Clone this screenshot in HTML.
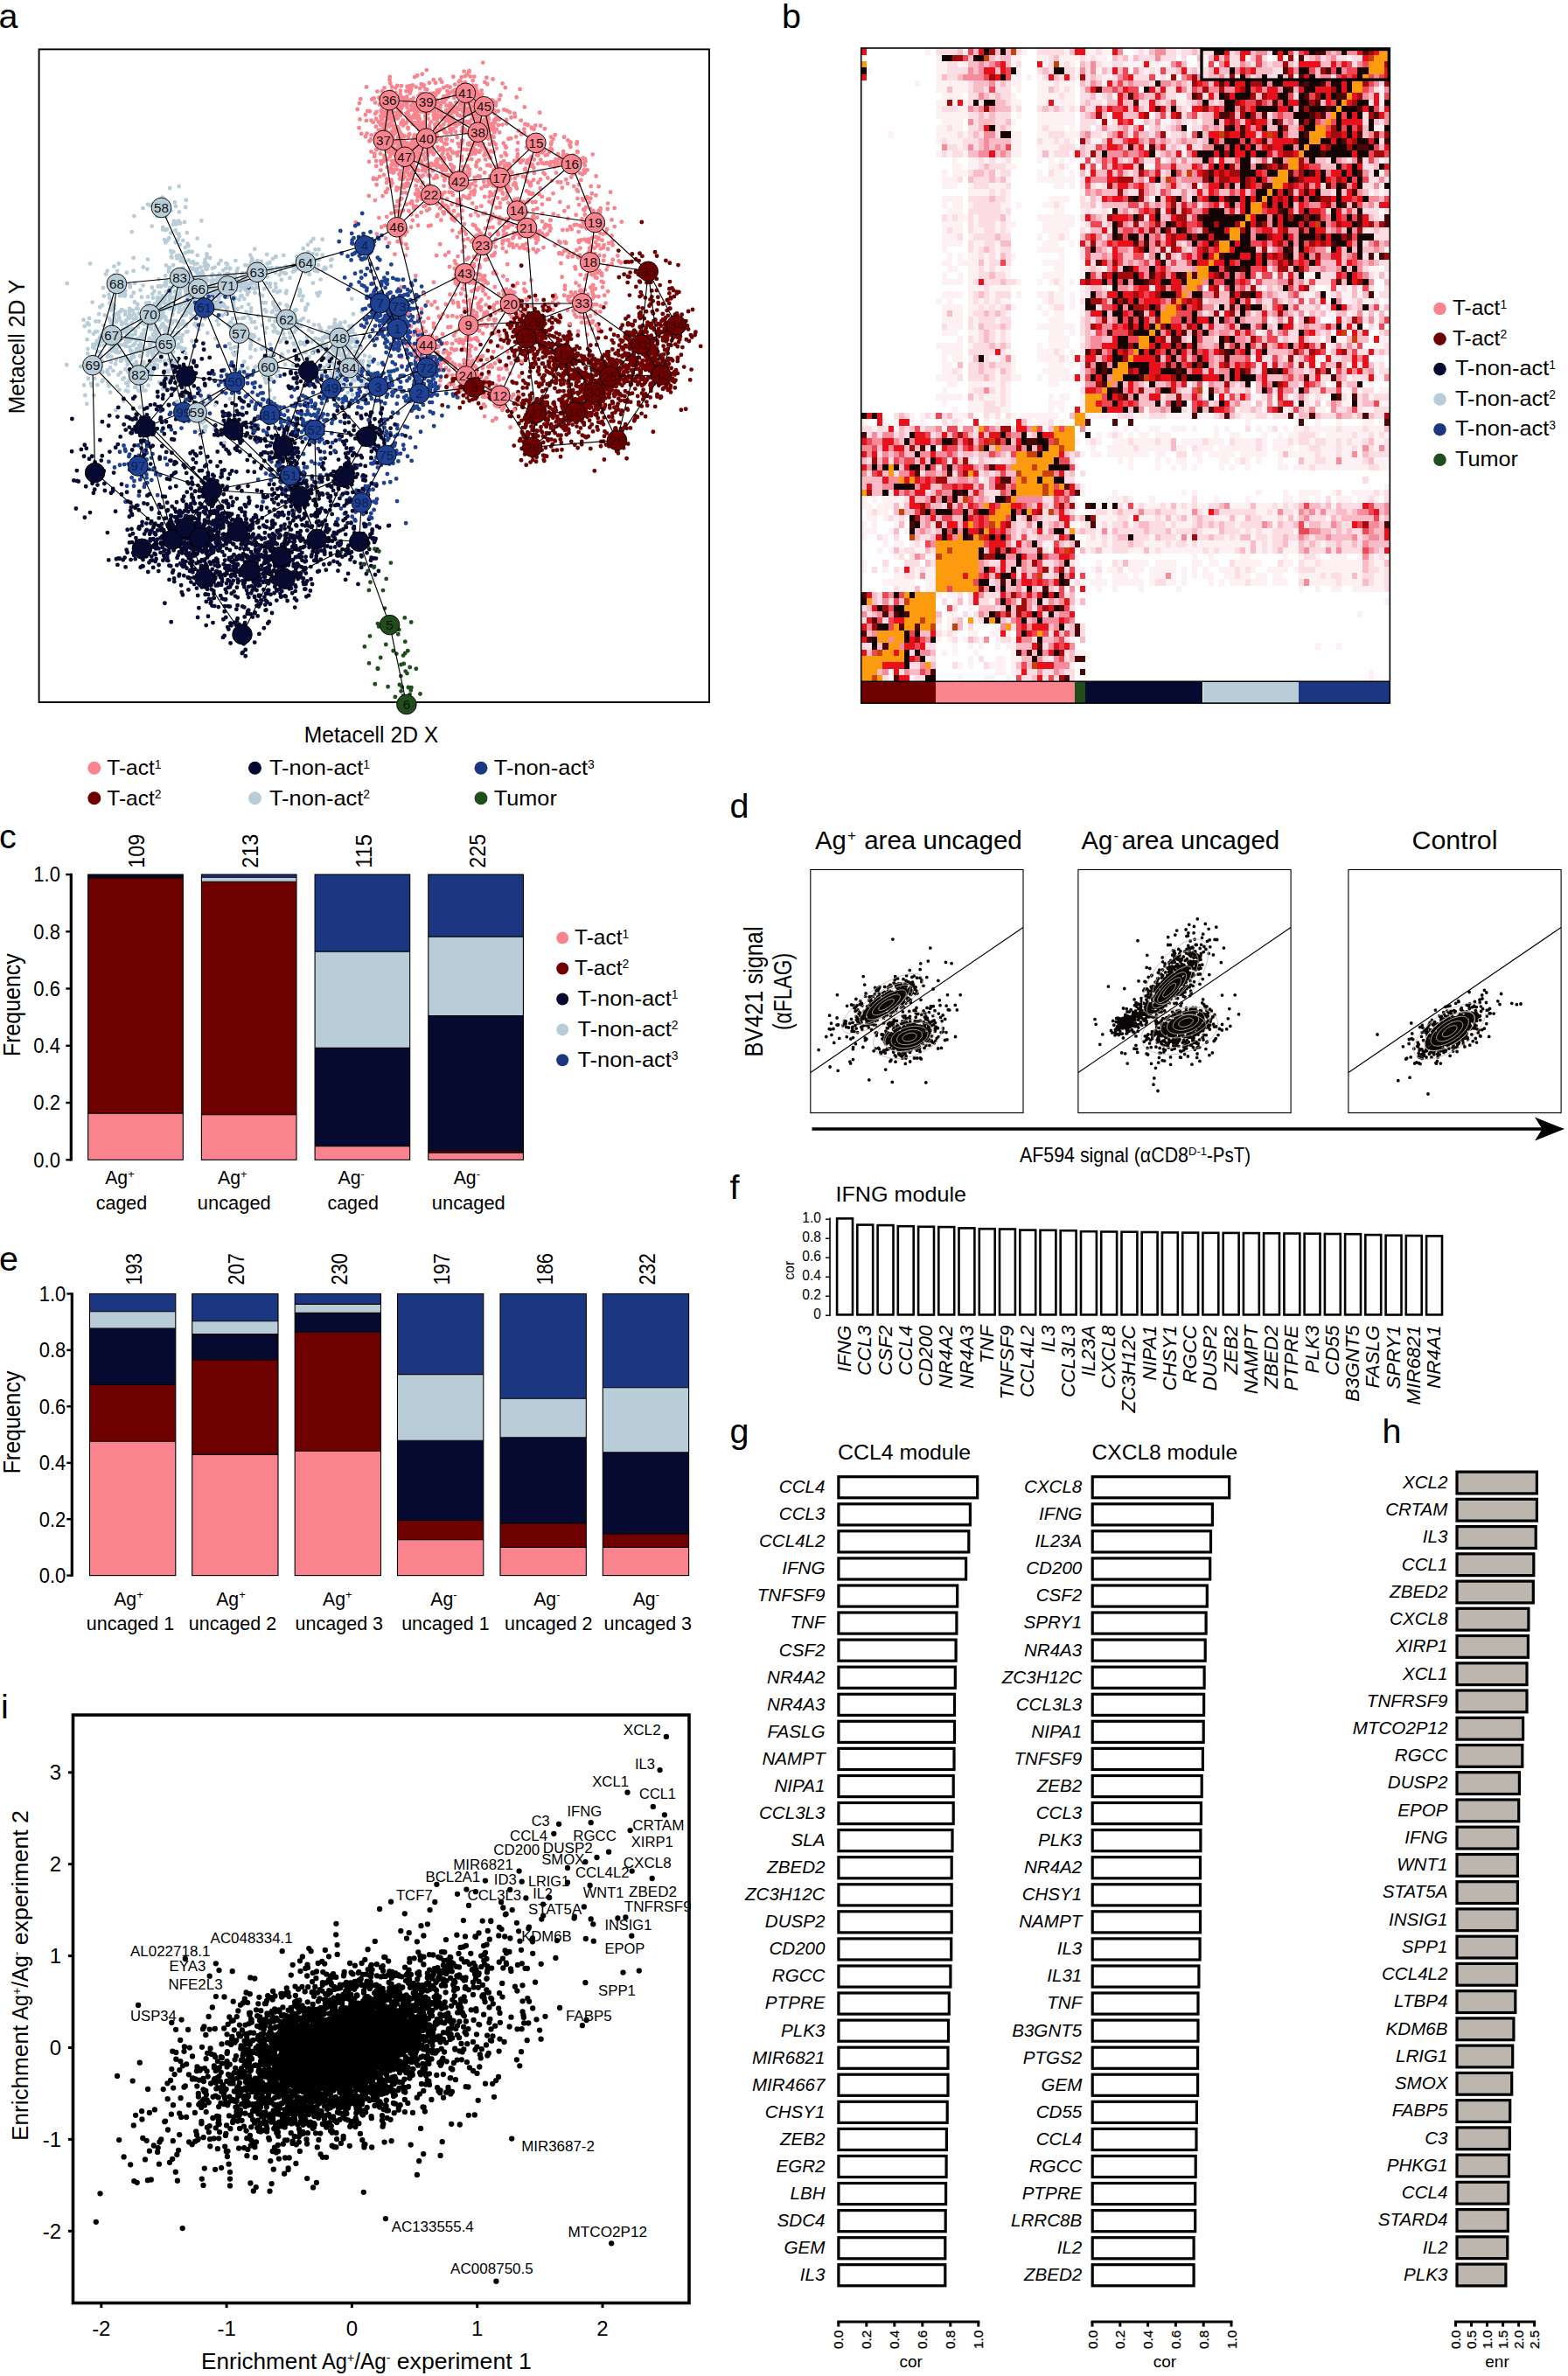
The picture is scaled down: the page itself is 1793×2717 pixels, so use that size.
<!DOCTYPE html>
<html><head><meta charset="utf-8"><title>Figure</title>
<style>html,body{margin:0;padding:0;background:#fff}svg{display:block}text{font-family:"Liberation Sans",sans-serif}</style>
</head><body>
<svg width="1793" height="2717" viewBox="0 0 1793 2717">
<rect width="1793" height="2717" fill="#fff"/>
<rect x="100.7" y="1273.1" width="108.6" height="53.2" fill="#f9848e"/>
<rect x="100.7" y="1003.9" width="108.6" height="269.2" fill="#6f0000"/>
<rect x="100.7" y="1001" width="108.6" height="2.9" fill="#070a30"/>
<rect x="100.7" y="1000" width="108.6" height="1" fill="#1b3781"/>
<g stroke="#000" stroke-width="1.1" fill="none">
<path d="M100.7 1273.1h108.6"/>
<path d="M100.7 1003.9h108.6"/>
<path d="M100.7 1001h108.6"/>
<rect x="100.7" y="1000" width="108.6" height="326.3"/></g>
<text transform="translate(165.4 992.8) rotate(-90)" font-size="26.5" textLength="38.9" lengthAdjust="spacingAndGlyphs">109</text>
<text x="137" y="1354.3" font-size="22" text-anchor="middle"><tspan textLength="26" lengthAdjust="spacingAndGlyphs">Ag</tspan><tspan font-size="13" dy="-7.5">+</tspan></text>
<text x="139" y="1382.8" font-size="22" text-anchor="middle" textLength="58.5" lengthAdjust="spacingAndGlyphs">caged</text>
<rect x="230.4" y="1274.7" width="108.6" height="51.6" fill="#f9848e"/>
<rect x="230.4" y="1008.2" width="108.6" height="266.6" fill="#6f0000"/>
<rect x="230.4" y="1003.3" width="108.6" height="4.9" fill="#b9cdd9"/>
<rect x="230.4" y="1000" width="108.6" height="3.3" fill="#1b3781"/>
<g stroke="#000" stroke-width="1.1" fill="none">
<path d="M230.4 1274.7h108.6"/>
<path d="M230.4 1008.2h108.6"/>
<path d="M230.4 1003.3h108.6"/>
<rect x="230.4" y="1000" width="108.6" height="326.3"/></g>
<text transform="translate(295.1 992.8) rotate(-90)" font-size="26.5" textLength="38.9" lengthAdjust="spacingAndGlyphs">213</text>
<text x="265.8" y="1354.3" font-size="22" text-anchor="middle"><tspan textLength="26" lengthAdjust="spacingAndGlyphs">Ag</tspan><tspan font-size="13" dy="-7.5">+</tspan></text>
<text x="267.8" y="1382.8" font-size="22" text-anchor="middle" textLength="84" lengthAdjust="spacingAndGlyphs">uncaged</text>
<rect x="360.1" y="1310.6" width="108.6" height="15.7" fill="#f9848e"/>
<rect x="360.1" y="1198.4" width="108.6" height="112.2" fill="#070a30"/>
<rect x="360.1" y="1088.1" width="108.6" height="110.3" fill="#b9cdd9"/>
<rect x="360.1" y="1000" width="108.6" height="88.1" fill="#1b3781"/>
<g stroke="#000" stroke-width="1.1" fill="none">
<path d="M360.1 1310.6h108.6"/>
<path d="M360.1 1198.4h108.6"/>
<path d="M360.1 1088.1h108.6"/>
<rect x="360.1" y="1000" width="108.6" height="326.3"/></g>
<text transform="translate(424.8 992.8) rotate(-90)" font-size="26.5" textLength="38.9" lengthAdjust="spacingAndGlyphs">115</text>
<text x="401.7" y="1354.3" font-size="22" text-anchor="middle"><tspan textLength="26" lengthAdjust="spacingAndGlyphs">Ag</tspan><tspan font-size="13" dy="-7.5">-</tspan></text>
<text x="403.7" y="1382.8" font-size="22" text-anchor="middle" textLength="58.5" lengthAdjust="spacingAndGlyphs">caged</text>
<rect x="489.8" y="1318.1" width="108.6" height="8.2" fill="#f9848e"/>
<rect x="489.8" y="1315.9" width="108.6" height="2.3" fill="#6f0000"/>
<rect x="489.8" y="1161.5" width="108.6" height="154.3" fill="#070a30"/>
<rect x="489.8" y="1071.1" width="108.6" height="90.4" fill="#b9cdd9"/>
<rect x="489.8" y="1000" width="108.6" height="71.1" fill="#1b3781"/>
<g stroke="#000" stroke-width="1.1" fill="none">
<path d="M489.8 1318.1h108.6"/>
<path d="M489.8 1315.9h108.6"/>
<path d="M489.8 1161.5h108.6"/>
<path d="M489.8 1071.1h108.6"/>
<rect x="489.8" y="1000" width="108.6" height="326.3"/></g>
<text transform="translate(554.5 992.8) rotate(-90)" font-size="26.5" textLength="38.9" lengthAdjust="spacingAndGlyphs">225</text>
<text x="533.8" y="1354.3" font-size="22" text-anchor="middle"><tspan textLength="26" lengthAdjust="spacingAndGlyphs">Ag</tspan><tspan font-size="13" dy="-7.5">-</tspan></text>
<text x="535.8" y="1382.8" font-size="22" text-anchor="middle" textLength="84" lengthAdjust="spacingAndGlyphs">uncaged</text>
<path d="M81.3 998.8V1327.5" stroke="#000" stroke-width="3.2" fill="none"/>
<path d="M75.3 1326.3h6" stroke="#000" stroke-width="2.4"/>
<text x="68.9" y="1334.6" font-size="23.4" text-anchor="end" textLength="30.6" lengthAdjust="spacingAndGlyphs">0.0</text>
<path d="M75.3 1261h6" stroke="#000" stroke-width="2.4"/>
<text x="68.9" y="1269.3" font-size="23.4" text-anchor="end" textLength="30.6" lengthAdjust="spacingAndGlyphs">0.2</text>
<path d="M75.3 1195.8h6" stroke="#000" stroke-width="2.4"/>
<text x="68.9" y="1204.1" font-size="23.4" text-anchor="end" textLength="30.6" lengthAdjust="spacingAndGlyphs">0.4</text>
<path d="M75.3 1130.5h6" stroke="#000" stroke-width="2.4"/>
<text x="68.9" y="1138.8" font-size="23.4" text-anchor="end" textLength="30.6" lengthAdjust="spacingAndGlyphs">0.6</text>
<path d="M75.3 1065.3h6" stroke="#000" stroke-width="2.4"/>
<text x="68.9" y="1073.6" font-size="23.4" text-anchor="end" textLength="30.6" lengthAdjust="spacingAndGlyphs">0.8</text>
<path d="M75.3 1000h6" stroke="#000" stroke-width="2.4"/>
<text x="68.9" y="1008.3" font-size="23.4" text-anchor="end" textLength="30.6" lengthAdjust="spacingAndGlyphs">1.0</text>
<text transform="translate(22.5 1149.2) rotate(-90)" font-size="28" text-anchor="middle" textLength="117.7" lengthAdjust="spacingAndGlyphs">Frequency</text>
<circle cx="643.2" cy="1072.6" r="7.0" fill="#f9848e"/>
<text x="657" y="1080" font-size="24"><tspan textLength="54.5" lengthAdjust="spacingAndGlyphs">T-act</tspan><tspan font-size="13.9" dy="-7.5">1</tspan></text>
<circle cx="643.2" cy="1107.5" r="7.0" fill="#6f0000"/>
<text x="657" y="1114.9" font-size="24"><tspan textLength="54.5" lengthAdjust="spacingAndGlyphs">T-act</tspan><tspan font-size="13.9" dy="-7.5">2</tspan></text>
<circle cx="643.2" cy="1142.5" r="7.0" fill="#070a30"/>
<text x="660.5" y="1149.9" font-size="24"><tspan textLength="107.3" lengthAdjust="spacingAndGlyphs">T-non-act</tspan><tspan font-size="13.9" dy="-7.5">1</tspan></text>
<circle cx="643.2" cy="1177.4" r="7.0" fill="#b9cdd9"/>
<text x="660.5" y="1184.8" font-size="24"><tspan textLength="107.3" lengthAdjust="spacingAndGlyphs">T-non-act</tspan><tspan font-size="13.9" dy="-7.5">2</tspan></text>
<circle cx="643.2" cy="1212.3" r="7.0" fill="#1b3781"/>
<text x="660.5" y="1219.7" font-size="24"><tspan textLength="107.3" lengthAdjust="spacingAndGlyphs">T-non-act</tspan><tspan font-size="13.9" dy="-7.5">3</tspan></text>
<rect x="102.5" y="1648.3" width="98.3" height="153.3" fill="#f9848e"/>
<rect x="102.5" y="1583.5" width="98.3" height="64.7" fill="#6f0000"/>
<rect x="102.5" y="1519.1" width="98.3" height="64.4" fill="#070a30"/>
<rect x="102.5" y="1499.8" width="98.3" height="19.3" fill="#b9cdd9"/>
<rect x="102.5" y="1479.5" width="98.3" height="20.3" fill="#1b3781"/>
<g stroke="#000" stroke-width="1.1" fill="none">
<path d="M102.5 1648.3h98.3"/>
<path d="M102.5 1583.5h98.3"/>
<path d="M102.5 1519.1h98.3"/>
<path d="M102.5 1499.8h98.3"/>
<rect x="102.5" y="1479.5" width="98.3" height="322.1"/></g>
<text transform="translate(162.1 1469.5) rotate(-90)" font-size="25" textLength="36.4" lengthAdjust="spacingAndGlyphs">193</text>
<text x="147" y="1835.6" font-size="22" text-anchor="middle"><tspan textLength="26" lengthAdjust="spacingAndGlyphs">Ag</tspan><tspan font-size="13" dy="-7.5">+</tspan></text>
<text x="149" y="1864.4" font-size="22" text-anchor="middle" textLength="100.5" lengthAdjust="spacingAndGlyphs">uncaged 1</text>
<rect x="219.7" y="1663.4" width="98.3" height="138.2" fill="#f9848e"/>
<rect x="219.7" y="1554.9" width="98.3" height="108.5" fill="#6f0000"/>
<rect x="219.7" y="1525.6" width="98.3" height="29.3" fill="#070a30"/>
<rect x="219.7" y="1510.7" width="98.3" height="14.8" fill="#b9cdd9"/>
<rect x="219.7" y="1479.5" width="98.3" height="31.2" fill="#1b3781"/>
<g stroke="#000" stroke-width="1.1" fill="none">
<path d="M219.7 1663.4h98.3"/>
<path d="M219.7 1554.9h98.3"/>
<path d="M219.7 1525.6h98.3"/>
<path d="M219.7 1510.7h98.3"/>
<rect x="219.7" y="1479.5" width="98.3" height="322.1"/></g>
<text transform="translate(279.2 1469.5) rotate(-90)" font-size="25" textLength="36.4" lengthAdjust="spacingAndGlyphs">207</text>
<text x="264" y="1835.6" font-size="22" text-anchor="middle"><tspan textLength="26" lengthAdjust="spacingAndGlyphs">Ag</tspan><tspan font-size="13" dy="-7.5">+</tspan></text>
<text x="266" y="1864.4" font-size="22" text-anchor="middle" textLength="100.5" lengthAdjust="spacingAndGlyphs">uncaged 2</text>
<rect x="337.2" y="1659.2" width="98.3" height="142.4" fill="#f9848e"/>
<rect x="337.2" y="1523.3" width="98.3" height="135.9" fill="#6f0000"/>
<rect x="337.2" y="1501.4" width="98.3" height="21.9" fill="#070a30"/>
<rect x="337.2" y="1491.4" width="98.3" height="10" fill="#b9cdd9"/>
<rect x="337.2" y="1479.5" width="98.3" height="11.9" fill="#1b3781"/>
<g stroke="#000" stroke-width="1.1" fill="none">
<path d="M337.2 1659.2h98.3"/>
<path d="M337.2 1523.3h98.3"/>
<path d="M337.2 1501.4h98.3"/>
<path d="M337.2 1491.4h98.3"/>
<rect x="337.2" y="1479.5" width="98.3" height="322.1"/></g>
<text transform="translate(396.7 1469.5) rotate(-90)" font-size="25" textLength="36.4" lengthAdjust="spacingAndGlyphs">230</text>
<text x="385.8" y="1835.6" font-size="22" text-anchor="middle"><tspan textLength="26" lengthAdjust="spacingAndGlyphs">Ag</tspan><tspan font-size="13" dy="-7.5">+</tspan></text>
<text x="387.8" y="1864.4" font-size="22" text-anchor="middle" textLength="100.5" lengthAdjust="spacingAndGlyphs">uncaged 3</text>
<rect x="454.5" y="1760.7" width="98.3" height="40.9" fill="#f9848e"/>
<rect x="454.5" y="1738.5" width="98.3" height="22.2" fill="#6f0000"/>
<rect x="454.5" y="1647.3" width="98.3" height="91.2" fill="#070a30"/>
<rect x="454.5" y="1571.6" width="98.3" height="75.7" fill="#b9cdd9"/>
<rect x="454.5" y="1479.5" width="98.3" height="92.1" fill="#1b3781"/>
<g stroke="#000" stroke-width="1.1" fill="none">
<path d="M454.5 1760.7h98.3"/>
<path d="M454.5 1738.5h98.3"/>
<path d="M454.5 1647.3h98.3"/>
<path d="M454.5 1571.6h98.3"/>
<rect x="454.5" y="1479.5" width="98.3" height="322.1"/></g>
<text transform="translate(514 1469.5) rotate(-90)" font-size="25" textLength="36.4" lengthAdjust="spacingAndGlyphs">197</text>
<text x="507.4" y="1835.6" font-size="22" text-anchor="middle"><tspan textLength="26" lengthAdjust="spacingAndGlyphs">Ag</tspan><tspan font-size="13" dy="-7.5">-</tspan></text>
<text x="509.4" y="1864.4" font-size="22" text-anchor="middle" textLength="100.5" lengthAdjust="spacingAndGlyphs">uncaged 1</text>
<rect x="572" y="1769.4" width="98.3" height="32.2" fill="#f9848e"/>
<rect x="572" y="1742" width="98.3" height="27.4" fill="#6f0000"/>
<rect x="572" y="1643.8" width="98.3" height="98.2" fill="#070a30"/>
<rect x="572" y="1599.3" width="98.3" height="44.4" fill="#b9cdd9"/>
<rect x="572" y="1479.5" width="98.3" height="119.8" fill="#1b3781"/>
<g stroke="#000" stroke-width="1.1" fill="none">
<path d="M572 1769.4h98.3"/>
<path d="M572 1742h98.3"/>
<path d="M572 1643.8h98.3"/>
<path d="M572 1599.3h98.3"/>
<rect x="572" y="1479.5" width="98.3" height="322.1"/></g>
<text transform="translate(631.5 1469.5) rotate(-90)" font-size="25" textLength="36.4" lengthAdjust="spacingAndGlyphs">186</text>
<text x="625.3" y="1835.6" font-size="22" text-anchor="middle"><tspan textLength="26" lengthAdjust="spacingAndGlyphs">Ag</tspan><tspan font-size="13" dy="-7.5">-</tspan></text>
<text x="627.3" y="1864.4" font-size="22" text-anchor="middle" textLength="100.5" lengthAdjust="spacingAndGlyphs">uncaged 2</text>
<rect x="689.3" y="1769.4" width="98.3" height="32.2" fill="#f9848e"/>
<rect x="689.3" y="1753.9" width="98.3" height="15.5" fill="#6f0000"/>
<rect x="689.3" y="1660.8" width="98.3" height="93.1" fill="#070a30"/>
<rect x="689.3" y="1586.8" width="98.3" height="74.1" fill="#b9cdd9"/>
<rect x="689.3" y="1479.5" width="98.3" height="107.3" fill="#1b3781"/>
<g stroke="#000" stroke-width="1.1" fill="none">
<path d="M689.3 1769.4h98.3"/>
<path d="M689.3 1753.9h98.3"/>
<path d="M689.3 1660.8h98.3"/>
<path d="M689.3 1586.8h98.3"/>
<rect x="689.3" y="1479.5" width="98.3" height="322.1"/></g>
<text transform="translate(748.8 1469.5) rotate(-90)" font-size="25" textLength="36.4" lengthAdjust="spacingAndGlyphs">232</text>
<text x="738.8" y="1835.6" font-size="22" text-anchor="middle"><tspan textLength="26" lengthAdjust="spacingAndGlyphs">Ag</tspan><tspan font-size="13" dy="-7.5">-</tspan></text>
<text x="740.8" y="1864.4" font-size="22" text-anchor="middle" textLength="100.5" lengthAdjust="spacingAndGlyphs">uncaged 3</text>
<path d="M82.3 1478.3V1802.8" stroke="#000" stroke-width="3.2" fill="none"/>
<path d="M76.3 1801.6h6" stroke="#000" stroke-width="2.4"/>
<text x="75.3" y="1809.9" font-size="23.4" text-anchor="end" textLength="30.6" lengthAdjust="spacingAndGlyphs">0.0</text>
<path d="M76.3 1737.2h6" stroke="#000" stroke-width="2.4"/>
<text x="75.3" y="1745.5" font-size="23.4" text-anchor="end" textLength="30.6" lengthAdjust="spacingAndGlyphs">0.2</text>
<path d="M76.3 1672.8h6" stroke="#000" stroke-width="2.4"/>
<text x="75.3" y="1681.1" font-size="23.4" text-anchor="end" textLength="30.6" lengthAdjust="spacingAndGlyphs">0.4</text>
<path d="M76.3 1608.3h6" stroke="#000" stroke-width="2.4"/>
<text x="75.3" y="1616.6" font-size="23.4" text-anchor="end" textLength="30.6" lengthAdjust="spacingAndGlyphs">0.6</text>
<path d="M76.3 1543.9h6" stroke="#000" stroke-width="2.4"/>
<text x="75.3" y="1552.2" font-size="23.4" text-anchor="end" textLength="30.6" lengthAdjust="spacingAndGlyphs">0.8</text>
<path d="M76.3 1479.5h6" stroke="#000" stroke-width="2.4"/>
<text x="75.3" y="1487.8" font-size="23.4" text-anchor="end" textLength="30.6" lengthAdjust="spacingAndGlyphs">1.0</text>
<text transform="translate(22.5 1626.5) rotate(-90)" font-size="28" text-anchor="middle" textLength="117.7" lengthAdjust="spacingAndGlyphs">Frequency</text>
<g fill="#fff" stroke="#000" stroke-width="2.6">
<rect x="957.1" y="1393.4" width="17.9" height="110"/>
<rect x="980.3" y="1400.6" width="17.9" height="102.8"/>
<rect x="1003.6" y="1401.1" width="17.9" height="102.3"/>
<rect x="1026.8" y="1402.2" width="17.9" height="101.2"/>
<rect x="1050.1" y="1402.8" width="17.9" height="100.7"/>
<rect x="1073.3" y="1403.1" width="17.9" height="100.3"/>
<rect x="1096.5" y="1404.4" width="17.9" height="99"/>
<rect x="1119.8" y="1405.2" width="17.9" height="98.2"/>
<rect x="1143" y="1405.5" width="17.9" height="97.9"/>
<rect x="1166.3" y="1406.6" width="17.9" height="96.8"/>
<rect x="1189.5" y="1406.8" width="17.9" height="96.6"/>
<rect x="1212.7" y="1407.2" width="17.9" height="96.2"/>
<rect x="1236" y="1408.2" width="17.9" height="95.2"/>
<rect x="1259.2" y="1408.5" width="17.9" height="94.9"/>
<rect x="1282.5" y="1408.7" width="17.9" height="94.7"/>
<rect x="1305.7" y="1409" width="17.9" height="94.4"/>
<rect x="1328.9" y="1409.4" width="17.9" height="94"/>
<rect x="1352.2" y="1409.6" width="17.9" height="93.8"/>
<rect x="1375.4" y="1409.8" width="17.9" height="93.6"/>
<rect x="1398.7" y="1409.9" width="17.9" height="93.5"/>
<rect x="1421.9" y="1410.1" width="17.9" height="93.3"/>
<rect x="1445.1" y="1410.3" width="17.9" height="93.1"/>
<rect x="1468.4" y="1410.5" width="17.9" height="93"/>
<rect x="1491.6" y="1410.7" width="17.9" height="92.7"/>
<rect x="1514.9" y="1411" width="17.9" height="92.4"/>
<rect x="1538.1" y="1411.2" width="17.9" height="92.2"/>
<rect x="1561.3" y="1412.1" width="17.9" height="91.3"/>
<rect x="1584.6" y="1412.7" width="17.9" height="90.8"/>
<rect x="1607.8" y="1413" width="17.9" height="90.4"/>
<rect x="1631.1" y="1413.4" width="17.9" height="90"/>
</g>
<text transform="translate(973.1 1515.5) rotate(-90)" font-size="22.5" text-anchor="end" font-style="italic">IFNG</text>
<text transform="translate(996.3 1515.5) rotate(-90)" font-size="22.5" text-anchor="end" font-style="italic">CCL3</text>
<text transform="translate(1019.5 1515.5) rotate(-90)" font-size="22.5" text-anchor="end" font-style="italic">CSF2</text>
<text transform="translate(1042.8 1515.5) rotate(-90)" font-size="22.5" text-anchor="end" font-style="italic">CCL4</text>
<text transform="translate(1066 1515.5) rotate(-90)" font-size="22.5" text-anchor="end" font-style="italic">CD200</text>
<text transform="translate(1089.2 1515.5) rotate(-90)" font-size="22.5" text-anchor="end" font-style="italic">NR4A2</text>
<text transform="translate(1112.5 1515.5) rotate(-90)" font-size="22.5" text-anchor="end" font-style="italic">NR4A3</text>
<text transform="translate(1135.7 1515.5) rotate(-90)" font-size="22.5" text-anchor="end" font-style="italic">TNF</text>
<text transform="translate(1159 1515.5) rotate(-90)" font-size="22.5" text-anchor="end" font-style="italic">TNFSF9</text>
<text transform="translate(1182.2 1515.5) rotate(-90)" font-size="22.5" text-anchor="end" font-style="italic">CCL4L2</text>
<text transform="translate(1205.5 1515.5) rotate(-90)" font-size="22.5" text-anchor="end" font-style="italic">IL3</text>
<text transform="translate(1228.7 1515.5) rotate(-90)" font-size="22.5" text-anchor="end" font-style="italic">CCL3L3</text>
<text transform="translate(1251.9 1515.5) rotate(-90)" font-size="22.5" text-anchor="end" font-style="italic">IL23A</text>
<text transform="translate(1275.2 1515.5) rotate(-90)" font-size="22.5" text-anchor="end" font-style="italic">CXCL8</text>
<text transform="translate(1298.4 1515.5) rotate(-90)" font-size="22.5" text-anchor="end" font-style="italic">ZC3H12C</text>
<text transform="translate(1321.7 1515.5) rotate(-90)" font-size="22.5" text-anchor="end" font-style="italic">NIPA1</text>
<text transform="translate(1344.9 1515.5) rotate(-90)" font-size="22.5" text-anchor="end" font-style="italic">CHSY1</text>
<text transform="translate(1368.1 1515.5) rotate(-90)" font-size="22.5" text-anchor="end" font-style="italic">RGCC</text>
<text transform="translate(1391.4 1515.5) rotate(-90)" font-size="22.5" text-anchor="end" font-style="italic">DUSP2</text>
<text transform="translate(1414.6 1515.5) rotate(-90)" font-size="22.5" text-anchor="end" font-style="italic">ZEB2</text>
<text transform="translate(1437.9 1515.5) rotate(-90)" font-size="22.5" text-anchor="end" font-style="italic">NAMPT</text>
<text transform="translate(1461.1 1515.5) rotate(-90)" font-size="22.5" text-anchor="end" font-style="italic">ZBED2</text>
<text transform="translate(1484.3 1515.5) rotate(-90)" font-size="22.5" text-anchor="end" font-style="italic">PTPRE</text>
<text transform="translate(1507.6 1515.5) rotate(-90)" font-size="22.5" text-anchor="end" font-style="italic">PLK3</text>
<text transform="translate(1530.8 1515.5) rotate(-90)" font-size="22.5" text-anchor="end" font-style="italic">CD55</text>
<text transform="translate(1554 1515.5) rotate(-90)" font-size="22.5" text-anchor="end" font-style="italic">B3GNT5</text>
<text transform="translate(1577.3 1515.5) rotate(-90)" font-size="22.5" text-anchor="end" font-style="italic">FASLG</text>
<text transform="translate(1600.5 1515.5) rotate(-90)" font-size="22.5" text-anchor="end" font-style="italic">SPRY1</text>
<text transform="translate(1623.8 1515.5) rotate(-90)" font-size="22.5" text-anchor="end" font-style="italic">MIR6821</text>
<text transform="translate(1647 1515.5) rotate(-90)" font-size="22.5" text-anchor="end" font-style="italic">NR4A1</text>
<path d="M949 1392.4V1504.9" stroke="#000" stroke-width="1.6" fill="none"/>
<path d="M944 1504.2h5" stroke="#000" stroke-width="1.4"/>
<text x="939" y="1507.6" font-size="15.6" text-anchor="end">0</text>
<path d="M944 1482.2h5" stroke="#000" stroke-width="1.4"/>
<text x="939" y="1485.6" font-size="15.6" text-anchor="end">0.2</text>
<path d="M944 1460.2h5" stroke="#000" stroke-width="1.4"/>
<text x="939" y="1463.6" font-size="15.6" text-anchor="end">0.4</text>
<path d="M944 1438.2h5" stroke="#000" stroke-width="1.4"/>
<text x="939" y="1441.6" font-size="15.6" text-anchor="end">0.6</text>
<path d="M944 1416.2h5" stroke="#000" stroke-width="1.4"/>
<text x="939" y="1419.6" font-size="15.6" text-anchor="end">0.8</text>
<path d="M944 1394.2h5" stroke="#000" stroke-width="1.4"/>
<text x="939" y="1397.6" font-size="15.6" text-anchor="end">1.0</text>
<text transform="translate(907.5 1452.6) rotate(-90)" font-size="15.6" text-anchor="middle">cor</text>
<text x="955.5" y="1374.3" font-size="24.5" textLength="149.5" lengthAdjust="spacingAndGlyphs">IFNG module</text>
<g fill="#fff" stroke="#000" stroke-width="3.2">
<rect x="958.9" y="1688.7" width="158.8" height="24.1"/>
<rect x="958.9" y="1719.8" width="150.5" height="24.1"/>
<rect x="958.9" y="1750.8" width="148.9" height="24.1"/>
<rect x="958.9" y="1781.9" width="145.7" height="24.1"/>
<rect x="958.9" y="1813" width="135.8" height="24.1"/>
<rect x="958.9" y="1844" width="135" height="24.1"/>
<rect x="958.9" y="1875.1" width="134.2" height="24.1"/>
<rect x="958.9" y="1906.2" width="133.4" height="24.1"/>
<rect x="958.9" y="1937.3" width="132.6" height="24.1"/>
<rect x="958.9" y="1968.3" width="132.6" height="24.1"/>
<rect x="958.9" y="1999.4" width="132.1" height="24.1"/>
<rect x="958.9" y="2030.5" width="131.3" height="24.1"/>
<rect x="958.9" y="2061.5" width="131.3" height="24.1"/>
<rect x="958.9" y="2092.6" width="130.1" height="24.1"/>
<rect x="958.9" y="2123.7" width="129.3" height="24.1"/>
<rect x="958.9" y="2154.8" width="129.3" height="24.1"/>
<rect x="958.9" y="2185.8" width="129.3" height="24.1"/>
<rect x="958.9" y="2216.9" width="128.8" height="24.1"/>
<rect x="958.9" y="2248" width="128" height="24.1"/>
<rect x="958.9" y="2279" width="126.4" height="24.1"/>
<rect x="958.9" y="2310.1" width="125.6" height="24.1"/>
<rect x="958.9" y="2341.2" width="125.1" height="24.1"/>
<rect x="958.9" y="2372.2" width="125.1" height="24.1"/>
<rect x="958.9" y="2403.3" width="124.3" height="24.1"/>
<rect x="958.9" y="2434.4" width="123.5" height="24.1"/>
<rect x="958.9" y="2465.4" width="123.2" height="24.1"/>
<rect x="958.9" y="2496.5" width="122.7" height="24.1"/>
<rect x="958.9" y="2527.6" width="122.3" height="24.1"/>
<rect x="958.9" y="2558.7" width="121.9" height="24.1"/>
<rect x="958.9" y="2589.7" width="121.9" height="24.1"/>
</g>
<text x="943.5" y="1707" font-size="20.6" text-anchor="end" font-style="italic">CCL4</text>
<text x="943.5" y="1738.1" font-size="20.6" text-anchor="end" font-style="italic">CCL3</text>
<text x="943.5" y="1769.2" font-size="20.6" text-anchor="end" font-style="italic">CCL4L2</text>
<text x="943.5" y="1800.3" font-size="20.6" text-anchor="end" font-style="italic">IFNG</text>
<text x="943.5" y="1831.3" font-size="20.6" text-anchor="end" font-style="italic">TNFSF9</text>
<text x="943.5" y="1862.4" font-size="20.6" text-anchor="end" font-style="italic">TNF</text>
<text x="943.5" y="1893.5" font-size="20.6" text-anchor="end" font-style="italic">CSF2</text>
<text x="943.5" y="1924.5" font-size="20.6" text-anchor="end" font-style="italic">NR4A2</text>
<text x="943.5" y="1955.6" font-size="20.6" text-anchor="end" font-style="italic">NR4A3</text>
<text x="943.5" y="1986.7" font-size="20.6" text-anchor="end" font-style="italic">FASLG</text>
<text x="943.5" y="2017.8" font-size="20.6" text-anchor="end" font-style="italic">NAMPT</text>
<text x="943.5" y="2048.8" font-size="20.6" text-anchor="end" font-style="italic">NIPA1</text>
<text x="943.5" y="2079.9" font-size="20.6" text-anchor="end" font-style="italic">CCL3L3</text>
<text x="943.5" y="2111" font-size="20.6" text-anchor="end" font-style="italic">SLA</text>
<text x="943.5" y="2142" font-size="20.6" text-anchor="end" font-style="italic">ZBED2</text>
<text x="943.5" y="2173.1" font-size="20.6" text-anchor="end" font-style="italic">ZC3H12C</text>
<text x="943.5" y="2204.2" font-size="20.6" text-anchor="end" font-style="italic">DUSP2</text>
<text x="943.5" y="2235.2" font-size="20.6" text-anchor="end" font-style="italic">CD200</text>
<text x="943.5" y="2266.3" font-size="20.6" text-anchor="end" font-style="italic">RGCC</text>
<text x="943.5" y="2297.4" font-size="20.6" text-anchor="end" font-style="italic">PTPRE</text>
<text x="943.5" y="2328.5" font-size="20.6" text-anchor="end" font-style="italic">PLK3</text>
<text x="943.5" y="2359.5" font-size="20.6" text-anchor="end" font-style="italic">MIR6821</text>
<text x="943.5" y="2390.6" font-size="20.6" text-anchor="end" font-style="italic">MIR4667</text>
<text x="943.5" y="2421.7" font-size="20.6" text-anchor="end" font-style="italic">CHSY1</text>
<text x="943.5" y="2452.7" font-size="20.6" text-anchor="end" font-style="italic">ZEB2</text>
<text x="943.5" y="2483.8" font-size="20.6" text-anchor="end" font-style="italic">EGR2</text>
<text x="943.5" y="2514.9" font-size="20.6" text-anchor="end" font-style="italic">LBH</text>
<text x="943.5" y="2545.9" font-size="20.6" text-anchor="end" font-style="italic">SDC4</text>
<text x="943.5" y="2577" font-size="20.6" text-anchor="end" font-style="italic">GEM</text>
<text x="943.5" y="2608.1" font-size="20.6" text-anchor="end" font-style="italic">IL3</text>
<g fill="#fff" stroke="#000" stroke-width="3.2">
<rect x="1249.2" y="1688.7" width="156.5" height="24.1"/>
<rect x="1249.2" y="1719.8" width="137.2" height="24.1"/>
<rect x="1249.2" y="1750.8" width="135.3" height="24.1"/>
<rect x="1249.2" y="1781.9" width="134.5" height="24.1"/>
<rect x="1249.2" y="1813" width="131.1" height="24.1"/>
<rect x="1249.2" y="1844" width="129.9" height="24.1"/>
<rect x="1249.2" y="1875.1" width="129" height="24.1"/>
<rect x="1249.2" y="1906.2" width="127.9" height="24.1"/>
<rect x="1249.2" y="1937.3" width="127.4" height="24.1"/>
<rect x="1249.2" y="1968.3" width="127" height="24.1"/>
<rect x="1249.2" y="1999.4" width="126.2" height="24.1"/>
<rect x="1249.2" y="2030.5" width="125" height="24.1"/>
<rect x="1249.2" y="2061.5" width="124.2" height="24.1"/>
<rect x="1249.2" y="2092.6" width="123.7" height="24.1"/>
<rect x="1249.2" y="2123.7" width="123.3" height="24.1"/>
<rect x="1249.2" y="2154.8" width="123.3" height="24.1"/>
<rect x="1249.2" y="2185.8" width="123.3" height="24.1"/>
<rect x="1249.2" y="2216.9" width="122.9" height="24.1"/>
<rect x="1249.2" y="2248" width="121.7" height="24.1"/>
<rect x="1249.2" y="2279" width="120.8" height="24.1"/>
<rect x="1249.2" y="2310.1" width="120.8" height="24.1"/>
<rect x="1249.2" y="2341.2" width="120.4" height="24.1"/>
<rect x="1249.2" y="2372.2" width="120.4" height="24.1"/>
<rect x="1249.2" y="2403.3" width="119.2" height="24.1"/>
<rect x="1249.2" y="2434.4" width="118.8" height="24.1"/>
<rect x="1249.2" y="2465.4" width="118" height="24.1"/>
<rect x="1249.2" y="2496.5" width="117.5" height="24.1"/>
<rect x="1249.2" y="2527.6" width="117.5" height="24.1"/>
<rect x="1249.2" y="2558.7" width="115.9" height="24.1"/>
<rect x="1249.2" y="2589.7" width="115.9" height="24.1"/>
</g>
<text x="1237.3" y="1707" font-size="20.6" text-anchor="end" font-style="italic">CXCL8</text>
<text x="1237.3" y="1738.1" font-size="20.6" text-anchor="end" font-style="italic">IFNG</text>
<text x="1237.3" y="1769.2" font-size="20.6" text-anchor="end" font-style="italic">IL23A</text>
<text x="1237.3" y="1800.3" font-size="20.6" text-anchor="end" font-style="italic">CD200</text>
<text x="1237.3" y="1831.3" font-size="20.6" text-anchor="end" font-style="italic">CSF2</text>
<text x="1237.3" y="1862.4" font-size="20.6" text-anchor="end" font-style="italic">SPRY1</text>
<text x="1237.3" y="1893.5" font-size="20.6" text-anchor="end" font-style="italic">NR4A3</text>
<text x="1237.3" y="1924.5" font-size="20.6" text-anchor="end" font-style="italic">ZC3H12C</text>
<text x="1237.3" y="1955.6" font-size="20.6" text-anchor="end" font-style="italic">CCL3L3</text>
<text x="1237.3" y="1986.7" font-size="20.6" text-anchor="end" font-style="italic">NIPA1</text>
<text x="1237.3" y="2017.8" font-size="20.6" text-anchor="end" font-style="italic">TNFSF9</text>
<text x="1237.3" y="2048.8" font-size="20.6" text-anchor="end" font-style="italic">ZEB2</text>
<text x="1237.3" y="2079.9" font-size="20.6" text-anchor="end" font-style="italic">CCL3</text>
<text x="1237.3" y="2111" font-size="20.6" text-anchor="end" font-style="italic">PLK3</text>
<text x="1237.3" y="2142" font-size="20.6" text-anchor="end" font-style="italic">NR4A2</text>
<text x="1237.3" y="2173.1" font-size="20.6" text-anchor="end" font-style="italic">CHSY1</text>
<text x="1237.3" y="2204.2" font-size="20.6" text-anchor="end" font-style="italic">NAMPT</text>
<text x="1237.3" y="2235.2" font-size="20.6" text-anchor="end" font-style="italic">IL3</text>
<text x="1237.3" y="2266.3" font-size="20.6" text-anchor="end" font-style="italic">IL31</text>
<text x="1237.3" y="2297.4" font-size="20.6" text-anchor="end" font-style="italic">TNF</text>
<text x="1237.3" y="2328.5" font-size="20.6" text-anchor="end" font-style="italic">B3GNT5</text>
<text x="1237.3" y="2359.5" font-size="20.6" text-anchor="end" font-style="italic">PTGS2</text>
<text x="1237.3" y="2390.6" font-size="20.6" text-anchor="end" font-style="italic">GEM</text>
<text x="1237.3" y="2421.7" font-size="20.6" text-anchor="end" font-style="italic">CD55</text>
<text x="1237.3" y="2452.7" font-size="20.6" text-anchor="end" font-style="italic">CCL4</text>
<text x="1237.3" y="2483.8" font-size="20.6" text-anchor="end" font-style="italic">RGCC</text>
<text x="1237.3" y="2514.9" font-size="20.6" text-anchor="end" font-style="italic">PTPRE</text>
<text x="1237.3" y="2545.9" font-size="20.6" text-anchor="end" font-style="italic">LRRC8B</text>
<text x="1237.3" y="2577" font-size="20.6" text-anchor="end" font-style="italic">IL2</text>
<text x="1237.3" y="2608.1" font-size="20.6" text-anchor="end" font-style="italic">ZBED2</text>
<g fill="#bdb6af" stroke="#000" stroke-width="3.2">
<rect x="1666" y="1683.1" width="91.4" height="24.8"/>
<rect x="1666" y="1714.3" width="91.4" height="24.8"/>
<rect x="1666" y="1745.6" width="90.2" height="24.8"/>
<rect x="1666" y="1776.8" width="87.8" height="24.8"/>
<rect x="1666" y="1808.1" width="87.3" height="24.8"/>
<rect x="1666" y="1839.3" width="81.9" height="24.8"/>
<rect x="1666" y="1870.5" width="81.4" height="24.8"/>
<rect x="1666" y="1901.8" width="80" height="24.8"/>
<rect x="1666" y="1933" width="80" height="24.8"/>
<rect x="1666" y="1964.3" width="75.6" height="24.8"/>
<rect x="1666" y="1995.5" width="74.8" height="24.8"/>
<rect x="1666" y="2026.7" width="71.4" height="24.8"/>
<rect x="1666" y="2058" width="70.7" height="24.8"/>
<rect x="1666" y="2089.2" width="69.7" height="24.8"/>
<rect x="1666" y="2120.5" width="69.4" height="24.8"/>
<rect x="1666" y="2151.7" width="69.4" height="24.8"/>
<rect x="1666" y="2182.9" width="69.2" height="24.8"/>
<rect x="1666" y="2214.2" width="68.5" height="24.8"/>
<rect x="1666" y="2245.4" width="68.5" height="24.8"/>
<rect x="1666" y="2276.7" width="66.8" height="24.8"/>
<rect x="1666" y="2307.9" width="64.9" height="24.8"/>
<rect x="1666" y="2339.1" width="63.7" height="24.8"/>
<rect x="1666" y="2370.4" width="62.7" height="24.8"/>
<rect x="1666" y="2401.6" width="60.7" height="24.8"/>
<rect x="1666" y="2432.9" width="60.3" height="24.8"/>
<rect x="1666" y="2464.1" width="59.5" height="24.8"/>
<rect x="1666" y="2495.3" width="58.8" height="24.8"/>
<rect x="1666" y="2526.6" width="58.3" height="24.8"/>
<rect x="1666" y="2557.8" width="57.8" height="24.8"/>
<rect x="1666" y="2589.1" width="55.9" height="24.8"/>
</g>
<text x="1655.5" y="1701.8" font-size="20.6" text-anchor="end" font-style="italic">XCL2</text>
<text x="1655.5" y="1733" font-size="20.6" text-anchor="end" font-style="italic">CRTAM</text>
<text x="1655.5" y="1764.3" font-size="20.6" text-anchor="end" font-style="italic">IL3</text>
<text x="1655.5" y="1795.5" font-size="20.6" text-anchor="end" font-style="italic">CCL1</text>
<text x="1655.5" y="1826.8" font-size="20.6" text-anchor="end" font-style="italic">ZBED2</text>
<text x="1655.5" y="1858" font-size="20.6" text-anchor="end" font-style="italic">CXCL8</text>
<text x="1655.5" y="1889.2" font-size="20.6" text-anchor="end" font-style="italic">XIRP1</text>
<text x="1655.5" y="1920.5" font-size="20.6" text-anchor="end" font-style="italic">XCL1</text>
<text x="1655.5" y="1951.7" font-size="20.6" text-anchor="end" font-style="italic">TNFRSF9</text>
<text x="1655.5" y="1983" font-size="20.6" text-anchor="end" font-style="italic">MTCO2P12</text>
<text x="1655.5" y="2014.2" font-size="20.6" text-anchor="end" font-style="italic">RGCC</text>
<text x="1655.5" y="2045.4" font-size="20.6" text-anchor="end" font-style="italic">DUSP2</text>
<text x="1655.5" y="2076.7" font-size="20.6" text-anchor="end" font-style="italic">EPOP</text>
<text x="1655.5" y="2107.9" font-size="20.6" text-anchor="end" font-style="italic">IFNG</text>
<text x="1655.5" y="2139.2" font-size="20.6" text-anchor="end" font-style="italic">WNT1</text>
<text x="1655.5" y="2170.4" font-size="20.6" text-anchor="end" font-style="italic">STAT5A</text>
<text x="1655.5" y="2201.6" font-size="20.6" text-anchor="end" font-style="italic">INSIG1</text>
<text x="1655.5" y="2232.9" font-size="20.6" text-anchor="end" font-style="italic">SPP1</text>
<text x="1655.5" y="2264.1" font-size="20.6" text-anchor="end" font-style="italic">CCL4L2</text>
<text x="1655.5" y="2295.4" font-size="20.6" text-anchor="end" font-style="italic">LTBP4</text>
<text x="1655.5" y="2326.6" font-size="20.6" text-anchor="end" font-style="italic">KDM6B</text>
<text x="1655.5" y="2357.8" font-size="20.6" text-anchor="end" font-style="italic">LRIG1</text>
<text x="1655.5" y="2389.1" font-size="20.6" text-anchor="end" font-style="italic">SMOX</text>
<text x="1655.5" y="2420.3" font-size="20.6" text-anchor="end" font-style="italic">FABP5</text>
<text x="1655.5" y="2451.6" font-size="20.6" text-anchor="end" font-style="italic">C3</text>
<text x="1655.5" y="2482.8" font-size="20.6" text-anchor="end" font-style="italic">PHKG1</text>
<text x="1655.5" y="2514" font-size="20.6" text-anchor="end" font-style="italic">CCL4</text>
<text x="1655.5" y="2545.3" font-size="20.6" text-anchor="end" font-style="italic">STARD4</text>
<text x="1655.5" y="2576.5" font-size="20.6" text-anchor="end" font-style="italic">IL2</text>
<text x="1655.5" y="2607.8" font-size="20.6" text-anchor="end" font-style="italic">PLK3</text>
<path d="M957.3 2655H1120.3" stroke="#000" stroke-width="3" fill="none"/>
<path d="M958.8 2655v5.6" stroke="#000" stroke-width="3"/>
<text transform="translate(964.3 2664.8) rotate(-90)" font-size="15.3" text-anchor="end" stroke="#000" stroke-width="0.3">0.0</text>
<path d="M990.8 2655v5.6" stroke="#000" stroke-width="3"/>
<text transform="translate(996.3 2664.8) rotate(-90)" font-size="15.3" text-anchor="end" stroke="#000" stroke-width="0.3">0.2</text>
<path d="M1022.8 2655v5.6" stroke="#000" stroke-width="3"/>
<text transform="translate(1028.3 2664.8) rotate(-90)" font-size="15.3" text-anchor="end" stroke="#000" stroke-width="0.3">0.4</text>
<path d="M1054.8 2655v5.6" stroke="#000" stroke-width="3"/>
<text transform="translate(1060.3 2664.8) rotate(-90)" font-size="15.3" text-anchor="end" stroke="#000" stroke-width="0.3">0.6</text>
<path d="M1086.8 2655v5.6" stroke="#000" stroke-width="3"/>
<text transform="translate(1092.3 2664.8) rotate(-90)" font-size="15.3" text-anchor="end" stroke="#000" stroke-width="0.3">0.8</text>
<path d="M1118.8 2655v5.6" stroke="#000" stroke-width="3"/>
<text transform="translate(1124.3 2664.8) rotate(-90)" font-size="15.3" text-anchor="end" stroke="#000" stroke-width="0.3">1.0</text>
<text x="1041.6" y="2707" font-size="19" text-anchor="middle">cor</text>
<path d="M1247.5 2655H1409.5" stroke="#000" stroke-width="3" fill="none"/>
<path d="M1249 2655v5.6" stroke="#000" stroke-width="3"/>
<text transform="translate(1254.5 2664.8) rotate(-90)" font-size="15.3" text-anchor="end" stroke="#000" stroke-width="0.3">0.0</text>
<path d="M1280.8 2655v5.6" stroke="#000" stroke-width="3"/>
<text transform="translate(1286.3 2664.8) rotate(-90)" font-size="15.3" text-anchor="end" stroke="#000" stroke-width="0.3">0.2</text>
<path d="M1312.6 2655v5.6" stroke="#000" stroke-width="3"/>
<text transform="translate(1318.1 2664.8) rotate(-90)" font-size="15.3" text-anchor="end" stroke="#000" stroke-width="0.3">0.4</text>
<path d="M1344.4 2655v5.6" stroke="#000" stroke-width="3"/>
<text transform="translate(1349.9 2664.8) rotate(-90)" font-size="15.3" text-anchor="end" stroke="#000" stroke-width="0.3">0.6</text>
<path d="M1376.2 2655v5.6" stroke="#000" stroke-width="3"/>
<text transform="translate(1381.7 2664.8) rotate(-90)" font-size="15.3" text-anchor="end" stroke="#000" stroke-width="0.3">0.8</text>
<path d="M1408 2655v5.6" stroke="#000" stroke-width="3"/>
<text transform="translate(1413.5 2664.8) rotate(-90)" font-size="15.3" text-anchor="end" stroke="#000" stroke-width="0.3">1.0</text>
<text x="1332" y="2707" font-size="19" text-anchor="middle">cor</text>
<path d="M1663 2655H1756.1" stroke="#000" stroke-width="3" fill="none"/>
<path d="M1664.5 2655v5.6" stroke="#000" stroke-width="3"/>
<text transform="translate(1670 2664.8) rotate(-90)" font-size="15.3" text-anchor="end" stroke="#000" stroke-width="0.3">0.0</text>
<path d="M1682.5 2655v5.6" stroke="#000" stroke-width="3"/>
<text transform="translate(1688 2664.8) rotate(-90)" font-size="15.3" text-anchor="end" stroke="#000" stroke-width="0.3">0.5</text>
<path d="M1700.5 2655v5.6" stroke="#000" stroke-width="3"/>
<text transform="translate(1706 2664.8) rotate(-90)" font-size="15.3" text-anchor="end" stroke="#000" stroke-width="0.3">1.0</text>
<path d="M1718.6 2655v5.6" stroke="#000" stroke-width="3"/>
<text transform="translate(1724.1 2664.8) rotate(-90)" font-size="15.3" text-anchor="end" stroke="#000" stroke-width="0.3">1.5</text>
<path d="M1736.6 2655v5.6" stroke="#000" stroke-width="3"/>
<text transform="translate(1742.1 2664.8) rotate(-90)" font-size="15.3" text-anchor="end" stroke="#000" stroke-width="0.3">2.0</text>
<path d="M1754.6 2655v5.6" stroke="#000" stroke-width="3"/>
<text transform="translate(1760.1 2664.8) rotate(-90)" font-size="15.3" text-anchor="end" stroke="#000" stroke-width="0.3">2.5</text>
<text x="1712" y="2707" font-size="19" text-anchor="middle">enr</text>
<text x="958" y="1668.5" font-size="24.5" textLength="152" lengthAdjust="spacingAndGlyphs">CCL4 module</text>
<text x="1248.6" y="1668.5" font-size="24.5" textLength="166.5" lengthAdjust="spacingAndGlyphs">CXCL8 module</text>
<g stroke-width="4.9" stroke-linecap="round" fill="none">
<path stroke="#b9cdd9" d="M194.2 215.2h0M187.4 240.5h0M203.4 275h0M203.5 273.7h0M188.1 274.1h0M225.6 272.6h0M213.8 266.3h0M197.9 256.8h0M214.5 278.6h0M216.5 287.6h0M200.9 235.9h0M181.5 244.5h0M209.2 274.9h0M190.8 262.2h0M171.3 234.7h0M212.2 237h0M205.8 254.9h0M230.4 252.5h0M173.7 258.6h0M186.2 262.6h0M189.4 277.4h0M204.9 242.4h0M130.3 314.7h0M130.3 323.1h0M137.7 319.1h0M160.5 331.8h0M136.1 327.6h0M117 349.1h0M127.5 349.5h0M182.2 334.8h0M168.5 307.8h0M134.1 309.9h0M153.9 345.5h0M130.5 304.6h0M118 329.2h0M143.1 336.7h0M125.4 340.8h0M157.6 353h0M127.4 354.9h0M129.5 332.3h0M121.1 313.5h0M129.1 330.5h0M129.2 328.6h0M125.9 366.7h0M200.1 333.3h0M193.7 306h0M201.4 340.5h0M193.8 340.5h0M189.4 326.7h0M232.3 313.5h0M183.4 362h0M224.4 323.3h0M209.4 306.7h0M208.6 319.3h0M214.7 322h0M194.9 335.2h0M220.5 307.7h0M180.6 327.5h0M233.6 301h0M227.1 315.2h0M236.7 294h0M259.8 312.9h0M235.8 301.5h0M189.1 315.3h0M188.5 341.6h0M217 327.2h0M189.2 322.7h0M173.9 328.8h0M207.3 310.4h0M185.4 340.2h0M193.4 338.2h0M206 330.6h0M236.5 321.7h0M214.8 330.8h0M213.6 331.9h0M195.4 287h0M234.4 304.6h0M210.8 316h0M240.1 295h0M211.3 345h0M217.2 316.7h0M228.8 346h0M232.3 316.7h0M228.2 332.5h0M234.5 297.3h0M228.8 319.9h0M233.3 318.7h0M219.8 354.6h0M233.8 344.7h0M253.6 319.9h0M222.1 338.9h0M238.2 341.4h0M221.4 334.4h0M242.6 330.7h0M245.6 305.6h0M242.2 324.7h0M225.8 307.1h0M230.1 317.2h0M219.8 336.3h0M245.2 334.7h0M233.5 324h0M228.3 359.5h0M212.2 332.3h0M230.7 316.7h0M216.2 352.7h0M242.8 306.9h0M227 336.9h0M206.9 294.9h0M225.9 313h0M231.4 335.3h0M245.9 349h0M207.3 348h0M232.9 330.4h0M242.4 315.5h0M222.1 317.8h0M196.1 340.7h0M227.3 327.7h0M220 324.3h0M195.6 352.9h0M263.2 330.4h0M225.3 310.9h0M234.6 364.3h0M217.3 339.7h0M258.6 320h0M234.1 326.4h0M246.8 336.2h0M253.6 335.2h0M201.5 341.1h0M281.6 356.9h0M288.9 329.4h0M259.2 334.8h0M251.7 330h0M261.2 312.8h0M280.9 332.1h0M254.5 333.6h0M248.5 332.2h0M230.1 342.9h0M277.7 317.8h0M257.2 334.2h0M255.1 336.6h0M218.9 323h0M293.5 308h0M252.5 318.2h0M283.6 325.6h0M264 317.5h0M276.7 364.1h0M268.8 317.1h0M244 330h0M274.1 322.8h0M252.5 297.9h0M264.1 337.9h0M234.5 342.8h0M280 328.7h0M248.7 345.1h0M242.3 326.1h0M220.3 328.3h0M267 349.5h0M240.1 341h0M228.5 343.9h0M279.3 327.9h0M258.3 323.8h0M213.3 347h0M215.1 341.1h0M256.4 337.6h0M274.8 332.4h0M249.3 352.6h0M265.3 326.1h0M258.3 306.9h0M266.1 364.1h0M263.8 326.3h0M262.5 325.4h0M276.4 323.4h0M308.8 328.1h0M250.9 313.4h0M310.7 306.5h0M302.2 330.2h0M304.4 356.4h0M297.1 320.4h0M294.6 298.4h0M296.6 306.3h0M289 298.3h0M284.4 348.1h0M302.7 354.3h0M281.1 323.6h0M294.1 298.2h0M297.3 309.9h0M295.4 308.3h0M293.9 328.2h0M267.9 321.3h0M255.2 309.3h0M270.6 320h0M308.2 300.8h0M277.4 319.3h0M315.6 329h0M259.2 317.7h0M271.4 320.4h0M308.4 300h0M283.6 303.7h0M288 295.4h0M294.3 328.9h0M284.6 333.6h0M337 309.5h0M309 324.1h0M277.4 317.4h0M262.8 325.1h0M360.3 297h0M351.4 304.4h0M368.8 291.7h0M339.4 293.5h0M342.7 331.4h0M350 300.2h0M317.3 334h0M368.7 273.7h0M315 311.9h0M320.6 306.7h0M354 302.3h0M324.4 291.9h0M358.4 273h0M343.6 305.1h0M349.4 311.6h0M353.8 313.7h0M360 309.5h0M302.5 306.5h0M363.8 338.2h0M316.5 306.1h0M312 295.9h0M355.6 276.2h0M159.4 388.6h0M191.4 375.6h0M154.8 378.3h0M214.8 342.3h0M150.7 375.6h0M135 396.6h0M182.5 354.5h0M168.6 358.7h0M143.8 391.4h0M182.1 327.3h0M157.7 387.3h0M172.2 356.8h0M180.1 361.8h0M166.2 363.3h0M180.2 351.3h0M180.5 362.7h0M185.3 371.4h0M148 358.2h0M168.9 360.4h0M206.7 354.6h0M143.2 387.1h0M188.7 342.4h0M177.1 378.8h0M205.3 350.5h0M183.3 351.6h0M161.4 364.4h0M177.7 372.8h0M178.1 358.5h0M181.4 379.7h0M175.7 358.3h0M163.9 358.1h0M183.3 341.4h0M179.8 345.9h0M175.1 363.1h0M189.6 381.2h0M185.5 338.4h0M176.3 347.8h0M178.8 389.8h0M131.5 399.1h0M176 355.6h0M169.1 339.4h0M184.6 363.7h0M139.4 380.8h0M182.3 365.8h0M197.3 312.4h0M185.9 360.4h0M178.5 375.1h0M173 388.2h0M186.4 342.9h0M170.4 346.4h0M171.7 357.6h0M327.8 332.8h0M310.8 357.1h0M331.1 380.6h0M321.2 389.8h0M332.4 366.1h0M340.1 397.8h0M327.7 367.3h0M320.1 366.1h0M337 355.5h0M325.2 375.2h0M318.1 380.7h0M349.6 351.9h0M308.1 366.2h0M328.1 369.8h0M330.9 364.6h0M338.3 377.3h0M344.3 372.7h0M312.8 379h0M327 335.3h0M315.7 379.3h0M323.4 377.2h0M324 368.4h0M129.1 387.6h0M107.8 396.4h0M144.2 366.5h0M151.3 383.1h0M132.8 387.9h0M114.8 389.6h0M109.5 367.5h0M131.7 384.3h0M96.8 373h0M133.6 401h0M140.4 379.3h0M132.9 358.8h0M155.6 388.2h0M138 386.4h0M182.6 393.2h0M128.1 382h0M136.5 364h0M130.6 363.3h0M126.2 384.3h0M143.2 378.1h0M132.9 368.1h0M100.2 369.4h0M122.5 384.5h0M127.8 396.6h0M137.1 389h0M110.9 389.9h0M134.3 386h0M163.9 383h0M112.6 390h0M130.5 380.4h0M138.1 356.2h0M164.2 414h0M130.5 349.4h0M138.7 379.4h0M148.4 397.2h0M126.2 399.9h0M127.3 369.4h0M160.1 368.9h0M115.9 383.1h0M124.7 363.9h0M141.4 378.7h0M279.2 363.3h0M263.2 374h0M287.3 394.5h0M267.4 351.6h0M270.9 386.4h0M271.8 396.5h0M268.3 387.4h0M273.1 379.5h0M286.6 364.4h0M275 382.2h0M268.7 355h0M286.9 382.4h0M275.3 371.6h0M266.1 379.9h0M284.6 382.8h0M262.1 393h0M263.7 368.3h0M272.8 372.5h0M270.4 380.2h0M211.7 356.4h0M206 371.6h0M194.1 375.4h0M219.6 390.1h0M169.2 373.5h0M183.4 385.3h0M171.5 392.4h0M193.7 383.7h0M229.6 354.2h0M193.4 411.8h0M198.2 402.4h0M196.2 396h0M162.2 365.3h0M193.3 376.9h0M204.1 394h0M187.2 372.4h0M171 386.7h0M198.1 394.6h0M202.6 386.6h0M236.3 354.3h0M192.8 403.4h0M204.2 380.7h0M191.5 378.9h0M164 400.4h0M195.5 390.8h0M172.2 401.1h0M179.8 411.7h0M171.3 370h0M228.8 361.7h0M202.8 380.4h0M201 384.5h0M160 386.7h0M184.9 389.1h0M212.7 360.1h0M164.1 383.3h0M178 401h0M169.2 402.3h0M181.3 390.9h0M181.3 390.6h0M174.3 401.7h0M188.6 392.4h0M186.1 444.6h0M176.6 415.7h0M172.6 394.7h0M182.4 404h0M197.4 359.5h0M177.4 386.4h0M164 385.8h0M195.3 392h0M190.9 404.1h0M184.3 373.8h0M398.2 381.3h0M384.3 390.5h0M363.9 402.4h0M356.5 391h0M384.4 375.8h0M405.7 410.4h0M389.8 376.5h0M387.3 371.6h0M382.5 381.8h0M384.5 372.9h0M382.7 369.7h0M383.1 386.9h0M403.5 389.8h0M391.7 375.6h0M399.9 403.7h0M380.7 396.6h0M370.5 398.6h0M399.8 396.4h0M373.9 397.7h0M370.8 420.1h0M369.2 386.1h0M389.6 388.9h0M397.8 394.8h0M336.6 379.7h0M403.3 377.2h0M392.8 378h0M375.7 409.9h0M387.3 377.2h0M392.7 380.1h0M356.2 414.3h0M379.6 398.6h0M397.4 383.6h0M399.8 386.5h0M391.2 382.3h0M393.6 408.1h0M373.1 394.5h0M395 380.7h0M401.6 391.4h0M375.2 402.9h0M400 398.4h0M382.1 399.9h0M114.1 395h0M140.3 433.6h0M106.4 419.6h0M99.3 461.7h0M123.3 437.5h0M127.5 401.3h0M126.1 448.7h0M104 438.7h0M124.5 428.3h0M111.1 393.8h0M108.1 432.7h0M117.6 434.5h0M110.2 417.8h0M124.5 441.4h0M129.4 423.9h0M115.4 412.4h0M97.3 452h0M146.5 425.4h0M107.4 452.1h0M179.1 411.3h0M168.2 433.1h0M146.3 447.5h0M171.9 426h0M208.7 423.4h0M152.2 394.8h0M160.1 437.3h0M149.8 430.7h0M127 414h0M134 441.6h0M148.8 435h0M173.4 429.3h0M163.3 415.2h0M164.2 431h0M132.3 469h0M145.5 409.8h0M189.2 443.5h0M155.6 442.9h0M143.2 422.2h0M158.4 435.3h0M127.2 399.1h0M170.9 424.9h0M168.7 406.3h0M155.9 438.7h0M166.6 446.6h0M179.8 417.8h0M197.8 448.9h0M141.8 432.2h0M156.6 435.4h0M174.8 419.3h0M144.2 438.1h0M132.9 411.7h0M192.1 433.7h0M164.4 435.6h0M132.1 416.2h0M148.8 430.5h0M160 431.9h0M164.1 446.4h0M293 418.9h0M313.8 455.1h0M302.4 408.4h0M283.2 421h0M319.9 390.9h0M332.4 385.9h0M288.3 387.5h0M291.5 420h0M342.2 404.3h0M295.1 361.1h0M310.9 414.7h0M300.8 396.8h0M303.1 433.5h0M302 413.3h0M300.7 416h0M286.2 398.6h0M279.1 424.8h0M322.5 405h0M301.9 411.8h0M287 356.3h0M335.1 417.5h0M316.7 419.3h0M393.8 430.8h0M414.8 436.8h0M402.9 431.3h0M414.3 420h0M360.8 387h0M385.7 428.9h0M401.8 410.6h0M400.6 418.9h0M412 442.6h0M417 406.6h0M388.2 423.6h0M336.8 368.9h0M401.4 424.6h0M399.5 417.9h0M399.6 403.1h0M404.6 421.4h0M373.7 409.8h0M414.4 440.2h0M393.3 431.4h0M360.3 401.4h0M403.8 429.5h0M380.7 430.6h0M397.7 449.1h0M410.1 413.4h0M443.5 435h0M392.5 429.1h0M411.1 423.1h0M403.4 410.8h0M391.2 431.8h0M414.1 416.6h0M408.3 416.6h0M407.6 402.1h0M396.6 408.7h0M401.8 438.2h0M390.2 439.7h0M400.3 417.7h0M394.8 421.7h0M379.8 427.6h0M383.2 421h0M401.8 398.1h0M379.2 414.8h0M245.1 490.5h0M231.4 457h0M262.9 456.3h0M233.7 481.3h0M249.3 494.3h0M233.6 477h0M230.3 492.8h0M235.7 487.6h0M201.6 464.3h0"/>
<path stroke="#f9848e" d="M451 120.8h0M478.5 122.6h0M465.5 118h0M447.8 134.6h0M437.5 120.9h0M452.7 118.8h0M430 135.8h0M433.5 139.6h0M444.3 119.8h0M464.1 141h0M461.8 115.3h0M468.5 98.3h0M449.4 123h0M467.1 164.8h0M474.1 88.1h0M453.9 128.9h0M435.9 127.2h0M441.5 118.2h0M429.2 117.4h0M478.3 132.3h0M465.3 110.5h0M417.9 131.2h0M442.9 133.5h0M450.7 118.6h0M459.9 139.8h0M460.3 120.9h0M445.8 87.9h0M455.6 123.2h0M437.6 129.4h0M474.1 154.7h0M482.8 84.7h0M449.9 128.2h0M466.4 127.9h0M458.9 98.3h0M442.8 114.9h0M444.1 133.8h0M465.3 132.4h0M420.3 126.9h0M438.5 116.2h0M450.2 110.6h0M452.4 106h0M449.4 122.7h0M447.2 118.1h0M442.9 112.6h0M454.5 122.3h0M435.6 143h0M489.4 129.8h0M451.5 133.3h0M436.7 135.2h0M455.1 116.6h0M463.4 112.3h0M465.5 118.3h0M441.3 115.4h0M457.6 118.7h0M433.4 111.7h0M430.5 127.9h0M473.4 142.2h0M472.7 112.2h0M465.7 134h0M495.8 131.7h0M467 103.4h0M502.8 102.7h0M475.7 99.6h0M499.3 114.3h0M496.7 106.8h0M480.8 119.8h0M465.4 120.4h0M483.4 120.8h0M477 135.1h0M480.8 146.1h0M484.6 124.7h0M496.3 129.9h0M495.2 106.6h0M450 171.1h0M473.3 117.6h0M449.2 109.4h0M482.8 119.1h0M470.9 123.4h0M490.4 111.3h0M485 147.2h0M517.3 126.7h0M480.8 107.2h0M517.2 121.4h0M503.8 116.9h0M457.7 107.9h0M515.5 126.8h0M507.2 100.2h0M495.8 123.3h0M503.5 117.1h0M488.2 130.1h0M503.3 90.7h0M482.5 107.3h0M473.4 131.4h0M475.1 122.6h0M488.7 125.6h0M486.5 133h0M505.7 129.5h0M554.4 93.9h0M512.3 132.2h0M514.1 131.7h0M487.8 123.3h0M501.4 105.6h0M497.2 108.7h0M509.4 111.3h0M464.5 104.2h0M478 118.5h0M459.1 123.3h0M496.4 114.4h0M493 126.2h0M496.6 119.5h0M492.8 139.6h0M477.1 86.5h0M511.2 109.2h0M513.2 134.5h0M504.9 147.6h0M495.9 132.6h0M476.8 127.8h0M474.7 128.2h0M522.5 129.5h0M528.3 103.2h0M542.4 100.4h0M530.6 81.6h0M545 105.8h0M504.6 127.6h0M510.5 120.8h0M545.6 120.5h0M542.8 109.1h0M501.1 104.6h0M525.7 132.1h0M527 132.9h0M511.4 98.4h0M536.8 109.6h0M556.7 135.3h0M563.6 90.5h0M531.6 108.6h0M527.8 88.3h0M547.8 108h0M544.7 109.2h0M535.4 123.8h0M517.9 128.5h0M524.2 109.3h0M519.6 103.1h0M532.3 127.4h0M540.2 100h0M535.4 116.7h0M520.8 104.2h0M510.3 126.1h0M517.8 134.5h0M519.4 111.7h0M506.1 114.2h0M540 111h0M526.7 119.4h0M529.3 113h0M531.8 87.1h0M518.4 104.4h0M527.9 105.4h0M540.7 92.1h0M550.6 114.8h0M550.6 103.4h0M545.9 109.7h0M537 126.3h0M599.7 152.3h0M544.2 156.1h0M522.2 142.8h0M567 120.6h0M551.3 123.7h0M543.6 110.9h0M542.4 126.7h0M524.5 138.8h0M556.9 150h0M544 150.9h0M556.7 142.9h0M550.7 115.9h0M567.2 117h0M582.8 128.2h0M567 135.2h0M574.4 142.6h0M529.8 123.4h0M560.6 124.9h0M550.6 108.8h0M552.4 126.6h0M556.5 150.4h0M572.4 109h0M579 137h0M571 136.5h0M559.9 121.7h0M558.3 126.9h0M565.7 129.8h0M584.5 134.4h0M565.2 137.5h0M549.2 121.5h0M535.2 118.1h0M569.9 143.1h0M562.4 125.5h0M553.5 121.6h0M564.5 156.8h0M539.4 115.9h0M555 141.4h0M594.6 101.9h0M543.1 117.1h0M440.5 132.4h0M442.3 164.4h0M449.2 175.3h0M445.6 141.1h0M440.3 162.8h0M442.1 160.9h0M464.7 210h0M434.9 175.8h0M450 171.7h0M443.5 143.2h0M443.1 157h0M449.9 154.9h0M438.6 146.8h0M443.3 216h0M439.5 178h0M428.3 176h0M442.2 173h0M453 163.4h0M437 155.9h0M443.3 182.4h0M445 174h0M429.8 144.8h0M467.7 153.6h0M448.1 162.4h0M452 151.9h0M463.3 163.7h0M428.3 178.9h0M430.5 170.6h0M456.7 164h0M447.6 188.8h0M439.6 146.7h0M430.6 211.2h0M424.6 137.7h0M434.1 201.9h0M467 168.2h0M457.3 151h0M421.8 224h0M429.7 156.1h0M431.9 160.5h0M473.3 167.1h0M442 209h0M424.4 173.4h0M435.3 184.1h0M449.7 184.1h0M438.6 169.4h0M429.7 162h0M435.6 157h0M419 137.9h0M486.7 196.3h0M473.6 134.6h0M484 157.7h0M480.9 150.8h0M514.9 150.5h0M498.5 186.7h0M486 151.3h0M504.5 158.4h0M512.5 130.8h0M475.1 174.3h0M491.4 146.6h0M529.4 125.2h0M481.5 160h0M495 154.7h0M500.4 168.3h0M508 148.5h0M498.9 161.7h0M492.6 189.2h0M489.2 175.3h0M472.4 162.7h0M499.6 130.8h0M471.6 141.7h0M508.1 164h0M489.7 162.4h0M485.7 180.6h0M476.9 154.7h0M486.8 163.7h0M485.6 151.8h0M500.1 139.7h0M447.4 136.7h0M472.1 171h0M478.4 139.6h0M476.6 158.8h0M507.6 183.3h0M474.2 140.1h0M494.1 168h0M506.4 175.1h0M478.9 148h0M488.6 153.3h0M498.9 200.8h0M479.1 124.4h0M515.9 151.5h0M536.1 150.9h0M454.8 135.4h0M480.4 143.5h0M521.6 144.2h0M514.9 130.1h0M478.7 132.9h0M477.2 144.1h0M446.5 172.7h0M506.9 148.4h0M483.2 153.9h0M476.6 132.9h0M503.5 181.4h0M488.1 152h0M488.6 188.1h0M491.8 116.1h0M483.5 152.9h0M485.3 161.3h0M507.4 171h0M504 191.5h0M485.9 140.1h0M492 152.2h0M482.9 171.1h0M567.8 169.6h0M534 139.2h0M538.7 124.9h0M480.5 156.6h0M536.1 153h0M544.5 156.3h0M542.2 120.4h0M564 143.9h0M510.6 127.9h0M559.9 164.9h0M516.9 173.4h0M506.6 147h0M561.4 145.3h0M541.3 168.6h0M531.4 148.7h0M563.2 162h0M554.4 157.5h0M518.1 174.8h0M553.6 177.5h0M568.7 135.9h0M542.4 142.4h0M558.6 158.5h0M538 171.8h0M532.1 94.3h0M535.4 164.5h0M543.5 175.8h0M542.3 163.4h0M549.4 122.6h0M556.2 171h0M547.9 151.2h0M549.8 140.6h0M558.4 174.2h0M546.7 201.5h0M517.4 120.6h0M529.6 195h0M541 135h0M551.9 165.5h0M539.5 154.3h0M541.9 157.1h0M545.1 152.5h0M561.9 201.6h0M551.1 153.2h0M537.3 149.1h0M557.2 144.4h0M543.1 158.3h0M549.4 171.9h0M563.7 162.9h0M551.2 164.6h0M518.2 147.3h0M552.5 164.7h0M558.6 153.5h0M550.2 147.4h0M540.7 154.5h0M546.6 160.2h0M452 178h0M451.1 193.6h0M472 189.9h0M462.2 188.4h0M487.6 159.1h0M460.6 169.5h0M479.2 174.9h0M441.2 132h0M459.1 177h0M464.3 193.1h0M481.9 184.4h0M471.4 167.6h0M464.4 190.5h0M461 240.6h0M439 200h0M468.9 199.6h0M452 172.5h0M486.5 182.6h0M476.7 174.6h0M460.9 143.6h0M439.5 167.5h0M475.5 179.3h0M464.4 179.1h0M449.2 158.2h0M473.3 190.3h0M466.7 156.3h0M463.6 184.1h0M454.1 177.6h0M445.7 205.8h0M455.3 159h0M464.5 196.8h0M450.2 144h0M460.7 190.3h0M464.6 187.8h0M449.5 158.5h0M450.5 171h0M435.4 194.6h0M470.6 178.7h0M482 187.9h0M441.5 219.9h0M469.8 190.2h0M447.4 205.6h0M488.1 193h0M461.3 181h0M483.2 176.9h0M468.7 180.7h0M467.4 200.5h0M454.4 161.6h0M464.3 166.7h0M465.6 197h0M430.3 190h0M467.2 172.5h0M466.4 172.8h0M593 149.5h0M610.9 198.1h0M620 174.5h0M573.3 185.9h0M588.4 129.6h0M616.2 156.8h0M595 185h0M603.1 161.7h0M644.1 176.8h0M602.1 186.3h0M648.3 177.1h0M610 167.9h0M608.7 188.2h0M638 176.2h0M617.5 156.6h0M603.4 183.3h0M603.3 142.8h0M592.2 163.3h0M629.7 169.6h0M604.8 170.4h0M571.4 200h0M607.8 179.4h0M632.5 158.9h0M615.3 187.1h0M630.1 164.9h0M626 176.9h0M608 157.8h0M627.8 187.5h0M625.1 186h0M650.5 180.4h0M636 197.6h0M644 185.1h0M618.3 182.7h0M665.5 250.5h0M631 206.6h0M636.9 187.1h0M695.1 232.6h0M621.4 197.5h0M616.4 173.8h0M660.5 173.8h0M669 181.9h0M667.7 194.4h0M666.8 180.8h0M632.5 221.2h0M681.6 201.5h0M654.9 184.4h0M653.9 196.4h0M644.4 179.1h0M681.3 223.4h0M654.8 180.3h0M619.9 224.9h0M617.8 215.2h0M629.6 261.3h0M523.7 213.7h0M511.9 176.5h0M543.9 212.6h0M533.9 190.1h0M498.7 160.4h0M496 188.4h0M535.1 200.2h0M540.2 232.4h0M544.4 189h0M508.3 206.4h0M517.9 223.1h0M533.9 210.2h0M534.6 182.2h0M524.2 197.2h0M519.9 252.4h0M516.8 189.7h0M526.8 228.2h0M527.8 197.5h0M525.4 227.7h0M524.2 245.7h0M533 202h0M505.2 179h0M529.7 224.2h0M518.7 203.3h0M505.2 189.9h0M561.4 172.6h0M563.2 209.7h0M505.2 192.7h0M525.5 195.6h0M528.2 160.9h0M554.2 197.4h0M559.6 179.4h0M528.2 262.5h0M510.3 194.7h0M522 206.8h0M530.9 198.6h0M523.7 231.1h0M549.2 193.4h0M527.4 234.6h0M522.9 205.1h0M531.7 209.4h0M536.9 177.4h0M505.3 177.6h0M544.6 190.4h0M577.2 206.6h0M529.9 209.9h0M559.6 188.8h0M532.7 206.9h0M571.3 215.5h0M579.7 202.5h0M591.8 182.5h0M561 204.6h0M601 192.8h0M581.7 193.4h0M553.8 212.6h0M558.6 206.8h0M580.4 207.9h0M591.7 179.2h0M556.8 212.7h0M574 203.2h0M570 208h0M578.7 189h0M559.1 210.1h0M575.2 199.8h0M597.9 201.8h0M571.1 248.8h0M573.6 215.4h0M555.2 182.4h0M563.8 212.2h0M569.8 198.6h0M563.7 223.2h0M590.9 215.5h0M564.6 162.6h0M558.8 211.1h0M602.7 197.3h0M560.8 180.6h0M575.1 193.9h0M581.7 207.6h0M472 198.4h0M494.7 227h0M499.8 203h0M464.8 233.8h0M503.5 220.5h0M487.8 219.3h0M505.9 231.9h0M487.9 213.8h0M499.9 233.6h0M531 256.1h0M471.2 232.5h0M480.4 223.3h0M516.3 245.4h0M507.8 244.4h0M476.6 235.9h0M500.6 245.5h0M499.8 247.3h0M477.2 223.2h0M505.7 235.9h0M490.5 212.5h0M503.1 238.3h0M490.7 220.6h0M473.2 235.9h0M490.7 211.7h0M516.6 233.8h0M487.7 223.8h0M509.8 234.9h0M484.5 235.9h0M516.5 250h0M496.4 203.9h0M520.2 249.5h0M477.6 217.2h0M604.7 228.4h0M577.4 268.6h0M598.4 246.5h0M600.5 250.9h0M578.8 250.6h0M581.2 259.7h0M594.8 248.7h0M629.3 251.9h0M609 231.2h0M609.5 221.3h0M580.3 220.3h0M601.4 241.9h0M591.4 259.6h0M578.7 227h0M571.7 237h0M602.4 242.8h0M579.3 215.6h0M623.8 256.7h0M626.4 227.9h0M606.8 212.3h0M575.7 263.7h0M638.4 246.9h0M605.2 221.4h0M590.3 214h0M602.2 206.9h0M596.3 239.8h0M456.3 242.6h0M436.3 259.8h0M448.5 209.4h0M457.2 259.3h0M455.6 355.3h0M459 241.4h0M470.2 259.7h0M459.4 255.6h0M457.2 215.3h0M473.4 238.6h0M456.9 245.6h0M470.3 245.3h0M451.8 242.8h0M471 230.2h0M406.8 254.2h0M465.7 283.9h0M447.5 243.9h0M428.9 229.1h0M450.1 259.3h0M442.2 247.9h0M458.4 270.6h0M450.1 253.3h0M559.5 230.6h0M594.1 251.8h0M601.7 270h0M592.7 239.8h0M609.1 248.1h0M566.9 273.8h0M594.3 271.8h0M623.6 257.8h0M616.9 264.1h0M574.6 275.4h0M588.5 267.2h0M553 243.9h0M596.6 254.7h0M599.3 284.1h0M619.9 253.3h0M587.2 271.3h0M596.6 244.8h0M555.1 244.2h0M580.9 274.8h0M602.9 284.7h0M597.8 230.7h0M615.6 267.5h0M599.2 283.1h0M592.1 267.3h0M559.6 252.3h0M571.9 232.1h0M664.9 259.1h0M684.6 213.3h0M679.4 264.1h0M640.3 231h0M676.5 281.5h0M649.3 250h0M675.1 238.6h0M686.2 243.1h0M684.7 253.6h0M666.9 254.5h0M670.6 250.5h0M649.8 236.7h0M686.7 238.3h0M667.3 239.5h0M681 277.1h0M672.4 273.6h0M660.9 218.9h0M681 271h0M684.4 243.7h0M656.7 257.5h0M659.7 217h0M678.6 241.2h0M694.1 262.2h0M662 211h0M658.7 245.7h0M686.4 266.7h0M684.1 252.1h0M676.9 250.3h0M702.7 259.1h0M670.8 275.9h0M546.6 268.7h0M545.7 286.6h0M563.9 312.3h0M531.7 324h0M547.6 280.3h0M545.8 284h0M552.1 288.3h0M530.8 264.3h0M568.7 265.1h0M564.3 277.4h0M554.3 315.4h0M552.4 244.4h0M555.6 348.6h0M559.2 260.3h0M555.1 281.1h0M575.4 315.8h0M565.2 290.1h0M572.5 251.7h0M583.3 278.6h0M545.2 297h0M545.2 261.6h0M549.7 266.8h0M555.3 285.1h0M576.4 275h0M673.8 291h0M699.6 301.9h0M674 295.8h0M673.4 305.1h0M682.6 311.5h0M675.1 288.1h0M682.3 306.5h0M684.5 280.2h0M670.6 314.7h0M650.9 289.4h0M660.4 227.1h0M674.1 283.8h0M688.3 315h0M676.4 299.1h0M682.7 281.2h0M696.2 277.9h0M660.7 293.1h0M666 301.8h0M664.5 274.5h0M682.4 317.7h0M639.3 276.3h0M679.4 301.6h0M684.3 272h0M706.3 292.5h0M657.5 305.3h0M663 291.7h0M681.7 271.3h0M647.3 278h0M692.9 266.2h0M674 309.6h0M628.7 264h0M639.4 290h0M547.4 329.3h0M542.7 294.2h0M530.9 325.7h0M524.4 321.5h0M547.7 263.4h0M514 305h0M551.9 325.7h0M538.7 316h0M520.7 323.5h0M509.1 291.8h0M531.6 320.8h0M535.7 294.7h0M520.3 336.8h0M523.5 293.1h0M530.9 331.1h0M497.2 345.3h0M548.1 313.8h0M540.9 323.4h0M530.2 344.5h0M557.7 323.9h0M496 322.7h0M632 345.9h0M601.9 348.4h0M595.7 356.9h0M539.1 396h0M649 354.7h0M576.3 352.6h0M588.2 327.4h0M585.3 346.9h0M554.3 320.3h0M591.6 324h0M564.3 402.2h0M579.7 348.3h0M549.9 351.1h0M594.1 350.7h0M585.3 362.8h0M585.3 373.6h0M599.5 324.1h0M621.8 352.3h0M557.4 295.9h0M582.6 359.1h0M565.2 348.6h0M561.7 382.4h0M607.7 367.4h0M594.9 351.3h0M588.3 334.6h0M565.9 380.5h0M580 337h0M691.2 337.7h0M674.3 370.7h0M661.1 378.8h0M671.4 382.8h0M670.4 342.3h0M685 379.4h0M663.5 357.3h0M675.2 328.8h0M657.1 359.7h0M676.1 351.5h0M660.9 338.2h0M681.2 358.6h0M640 361.4h0M663.1 332.8h0M668.5 342.3h0M645 337.7h0M681.1 317.4h0M649.5 339.2h0M680.9 330.2h0M653 334.3h0M689 328.4h0M678.1 314.4h0M662.3 326.6h0M677.4 333.2h0M658.2 342.1h0M677.8 336.2h0M659.6 342h0M673.2 368.2h0M670.7 345.9h0M550.5 365.7h0M535.3 364.7h0M541.2 365h0M531.3 353.3h0M543.4 362h0M523.2 325.9h0M532.4 400.3h0M545.7 389h0M535.7 354.5h0M527.7 367.1h0M515.3 373.8h0M529.5 375.9h0M544.6 375.6h0M547 351.8h0M545.8 372.9h0M535.9 373.7h0M529.3 391.4h0M539.6 422.4h0M497.3 393.4h0M528 421.2h0M553.1 361.1h0M536.9 394.8h0M522.5 362.6h0M546.7 347.4h0M529.9 398.4h0M540.6 360.9h0M523.9 348.2h0M545.3 388.2h0M546.8 389.9h0M538 347.8h0M527.8 362.1h0M550.4 342.7h0M510.3 392.7h0M480.1 403.5h0M511.2 409.8h0M506.1 381.9h0M496 374h0M482.1 353.5h0M472.3 397h0M498.6 410.4h0M475.1 399.8h0M510.4 412.8h0M504.2 423.3h0M499.2 386h0M478.9 401.3h0M491.1 397.1h0M516.2 398.8h0M483.7 394.4h0M500.9 396.8h0M481.5 389.4h0M506 392.3h0M483.2 394.2h0M470 373.2h0M487.2 385.6h0M478.8 385.5h0M475.3 315.5h0M510 421h0M486.1 413.9h0M491.9 398.4h0M524.4 350.7h0M510.9 410.2h0M489.1 345.1h0M459.2 408.6h0M480.3 389.7h0M533.5 432.2h0M536.5 402.8h0M520.9 420.9h0M539.1 435.6h0M519.9 444.2h0M563 446.7h0M517.3 414.7h0M533.1 439.7h0M533.8 431.9h0M551.9 421h0M558.4 419.5h0M545.4 409.2h0M556.4 372.9h0M535.6 406.9h0M517.3 429.2h0M535.3 437.9h0M537.8 407.3h0M554.6 436.8h0M572.7 421.7h0M548.1 429.6h0M525.2 424.3h0M540.4 426.2h0M526.9 435.5h0M544.6 433.3h0M560.6 391.6h0M508.2 414.4h0M527.5 429.1h0M537.3 438.6h0M566 415.6h0M520.4 421.5h0M537.5 427.2h0M527.5 420.2h0M526.4 432.1h0M544.3 434.4h0M535.1 416.6h0M553.2 448.6h0M553.1 462.4h0M577.7 418.8h0M554.7 454.1h0M580.9 455.7h0M567.2 478.1h0M590.4 456.8h0M560.6 451.9h0M570.6 453.3h0M562.3 451.5h0M567.2 443.7h0M555.8 439.9h0M575.8 432.8h0M576.8 448.5h0M552.2 454.1h0M574.2 457.9h0M566.6 463.5h0M574.7 462.6h0M567.6 440.7h0M572.7 441.8h0M593.7 430.5h0M581.5 452.3h0M567.3 447.5h0M554.4 450.2h0"/>
<path stroke="#1f4193" d="M412.8 296.2h0M410.8 292.6h0M415.6 284.9h0M410.1 270.9h0M415.5 295.8h0M401.6 297.4h0M404.5 272.3h0M389.3 264h0M411.6 291.6h0M402.7 274.7h0M424.5 287.4h0M410.6 322.6h0M428.1 276h0M423.9 302.2h0M428.4 318.1h0M434.3 297.2h0M387.7 276.2h0M424.2 310.1h0M402.4 278.3h0M437.1 352.3h0M457.3 337.9h0M428.7 337.9h0M443.3 344.6h0M419.4 369.4h0M439.6 354.6h0M433.2 335.5h0M430.5 351.6h0M430.6 339.2h0M417.8 314.3h0M476.5 338.5h0M448.9 352.7h0M428.5 331.7h0M448.1 353h0M425.8 343.4h0M452.4 375.1h0M424.7 362.4h0M428.4 349.9h0M442.6 350.4h0M441.5 347.5h0M398.4 330.9h0M440.6 329.1h0M444.7 369.1h0M428.3 336.6h0M440.7 361h0M426.5 354h0M430.6 359.6h0M432 339.4h0M444.2 369.4h0M426.1 354.8h0M419.6 338.9h0M448.6 374.9h0M431.1 344.4h0M448.2 342.1h0M427.9 362.4h0M455.9 330.7h0M445 345.9h0M452 366.3h0M469.2 333.3h0M462.4 365.7h0M444.1 361.1h0M447.8 350.5h0M454.1 376.8h0M448.4 370.3h0M469 352.8h0M465.2 344.5h0M438.7 348.7h0M453.2 344.1h0M476 337.2h0M498.1 397.2h0M446.7 364.2h0M465.7 352.8h0M438.8 348.5h0M482 357.6h0M447.5 356.6h0M436.4 367h0M468.8 379.9h0M465.1 344.5h0M464.9 357.7h0M482.1 327.6h0M442.4 339.8h0M445.1 335.1h0M457.9 350.6h0M452.5 362.5h0M449.3 317.9h0M484.4 334.7h0M438.5 370.3h0M470.4 366.3h0M453.2 319.6h0M460.2 358.5h0M459.1 359.3h0M467.1 348.6h0M478.7 363.6h0M451.5 343.5h0M458.6 362.5h0M453.7 382.4h0M456 386.7h0M467.6 378.4h0M460.2 368.9h0M452.8 371.9h0M445.5 398.4h0M451.1 377.4h0M463.2 365.5h0M464.1 367.2h0M446.6 406.9h0M442.1 362.2h0M446.4 345.3h0M474.9 320.6h0M477.9 382.8h0M443.8 367.9h0M446.3 347.5h0M428.3 433.6h0M466.4 381.5h0M430.9 387.2h0M432 345.5h0M450.2 399.3h0M449.3 375.5h0M438 365.5h0M429 372.6h0M462.5 350.1h0M467.6 388.8h0M422.9 384.8h0M449.5 363.1h0M442.4 364.5h0M456.1 386.5h0M449.1 368.3h0M426.2 413.4h0M450.6 390.7h0M456.3 399.3h0M452.6 370h0M464.6 392.9h0M455.1 396.9h0M426.8 389.2h0M412 396.2h0M454 392.6h0M466.4 368.1h0M492.7 391.8h0M498.1 425.2h0M495.6 416.6h0M461.8 429.7h0M489.7 423.7h0M504.1 430.7h0M482.1 422.9h0M479.2 417.9h0M491.3 418.4h0M481.6 410.2h0M510.5 442.3h0M474.4 403.1h0M452.4 446.2h0M489.2 426.3h0M468.4 392.8h0M473.7 400.8h0M489.4 422.5h0M475.4 412.2h0M497.4 408.4h0M479 433.4h0M477.8 407.9h0M484.7 408.9h0M496.7 420.8h0M508.5 400.7h0M486.5 413h0M481.5 406.8h0M476.3 418.7h0M482.5 409.2h0M483 414.4h0M466.2 409.2h0M496 419.1h0M475.1 413.3h0M474 422.3h0M450.6 424h0M492.4 386.2h0M492.1 417.6h0M499.5 429.6h0M500.5 415.1h0M479.5 423.6h0M429.5 458.3h0M442.2 495.4h0M418.4 461.3h0M416.4 455.1h0M440.1 434.9h0M400.8 460.2h0M446.5 495.3h0M424.9 455.9h0M415.8 457h0M458.1 436.7h0M409.8 433.3h0M416.2 453.5h0M428.3 445.6h0M423.4 445.6h0M445.1 443.2h0M428 440.8h0M443.2 479.6h0M480.7 452.5h0M437.9 439.6h0M424 452.3h0M425.3 471.8h0M425.9 449.3h0M438 448.2h0M440.1 392.5h0M443.1 451h0M436.4 440.9h0M432.2 429.3h0M440.3 461.3h0M413.4 425.2h0M421.5 418.1h0M435.2 472h0M454 422.5h0M445.3 439.7h0M437.2 414.9h0M409.1 452.4h0M435.9 459.2h0M434.3 443.5h0M464.6 452.5h0M493.6 439.7h0M482.8 442.1h0M470.7 469.7h0M478.6 445.7h0M474.1 442.6h0M455.1 472.4h0M485.6 444h0M471.1 457.8h0M484.5 439.8h0M476.7 438.9h0M477.7 438.7h0M496.4 450.3h0M481 493.7h0M485.3 449.4h0M478.8 447.6h0M481.8 454.4h0M483.3 454.8h0M491.1 444.3h0M409.2 430.1h0M493.6 441.5h0M477.3 432.5h0M461.7 389.1h0M494.1 442h0M491.3 460.1h0M477.7 450.8h0M517.9 450.6h0M474.3 425.6h0M485 433.1h0M473 442.7h0M474.2 438.9h0M492.1 452.4h0M483.4 476.6h0M483.9 463.1h0M495.3 472.2h0M483.7 440.1h0M475.9 442.7h0M454.3 486.1h0M434 515.4h0M441.4 498.1h0M461.9 513.8h0M446.8 519.1h0M430.4 523.3h0M445.6 512.6h0M430.3 553.4h0M455.4 527.4h0M429.9 510h0M448.9 509.7h0M461.2 508.8h0M446.9 516h0M430.4 522.8h0M435.8 531.7h0M453.2 547.4h0M475.6 454.3h0M427.6 542.9h0M424.4 530h0M451 509.6h0M426.5 530h0M417.9 556h0M246.1 346.7h0M259.2 358.9h0M214 343.8h0M222.2 395.8h0M215.6 339.7h0M225.2 346.9h0M243 339.1h0M252.9 346.8h0M252.6 436.8h0M256.1 423.3h0M266.9 434.6h0M266.6 440.3h0M253 430.2h0M273.7 442.3h0M258.3 449.6h0M288.6 448.6h0M271.5 436.5h0M290 424.2h0M261.6 431.4h0M288.8 438.5h0M291.6 437.4h0M280.2 378.7h0M232.7 461.3h0M274.5 437.5h0M265.2 449.5h0M257.5 395.9h0M273.4 449h0M268.5 422.6h0M258.9 435.1h0M249.2 395.7h0M264 417.8h0M268.6 403.7h0M383.1 448.9h0M374.7 474.2h0M355.6 457.6h0M370.2 453h0M312.7 405.9h0M362.6 431.4h0M377.3 442.6h0M374.6 454h0M391.4 444.9h0M357.5 439.9h0M380.5 389.7h0M383.1 463.1h0M333.4 453.4h0M408.6 449.9h0M385.7 432.8h0M382.2 456.4h0M381.9 442.8h0M395.9 457.9h0M396.6 435h0M356.3 425.8h0M384.8 449.1h0M341.8 455.6h0M394.6 453.8h0M373.8 458.2h0M371.7 443.3h0M378.6 438.8h0M376.3 451.5h0M353.5 437.5h0M396.1 430.7h0M367.9 461.1h0M392.3 456.1h0M353.8 441.1h0M216.4 469.7h0M222.3 453.9h0M207.5 489.6h0M195.2 471.9h0M216.8 468.2h0M210 475.5h0M227.7 471.1h0M215.7 481.2h0M189.8 482h0M222.7 475.2h0M192.8 463h0M199.9 462h0M214.9 463.7h0M306.5 483.6h0M345.4 473.6h0M291.9 467.7h0M313 462.6h0M324.8 465.6h0M331.6 481.2h0M306.8 457.8h0M292.1 465.1h0M300.7 449.4h0M297.6 442h0M314.9 468h0M316.3 474.6h0M321.3 473.8h0M321.2 479.4h0M300.3 456.6h0M306.8 472.4h0M316.2 478.9h0M312.9 481.3h0M299.1 475.8h0M338.8 480h0M310.3 460h0M304.1 471.4h0M313 475.3h0M299.1 478.8h0M308.7 462.4h0M318.1 476.8h0M293.2 462h0M369.4 495.7h0M351.7 465.2h0M363.4 479.5h0M349.7 488.1h0M335.6 513.9h0M366.9 491.9h0M360.8 475.1h0M395.8 455.6h0M335.6 485.6h0M389.3 482.1h0M356.1 475.1h0M365 502.6h0M355.7 484.2h0M350.2 488.3h0M364.6 468.6h0M325.4 481.9h0M337.9 490.5h0M352.7 483.1h0M360.2 467h0M349.4 501.6h0M373.5 542.9h0M348.2 491.2h0M356.5 487.8h0M346.4 486.2h0M367 524.7h0M337.2 497.8h0M349.8 484h0M359.6 492.6h0M359.3 506h0M329.8 478.4h0M359 496.7h0M340.2 480.4h0M173 523.6h0M160.3 548.4h0M165.6 553.5h0M167.7 518h0M166.7 537.8h0M162.1 545.1h0M155 532.2h0M167.6 525.5h0M131 534.5h0M143 513.7h0M175.6 536.3h0M154.1 533.3h0M178.2 542.4h0M174.5 519.1h0M124.4 528h0M142.2 531.1h0M191.1 531.3h0M164.5 525.1h0M336.1 545.5h0M326.7 515.2h0M309.7 549.3h0M316 532.5h0M295.2 548.5h0M340.2 537.5h0M326.7 548.6h0M334.4 544.6h0M331 560.1h0M327 541h0M336.1 564.6h0M323.1 524.2h0M340.9 572.2h0M315.4 479.8h0M334.1 551h0M337 533.9h0M347.6 544.2h0M333.1 552.5h0M329.7 544.1h0M341.6 538.1h0M328.8 540h0M311.7 543.6h0M330.1 587.7h0M336.6 516.5h0M335.7 551h0M333.4 554.4h0M331.9 529.5h0M425.8 606.8h0M422.5 599.2h0M422.9 573.6h0M427.2 573.6h0M407 563.7h0M419.2 558.9h0M416.3 570.1h0M417.8 575h0M446.3 551.2h0M412.3 576.9h0M418.3 572h0M395.6 551.8h0M431 570.8h0M415 573h0M425.1 592.4h0M418.5 577.3h0M454.1 573.1h0M418.3 602h0M415.6 570.5h0M407.9 565.4h0M406.6 585.5h0"/>
<path stroke="#070a30" d="M234.5 440.7h0M221.8 441.4h0M205.2 420.1h0M187.5 426.3h0M226.5 444.1h0M216.8 424.2h0M209.2 402h0M214.7 433.2h0M210.9 428h0M191.4 446h0M196.4 444.5h0M210 416.9h0M221.6 412.8h0M224 426.8h0M195.9 412.6h0M233.2 399.8h0M204.2 410.1h0M217 458h0M200.1 423.4h0M210.5 419.1h0M266.9 418.5h0M232.4 392.7h0M218.3 420.8h0M188 440.7h0M230.2 465.9h0M224.4 389.8h0M195.4 435.4h0M202.6 412.8h0M200.5 419.1h0M347.8 392.4h0M340.2 471h0M360.3 463.3h0M339.5 437.7h0M349.5 430.5h0M321.9 407.9h0M381.9 456.7h0M347.8 416.3h0M284.6 463.7h0M349.2 424.1h0M344.5 470.2h0M353.7 424.3h0M352 461.6h0M363.9 401.3h0M331.7 444.1h0M325.3 428.2h0M343.9 423.8h0M359.6 418.4h0M376 418.8h0M365.4 453.9h0M346.9 421h0M358.3 439.8h0M368.2 442h0M371.9 425.2h0M369.6 409.7h0M163.4 480.4h0M229.6 497.2h0M177 462.4h0M166.6 514.8h0M125.4 516.6h0M175.3 485.5h0M153.7 509.4h0M171.6 486.1h0M154.8 491.4h0M200.1 495.1h0M166.2 481.6h0M196.4 517.8h0M179 468.1h0M149.6 495.1h0M160.8 494.4h0M164.7 477.1h0M180.8 465.2h0M172 481.4h0M229.5 512h0M157.1 486.9h0M155.7 493.7h0M161.5 478h0M169.9 507.1h0M186.1 567.8h0M193.3 463.3h0M165.6 494.3h0M172.2 530.6h0M193.4 487.9h0M155.6 479.1h0M179.7 490.2h0M198.1 431.4h0M168 474.5h0M141.7 485.4h0M162.9 495.7h0M160.3 498h0M155.3 489.5h0M183.5 479.6h0M199.4 461.8h0M257.7 473.2h0M274.3 492.4h0M246.3 486.4h0M282.8 526.1h0M292.6 500.3h0M258 474.7h0M269.9 498h0M301.3 517.1h0M260.9 481.7h0M252.9 496.1h0M305 510.2h0M262.3 518.8h0M270.3 494.1h0M276.4 474h0M233 493.4h0M306.2 470.5h0M256.9 484.4h0M248.7 516.5h0M258.6 513.9h0M260.9 516.1h0M247.5 460.4h0M270.9 514.8h0M266.4 485.9h0M289.6 495.3h0M328.1 505.3h0M261.8 479.4h0M269 492.3h0M269.1 481.6h0M286.3 500.4h0M264.1 493.2h0M344.5 473.3h0M257.8 474.8h0M276.8 504h0M265.6 461.1h0M274.7 506.5h0M269.7 463.2h0M277.9 484.8h0M338.1 484.9h0M321.8 534.7h0M321.9 544.3h0M327.7 511.7h0M299.1 519.9h0M328.7 500.7h0M328.2 488.2h0M313.6 523.1h0M308.5 522.4h0M310.5 517.4h0M321 518.2h0M324.9 494.7h0M320.6 550.6h0M329.9 544.6h0M345.8 505.4h0M302.8 502h0M315.9 517h0M340.8 522.2h0M344.6 478.6h0M310.7 524.1h0M339.5 494.9h0M305.7 497.4h0M295.4 501.3h0M308.9 509.4h0M295.2 503h0M322.9 526.2h0M317.5 509.6h0M329 525.9h0M315 519.7h0M348.3 541.5h0M344 541.4h0M319.9 529.9h0M314.4 511.1h0M331.2 502.8h0M335.9 494.1h0M298 502.3h0M341.1 517.2h0M324.6 497.5h0M318.5 538.1h0M332.1 511.2h0M334 529h0M340.8 492h0M418.1 457.3h0M434.2 482.5h0M418.3 499.3h0M435.8 473.1h0M412.5 520.9h0M421.4 507.6h0M427.6 513h0M440.1 515.8h0M438.7 502.8h0M392.7 536.3h0M427.8 507.6h0M394.2 477h0M413.4 478.2h0M398.4 524.8h0M391.5 465.4h0M432.7 509.9h0M387.8 498.1h0M418.1 502.9h0M418.1 491.6h0M407.9 520.5h0M393.7 474.6h0M424.5 523.7h0M449 521.4h0M417 494.4h0M413 497.5h0M408.2 472.8h0M393.9 508.3h0M409.8 499.3h0M446.6 497.7h0M401.3 497.4h0M420.1 493.3h0M394.2 483.8h0M422.9 499.4h0M108.6 528.5h0M144.7 628.8h0M139 553.7h0M102 524.7h0M87.9 538.1h0M182 586.7h0M96.9 591.8h0M154.4 580.6h0M100.6 537.6h0M194.5 557.8h0M118.7 538.4h0M137.7 499.4h0M82.4 479h0M127 563.8h0M98.8 512.7h0M115.8 526.6h0M114.8 539.2h0M417.7 532.9h0M399.8 541.8h0M383.3 577.9h0M403.1 550.1h0M378.7 555.7h0M395 555.3h0M404.7 518.2h0M383.9 517h0M426 492.4h0M404 541.3h0M377.8 568.5h0M400.7 540.9h0M399 495h0M401 544h0M379.1 556.9h0M372.9 585.4h0M416.2 502.4h0M399.9 531.1h0M401.2 533.7h0M383.6 544.5h0M415.9 548.7h0M369.5 529.5h0M415.9 544.7h0M378.5 542.3h0M374.8 544h0M398 533.3h0M382.5 553.3h0M415.6 561.5h0M396.7 549.4h0M398.8 528.5h0M377 555.4h0M398.1 518h0M373.7 505.2h0M394.8 543.6h0M402.3 554.1h0M368.3 533.7h0M386.6 541.4h0M228.7 575.7h0M249 563.7h0M235.1 562.2h0M261 576.4h0M238.5 573.5h0M237.8 590.1h0M238.7 563.1h0M244.7 586.7h0M237.8 540.8h0M239.5 569.8h0M223.2 561.9h0M248.3 550.2h0M213.8 562.7h0M236.3 573.5h0M220.7 525.2h0M256.8 586.4h0M245.6 583.9h0M242.9 616.8h0M219.3 565.6h0M248.5 533.1h0M225.2 593.6h0M199.1 541.3h0M213 580.1h0M254.5 596.6h0M227.9 561.2h0M228 538.4h0M260 587.8h0M239.3 550.4h0M242.8 573.4h0M246.6 550.1h0M235.3 546.4h0M233.2 564.6h0M252 528.2h0M204.3 590.3h0M240.1 548.5h0M232.7 551.6h0M258.8 572.6h0M238.8 564h0M217.6 518.3h0M236.4 569.3h0M191.2 574.8h0M262.8 542h0M220.1 553.7h0M223 519.1h0M266.5 574h0M213.2 540.9h0M273.3 556.7h0M246.7 570.3h0M238.5 570.7h0M247.5 594.6h0M349.3 574.6h0M318.7 536.4h0M335.8 556.5h0M339.7 565.8h0M303.4 568.9h0M341.6 567.4h0M321 545.8h0M365.8 585.1h0M335.3 576.4h0M338.4 579.7h0M359.7 588.8h0M374.5 564.6h0M334.6 583.7h0M336.5 571.6h0M340.9 574.8h0M342.4 564.6h0M352.8 563.5h0M323.6 533.9h0M290.8 539.8h0M359.9 571.3h0M355.8 603.1h0M337.3 545.8h0M355.9 559.8h0M365 566.4h0M361.5 586.1h0M377.9 573.3h0M350.4 553.8h0M351.6 567.2h0M326.5 579.6h0M326.8 559.3h0M305.2 580.6h0M397.5 557.4h0M313.4 574.6h0M356.1 564h0M351.4 556.6h0M340.8 565.4h0M343.2 568.8h0M308.3 525.5h0M301 566.6h0M305.2 596.1h0M335 589.5h0M360.7 577.8h0M350.3 549.8h0M317.8 591h0M358.3 572.1h0M339.9 579h0M342 564.4h0M274.1 581.8h0M313.6 582.8h0M352 567.1h0M165 627.4h0M178.6 639.2h0M154.7 639.2h0M153.3 634.9h0M145.7 605.7h0M167.4 636.2h0M167.2 620.6h0M169.3 629.8h0M160.6 622.5h0M160.7 648.8h0M177 622.6h0M177.5 598.8h0M135.5 638.4h0M149.6 640.1h0M184 620.4h0M192.8 629.5h0M140.7 640.3h0M197.4 615.6h0M185.7 625.9h0M159.5 636.6h0M175.2 648.9h0M205.6 598.8h0M203.9 623h0M186.6 606.1h0M246.2 613.8h0M190.8 616.8h0M213.1 611h0M225.8 616.8h0M169.1 629.6h0M177.9 621.2h0M159.3 562h0M220.5 624.3h0M213.2 612.8h0M168.8 593.1h0M198.3 610.6h0M190.7 614.2h0M224.6 644.1h0M194.2 604.7h0M151.1 588.9h0M202.1 622.1h0M188.5 628.6h0M182.1 577.2h0M181.4 601.1h0M218 604.7h0M177.8 611.2h0M173.3 582.2h0M149.9 579.9h0M220 601.2h0M234.5 648.8h0M203 612.5h0M217.2 580.1h0M185.3 580h0M181.6 646h0M193.1 612.5h0M178.6 619.5h0M204.6 599.9h0M196.3 543.9h0M200 602.7h0M189.5 617.7h0M199.8 582h0M180 616.6h0M200 610.7h0M196.1 624.9h0M192.3 615.2h0M192.1 602h0M204.2 622.2h0M202.1 615.2h0M205.1 614.1h0M181.3 653.1h0M208.9 680.2h0M207.6 613.8h0M172.3 607h0M208.1 632.5h0M200.1 591.2h0M188.6 609.8h0M173.5 606.6h0M171.6 609.2h0M217 643.7h0M168.6 576.5h0M217.6 600.9h0M223.2 605.4h0M187.9 610.2h0M201.5 596.5h0M210 628h0M204.2 601.5h0M226.7 603.2h0M214.5 596.1h0M171.7 616.5h0M217.8 597.5h0M210.7 596h0M224.4 585.1h0M188.8 568h0M172 618.4h0M234.6 630.2h0M197.2 605.8h0M219 617.7h0M213.1 627.7h0M215.9 625.2h0M242.4 599.6h0M195.9 589.7h0M205.7 598.1h0M235 631h0M227.9 621.8h0M226.4 555.1h0M223.1 622.9h0M230.3 577.2h0M197.9 617.6h0M218.8 607.6h0M234 604.9h0M196.3 607.7h0M201.3 556h0M226.8 627.7h0M217.5 634.2h0M213.7 598.9h0M224.1 606.3h0M211.2 584.2h0M219.9 614.2h0M194.1 623h0M196 603.8h0M214.4 623.7h0M223.5 598.1h0M220.1 617.4h0M212.8 602.5h0M209 608.7h0M214.1 602.5h0M221.5 607.6h0M211.9 595.5h0M210.3 567.7h0M212.2 609.6h0M215 593.7h0M205.3 617.6h0M220.8 569.4h0M215.9 610.6h0M209.8 610.5h0M229.5 642.1h0M205.4 617.5h0M228.7 603.8h0M227.3 595.2h0M233.1 600.9h0M196.2 611.5h0M237.9 597.5h0M284.2 644h0M280 589.4h0M276.9 619.5h0M325.3 622.1h0M251.9 626.2h0M275.3 608.3h0M265.2 587.8h0M237.8 591.4h0M279.8 628h0M259.9 613.8h0M302.2 643.5h0M281.9 616.4h0M279.4 617.4h0M245.6 573.4h0M284.1 611.3h0M311.2 599.7h0M248.8 611.9h0M272.1 592.5h0M258.3 620.6h0M285.4 604.5h0M258.9 621.9h0M260.9 614.6h0M251.5 625.9h0M224.6 613.9h0M294.8 597h0M276.2 615.7h0M271.1 602.9h0M263.1 602.8h0M279.8 577.1h0M275.4 608.5h0M277.8 608.7h0M281.7 593.4h0M295.8 612.5h0M283.6 613.4h0M251.4 627.4h0M292 588.9h0M271.1 637.1h0M286.7 600.6h0M331.2 629.3h0M243.1 614h0M268.1 609.3h0M275.3 605.8h0M250.9 579.4h0M266.7 648h0M277.8 607.2h0M266.6 600.2h0M277.8 619.5h0M280.2 586h0M245.8 603.3h0M302.8 615.5h0M282.6 606.3h0M263.9 609.4h0M263.4 611.4h0M275.9 597.6h0M284.1 619.5h0M275.7 581.5h0M299 634.7h0M243.8 595.8h0M286.3 613.9h0M266.6 600.7h0M307.7 612.3h0M265 602.3h0M287.4 594.8h0M319.4 610.8h0M283.4 612.2h0M245 606.6h0M253.2 603.1h0M258.9 593.4h0M299.8 592.3h0M293 591.4h0M263.3 615.7h0M378.1 634.5h0M340.2 609.3h0M357 601.8h0M320.8 612.4h0M360.9 615h0M370.3 645.5h0M405 604.5h0M383.4 599.8h0M368.7 612.3h0M377.9 632.6h0M364.4 596h0M374.3 624.5h0M368.7 613.6h0M349 649.3h0M357.9 630.4h0M358.4 627.3h0M356 636.4h0M364.8 600.8h0M386.7 607.9h0M339.6 628.2h0M375.8 605.7h0M363.9 583.4h0M374.8 617.1h0M346 616.8h0M349.3 589.6h0M376.7 618.2h0M343.1 616.5h0M373.4 603.8h0M341.9 590.7h0M376.4 617.1h0M349.9 619.2h0M364.8 611.4h0M364.6 619.1h0M371.3 631h0M366 615.2h0M386.9 621.5h0M362 597.2h0M343.8 607.2h0M379.7 587.9h0M375.9 615.1h0M345.6 600.2h0M367.7 581.4h0M391.4 636.8h0M389.5 606.6h0M409.5 667.9h0M384.5 596.9h0M408.3 625.9h0M418.6 586h0M363.1 613.2h0M389.9 621.6h0M409.8 624.5h0M416.1 626.3h0M430.3 629.7h0M404.9 622.5h0M421.9 593.8h0M385.4 635.3h0M387 635.6h0M389.1 622.9h0M415.6 621.1h0M381.9 609h0M382.1 610.7h0M445 600.9h0M418.9 656.2h0M397.6 598.1h0M419.5 632.2h0M431.3 628.3h0M362.1 632h0M444.2 601.2h0M417.5 625.5h0M407.9 612.3h0M381.5 641.8h0M398.4 628.9h0M424.6 637.8h0M425.7 605.5h0M431 601.7h0M321.2 649.6h0M317.8 645.8h0M318.5 648.6h0M327.6 622.2h0M308.3 652.8h0M301.2 636.4h0M325.3 637.1h0M304.3 625.3h0M306.8 648.7h0M333.3 612.3h0M316.7 622.2h0M314.1 646.5h0M310.7 622.9h0M326.2 619.8h0M337.2 694.6h0M293.5 692.6h0M309.3 639.7h0M334.7 615.1h0M306.3 678.9h0M260.8 619.2h0M327.2 610.1h0M304.7 665.8h0M322.6 622.6h0M315.7 645.7h0M321.7 630.6h0M314.5 612.5h0M339.2 601.4h0M324.4 589.2h0M335.8 645.1h0M331.6 598h0M304.2 641.6h0M309.7 618.2h0M311.9 610.4h0M306.4 620.3h0M298.3 614.9h0M303.4 621.3h0M325.9 631.3h0M321.5 601.7h0M306.2 643.5h0M302.7 630.8h0M325.6 604.4h0M346.4 616.8h0M294 636.4h0M345.4 632.1h0M302.9 650.4h0M322.5 640.2h0M323.3 654.5h0M314.2 645.3h0M342.7 628.6h0M313.5 642.7h0M313.4 633.9h0M313.3 635.2h0M326 612.3h0M338.3 645.5h0M312.8 622h0M326 627.2h0M330.7 619.2h0M303.1 635.4h0M263 629h0M289.9 657.6h0M312.5 611.6h0M285.2 660h0M295.2 623.1h0M259.7 652.4h0M292.4 650.8h0M283.3 660.4h0M276.1 639.2h0M297.2 663.9h0M292.2 624.6h0M292.3 637.3h0M282.4 650.7h0M270.4 640.3h0M272 645.9h0M289.9 665.6h0M313.4 661.3h0M294.6 648.5h0M263.4 651.7h0M270.8 639h0M293.4 631.1h0M283.8 662.4h0M283.7 653.6h0M261.7 639.4h0M307.2 640.3h0M290 651.2h0M264.3 659.3h0M253 668.9h0M269.5 649.7h0M257 693.2h0M287.6 659.2h0M271.7 683.2h0M303.6 697.9h0M276.9 636h0M270.9 671.7h0M269.1 658.6h0M278.2 667.8h0M312.8 652.9h0M297.4 669h0M294.4 614.5h0M280.2 645.9h0M264.7 642.2h0M304 651h0M264.1 668.4h0M277.7 648.2h0M265.3 656.6h0M288.4 635.9h0M302.8 637.4h0M310.4 656.9h0M265.1 667.2h0M277.2 638.3h0M272.1 666.2h0M254 657.6h0M320 651.2h0M274.8 650.9h0M283.5 642.8h0M312.2 665.2h0M286.4 642.9h0M273.7 635.3h0M281.5 626.4h0M288.5 634.1h0M290.5 671.6h0M274.6 627.3h0M286.4 647.6h0M241.9 674.1h0M287.7 670.2h0M311.7 660.7h0M246.9 654h0M231.1 663.3h0M228.9 629.2h0M213.9 635.1h0M225 672.6h0M244.6 683.9h0M207.1 669.3h0M228.9 659.8h0M230 661.8h0M238.6 665.7h0M236.8 668.6h0M217.2 661.1h0M221.8 660.2h0M241 645h0M205.1 656.7h0M235.8 632.8h0M239 654.7h0M241.9 664.7h0M234.3 625.3h0M230.9 661.8h0M230.9 629.7h0M195.7 711.3h0M258.9 677.5h0M213.5 649.8h0M246.3 661h0M224.9 633.3h0M227.4 695.3h0M241.4 687.9h0M230.1 661.4h0M237.5 657.8h0M231.4 657.4h0M236.9 650.4h0M226.2 610.2h0M244.3 675.8h0M240.3 685.1h0M234.7 679.9h0M220.4 654.4h0M241.5 669.1h0M210.7 643.5h0M259.4 653.4h0M241.6 643.7h0M209 644.4h0M251.4 654.5h0M222.5 611.3h0M255.7 645.3h0M199.3 665.1h0M210.3 658.2h0M226.3 658.1h0M262 637.9h0M237.1 673.8h0M230.7 640.2h0M239.5 664.9h0M213.2 623.3h0M240.4 655h0M244.4 629.6h0M206.2 644.3h0M244.6 659.3h0M238 704.8h0M323.3 667.6h0M346.7 665.5h0M339.1 654.7h0M327.7 652.3h0M320.6 654.3h0M308.1 636.6h0M328.6 687h0M313.6 678.3h0M319 652.7h0M301.1 651.6h0M323 664.7h0M338.3 671.1h0M349.3 673.6h0M322.6 656.5h0M329 663.3h0M322.3 663h0M339.1 686.6h0M328.8 629.2h0M300.6 656.2h0M344 655.8h0M325.1 664.3h0M355.4 648.1h0M316.3 686.6h0M363.2 653.7h0M325.8 647.6h0M321.5 660.4h0M328 630.9h0M342.6 634.1h0M315 669h0M305 649.8h0M333 672.8h0M386.5 652.8h0M340.2 659.3h0M328.3 666.6h0M361.5 639h0M313.2 652.2h0M310.3 654.3h0M303.5 653.7h0M253.9 662.1h0M339.7 636.8h0M348.2 666.7h0M303.3 691.6h0M303 659.7h0M337.4 627.9h0M338.2 650.8h0M329.8 646.2h0M264.5 715.3h0M280.9 716.8h0M291.2 683.1h0M260.8 693.2h0M286.1 702.2h0M271 710h0M268.1 711.9h0M260.3 717.1h0M278.7 736.3h0M258.3 706h0M253.9 684.4h0M304.3 697.4h0M271.6 707.2h0M279.3 694.4h0M293.5 675h0M283.3 698.9h0M291.2 734.6h0M269.7 714.5h0M294.7 704.4h0M280.7 743h0M271.6 692.3h0M213.6 605.4h0M226.7 623.2h0M244 631.5h0M241.8 617.5h0M219 597.6h0M240.7 614.3h0M229.7 580.1h0M186.4 640.7h0M208.1 603.2h0M225.4 632.8h0M218.6 616.9h0M270.2 610.2h0M240.5 604.2h0M215.3 611.2h0M232.8 585.3h0M253 599.6h0M216.1 624.5h0M225.3 604.4h0M257.2 613.3h0M191.6 633.8h0M247 620h0M255.6 615.5h0M222.5 615.4h0M217.4 624.4h0M237.4 612.2h0M215.9 638.3h0M243.2 631.7h0M240.5 622.6h0M212 598.9h0M275.7 622.4h0M237.2 630.5h0M236.6 647.6h0M246.9 594.6h0M235.5 627.4h0M222.6 627.6h0M234.1 609.2h0M234.4 626.8h0M248.8 623.6h0M252.2 623.5h0M217.4 613h0M241.5 605.8h0M231.1 648.1h0M221.9 611.6h0M262.4 598.4h0M264.7 678.7h0M221 630.6h0M237.7 612.9h0M207.2 606.7h0M228.3 598.8h0M221.8 624.3h0M248.4 592h0M237.9 610.3h0M213.1 581.8h0M249 584.1h0M207.3 631.8h0M202.1 593.4h0M222 624.7h0M239.2 620.2h0M214.9 607.6h0M250.2 608.4h0M251.3 593.2h0M238.1 624h0"/>
<path stroke="#6f0000" d="M743 316.8h0M747.6 309.6h0M719.1 299.6h0M744.4 322.7h0M722.4 299.3h0M737.9 340.4h0M731.2 321.8h0M733.8 254h0M717.7 323.1h0M745.8 318h0M740.2 306.2h0M742.5 349.7h0M758.2 347.5h0M750.8 318.9h0M767 340.1h0M722.8 290.5h0M776.4 333.9h0M751.3 354.6h0M746.5 310.2h0M720.6 311.6h0M731.6 339.1h0M768.4 329.4h0M734.4 292.9h0M731.5 289.7h0M775.5 303.1h0M790.6 422.6h0M761.2 363.1h0M778 384.6h0M773.9 333.7h0M767.7 376.9h0M788 390h0M724.6 383.4h0M763.1 388.5h0M791.2 385.5h0M772.3 371.9h0M764.4 377.5h0M750.8 380.7h0M707.8 317h0M747.6 366.9h0M765.8 352.8h0M782.6 375.6h0M766.4 352.8h0M762.2 372.9h0M732.6 379.2h0M768.4 376.5h0M746.5 374.7h0M779.7 359.7h0M762.7 355h0M752.2 402.1h0M744.8 383.7h0M770 332h0M782.6 368.9h0M774 358.5h0M769 370.3h0M710.1 375.3h0M627.2 350.8h0M579.3 355.2h0M635.9 380.6h0M576.6 343.7h0M623 348.2h0M606.7 361.5h0M623.4 370.3h0M606.3 367.2h0M622.7 384.1h0M635.1 365.6h0M621.6 354.8h0M597.1 387.9h0M637.6 367h0M604.3 389.2h0M604.4 379h0M618.7 369.2h0M621.4 372.5h0M598.7 388.9h0M618.4 361.5h0M599 353.8h0M620.7 350.6h0M610.1 369.8h0M619.4 365.1h0M611.6 353.3h0M612.4 360.5h0M598.3 373.7h0M604.1 358.3h0M600.6 354.1h0M589 379.5h0M592 361.9h0M639.9 360.7h0M616.3 363.1h0M591.2 350.6h0M607.4 388.3h0M579.7 384.2h0M597.2 368.9h0M607.3 366.7h0M596.4 349.8h0M628.3 377.2h0M612 380.8h0M595.7 376.6h0M612.2 357.3h0M618.1 391.3h0M652.6 382.8h0M597.6 367.5h0M605.8 392.9h0M589 391.1h0M601.4 391.3h0M600.5 400.8h0M586.7 401.3h0M610.2 373.7h0M576.9 377.9h0M599.9 381.9h0M590.6 438.3h0M560.9 360.6h0M572.7 388.4h0M614.8 373.6h0M591.3 382.5h0M603.2 374.6h0M587.1 379.2h0M573.9 354.3h0M619.9 392.7h0M576.2 389.8h0M617.8 390.7h0M594.7 392.3h0M597.3 371.3h0M622.8 392.5h0M609 389h0M607.6 377.8h0M618.4 378.8h0M602.4 388.5h0M582.1 389.8h0M618.1 391.2h0M608.3 380.3h0M623.6 405.1h0M598.3 435.3h0M606.5 370.8h0M602.8 384.7h0M601.7 410h0M623.9 386.6h0M580.6 370.9h0M599.9 386.6h0M586.1 401.3h0M638 368.1h0M581.9 409h0M621.4 396.7h0M619.2 368.5h0M598.4 451.2h0M613.2 368.4h0M606.4 396.2h0M610.4 388h0M627.9 354.4h0M617.2 438.7h0M612.4 381.1h0M615.8 358.5h0M593.9 398.1h0M617.5 394h0M619 397.3h0M610.5 404.9h0M583.5 375.1h0M641.6 439.8h0M664.1 431.5h0M644.9 418.8h0M650.5 406h0M630.2 403.2h0M639.6 397.5h0M635.5 415.5h0M634.4 414.6h0M615 424.8h0M645.1 400.8h0M624.7 402.2h0M657.2 415.8h0M647.8 405.5h0M633.8 385.2h0M626.4 400.4h0M661.7 436.1h0M651 420.6h0M642.1 421h0M651.9 400.8h0M650.5 405.6h0M650.4 427.6h0M650.7 387.4h0M642.9 407.4h0M638.3 402.7h0M639.1 418.5h0M656.1 414.9h0M649 390h0M669.6 420.8h0M623.9 407.3h0M632.9 410.3h0M669.9 420.9h0M653.7 403h0M672 411.7h0M624.6 404.9h0M642 417.4h0M633.9 418.4h0M660.8 404.5h0M650.7 383.8h0M622.6 429h0M641.1 388.9h0M650.5 442.5h0M645.6 397.1h0M673 414.5h0M638.4 394.3h0M654.8 416.2h0M639.2 406.9h0M657.7 425.2h0M637.6 393.6h0M657.5 411.3h0M651.5 371.8h0M644.1 411.1h0M648.7 427.6h0M650.1 403.3h0M641.8 394.7h0M609.8 419.8h0M665.4 412.8h0M626.9 394.4h0M624.2 378.7h0M646.4 402h0M643.4 416.3h0M659.6 396h0M631.7 422.3h0M627.4 416.9h0M653.1 422.9h0M650.6 419.5h0M676 413.5h0M644.4 429.6h0M653.6 432.5h0M672.3 399h0M641 397.7h0M666.1 408.8h0M656 423.3h0M639 427.9h0M653.7 413.4h0M642.7 415.2h0M739.9 388h0M740.5 384.4h0M737.3 385.4h0M734.8 418.7h0M754.9 407.8h0M726.8 411.2h0M738.7 390h0M681.1 415.2h0M706.4 404.2h0M727.4 421.8h0M704.7 418.5h0M731.1 359h0M736.7 364.2h0M732.1 364.1h0M744.1 424.4h0M700.4 399.5h0M735.6 394.2h0M723.3 411.6h0M737.2 405.7h0M735.3 456.8h0M733.9 361.4h0M735.7 395.4h0M727.5 390.9h0M739.9 372.2h0M729.4 414.5h0M724 379.8h0M722.5 411.1h0M738.4 420.1h0M722.3 416h0M690.2 351.4h0M714.9 395h0M718.1 419.5h0M760.8 364.3h0M724.1 414.2h0M721.2 459.7h0M732.6 374.4h0M721 440.3h0M726.9 390.2h0M741.4 407.9h0M754.7 409.2h0M724 381.3h0M744.2 390.6h0M710.9 397.6h0M734.5 440.5h0M727.9 431.4h0M726.3 399.3h0M738.7 401h0M731.1 386.3h0M700 422h0M745.2 396.8h0M743.3 388.7h0M747.3 404h0M728.2 410.2h0M743 405.6h0M722.2 389.8h0M744.1 414h0M729.9 400.2h0M718.3 409.7h0M704.1 414.8h0M714.7 385.2h0M740.5 400.9h0M749 399.4h0M718.1 369.5h0M738.3 385.9h0M715 395.2h0M718.6 420.8h0M753.2 422.2h0M731.1 362.2h0M717.4 457.2h0M716.9 396.4h0M723.4 406.3h0M736.7 404.3h0M727 389.9h0M719.6 380.1h0M726.7 396.5h0M734.3 400.1h0M745.4 370.6h0M726 367h0M731.7 373.7h0M720.5 398.9h0M738.9 418.8h0M720.1 370.8h0M758 389.3h0M751.8 390.5h0M725.8 413.5h0M703.8 420.1h0M667.6 444.4h0M673.5 463h0M708.6 412.8h0M689.5 454.3h0M702.3 428.9h0M683.8 426.8h0M693.1 436.5h0M676.9 444.5h0M697.4 438.5h0M656.4 433.4h0M721.5 431.7h0M670.1 463.5h0M715.5 417.8h0M684.1 442h0M715.5 423.2h0M693.7 427.2h0M722.6 397h0M714.9 435.8h0M688.5 432.5h0M682.9 426.4h0M685 377.8h0M690.6 453.5h0M698.1 446.4h0M681.3 418.8h0M699.8 432.8h0M689.1 420.6h0M690.4 417.7h0M670.6 410.7h0M706.2 422.5h0M672.7 428.4h0M708.2 431.3h0M690.9 425.7h0M688.9 423.9h0M690.2 428.7h0M702.4 436.9h0M697 430.8h0M691.1 413.8h0M670.3 440.6h0M695 426.9h0M670.5 440.2h0M705.6 448.7h0M694.9 409.2h0M695 425.9h0M690.9 418.5h0M662.8 423.8h0M697.4 418.6h0M715 447.2h0M686.4 419.7h0M673.3 449.9h0M692.1 429.6h0M699.9 416.6h0M713.7 437.7h0M677.8 430.7h0M669.9 421.6h0M708.6 438.8h0M656 432h0M687.5 415.6h0M708.9 421.6h0M690 440.8h0M681.8 427.8h0M695.8 432.4h0M685.1 415.3h0M707.7 433.1h0M691.6 443.3h0M708.6 438.7h0M699.8 428.9h0M690.9 425.7h0M680.4 411h0M704.3 434.4h0M741.2 421.8h0M769.6 366.2h0M746 418.3h0M762.1 419.7h0M758.1 412.9h0M756.1 405.9h0M750.5 433.1h0M759.4 430.9h0M729.7 386.4h0M718.1 431.8h0M756.1 409.8h0M739.2 393.3h0M763.5 419.1h0M756.5 367h0M750.3 429.4h0M755.3 379.4h0M760.4 417h0M723 449.7h0M763.8 425.7h0M767.4 383.1h0M753.4 440.7h0M753.7 416.2h0M748.3 409.2h0M718.8 405h0M763.8 398.8h0M738.5 398.5h0M735.4 420.9h0M774.8 413h0M742.9 424h0M761.6 440.2h0M738.1 450.5h0M762.5 383.7h0M735.5 433.9h0M759.7 431.2h0M743.9 438.9h0M739.1 356.3h0M759.9 424.5h0M750.3 426.9h0M751 380.7h0M728.1 417.2h0M774.8 396.2h0M758.9 443.8h0M762.9 436.3h0M766.9 441.3h0M763.7 403.7h0M744 438.9h0M774.9 426.9h0M744.3 444.2h0M762.2 429h0M752.5 431.2h0M717.9 371.3h0M746.7 409.3h0M760.1 400h0M735.6 445.7h0M750.6 388.6h0M743.5 440.4h0M769.1 375.1h0M756.5 419.5h0M760.7 380.6h0M747.4 399.4h0M736.5 439.1h0M729 476.7h0M753.3 429.4h0M738.1 476.2h0M744.2 422.6h0M691.4 465.6h0M703.7 430.1h0M707 468.4h0M703.2 493.2h0M688.5 447.6h0M671.9 451.1h0M665.5 425.6h0M681.8 439.2h0M674.5 436.8h0M645.4 435.5h0M689.6 458.8h0M675.9 465.3h0M682.7 436.5h0M669.6 426h0M689.4 467.3h0M682.7 488.2h0M699 435.4h0M710.4 421.3h0M669.2 464.7h0M680 458.3h0M663.8 448.4h0M664.8 457.4h0M641.8 506.3h0M697.3 463.6h0M657.5 425.5h0M705.4 421.5h0M686.2 448.1h0M680.1 410.5h0M683.3 460.5h0M683.5 458h0M690.5 434h0M702.5 453.1h0M673.4 475.1h0M683.9 468.1h0M690.7 443.3h0M694.3 445.4h0M687.8 447h0M705.3 435.9h0M696.8 443.2h0M696.9 448.5h0M672.9 461h0M659.9 464.8h0M668.8 470h0M682.3 472.8h0M676.5 440.7h0M655.2 445.9h0M666.5 461.8h0M702 450.5h0M682.4 451.3h0M681.9 428.8h0M667.8 444.3h0M675.1 461.8h0M677 430.7h0M688.5 471.4h0M698.5 481.6h0M674.3 472.3h0M690.8 455.4h0M716.2 420.7h0M688.6 442.3h0M672.9 440h0M697.2 423.6h0M677 441.2h0M682.6 439.9h0M660.8 421.6h0M650.4 447.3h0M654 476.3h0M672.7 441.7h0M685.5 465.9h0M683.9 452.7h0M691.3 445.9h0M652.9 439.8h0M692.5 434.3h0M662.4 442.5h0M688.8 452.9h0M685.9 438.1h0M547.9 445.2h0M536.8 458.2h0M550.8 436.9h0M545.2 423.1h0M547.1 461.2h0M545.2 453.9h0M549.5 394.1h0M560.6 446h0M529.5 460h0M570.9 464.6h0M531.5 416.2h0M549.8 430.6h0M514.8 439h0M540.4 456.9h0M534.2 454.5h0M547.2 449.9h0M532.3 431.7h0M544 455.7h0M524 445h0M599 459.6h0M567.4 457.1h0M554 437.8h0M563.1 438.4h0M527.9 400h0M558.9 441.3h0M627.7 471.5h0M620.6 459h0M621.2 461.6h0M633.9 462.5h0M600.7 438.1h0M607.5 479.5h0M601.2 485.3h0M608.3 473.1h0M625.9 453.3h0M609.1 488.8h0M613.6 458.9h0M596.5 480.9h0M625.8 463h0M602.4 480.3h0M642.5 464.5h0M582.8 475.8h0M616.4 480.7h0M592.5 448.2h0M605.8 457.4h0M604 439.4h0M613.9 472.3h0M596.9 493.9h0M602.2 482.8h0M614.5 475.1h0M606.3 473.7h0M589.1 467.8h0M679.4 468.7h0M652.9 447.4h0M620.8 447.3h0M605.3 460.8h0M610.2 502.2h0M623.3 464.4h0M631.2 474.4h0M624.7 487.9h0M609.8 491.8h0M612.5 484.9h0M606.8 456.8h0M619.6 455.9h0M623.5 454.3h0M618 475.8h0M618.5 457h0M629.2 466.5h0M608.9 463.9h0M633.5 473.7h0M584.5 476.1h0M591.7 462.2h0M599.9 497.7h0M618.1 464h0M621 477.6h0M617.5 472.9h0M609.5 478.5h0M614.8 459.9h0M625.3 478.7h0M605.3 431.1h0M585.2 471.2h0M622 474.6h0M644.6 429.1h0M639.7 485.6h0M671.8 474.2h0M665.8 497.8h0M665.2 474.3h0M666.6 482.9h0M644.4 463.2h0M621.1 498.9h0M637.3 476.2h0M622.4 485.1h0M630.8 473.8h0M632.4 436.4h0M655.9 449.3h0M676.7 485.4h0M676.4 451.4h0M674.4 488.7h0M669.2 454.2h0M659.5 487.6h0M663.7 447h0M647.7 459.7h0M658.6 457h0M637.4 478.6h0M657.3 508.8h0M645.4 461.6h0M640 457.4h0M654.6 458h0M674.1 480.8h0M668.8 468.4h0M674.5 466.4h0M664.9 472h0M628.3 465.9h0M627.9 495.5h0M666.7 469.3h0M648.5 458.7h0M666 443.6h0M661.3 433.3h0M678.4 460.9h0M639.4 457h0M651.8 481.3h0M632.4 477.8h0M678 493.4h0M641.2 472.1h0M632.7 461.2h0M672.9 475h0M653.5 454.2h0M670 460.5h0M639.7 484.5h0M634.6 495.2h0M642.4 456.3h0M658.4 456.7h0M657.9 463.5h0M653.4 455.4h0M665.7 478.3h0M652.2 429.9h0M673.5 455.4h0M646.5 488.6h0M653.1 461.4h0M664.7 446.5h0M650.5 494.7h0M662.8 455.4h0M643.7 479.9h0M643.1 456.8h0M676.6 472.2h0M660.1 465.3h0M614.3 492.7h0M603.9 509.5h0M595.2 501.9h0M612.9 496.9h0M621.2 520.8h0M604.4 511h0M601.7 531.7h0M640.8 502.4h0M580.4 470.1h0M613.6 522.8h0M644.1 489.8h0M609.4 526.1h0M615.3 498.6h0M634.4 503.7h0M633.1 469.4h0M670.5 500.2h0M609.2 522h0M619.6 514.6h0M641.5 497.7h0M620.2 494.4h0M613.6 506h0M634.7 504.2h0M612.9 497.7h0M636.5 487.3h0M602 497.5h0M705.2 515.9h0M726.5 475.5h0M679.8 538.4h0M740.1 452.8h0M715.3 485.2h0M699 431.3h0M683.6 491.5h0M740.2 463.7h0M693.9 495.4h0M703.3 490.9h0M665.1 508.3h0M718.2 507.5h0M717.1 467.5h0M733.6 472.9h0M713.1 512.2h0M703.6 489.7h0M700.6 503.6h0M702.4 465.8h0M711.1 493.1h0M696.3 510.3h0M687.4 505h0M711.1 499.3h0M697.4 466.5h0M700.2 472.9h0M716.6 489.8h0"/>
<path stroke="#1f4d1b" d="M441.7 661.9h0M395.3 601.5h0M463.2 747h0M461 795.8h0M423.5 665.8h0M433.2 716.4h0M445.7 720.6h0M440 695.6h0M433.4 630.5h0M427.9 647.9h0M438 675.1h0M422 758.4h0M458.6 760h0M435.2 752h0M470.2 711.5h0M451.9 796.9h0M453.4 747.6h0M475.8 764.8h0M463.3 733.7h0"/>
<path stroke="#b9cdd9" d="M219.7 288h0M150.7 265.2h0M212.8 228.7h0M189.3 263h0M201.9 292.8h0M202.5 295.5h0M211.5 289.4h0M204.7 213.1h0M175 233.1h0M163.5 238.1h0M179.7 247.6h0M169 233.6h0M195.8 293.8h0M201.6 256.5h0M153.4 247.1h0M204.6 267.8h0M195.3 240.7h0M181.1 241.9h0M199.9 231.4h0M215.4 281.2h0M193.3 272.3h0M190.3 247.7h0M135.1 359.3h0M128.8 319.5h0M105.6 345.6h0M76.7 324h0M143.1 332.5h0M144.8 311.7h0M130.5 352.9h0M138.5 329.9h0M103.1 301.4h0M163.6 326.6h0M127.7 351.6h0M140.4 319.7h0M152.6 294.9h0M118.9 338.6h0M169 296.6h0M102 364h0M152.7 309.8h0M126.1 332h0M148.7 326.6h0M139.2 354.2h0M124.5 389.3h0M136.7 328h0M194.6 331.5h0M236.4 290.4h0M225.5 301.6h0M249.9 301.8h0M180 342h0M181.4 319.4h0M217.1 306.2h0M194.7 322.6h0M218.6 349.5h0M235.7 320h0M211.4 330.1h0M220.8 299.2h0M199.9 349.2h0M218.5 318.2h0M205.1 338.7h0M199.1 310.2h0M180.4 340h0M188 326.1h0M207.5 314.2h0M193.1 307.8h0M218.6 331.9h0M243.3 320.6h0M192.9 310.6h0M216.6 311.8h0M221.2 321h0M176.4 333h0M196.5 289.1h0M187.6 361.9h0M212.3 323.2h0M199.1 320.1h0M226.6 330.6h0M197.3 340.1h0M234 325.9h0M237.6 330.5h0M193.5 344.2h0M224.1 308.7h0M233.2 325h0M227.9 320.2h0M232.3 327.5h0M225.7 347.6h0M219.3 317h0M243.6 335.2h0M225.8 291.9h0M242.1 325.3h0M216 335.3h0M226.8 358.8h0M221.3 306.7h0M220.2 319.9h0M243 348.1h0M204.9 292.2h0M210.4 327h0M209.3 325h0M203.5 327.9h0M228.9 333.5h0M221.1 361.4h0M261.8 320.8h0M217.3 311.5h0M229.4 335.5h0M234.8 318.5h0M212.6 336.2h0M245.6 353.2h0M208.5 318.8h0M228.1 332.6h0M200.8 277.3h0M221.5 348h0M206.4 318.1h0M241.7 325.6h0M220 351.4h0M225.2 342.7h0M208.5 298.5h0M231 330h0M228.6 343.5h0M201.8 315.8h0M230 335h0M215.7 297.6h0M199.8 340.9h0M235.4 307.7h0M233.7 325.4h0M227 323.1h0M263 317.7h0M231.4 348.8h0M291 330.1h0M201.8 337.9h0M266.2 338.3h0M288 324h0M253.3 360.6h0M247.9 347h0M236.6 319.5h0M257.2 350.5h0M211.4 346.9h0M268.1 322.1h0M272.1 327.6h0M260.1 351.9h0M255.6 347.9h0M258.5 301.3h0M248.5 316h0M256.7 329.2h0M227.8 330.5h0M254.3 329.4h0M249.4 331.8h0M259.1 353.6h0M279.1 321.3h0M277 316.7h0M274.7 326.6h0M271.9 353.1h0M259.8 328.7h0M231.1 310.3h0M266.4 330.3h0M280.3 303.3h0M280.7 318.2h0M249.9 321h0M244.6 325.6h0M229.8 342.9h0M296.9 319.6h0M268.5 321.7h0M260.7 339.7h0M265 332.7h0M269 341h0M235.9 344.6h0M243.3 342.9h0M277.4 325h0M273.5 342.8h0M236.7 330.8h0M265.2 326.9h0M223.3 317.1h0M253.7 317.7h0M295.5 320.8h0M269.9 324.1h0M282 311.6h0M312.4 345.7h0M284.1 360.7h0M303.9 346.1h0M271.8 306.9h0M263.2 307.3h0M305.6 301.5h0M269.4 298.1h0M268.5 315h0M287.2 301.5h0M270.7 310.2h0M304.2 323.6h0M289.4 301.2h0M274.9 338.9h0M308.5 309.1h0M260.9 319.4h0M316.4 351h0M272.9 323.5h0M306.8 306.7h0M282 319.7h0M254.1 319.2h0M305.2 291h0M326.9 312.7h0M311.3 308.6h0M286.3 291.6h0M297.1 336.4h0M320 347.2h0M238.7 330.5h0M276.4 351.1h0M292.6 325.2h0M298.6 313.2h0M301 346.3h0M312.9 332.7h0M321.6 311.3h0M357.5 290.3h0M349.5 302.9h0M379.5 296.5h0M314.9 324.8h0M363.2 310.2h0M340 298.5h0M345.1 343.4h0M358.7 299.7h0M350 306.5h0M364.5 285.3h0M335.6 305.2h0M364 303.2h0M326.7 304.6h0M378.1 297.4h0M378.6 304.3h0M362.3 290.9h0M331.5 317.8h0M361.4 297.5h0M352.1 279.8h0M315.2 293.6h0M352 348h0M165.3 377.3h0M173.4 365.5h0M165.1 370.2h0M179.7 354.6h0M185.5 344.7h0M153 376.6h0M165.3 358.4h0M190.3 333.8h0M174.2 336.1h0M142.1 333.7h0M175.4 382.1h0M156.1 364h0M168.7 359.5h0M217 353.4h0M163.5 363.1h0M175 390.7h0M165.9 369.5h0M138.2 412.9h0M187.2 361.2h0M150.6 369.3h0M169.9 389.8h0M198.2 354.7h0M170.6 346.3h0M153 365h0M158.8 358.4h0M148.2 355.8h0M148.3 364.1h0M178.5 356.3h0M203.5 374.1h0M171.2 365.2h0M150 360.9h0M164.1 381.2h0M207.8 399.6h0M193.5 353h0M146.7 381.2h0M146.8 362.3h0M175.7 366.5h0M150.6 377.3h0M199.3 353.1h0M164.6 377.8h0M165 382.3h0M197.9 327.7h0M204.8 352.6h0M180.5 356.7h0M205.8 338h0M133.9 378.6h0M151.9 355.3h0M165.5 362.3h0M181.5 376.7h0M181.8 350.9h0M189.4 374.1h0M307.5 411.4h0M318.5 355.1h0M314.3 374.6h0M322.7 368.7h0M334.6 364.4h0M336.4 359.6h0M314.3 352h0M314.6 367.2h0M348.5 394.4h0M306.9 400.5h0M327.3 369.3h0M287.1 390.2h0M357 380.1h0M329.7 401.8h0M343.3 390.9h0M332.4 368h0M338.6 354.3h0M346.8 364.1h0M340.3 372.3h0M335.9 360.1h0M324.4 386.6h0M311.9 371.9h0M138.3 378.8h0M128.7 400.1h0M101.6 371.3h0M145.6 371.1h0M144.5 388.7h0M125.4 389.9h0M131.7 401.1h0M100.3 404.3h0M128.3 383.9h0M149.1 400.1h0M141.3 369.7h0M125.6 346.9h0M139.6 378h0M159.1 400.5h0M135.2 389.6h0M144 379.3h0M144.5 389.8h0M146.7 363.9h0M118.9 386.8h0M111.1 379h0M154.6 382h0M139.2 337.8h0M129.3 393.2h0M99.6 388.3h0M122.3 392.6h0M115 402.1h0M175 404.6h0M150.7 354.6h0M147.2 385.3h0M132 401.9h0M129.3 397.8h0M119 394.9h0M133.3 381.9h0M154.3 392.9h0M129.2 371.9h0M125.4 382.1h0M127.4 388.4h0M137.1 402.6h0M106.2 397.1h0M141.3 458.5h0M135.4 393.9h0M237.3 380.8h0M262.7 393.4h0M249.8 371.3h0M268.2 378.9h0M292.6 374.9h0M291 384.7h0M303.1 380.4h0M271.2 354.1h0M275.7 387.7h0M271.2 402.7h0M288.1 368.2h0M286.6 395.3h0M270.9 376.6h0M285.3 385.2h0M273.5 388.6h0M254 360.7h0M292.1 400.3h0M290.1 383.3h0M257.7 358.9h0M171.3 417.4h0M193 411.8h0M183.2 406.5h0M192.5 425.2h0M182.7 400.8h0M231.4 371.6h0M213 370.8h0M191.8 400.9h0M215.9 347.1h0M193.6 393.7h0M195.9 421.8h0M171.7 389.6h0M188.5 377.3h0M186.2 370.3h0M186.4 358.4h0M199.5 386.5h0M185 389.5h0M184.6 389h0M196 400.5h0M187 391.8h0M159.1 394.9h0M191.2 384.4h0M127.4 407.9h0M190.9 394.2h0M201 384.8h0M224.8 373.2h0M200.4 414.4h0M177.5 397.2h0M201.1 411h0M197.4 408.3h0M196.4 400.9h0M207.6 390.3h0M177 381h0M214.7 379.1h0M178.9 383.6h0M208.7 361h0M197.5 379.6h0M191.2 385.7h0M141.9 378.2h0M184.8 407.8h0M204.1 372.7h0M189.3 389.9h0M179.7 390.2h0M207.3 387.9h0M188.1 383.5h0M203.1 397.3h0M194.9 416.6h0M191.7 367.1h0M194.7 388.5h0M153.2 416.6h0M388.4 403.5h0M375.8 385.4h0M371.8 384.5h0M353.3 377.3h0M367.8 427.8h0M400.6 387.9h0M352.8 367.5h0M359 399.2h0M396.9 385.7h0M383 365.6h0M369.5 393.7h0M402.6 377.3h0M402.3 341.7h0M389.4 369.2h0M402.3 379.5h0M400 379.8h0M348.1 391.9h0M368.7 389.7h0M385.1 379h0M380.5 379.7h0M364.7 371.6h0M381.2 379h0M399.1 373.3h0M384.4 388h0M403.1 372.4h0M370.8 398.3h0M380.9 401.6h0M389.1 397.5h0M383.3 378.4h0M349.3 403.3h0M367.3 399h0M377.5 380.4h0M413.6 356h0M388.2 406.1h0M393.8 395.1h0M370 396.5h0M382 375.1h0M350.4 389.6h0M381.2 383.2h0M399.7 409.4h0M376.3 374.5h0M117.3 413.1h0M105 441.3h0M116.7 436h0M117.4 425.3h0M124.8 380.7h0M107.4 407.7h0M100 423.7h0M122.7 425.7h0M101.4 425.7h0M118.5 372.1h0M112.2 414.9h0M104.7 410.8h0M106 426.4h0M96.1 440.5h0M92.2 419.1h0M115.7 408.3h0M126 420.2h0M111.4 440.3h0M141 376.3h0M138 426h0M163.3 416.8h0M156.2 402h0M170.4 422.5h0M150.3 403.9h0M161.4 402.1h0M197.2 429.9h0M142.5 409h0M160 407.2h0M153.8 428h0M149.9 429.6h0M163.2 442.1h0M171.1 416h0M179.7 420.4h0M150.8 401.8h0M149.8 425.5h0M178.1 390.6h0M160.9 426.6h0M158.4 446.8h0M156 419.8h0M159.4 428.2h0M164 435.9h0M146.5 437.3h0M161.4 429.4h0M146.3 441.6h0M153.5 408.3h0M169.6 440.6h0M172.1 433.5h0M143.9 446.6h0M159.9 465.7h0M182.1 437.2h0M156 389h0M154.9 422.6h0M180.9 447h0M175.8 406.5h0M174.3 425.3h0M164.3 422.1h0M192.3 401.6h0M303 415.5h0M335.5 392.7h0M326 416.7h0M304.2 437.6h0M317.8 424.2h0M314.6 418.9h0M287.1 457.8h0M308.6 446.2h0M333 426.7h0M306.4 424.7h0M322.9 407.8h0M297 417.3h0M304.9 375.1h0M275.1 422.6h0M286.6 408.5h0M339.5 411.7h0M299 421.8h0M303.6 416h0M279.3 413.8h0M267.2 345.8h0M336.5 394.1h0M331.9 385.7h0M381.9 416h0M374.4 417.5h0M402.2 414h0M391.5 406.1h0M396.1 441.2h0M403.1 451.3h0M365 388.3h0M422.6 408h0M366.5 394.5h0M393.1 418.3h0M421.8 413.5h0M411 431h0M408.3 408.8h0M414.5 413.5h0M350.8 391.3h0M422.7 414.7h0M391.7 420.1h0M375.7 431h0M382.2 419.3h0M390.6 420h0M401.6 430.1h0M393 391.1h0M390.3 426.9h0M384.4 406.3h0M383.7 402.8h0M397.8 421h0M372.2 386.2h0M389.6 430.9h0M395.4 466h0M416.6 386.3h0M398.4 411.8h0M386 419.9h0M420.4 421.7h0M399.5 416.3h0M400.6 416.2h0M412.2 398.2h0M415.7 434.6h0M393.6 409.8h0M443.7 404.7h0M393 412.1h0M374.1 431.5h0M235.5 462.6h0M231.8 469.2h0M231.3 483.4h0M235.5 479.1h0M233.9 488.4h0M234.7 492.2h0M238 460.6h0M239 452h0M230.3 498.6h0M245.9 463.2h0"/>
<path stroke="#f9848e" d="M462.9 114.7h0M439 161h0M435.3 132.7h0M466.5 100.1h0M462.9 113.7h0M450.7 111.9h0M466.5 146h0M469.8 138.2h0M454.9 114.8h0M477.2 120.6h0M448.9 122.3h0M445.2 117.5h0M454.1 121.5h0M446.2 112.5h0M450.9 110.4h0M474.8 118.8h0M454.6 145.1h0M445.4 144.8h0M443.5 122.3h0M451.5 121.7h0M453.5 110.8h0M448 99.3h0M451.4 112.5h0M466.6 132.1h0M448.7 117.4h0M449.3 143.1h0M459.8 141.6h0M438.6 105.8h0M438.4 128.4h0M459 112.5h0M436.2 115.1h0M462.2 140.4h0M451.5 121.1h0M447.5 116.7h0M463.1 117.1h0M446.3 116.6h0M456.2 127.2h0M441 156.3h0M408.7 125h0M426.7 139.7h0M445.5 91.4h0M447.5 112.8h0M462.2 155.9h0M448.2 110.9h0M445.1 116.3h0M437.8 120.9h0M422.8 127.2h0M436.4 128.6h0M455.2 125.8h0M439 133.1h0M445.8 116.3h0M466.6 147.3h0M427.7 112.4h0M443.2 134.4h0M436 126.4h0M438.4 133.3h0M446.7 128.4h0M441.6 110.1h0M449.1 119h0M456 112.4h0M506.8 112.4h0M469.5 114.2h0M479.3 126.8h0M499.9 103.4h0M465.6 99h0M484.3 98.7h0M498.4 108.8h0M486.7 102h0M495.3 124.7h0M496.8 112.5h0M498.1 94.8h0M515.5 134.8h0M481.7 96.2h0M493.9 111.9h0M502 126.9h0M469.7 103.5h0M484.6 128.3h0M483.7 114.9h0M505.7 136.6h0M498.1 119.2h0M494.5 112.9h0M495.8 123.1h0M472.8 117.3h0M441.1 145.1h0M491.7 119.6h0M471.7 97.4h0M526.2 125.1h0M470.3 120.6h0M499.9 116.2h0M488.5 121.6h0M490.9 94.8h0M504.2 118.9h0M492.3 113.3h0M491.7 123.4h0M481.2 127.6h0M517.8 125h0M515.6 129.9h0M477.5 120.6h0M504.2 132.1h0M484.3 107.7h0M477.4 125.1h0M488.2 121.7h0M534.4 127.9h0M511.7 127.2h0M495.3 120.4h0M470.1 101.8h0M478.6 109.8h0M513.7 142.9h0M496.4 121h0M481.6 121.5h0M465.5 122.7h0M510.2 127.2h0M483.4 109.8h0M472.5 121.2h0M480.7 110.4h0M482.6 126.7h0M520.4 140h0M541.8 133.4h0M527.5 102.5h0M521.4 116.9h0M510.7 128.2h0M517.8 137.9h0M544.5 101.9h0M526.2 92.1h0M520.1 96.6h0M548.4 110.3h0M528.5 113h0M526 99.9h0M551.1 107.7h0M537.5 109h0M549.6 116.4h0M526.3 120.1h0M522.7 122.8h0M528.7 117h0M534.1 130.4h0M537.8 87.4h0M550 124.9h0M532 99.8h0M514.7 99.8h0M543.5 108h0M514.9 118.5h0M535.3 108.3h0M541.7 129.9h0M545.6 104.5h0M544.5 97.9h0M539.4 123h0M525.3 140h0M536.3 82.4h0M529.1 136.9h0M540.4 131.7h0M525 98.6h0M535.2 97.8h0M521.6 102.6h0M547.6 127.8h0M516.9 105.1h0M520.1 107.9h0M530 105.1h0M497.4 142.2h0M543.3 147.6h0M538.9 112.9h0M539.7 136.8h0M523.5 124.9h0M562.2 155.4h0M549 123.7h0M565.4 151.3h0M522.8 141.1h0M543.7 141.3h0M540.3 97.7h0M533.2 125.5h0M554.1 146.2h0M531 122.9h0M566.5 148.4h0M549.6 109h0M531.5 148.2h0M547.2 142.3h0M530.1 140.1h0M562.7 114.5h0M549 110.9h0M557.7 132.4h0M553.9 137h0M558.2 158.1h0M564 117.4h0M533.6 140.3h0M562.8 141.2h0M548.2 118.2h0M551.4 112.7h0M525.4 141.6h0M531.4 129.5h0M535.1 130.1h0M547 114h0M579.7 126.5h0M531.5 140h0M542.5 117.6h0M553.8 126.3h0M546.5 112.9h0M560.5 128.3h0M567.8 148h0M551.9 114h0M564.4 146.3h0M560.8 127.9h0M436.8 158.4h0M449.5 165.8h0M450.8 170.3h0M442.7 172.5h0M449.4 194.5h0M445.1 195.8h0M446 178.9h0M460.1 167.5h0M455.8 147.4h0M455.2 156.5h0M445.6 133.9h0M457.8 228h0M449.6 135.3h0M445.7 170h0M451.3 150.8h0M437.5 224.3h0M479.7 136.2h0M446.8 174.5h0M432.8 148.6h0M439.1 157h0M442.6 172.2h0M438.5 168.5h0M424.8 154.4h0M436.1 187.6h0M433.4 156.4h0M419.6 152.6h0M458.3 153h0M441.8 157.1h0M410.6 146.3h0M448.3 154.6h0M436.9 133.3h0M424 159.4h0M438.9 184.2h0M458.7 166.2h0M431.9 164.9h0M447 212.6h0M458.8 129.1h0M441.3 155.1h0M433.4 158.3h0M430.1 184.1h0M451.3 188.7h0M447 154.3h0M436.1 135.5h0M480.8 152.7h0M442.8 191.2h0M458.1 200.7h0M434.1 153.6h0M461.9 160.9h0M457 168.2h0M488.5 162.7h0M500 159.6h0M468.4 126.3h0M515.7 150.1h0M499.5 154.4h0M485.1 143.4h0M478.5 169.5h0M486.7 156.8h0M513 136.1h0M496.3 136.2h0M470.3 164.1h0M497.6 145.9h0M488.5 161.4h0M523.5 131.6h0M472.9 172.4h0M533.6 171.3h0M474.3 193.5h0M504.6 160.5h0M487.4 160.9h0M494 188.4h0M510.8 164.7h0M479.3 182.8h0M482.6 152.1h0M492.5 157.4h0M498.5 184.1h0M483.2 159.6h0M512.2 200.4h0M490.3 157.5h0M523.1 177.9h0M514.1 181.7h0M480.9 151h0M498 149.4h0M474.5 169h0M505.2 147.4h0M457.7 198.3h0M499.8 182h0M535.9 164.8h0M529.1 146.2h0M472.1 195.5h0M478.4 170.7h0M510.3 159.4h0M485.9 143.3h0M505 169.5h0M503.4 144.4h0M510.7 152h0M474.3 168.6h0M501.3 122.5h0M490.6 156.2h0M478.9 143.6h0M474.4 140.4h0M475.5 161.2h0M496.4 133.1h0M459 157.4h0M490.6 171.3h0M480.1 166.1h0M496.3 175.1h0M472.3 166h0M496.4 161.3h0M492.4 154.2h0M515.3 214.2h0M471.1 134.2h0M478.4 167.7h0M525.3 167.6h0M528.8 146.1h0M557 133.6h0M544.7 131.1h0M545.7 137.3h0M550.3 143.8h0M528.9 160.6h0M547.9 135.3h0M556.2 152.1h0M559 143.2h0M556.2 125.3h0M547.9 146.9h0M541.5 156.2h0M559.8 142.1h0M566.2 140h0M545.7 145.3h0M544.3 171.7h0M536.2 150.9h0M557.3 145.8h0M557.2 152.9h0M544 164.6h0M559.9 148.9h0M546.5 138.4h0M494.5 171.8h0M545 110.6h0M532 118.3h0M539.3 136.6h0M576.6 192.5h0M543.9 135.8h0M555.7 139.8h0M524.3 140h0M537.5 141.4h0M500.2 158.7h0M536.9 163.5h0M557.4 140.1h0M549.2 144.8h0M539.9 169.7h0M539.7 158.7h0M555.5 145.4h0M528.1 179.2h0M549.5 139.2h0M551 167.5h0M531.2 132.5h0M555.7 140.7h0M564.8 151.1h0M578.8 168.9h0M540.8 169.9h0M523.8 164.1h0M558.4 134.4h0M557.2 134.8h0M547.4 164.5h0M588 183.9h0M534.3 190h0M536.9 164.1h0M446.9 193h0M496.4 188.4h0M471.5 199h0M464.6 175.9h0M454.2 186.6h0M458.8 169.2h0M452.6 148.7h0M457.9 195.1h0M506.1 191.9h0M474.3 195.7h0M475.7 212.5h0M453.7 214.4h0M471.1 196.9h0M483 187.7h0M460.6 187.7h0M489.1 171.9h0M489.1 177.6h0M454 188.5h0M466.5 181.9h0M438.2 152.7h0M467.9 191.9h0M461.1 172.6h0M460.2 160.9h0M500.1 185.2h0M462.6 202.4h0M458.6 204.2h0M491.5 201.4h0M480.1 168.7h0M452.9 171h0M457.7 173.2h0M469.1 169.1h0M466.4 205.6h0M478.3 194.9h0M461.2 162.5h0M448.2 184h0M456.4 199.5h0M464 196.3h0M451.6 173.8h0M506.6 193.7h0M462.3 155.5h0M494.2 216.2h0M454.2 180.5h0M464.8 175.4h0M519.1 191.2h0M469.7 187.1h0M453.5 193.5h0M447.5 207.4h0M468.8 176.7h0M454.6 188.1h0M497.4 225h0M467.5 192.8h0M465.1 164h0M444.9 206.5h0M486.3 180.8h0M623.7 177.6h0M617.9 162.4h0M605.1 219.9h0M620 169h0M649.4 160.5h0M591.9 176.2h0M603.4 142.9h0M612.2 143.5h0M615.5 177.8h0M564.5 173.7h0M618.2 143.8h0M590.1 156.4h0M622.5 172.2h0M580 187.5h0M608.1 146.8h0M606.1 182h0M588.9 133.4h0M584.3 158.3h0M605.2 156.2h0M606.6 189.9h0M622 187h0M630.6 162.8h0M610.3 192h0M613.6 177h0M629.6 185.5h0M617.2 128.7h0M652.6 182h0M634.8 187h0M666.1 199.3h0M660.1 173.5h0M655.8 177.6h0M589.7 210.7h0M653.7 183.9h0M671.6 194.4h0M647.2 205.2h0M653.2 202.5h0M677.7 176.6h0M668.7 189.4h0M667.8 186.5h0M669.6 184.4h0M675.7 212.9h0M659.5 164.5h0M644.2 173.1h0M614.2 164.3h0M637.8 208.3h0M638.1 189.5h0M645.6 188.9h0M671.3 227h0M634.7 154.2h0M659.7 181.2h0M652.4 168h0M659.9 162.5h0M637.1 184.1h0M515.9 211.9h0M536 214h0M534.4 190.7h0M520.6 248.8h0M507.5 194h0M508.7 204h0M507.7 188.5h0M530.3 212.7h0M531.7 197.4h0M521.7 205.8h0M531.8 202.2h0M546.8 246.6h0M525 216.3h0M516.8 195.9h0M499.2 292.3h0M550.4 215.4h0M505.8 222h0M522.8 217.8h0M514.4 209.2h0M529 170.7h0M526 200.3h0M533.1 225.7h0M536.7 214.4h0M563.1 200.8h0M510.6 192.1h0M508.5 219.9h0M506.4 184.3h0M536.9 193.6h0M542.8 202.9h0M514.6 179.3h0M528.3 204.5h0M528.1 163.6h0M522.8 271.1h0M507.8 242.6h0M527.1 214.1h0M511.8 171.6h0M535.4 194.4h0M505.7 200.6h0M504.4 224.5h0M532.1 203.2h0M530.3 200.9h0M505.7 195.5h0M536.8 226.5h0M571.1 203h0M583.6 216.3h0M582.5 192.4h0M567.3 202.2h0M569.6 200h0M563.5 245.2h0M582.2 187.5h0M598.2 183.1h0M576.9 189.3h0M542.8 203.2h0M540 210.1h0M588.6 228.3h0M564.1 200.3h0M547.6 183.3h0M575 202.2h0M575.8 163.8h0M558.3 175.6h0M563 222.3h0M555.4 176.3h0M571.7 249.2h0M570.8 217h0M584.9 197.4h0M579.5 212.9h0M564.8 203.6h0M602.2 218.5h0M564.5 194.5h0M570.2 190.6h0M603.5 207.8h0M583.3 188.6h0M559 207.7h0M570.4 202.9h0M563.6 205.7h0M588.8 209.1h0M577.8 167.1h0M512 236.7h0M491.8 200.6h0M490.5 232.8h0M450.2 251.7h0M496.2 221.7h0M503.6 224.6h0M490 258.4h0M475.3 205.6h0M550.4 235.8h0M475 221.8h0M542.5 217.5h0M492.7 212.9h0M484.5 217.4h0M467.4 241.3h0M507.6 212.6h0M544.1 242.6h0M488.9 212.7h0M460.6 204.9h0M487.1 220.4h0M538.2 246.3h0M483.7 200.5h0M486.7 235.1h0M504.4 251.7h0M487.6 215.2h0M498.7 218.6h0M499.7 191.4h0M496.1 228.8h0M489.3 228.1h0M492.7 257.6h0M493.9 216h0M492.9 221h0M515.1 182h0M610.4 255.9h0M595.7 231.2h0M591 280.4h0M579.7 253.4h0M602.3 257.2h0M599.2 242.9h0M597.7 280.9h0M619.9 233.6h0M596.6 235.6h0M586.3 257.1h0M579.2 260.6h0M560.5 219.7h0M591.4 243.6h0M596 232.2h0M607.2 221.4h0M598.7 256.9h0M566.9 219.2h0M598.5 238.3h0M574.6 278.6h0M628.1 227.7h0M615.3 208.8h0M585.1 246.2h0M569.6 268.3h0M600.4 246.5h0M561.9 249.7h0M622.5 260.5h0M595.1 236.8h0M454.7 230.2h0M453.5 268.8h0M440.3 257.9h0M444.9 277.9h0M464.2 220.4h0M464.3 263.7h0M451.5 290.8h0M479 224.4h0M491 238.9h0M440.9 272.6h0M433.3 249.1h0M477 229.5h0M430.8 204.7h0M449.3 267.1h0M464 292.1h0M453.9 260h0M486 193.5h0M458.2 273.9h0M464.3 279.4h0M478 257.7h0M456.8 234.7h0M595.5 255.7h0M582.4 280.9h0M612.8 266.5h0M626 267.7h0M604.2 286.8h0M614.8 271.8h0M570.4 250.3h0M594.2 252.2h0M576.7 259.3h0M581.3 274.4h0M609.8 240.2h0M587.4 266.3h0M582.8 240h0M615.2 265.4h0M596.8 254.8h0M620.3 244.3h0M586.3 272.2h0M600.3 255.8h0M615.2 286h0M581.5 232.3h0M610.3 251.1h0M606.4 257.6h0M570.9 255.3h0M610.9 270.2h0M649.4 293.7h0M621.5 283.1h0M585.9 279.2h0M675.9 255.3h0M700.3 276h0M684.4 263.1h0M678 251.7h0M645.4 241.3h0M662.2 234.1h0M668.2 240.6h0M668.8 245.5h0M674.3 290.9h0M625.9 258.1h0M699.5 251.4h0M626.3 203.5h0M677.4 263.3h0M710.8 253.6h0M702.7 238h0M690.6 280.1h0M684.7 240.7h0M675.6 248h0M694.8 239h0M687 284.4h0M686.4 250.7h0M662 277.1h0M686.4 240.3h0M670 237.3h0M682.3 263.9h0M662.9 258h0M632.8 244.8h0M666.9 228.9h0M689.2 256.6h0M556.9 296.6h0M565.8 289.2h0M538.7 276h0M554.9 284.9h0M569.7 267.2h0M530 274.5h0M543.9 279h0M519.1 241.1h0M544.4 269.8h0M543.3 258.3h0M543.6 313h0M566.5 248.1h0M547.9 287.6h0M574.8 283.9h0M528.7 287.5h0M557.9 281.5h0M556 290h0M551.1 283.8h0M546.7 291.3h0M503.2 279.2h0M588 267.2h0M560.1 267.8h0M540.3 277.1h0M587.1 282.9h0M666.6 306.1h0M686 312h0M699.5 269.5h0M622.2 270.3h0M684.2 273.4h0M673.6 287.9h0M674.3 287.4h0M676.3 313.7h0M669.7 299.4h0M688.5 274.7h0M646.2 276.8h0M644.9 287.1h0M687.9 312.5h0M663.5 283.8h0M674.4 288.8h0M669.1 319h0M695.2 303.8h0M639.7 289.1h0M700.7 297h0M668.3 273.8h0M668.5 301.7h0M640.7 277.5h0M648 286h0M672.9 301.8h0M710.1 300.4h0M668.6 299.9h0M674.3 274h0M670.4 346.7h0M643.4 262.9h0M675 300.3h0M673.6 306.7h0M652 259.3h0M519.9 298.5h0M530.2 319.6h0M536.7 305.9h0M493.5 348.5h0M502 361.8h0M538.8 310h0M548 319.8h0M548.5 314.4h0M524.1 322.8h0M520.9 314.8h0M525.5 266h0M522.8 320.4h0M523.6 345.9h0M542.2 304.8h0M531.2 282.3h0M539 315.5h0M536.9 323.5h0M542 320.5h0M524.8 314.2h0M537.9 303.9h0M521 301.3h0M548.7 345.1h0M574 345.3h0M576.1 336.6h0M601.7 342.2h0M591.6 361.7h0M553.7 357.8h0M582.2 336.7h0M556.6 356.8h0M591.8 351.9h0M566.4 358h0M573.7 344.5h0M581 351.1h0M627.6 347.8h0M600.3 333.2h0M565.8 366.6h0M570.2 336.3h0M608.4 350.5h0M586.3 334.1h0M583 369.7h0M580.7 344.4h0M571.3 383.6h0M601.4 333.3h0M575.4 332.2h0M564 351.3h0M578.9 330.8h0M568.4 346h0M558.8 340.6h0M672.8 341.9h0M674.1 353.6h0M684.5 339.2h0M655.1 337.4h0M657.9 334.4h0M676.9 376.4h0M659.8 353.5h0M658.4 343.3h0M665.1 368.8h0M684.5 376h0M692.6 346.6h0M662.9 349.2h0M649.7 342.9h0M686.5 350h0M632.3 354.5h0M663.8 314.2h0M638.4 347h0M652 345.3h0M675.9 351.9h0M672.3 336.8h0M677.6 326.8h0M679.9 338.7h0M645.9 330.7h0M667.2 338.5h0M659.1 362.4h0M651.8 370.4h0M634.7 337.4h0M674.1 369.9h0M680.8 356.1h0M671.7 349.5h0M543.8 398.7h0M524.9 391.7h0M539.6 364.9h0M539.7 358.4h0M512.4 374.3h0M533.5 385.8h0M532.5 400.1h0M552.3 332.8h0M541.2 355.1h0M535.4 388.5h0M517.4 361.2h0M541.2 362.9h0M489.8 363.9h0M500.2 352.3h0M520.9 379.7h0M547.1 377.7h0M545 360.7h0M534.3 364.8h0M533.2 338.8h0M538.7 388.3h0M544.8 357.8h0M533.5 369.1h0M557.3 359.2h0M542.3 369.5h0M527.7 361.2h0M565.7 375.5h0M546 331.6h0M550.1 372h0M549.7 354.3h0M551.2 326.3h0M531.7 389h0M519.1 383.7h0M466.5 395.6h0M486.9 388.5h0M490.6 400.3h0M486.5 401.3h0M484.8 336.4h0M478.1 410.7h0M471.3 405.3h0M525.7 387.9h0M474.9 393.2h0M477.1 410.6h0M497 375h0M477.8 365.1h0M478.1 379.5h0M494.2 388.4h0M500.5 402.8h0M459.2 418.1h0M478.2 406.9h0M494 384.2h0M484.4 368.1h0M487.8 394.1h0M510.3 401.7h0M507.6 411.6h0M486.8 379.3h0M503.7 364h0M511.8 361.7h0M503.3 421.9h0M492.4 397.8h0M495.9 369.8h0M503.8 420.1h0M484.3 415.1h0M476.3 376.9h0M481.3 415.1h0M532.6 423.3h0M523.9 447.3h0M514.5 404h0M540.6 412.5h0M494.3 425.8h0M530.3 425.1h0M532 412.9h0M532 451.8h0M546.5 412.5h0M542.5 427.7h0M483.6 408.6h0M566.9 442h0M535.6 402.7h0M544.7 426.8h0M523.6 446.7h0M542.8 431h0M538.9 426h0M513.3 439.8h0M520.1 417.8h0M526.4 447.1h0M534.2 439.2h0M503.5 435.1h0M513.4 423.6h0M539.4 414h0M540.5 414.6h0M522.3 428.3h0M540.2 419.4h0M525.8 431.2h0M553.9 435.2h0M502.6 441.1h0M507.3 403.2h0M527 441.6h0M542.9 387.2h0M560.2 451.2h0M554.8 464.8h0M575.9 466.3h0M578.1 451.4h0M604.5 467.6h0M571.9 443.3h0M593.4 460.9h0M579.2 444.6h0M566.1 453.5h0M559.1 427.7h0M563.3 481.3h0M580.5 445.8h0M572.3 456.8h0M565.9 463h0M580.3 402.3h0M570.8 434.4h0M577.7 463.5h0M583.3 427h0M555.7 437.4h0M583.6 488.7h0M572.4 452h0M571.3 463.3h0M565.2 444.1h0M571.7 445.9h0M579.8 458.1h0"/>
<path stroke="#1f4193" d="M390.6 289.8h0M419.9 307.1h0M443 336.7h0M424.5 324.8h0M421 283.7h0M415.4 271.5h0M436.5 269.1h0M443 312.4h0M397.6 293h0M433.1 273.1h0M423.6 265.2h0M427.3 276h0M427.2 280.2h0M414 296.7h0M425.2 273.4h0M406 312.8h0M431.9 294.7h0M414.2 244h0M415.4 289.5h0M420.8 362.2h0M441.6 355h0M445.1 368.1h0M416.9 365h0M441.2 352.9h0M440.4 366.3h0M436.9 349.9h0M436.3 326.3h0M447.4 302.4h0M417.9 352.9h0M426.5 354.1h0M451.4 369.9h0M444.4 343.5h0M430 363.5h0M440.6 354.4h0M449 348.8h0M427.4 334.1h0M413.8 326.1h0M427.5 361.3h0M442.9 320.1h0M428.4 362.5h0M431.2 340.1h0M430.4 349.2h0M442.9 324.8h0M419.5 329.7h0M436.5 336.8h0M419.3 332.3h0M447.4 351.9h0M428 347.8h0M450.9 342.1h0M426.1 377.4h0M440.5 349.9h0M435.6 334.6h0M394.2 317.4h0M466.7 351.2h0M466.1 331.3h0M478.8 360.9h0M435.1 360.5h0M465.8 336.5h0M462.7 343.7h0M427.6 355.5h0M475.4 342.7h0M480.3 363.6h0M468.8 360.1h0M467.8 361.5h0M468.6 354.7h0M478.4 339.2h0M450.3 356.5h0M443.4 374.7h0M473.6 369.1h0M454 346.2h0M444.7 375.9h0M460.6 380.6h0M449.5 339.2h0M460.9 319.8h0M446.6 362.4h0M486.7 349.5h0M441.8 349.7h0M452.9 347.7h0M453.6 355.1h0M464.6 344.6h0M447.1 349.8h0M448.2 342.9h0M450.7 353h0M436.4 381.5h0M425.4 357.8h0M464 359.3h0M463.7 350.1h0M466.5 337.4h0M446.6 334.4h0M463.5 348.1h0M462.1 357.4h0M440.1 362.6h0M457.7 369.6h0M455.7 387.6h0M443.3 361.6h0M434.7 381.4h0M457.1 366.9h0M436.1 325h0M451.6 358.4h0M435.1 377.1h0M443 390.4h0M438.3 369.2h0M450 356.1h0M441.6 403.1h0M460.8 376.5h0M470.9 405.7h0M456.3 368.3h0M444.8 357h0M446.2 365.2h0M465.7 374.1h0M451.5 386.5h0M428.6 394.9h0M418.7 365.3h0M455.5 400.7h0M477.9 367.6h0M453.9 360.1h0M461.5 391.4h0M443.2 360.2h0M447 393.8h0M447.9 362.8h0M456.8 372.8h0M460.7 351.1h0M432.3 382.1h0M424.3 337.6h0M457.4 362.6h0M451.5 370.4h0M465.3 405h0M438.2 384.5h0M458.2 368h0M474.4 379.5h0M461.1 390.4h0M466.4 419.1h0M455.8 391.1h0M456.4 383.2h0M455.8 353.5h0M467.6 361.2h0M497.3 413.1h0M479.6 434h0M489.4 408.7h0M478.3 419.3h0M478.1 429.2h0M475.6 408h0M501.5 423.3h0M456.7 407.2h0M491.9 407.3h0M481.2 412.6h0M482 429.7h0M498.7 419.3h0M493.9 421.4h0M496.8 427.7h0M494.4 408.3h0M494.4 409.9h0M465.3 422.9h0M493 436.1h0M476.7 430.4h0M480 418.7h0M473.9 430.1h0M504.9 393.3h0M468.9 404.4h0M474.7 416.6h0M458.5 443.1h0M485.7 431.6h0M485.7 424.9h0M492.3 422.7h0M502.8 410.3h0M473.9 422.1h0M482.5 382.5h0M480 426.3h0M490.9 404.1h0M455.2 433.6h0M495 396.8h0M485.8 428.3h0M459.3 429.8h0M410.2 452.3h0M449.1 471.8h0M420.8 460.9h0M414.5 424.3h0M429.6 431.6h0M429 439.8h0M448.3 437.1h0M442 453.9h0M447.6 435h0M431.7 448.2h0M438.6 426.6h0M448.8 414.2h0M424.7 440h0M411.7 499.4h0M428.9 435.3h0M457 443.3h0M434.6 441.3h0M409.5 459.8h0M424.1 444.5h0M433.7 431.7h0M441.2 432.2h0M428.1 432.3h0M436 440.4h0M447.2 424.8h0M432.3 448.6h0M421.8 449.6h0M438 442.8h0M403.5 458.1h0M448.5 452.6h0M417.1 452.1h0M427.7 411.3h0M431.9 426.5h0M439.2 444.2h0M428.8 427.2h0M429.3 434.5h0M413.3 466.4h0M423.2 434.1h0M436.4 468.6h0M457.7 429.9h0M448.5 448.4h0M468.1 458.5h0M475.3 458.5h0M487.9 453.7h0M478.1 442.7h0M473.2 439.8h0M486.8 447.8h0M488.1 444h0M468.2 432.5h0M473.8 436.1h0M475 444.1h0M497.7 445.9h0M518.4 452.5h0M482.9 445.2h0M494.1 450.7h0M480.1 418.5h0M484.3 450.9h0M464 458.5h0M454.9 453.4h0M473.3 448h0M491.8 470.6h0M495.1 472.8h0M501 442.8h0M473.7 424.5h0M477.1 438.2h0M481.2 439.1h0M497.7 441.5h0M489.3 445.6h0M459.5 447.6h0M468.1 446.1h0M467.7 456h0M478 426h0M494 460.1h0M510.4 449.7h0M469.3 458.6h0M453.8 461.8h0M440.9 521.6h0M436.4 520.3h0M434.8 518.2h0M438.2 522.8h0M437.8 512.4h0M431.9 534.6h0M459.8 497.1h0M434.9 492.6h0M431.4 515.3h0M428.3 527.4h0M451.9 506.6h0M403.5 512.7h0M475.1 511.4h0M441.7 493.4h0M429.1 529h0M382.5 515.5h0M444.3 501.1h0M449.5 529.8h0M409.1 501.2h0M423.7 510.2h0M445.2 525.3h0M231.7 339.7h0M224.2 363.9h0M230.7 343.1h0M284.4 329h0M257.5 339.5h0M240.5 345.7h0M243 353.4h0M230.6 339.3h0M276 457.8h0M262.7 431h0M310.1 399.2h0M268.6 430.6h0M282.9 431.4h0M313.2 436.5h0M284.7 429.3h0M250.1 440.6h0M257.5 437.3h0M283.1 438.3h0M276.8 431.8h0M268.6 434.8h0M280.8 453.5h0M261.5 444h0M271.8 447.7h0M268.9 436.4h0M298.2 449.6h0M269.7 435.2h0M266.1 430.9h0M244.5 427.8h0M274.7 435.8h0M240 472.8h0M268.5 440.7h0M267.2 447h0M368.2 430h0M373.5 430.4h0M372.3 442.9h0M411.8 447.9h0M400.5 421.8h0M383.7 452.1h0M385.7 425.4h0M401.8 446.1h0M391.8 460.3h0M320.1 429.9h0M380.3 452h0M363.3 436.4h0M384.8 438.7h0M370.5 454.7h0M365.1 420.6h0M350 463.7h0M383.9 453.7h0M379.1 444.8h0M351.6 455.4h0M377.6 453.6h0M382.7 443.6h0M393.2 440h0M355.9 459.7h0M339.1 461.5h0M377.5 433.6h0M394.5 433.9h0M386.2 465.2h0M371.3 438.9h0M393.1 428.3h0M382.6 445.2h0M380.6 451.1h0M387.3 444.8h0M183.6 470h0M196 491.4h0M210.1 434.3h0M225.7 477.7h0M228.1 446.5h0M216.4 456.3h0M210.9 464h0M205.4 463.6h0M212.8 477.2h0M193.9 473.9h0M200.4 462h0M224.1 460.6h0M214.1 456.8h0M238.8 453.4h0M301.2 492.5h0M308.6 459.3h0M325.1 474.8h0M289.7 491.9h0M343.3 463.2h0M313.9 462h0M346.3 484.3h0M337.4 463.7h0M346 452.5h0M291 486h0M337.7 461.7h0M277.3 466.2h0M313.6 475.7h0M320.4 465.8h0M287.7 459.4h0M329.4 484.2h0M299.4 472.8h0M306.1 460h0M306 467.6h0M288.5 428.5h0M322.4 487.5h0M314.6 489.2h0M311.5 475.4h0M300.7 474.3h0M317.2 503h0M290.6 480.8h0M373.7 480.3h0M344 500.6h0M355.6 486.1h0M380.1 506.3h0M332 518.2h0M359 503.9h0M344.7 473.8h0M369.7 473.4h0M357.1 505.1h0M336.4 477.1h0M363.2 476.6h0M346.6 482.5h0M361.5 499.2h0M366.3 477.2h0M364.3 487.3h0M365.2 505.2h0M371.3 506.8h0M366.5 496.5h0M359.8 500.7h0M362.4 495.7h0M379.3 495.4h0M354.5 485.7h0M366.9 497.6h0M365 483.4h0M369 488.7h0M352.3 495.2h0M354.4 503.2h0M350.8 495.6h0M363.3 500.9h0M388.5 502.6h0M367.5 476.6h0M358.2 482.6h0M158.1 509.3h0M143.5 515.8h0M167.5 542.5h0M158.9 566.8h0M147.4 522.1h0M157.6 541h0M153 555.8h0M168.1 510.2h0M164.9 556.8h0M163.9 520.8h0M156.6 541h0M180.2 566.2h0M153.4 534.2h0M153.5 550h0M179 540.6h0M163.8 516.2h0M170.7 536.6h0M145.1 555.8h0M137 531.7h0M368.3 502.4h0M390 581.5h0M332.8 558.6h0M326 523.2h0M309.3 543.4h0M322.6 541.3h0M365.6 551.3h0M323.1 561.7h0M336.7 543.7h0M332.3 551.9h0M348.2 534.5h0M327 557.6h0M319.3 529.3h0M332.9 535.4h0M340.5 535.3h0M347.3 549.9h0M351.1 534.2h0M360 529.9h0M324.4 539.5h0M344.5 553.1h0M337.5 495.2h0M325.8 563.5h0M332.6 557h0M347.1 545.5h0M348.2 566.4h0M339.8 558.7h0M333.6 574.4h0M395.5 563.5h0M414.2 562.9h0M412.5 576.2h0M415.4 588h0M417.1 572.5h0M408.6 582.7h0M407.7 560.6h0M402.5 534.7h0M387.2 554h0M439.1 552.2h0M412.3 579h0M430.1 575.1h0M406.4 595.5h0M424.3 587h0M422.3 560.2h0M421.7 556h0M420.7 562.7h0M402.7 590.8h0M421 561.6h0M427.6 583h0M410.7 581.2h0"/>
<path stroke="#070a30" d="M206.4 440.4h0M187.9 435.6h0M186.5 451.8h0M171.3 413h0M216.1 431.1h0M200.8 420.8h0M242.8 424.3h0M154.2 453.6h0M208 430.2h0M233 433.5h0M152.3 455.8h0M212.5 409.2h0M184.3 408.3h0M188.2 442h0M204.2 425.7h0M210.7 432.1h0M218.8 420.7h0M196.7 432.3h0M184.6 439h0M199.6 425.6h0M199.6 445.3h0M208.7 448.9h0M239.7 408.9h0M224.9 418.6h0M208.6 435.9h0M208.2 452.7h0M230.8 410.4h0M238.7 426.7h0M206 451.8h0M399.7 460.9h0M376.9 413.1h0M379.2 409.5h0M348.1 463h0M336.9 400.9h0M339.2 433h0M354.6 435.7h0M341.3 411.4h0M367.5 433.7h0M391.2 393.1h0M355.3 438.6h0M357.6 403.4h0M350.2 426.3h0M352.8 429.1h0M347.9 421.5h0M373.1 399.6h0M356.7 414.7h0M360.1 442.5h0M335.7 432.6h0M333.5 442.9h0M338.8 407.5h0M352.6 433h0M348.4 440.7h0M330.8 443.4h0M332.6 426.9h0M165.2 467.6h0M185.3 510.3h0M125.2 475.2h0M154.5 478h0M154.9 522.5h0M174.1 492h0M201.6 529.3h0M161.6 505.8h0M151.2 514.5h0M151.6 479.7h0M182.7 522.8h0M193.3 487.4h0M185.1 482.9h0M168.2 507.1h0M194.6 437.4h0M156.4 474.5h0M190 482.2h0M174.6 509.8h0M135.3 465.9h0M184 477.4h0M134.4 476.6h0M175 483.8h0M159.6 492.9h0M151.4 491.5h0M148.4 422.5h0M147.8 488.6h0M161.6 512.6h0M168.8 496.9h0M143.7 491.6h0M168.2 466.4h0M172 463.1h0M201.2 479.4h0M180.4 453.6h0M186.1 455.8h0M187.8 496.3h0M170.2 478.1h0M165.2 504.2h0M270.7 470h0M253 507.2h0M293.7 505.3h0M291.4 478.7h0M262.8 474.5h0M270.8 498.8h0M291.1 492.4h0M281.2 498.4h0M273.4 479.9h0M262.7 487.8h0M271.4 510.5h0M268.9 513h0M261.6 472.7h0M224.7 521h0M274.6 501.6h0M276.4 498.4h0M287.5 483.8h0M287.4 488.6h0M268.2 501.6h0M272.1 501h0M269.3 500h0M257 492.8h0M310.3 481h0M255.9 480.9h0M268.2 475.1h0M265.9 481.2h0M263.1 498.2h0M272.3 500.8h0M271.9 491.1h0M299.3 533h0M222.3 460.5h0M269 483.7h0M255 493.4h0M273.9 455.2h0M282 472.1h0M262.8 498.5h0M278.7 459.4h0M245.9 435.6h0M324.8 551h0M318.3 513.9h0M312.3 480.4h0M315 498h0M317.4 522.7h0M332.3 529.1h0M316.3 502.4h0M324.5 503.2h0M322.5 514.7h0M332.2 496.7h0M282.1 488.4h0M319.3 490.2h0M335.3 496.7h0M326.3 505.5h0M334.8 497.4h0M333.7 516h0M317.8 498.1h0M348 550.3h0M317.5 513.9h0M355.6 485.4h0M319.4 518.5h0M340.5 522.2h0M339.4 497.1h0M347.3 529.9h0M332.8 504.1h0M308.4 433.6h0M339.9 478.8h0M317.7 502h0M282.6 495.4h0M278.7 484h0M334.2 520.5h0M327.6 509.3h0M334 503h0M334.6 494.1h0M325.2 490.9h0M339.4 516.9h0M340.3 512.7h0M334.9 535.7h0M329.8 519.6h0M340.1 484.5h0M319.8 521.3h0M398.8 483h0M436.1 480.2h0M381.7 474.8h0M424.4 523.6h0M422.9 483.3h0M419.9 489.9h0M436.9 466.8h0M426.1 487.3h0M383.2 478.1h0M436 494.3h0M404.6 491.9h0M392.2 505h0M424.8 516.2h0M463.6 498.4h0M401.1 513h0M430.7 515h0M383.9 503.8h0M418.5 492.7h0M433.8 497h0M417.6 505.3h0M406.3 501.4h0M426.9 503.6h0M394.5 492.6h0M390.9 498.8h0M429.5 489.5h0M439.4 506.7h0M408.8 496.6h0M408.1 532.5h0M412.8 475.7h0M404.6 486.9h0M396.2 512.4h0M403.6 537h0M385.8 469.7h0M405.7 531.9h0M129 561.6h0M132.2 511.7h0M119.9 561h0M119.4 553h0M139 565.3h0M98.2 556.3h0M92.9 513.9h0M84.4 549.4h0M173.2 596.3h0M96 521.7h0M114.4 503.3h0M88.2 549.9h0M111.5 554.6h0M144.7 476.8h0M105.2 521.7h0M86.9 581.5h0M414.8 558.9h0M385.7 554.1h0M396.1 529.8h0M385.8 548.6h0M421 566h0M386.9 557.9h0M406.2 570.6h0M375.5 568.7h0M387.2 559.3h0M418 544.6h0M394.3 531.7h0M374.5 555.4h0M431.7 529.4h0M369.2 565.5h0M363 561.9h0M393.9 555.7h0M368.4 546.7h0M397.4 590.4h0M386.9 577.5h0M403.1 520.7h0M381.4 539.1h0M417.8 549.5h0M368.2 550.8h0M408.7 542.3h0M390.2 544.3h0M396.3 537.7h0M390.5 554.9h0M410.4 561.4h0M409.5 571.5h0M393.6 547.4h0M377.3 583.2h0M389.5 535h0M404.1 546.1h0M389.8 543.8h0M402.9 534.7h0M381.5 550h0M381.1 560.9h0M397.3 564h0M253.8 538.1h0M299.2 562.1h0M230.6 549.9h0M270.8 570.3h0M221.4 535.1h0M265.6 577.9h0M237.4 522.3h0M247.2 552.1h0M220.1 536h0M261 547.2h0M248.3 586.6h0M248.8 585.3h0M245.4 597.4h0M215.5 604.4h0M211.5 534.6h0M246.6 572.2h0M243.9 567.1h0M244.5 549.1h0M218.3 558.6h0M242.8 578.9h0M200.9 540.2h0M199 502.8h0M258.8 574.8h0M219.5 568.6h0M232.8 552.4h0M243.2 548.1h0M234.7 561.5h0M218.4 576.3h0M227.7 568.3h0M214.4 551.4h0M240.6 528h0M256.6 537.5h0M243.8 576.3h0M250.4 564.5h0M259.7 556.6h0M220.4 516.1h0M260.1 586.9h0M235.9 531.7h0M238 544.1h0M264.2 568.7h0M215.7 553h0M262.1 587.3h0M236.5 560.1h0M208.6 571.5h0M255.7 565.2h0M254.4 555.5h0M240 558.9h0M219.2 546.5h0M246.3 601.5h0M233.4 567.9h0M345.6 575.1h0M317.5 528.8h0M330.2 602.8h0M330 543.1h0M322.2 559.2h0M364.6 570.4h0M338.2 591.9h0M332.1 555.7h0M383.9 565.2h0M340.2 555.7h0M322.4 573.5h0M339.5 564.7h0M332.1 568.7h0M331.7 558.3h0M298.4 535.6h0M338.6 574.6h0M360.7 556.8h0M337.7 556.7h0M283.5 539h0M316.6 607.1h0M314.7 589.3h0M334.3 561.8h0M340 576.5h0M337.3 566.4h0M327.2 560.4h0M350.6 574.8h0M317.1 559.3h0M355.9 589.5h0M346.6 571.4h0M317.9 567.2h0M350.9 597.7h0M284.4 568.9h0M353.8 569.7h0M308 553.9h0M344.6 594.2h0M313.7 564h0M347 552h0M331.9 571.1h0M346.5 560.5h0M311.3 559.4h0M344.3 552.9h0M338.3 578h0M334.4 567.8h0M361.1 551.9h0M371.9 583.9h0M301.3 600.6h0M347.1 577.2h0M320.6 588.6h0M330.3 586.3h0M342.9 562.2h0M137 638.8h0M162.3 601h0M161.3 628.6h0M142.6 637.8h0M175.8 623.7h0M148 620.4h0M172.3 641.1h0M169.1 622.1h0M169.1 633.9h0M170.5 643.3h0M169.3 654h0M160.7 625.7h0M134.4 645.9h0M166.9 607.2h0M176.6 632.9h0M150.5 604.9h0M133 639.2h0M178.3 627.4h0M148.6 612.1h0M177.9 611h0M209.5 600.2h0M213.2 624.9h0M155.4 615.1h0M185.5 613.1h0M183.6 580h0M174.3 640.7h0M184.2 622.1h0M199.7 620h0M218.2 651.6h0M193.2 631.8h0M143.6 648.4h0M209 640.6h0M202.6 637.9h0M165.1 610.6h0M191.9 621.1h0M202.3 646.4h0M183.6 606.3h0M149.3 583.8h0M185.1 599.3h0M197.6 607.7h0M183.5 615.3h0M207.8 615.6h0M212.3 621.6h0M219.8 598.4h0M132.1 584.8h0M150.6 587.4h0M188.4 689.7h0M154.8 580.4h0M187.1 620.4h0M193.1 612.3h0M163.6 640.1h0M187.4 608h0M196.8 607.3h0M161.1 629.9h0M202 574.2h0M181.8 592.4h0M181.5 627.3h0M193.1 615.6h0M235.8 663.2h0M175.5 625.6h0M203.1 609.5h0M191.3 613.2h0M170.4 626.4h0M176.2 600.8h0M198.8 604.4h0M156.2 618.6h0M270.6 636.7h0M152.1 632.2h0M167.8 605.9h0M187.2 606.3h0M200.1 604.9h0M189.2 592.6h0M191.3 637.4h0M171.2 610.8h0M168.4 566.8h0M188.2 622.3h0M191.1 640.8h0M162.8 647.1h0M194.7 625.3h0M212.5 642.1h0M192.3 641.1h0M198.1 652.2h0M254.8 589h0M212 590.5h0M218.8 582.6h0M209.6 620.8h0M195.1 593.8h0M228.4 602.7h0M226.2 613.1h0M220.7 605.3h0M237.7 609.2h0M203.7 585.8h0M204.9 620.9h0M213.4 600.8h0M221.6 606.8h0M205 586.8h0M208.3 614.2h0M230.9 613.1h0M216.7 593h0M235.8 582.7h0M219.5 551.5h0M189.8 620.8h0M218.6 581h0M205.4 621.5h0M195.7 599.5h0M216.5 611.1h0M205.6 584h0M211.7 591.3h0M212.8 622.4h0M213.9 633.8h0M228.3 587.1h0M192 583.3h0M206.4 609.8h0M239.8 576.9h0M224.5 612.9h0M236 648h0M230.7 620.2h0M197.4 600.8h0M237.4 604.7h0M198.9 625h0M223.8 601.5h0M245.8 616.1h0M213.5 597.6h0M251.1 590.2h0M182.6 601.3h0M227.7 608.7h0M211.2 603.9h0M211.3 606.4h0M204.3 610.6h0M216.3 591h0M193.4 622.4h0M162.6 596.9h0M215.8 620.8h0M218.9 590.6h0M215.1 623.3h0M205.8 611.6h0M235 580.3h0M201.1 585.3h0M212.6 603.3h0M229.5 611h0M207.5 622.2h0M311 596.3h0M280 622.7h0M305.6 622.5h0M308.2 584.9h0M265.3 601.3h0M224.9 600.5h0M248.1 588.3h0M253.8 595.6h0M281.8 606.2h0M279.2 615.8h0M259.9 597.2h0M211.3 646.9h0M259.5 575.5h0M247.3 586.5h0M274.2 607.2h0M311.8 595.4h0M280.3 634.7h0M281.2 594.1h0M289 599.9h0M249.2 587.6h0M282.2 598.5h0M258.8 647h0M269.7 607.1h0M237.4 612.2h0M272.8 604.3h0M261.1 579.9h0M291.9 623h0M196.7 579.3h0M291.5 618.4h0M249.9 582.1h0M261.5 618h0M313.3 619.8h0M313.9 616.5h0M263 590h0M255.4 573.3h0M217.4 595.1h0M266 606.7h0M249.9 629.7h0M277.9 633.4h0M284.5 575.4h0M273 638.9h0M274.4 611.3h0M272.3 596.3h0M275.3 613.7h0M255.8 613.8h0M287.7 621.1h0M274.2 606.7h0M280 606.9h0M262.6 640.2h0M267.6 606.7h0M362.8 642.3h0M279.3 605.1h0M269.6 600h0M311.2 571.3h0M277.4 601.3h0M247.3 638.6h0M289.6 610.8h0M309 627.9h0M299.1 579.5h0M278.6 607h0M316.9 608h0M293.8 579.1h0M276.6 607.1h0M259.1 612.9h0M268.8 596h0M276.5 584.8h0M295.3 595.3h0M281.7 620.5h0M308.4 636.2h0M280.3 642.7h0M283.4 637.5h0M368.8 621.9h0M346.4 626.1h0M354.8 615.2h0M362.8 590.3h0M361.4 619.7h0M363.8 618.9h0M363.9 563.6h0M348.3 625h0M360.8 624.2h0M347.4 592.5h0M363.6 607.9h0M364.7 623.3h0M373.3 603h0M371.2 624.7h0M349.1 601.3h0M376.4 645h0M318.2 576.8h0M368.2 600h0M361.8 578.4h0M378.4 578.3h0M338.4 600.5h0M362.5 629.2h0M386 630.8h0M364.5 617.8h0M352.7 601.4h0M352.3 618.7h0M360.6 588h0M392.6 605.3h0M373.7 617.6h0M357.7 613h0M360.5 590.3h0M368.5 597.4h0M374.4 608.6h0M333.6 631.5h0M373.5 600.2h0M359.3 641h0M338.3 613.5h0M342.4 584.7h0M336.6 615.9h0M335.7 612.6h0M340.4 614.6h0M383.1 616.5h0M398.1 655.9h0M402 637.1h0M412.6 644.6h0M416.6 645.3h0M416.3 598.9h0M388 623.7h0M416.4 613.6h0M417.2 612.4h0M423.5 614.3h0M424 640.8h0M427.4 638.5h0M405.6 642.7h0M406.5 610.8h0M410 614.7h0M411.1 612h0M410.5 625h0M396 629.1h0M423.4 611.3h0M395.2 611.1h0M359.6 624.4h0M425.3 609.7h0M422.3 628h0M428 620h0M394.9 634.7h0M413.1 635h0M400.4 640.1h0M385.8 642.9h0M414.3 610.8h0M395.1 662.9h0M416.9 602.1h0M424.3 647.1h0M415.7 623.8h0M407 622.3h0M344.6 616.6h0M359.3 624.2h0M340.7 662.1h0M323 636.4h0M328.6 630.1h0M309.6 620.7h0M363.4 631.8h0M293.2 621.2h0M293.5 662.8h0M315.6 664.2h0M323.4 644.9h0M336 622.5h0M323.3 622.8h0M289.4 640.5h0M344.8 636.7h0M320.8 641.2h0M311 701h0M335.5 654.4h0M308.1 613.4h0M341.3 646.1h0M335.3 595.2h0M348.2 580.3h0M307.6 625.1h0M326.6 615.6h0M353.6 626h0M348.7 642.4h0M315.4 640.7h0M299.2 646.6h0M319 641.1h0M319.8 642.5h0M329.8 630h0M307.2 653h0M318.8 614.9h0M307.2 674.9h0M334.8 640.6h0M316.7 633.8h0M328.3 662h0M291 681.9h0M330.4 630.8h0M336.9 619h0M304 686.8h0M326.9 657.2h0M353 680.9h0M311.7 634.6h0M322.8 628.3h0M334.3 625.3h0M311.9 602.5h0M325.2 624.1h0M307.1 636.7h0M326.8 682.3h0M343.1 612.5h0M287.9 639h0M344.4 648.2h0M312.4 631.1h0M309.7 662.4h0M331 636.7h0M325.5 599.8h0M317.9 637h0M284.3 670.9h0M289.2 656.8h0M293.6 647.4h0M290.9 672.6h0M261.1 651h0M291.4 635.9h0M295.9 665.8h0M269.1 654.5h0M244.4 683.8h0M292.3 657.5h0M292.4 654.8h0M281.2 636.3h0M274.7 657.7h0M281.1 650.6h0M291.6 657.3h0M305.9 654.4h0M277.6 653.9h0M268.4 652.9h0M310.5 624.9h0M296 651.9h0M295.7 658.9h0M280.2 664.3h0M349.3 650.8h0M293.3 654.6h0M271.7 653.3h0M251.4 620.4h0M294.8 662.2h0M269.6 650.2h0M294.9 639.1h0M304.2 631.6h0M306.1 648.6h0M316.4 658.5h0M279.6 666.7h0M304.7 602.8h0M287.8 658h0M297.4 681h0M282.5 616.5h0M291.4 644.5h0M322.4 630h0M357.8 630.8h0M295.3 662.1h0M279.4 671.2h0M257.8 674h0M288.6 675.1h0M265.2 636.9h0M277.5 664.3h0M282.9 659.3h0M304 678.8h0M280.2 655.6h0M236.6 662.1h0M267.5 676.4h0M261.5 650.1h0M264.3 666.7h0M297.7 661.4h0M263.9 658.2h0M277.3 656.4h0M296.1 629.6h0M295.4 652.2h0M272.7 664.2h0M315.2 621h0M286.5 636.9h0M285.7 640.3h0M290.9 664.2h0M253.7 661.9h0M290.8 642.5h0M291.7 700.5h0M270 645.7h0M269 681.6h0M220.1 650.7h0M245.8 625.7h0M233.6 580.2h0M214.9 660.2h0M235.1 679.4h0M261.9 664.1h0M247.8 653.2h0M229.8 667.7h0M225.1 624.6h0M215.5 674.4h0M237 659.1h0M231.4 657.2h0M236.8 605.3h0M247.7 653.6h0M231.4 631.2h0M234.2 639.6h0M209.3 648h0M249.1 643.5h0M226.6 653.1h0M226.2 681h0M237.8 667.7h0M245.3 693.1h0M235.1 630.1h0M224.1 634.3h0M244.5 679h0M252.1 659.9h0M242.8 650.9h0M240.3 663.2h0M203.6 635.2h0M231.4 664h0M242.5 692.6h0M229 628.6h0M199.1 661.5h0M315.9 655h0M222.2 651.1h0M222.3 651h0M243.5 712.1h0M245.4 662.7h0M243.2 664.3h0M261.7 651.3h0M238 679.9h0M244.5 665.6h0M239.7 642.6h0M249.3 669.2h0M246.5 655.1h0M226.9 642.7h0M249 599.3h0M218.4 665.6h0M237.1 637.4h0M237.8 657.7h0M254.1 664.9h0M262.4 646.9h0M265.9 621.6h0M239.1 684.9h0M219.2 646.8h0M238.4 663.4h0M246.8 669.5h0M321.4 646.1h0M355.6 662.2h0M347.3 668h0M337.7 675.9h0M347.4 652.5h0M348.4 673.8h0M350.4 682.3h0M331 669h0M309.6 679.8h0M322.8 656.6h0M320.5 678.6h0M349.7 667.7h0M330.9 673.2h0M325.2 663.8h0M383.2 625.5h0M345 648.5h0M319.5 640h0M377.2 644.3h0M278.6 649.5h0M351.2 664.4h0M322.9 640.3h0M349.8 655.5h0M327.1 659.7h0M354.9 675.5h0M402 631.3h0M321.5 649.4h0M295.7 664h0M316.3 659.7h0M322.3 676.1h0M349.6 636.7h0M334.9 659.9h0M296.4 681.9h0M306.9 667.3h0M302.6 664.5h0M344.4 660.2h0M339.9 644.5h0M334.2 678.2h0M337 684.2h0M321 682.5h0M337.5 669.3h0M346.9 661.5h0M299.4 651h0M319.8 673.7h0M366.8 639.7h0M341.8 635.7h0M346.7 625.6h0M255 728.9h0M271.7 662.4h0M256.7 699.3h0M279.3 714.6h0M263.6 735.5h0M277.2 693.4h0M276.8 747.1h0M277.6 745.9h0M279.7 705.4h0M263.6 712.8h0M288.9 705.6h0M296.4 724.9h0M235.7 715.1h0M284.3 697.8h0M284.3 683.1h0M275.8 722.6h0M295.9 680.6h0M255.4 708.3h0M299.3 686.5h0M273 715.8h0M218.5 627.2h0M221.5 623.5h0M210.8 615.4h0M229.3 627.6h0M244.2 606.7h0M241.6 626.6h0M214.1 616.1h0M224.3 620.9h0M210.8 596.6h0M213.4 591.7h0M241.5 615.9h0M212.3 594.1h0M180.2 606.5h0M262.9 607.2h0M249.8 624.3h0M235.2 606.6h0M279.7 605.2h0M221.9 635.7h0M234.5 614.1h0M221.3 624.3h0M237.7 596.2h0M216.3 607.9h0M226.3 614.6h0M230.8 607h0M192.6 598.8h0M227.4 593.1h0M230.1 614.1h0M204.8 631.5h0M249.3 580.9h0M203.8 616.8h0M231.4 616.1h0M212.4 633.3h0M219.9 609.8h0M217.7 604.4h0M224 605.6h0M259.1 627.1h0M191 639.5h0M224.8 601h0M216.4 579.3h0M236.1 616.9h0M222.6 609.9h0M212.4 603.4h0M231.5 622.3h0M226.2 611.6h0M234.2 599.4h0M250.3 595.7h0M224.2 628.3h0M216.3 597h0M238.9 607.4h0M248.6 609.3h0M249.6 618h0M217.1 603.5h0M299.1 623.6h0M216.4 604.9h0M218.2 625.8h0M241.6 612h0M239.1 604.1h0M217.3 610.2h0M211.7 612.2h0M230.3 613.6h0M255.7 610.7h0M212.6 629.5h0M242.8 597.7h0"/>
<path stroke="#6f0000" d="M739.3 306.4h0M750.9 332.1h0M713.6 313.7h0M734.7 352.5h0M773.9 335.6h0M726.9 311h0M766 322.1h0M759 378.8h0M784.8 388.3h0M765.9 300.8h0M735 311.4h0M736.5 311.2h0M746.6 344.2h0M727.1 296.5h0M729.9 313.8h0M765.4 330.3h0M748.1 377.2h0M719.9 337.6h0M748.6 309.3h0M754.7 326.1h0M718.3 316.4h0M765.4 335.4h0M735.4 314.3h0M732.4 315.2h0M751.1 292.8h0M774.3 371.7h0M778.9 405.8h0M768.2 372.1h0M749.2 366.9h0M801.2 395.9h0M778.5 377.6h0M792 354h0M767.3 341.2h0M771.9 359.6h0M753.1 347.6h0M769.4 386.7h0M763 376.7h0M776.1 391h0M763.3 385h0M772.7 363.4h0M773.6 371.4h0M757.8 359h0M780.4 397.1h0M759.8 366.2h0M773 384.7h0M757.9 386h0M774.6 360.8h0M765.2 346.8h0M776.8 367.5h0M762.1 369.5h0M786 372.4h0M777.3 388.2h0M756.2 372.6h0M743.8 347.8h0M794.7 383h0M615 356.9h0M631.4 363.1h0M628.1 366.4h0M614.6 382.5h0M624.6 400.6h0M591.6 373.2h0M627.5 392.3h0M605.3 339.7h0M598.4 355.9h0M618.7 363h0M621.7 342.9h0M580.5 350.6h0M600.2 375h0M601.1 367.7h0M631.2 374.8h0M614.8 364.5h0M613.7 375.2h0M635.4 349.1h0M608.4 377.6h0M615.9 384.1h0M615 366.4h0M631.4 369.2h0M590 358.4h0M641 363.1h0M639.5 368.3h0M561.3 390.4h0M570.2 379h0M626 355.4h0M613.8 372.4h0M601.6 370h0M609.9 383.9h0M612.4 365.1h0M628.7 377h0M593.1 343.5h0M611.8 360.1h0M617.2 375h0M602.7 361.9h0M595.8 364.1h0M602.8 371.6h0M591.9 379.8h0M612 338h0M589.4 356.9h0M591.4 372.3h0M603.1 350.2h0M596.2 303.7h0M588.3 406.8h0M608.2 391.3h0M600.8 411.9h0M608 385h0M631.5 392.9h0M610.3 377.6h0M595.5 386.2h0M634.4 409.8h0M624 396.1h0M606.7 420.3h0M589.6 384.1h0M579 381.3h0M626 393.6h0M604.5 378.1h0M531.6 356.7h0M611.4 369.2h0M608.6 396.5h0M608.7 382.5h0M596.2 392.2h0M595.9 404h0M616.4 380h0M592 370h0M611.2 389.9h0M580.9 392.2h0M611.5 408.1h0M601.9 367.7h0M612.7 416.3h0M617.7 398.7h0M591.8 409.9h0M617.4 378.4h0M597.9 401.5h0M602.4 384.5h0M611 384.2h0M614 391h0M606.2 424.8h0M607 389h0M585 372h0M617.6 395.2h0M613.2 437.4h0M596.5 415.5h0M610.3 383.3h0M586.2 385.1h0M601.8 380.1h0M610.2 363.5h0M615.9 420.1h0M604.5 386.5h0M589.8 400.6h0M579.7 387.1h0M596.1 387.5h0M600 380.9h0M648.8 384.5h0M591 412.3h0M602.3 396.4h0M588.4 402.9h0M578.9 417.7h0M636.3 412h0M632.4 423.5h0M630.7 408.6h0M622.7 383.6h0M644.3 438.9h0M640.7 435.2h0M631.2 384.1h0M649.4 410.7h0M604.7 402.1h0M629.1 409h0M633.2 429.7h0M649.4 438.4h0M620.9 415.7h0M655.2 411h0M635 404h0M608.5 383.3h0M620.3 394.4h0M670.2 428.9h0M662.7 398.1h0M631.3 436h0M616 422.9h0M636.1 434.2h0M647.9 421h0M667.9 407.7h0M653.7 416.3h0M648.5 402.1h0M632.3 403.1h0M658.3 415.7h0M635.7 432.2h0M648.4 416.7h0M641.3 439.1h0M644 426.7h0M642 405.6h0M644.8 410.7h0M622.7 399.6h0M673.6 406.3h0M624.7 379.8h0M624.9 404.4h0M662.1 412.4h0M651.1 379.6h0M630.7 397.6h0M657.5 400h0M684 386.6h0M673.5 414.9h0M633.4 394.3h0M661.3 426.6h0M657.2 410.8h0M675.8 442.2h0M628.4 414h0M630.8 397.6h0M615.1 401.9h0M637.2 409.5h0M620.4 393.4h0M653 411.9h0M667.1 415.7h0M630.7 402.1h0M638.2 392.2h0M643.8 407.2h0M639.4 417h0M664.5 406.8h0M668.7 410h0M631.4 427.5h0M649.2 424.4h0M627.4 403.6h0M645.3 409.7h0M653.2 387.6h0M631.9 402.5h0M641 429.5h0M620 415.7h0M644.3 384.6h0M659.4 407.3h0M628.9 438h0M619.8 432.1h0M658.5 412.2h0M639.6 382.2h0M720.4 389.8h0M723.8 392.6h0M751.8 393h0M752.9 370.1h0M738.2 402.2h0M734.7 399.9h0M732.5 393.9h0M712.9 406.5h0M727.5 409.4h0M729.9 395.4h0M687.7 379h0M740.5 368.8h0M745.1 401.3h0M711.2 397.3h0M723.2 381.5h0M741.2 398.8h0M730.3 381.9h0M710.5 415.1h0M743.6 388.5h0M728.6 400h0M708.4 424.1h0M732.5 428.7h0M723.6 371.3h0M733.9 383.6h0M730.6 387.7h0M726.9 400.1h0M694.3 402.5h0M717 379.8h0M741.6 400.4h0M762.1 374.5h0M752.4 339.8h0M724.3 407.5h0M722.3 407.9h0M729.3 439.8h0M727.9 431.8h0M757.5 413.4h0M716.7 384h0M732.6 415.9h0M748.5 388.1h0M702.1 382.7h0M763.6 381.3h0M718.1 386.2h0M731.6 396h0M726.2 380.2h0M740.8 371.3h0M744.3 393.7h0M732.2 426.2h0M716 386.7h0M731 408.9h0M703.6 404.4h0M715.5 364.5h0M723.4 413.1h0M733.9 381.8h0M742.5 403.4h0M712.3 399.5h0M761.1 387.3h0M735.1 381.2h0M724.5 401.8h0M745.6 393.8h0M712.9 398.8h0M724.5 417.9h0M707.5 406.3h0M745.3 401.8h0M715.7 395.5h0M720.2 384.6h0M744 410h0M743.1 395.8h0M742.5 418.2h0M698.9 431.6h0M712.2 434.3h0M707.2 400.9h0M744.2 369.9h0M709.5 388.6h0M758.2 365.1h0M704.8 469.1h0M718.9 404.5h0M726.8 379.8h0M735 372.3h0M744.9 374.7h0M756.6 380.1h0M720.1 393.1h0M725.3 383.9h0M745.5 388.5h0M751.1 411.9h0M711.4 440.8h0M697.5 423.1h0M722 423.6h0M695.9 402.5h0M684.5 440.9h0M709.8 433.1h0M719.8 417h0M678.3 429.8h0M710.8 429.5h0M674.6 401.5h0M699 423.6h0M698.8 416.1h0M703.7 427.8h0M699.8 435.5h0M693.3 416.1h0M726.3 444.6h0M680.6 424.6h0M720.2 450.4h0M696.2 442.7h0M693.3 406.7h0M690.9 405.7h0M713.3 425.2h0M694.4 405h0M693.7 431.7h0M651.4 423h0M715.4 432.2h0M695.4 427.5h0M714.8 405.8h0M692.7 385.9h0M695.4 424.3h0M701.2 441.8h0M675.3 432.7h0M693.6 426.8h0M707.2 435.4h0M720.9 412.9h0M675.4 394.7h0M687.7 439.9h0M695.9 421.5h0M702.8 431.8h0M696.1 430.3h0M723.8 417.8h0M698.9 442.1h0M722.4 430.3h0M678.1 420.8h0M708.3 450.1h0M699.7 446h0M694.2 428.5h0M687.4 429h0M685.2 435.2h0M726 435.5h0M737.5 437.2h0M717.2 420.6h0M668.7 429.7h0M709.4 458.1h0M691.5 417.4h0M707.5 427.9h0M692.1 432.5h0M680.3 422h0M687.8 422.2h0M700.2 425h0M693.2 419.6h0M706.7 447.6h0M691.1 433.7h0M701.5 392.1h0M695.7 433h0M677.9 423h0M695.3 437.7h0M681.1 417.7h0M690.5 437.5h0M696.4 423h0M698.3 413.7h0M745.5 432.1h0M761.1 416.1h0M773.1 423.2h0M764.9 415.9h0M744.1 374.1h0M748.3 419.5h0M728.4 431.1h0M748.4 429.7h0M734.6 412.4h0M717.2 407h0M764.3 394.1h0M754.8 416.8h0M752.4 432.9h0M739.6 379.7h0M771.8 443.4h0M741.4 432.1h0M748 413.2h0M758 410h0M748.6 432.6h0M763.8 445.9h0M769.1 435.6h0M761.4 420.5h0M740.6 432.4h0M744.5 441.9h0M758.3 429.7h0M748 438.8h0M771.2 436.8h0M755.2 432.9h0M764.5 438.5h0M759.8 429.6h0M729.2 453h0M760.8 433.4h0M766.3 444h0M743.7 454.4h0M733.3 418.3h0M748.3 436.1h0M766.6 429.8h0M771.5 428.5h0M764.3 412h0M754.5 436h0M784.2 467.8h0M746.4 421.5h0M746.5 437.5h0M718.8 388.5h0M750.6 403.6h0M754.7 434h0M755.7 453.5h0M743.8 401.7h0M751.7 424.6h0M724.4 411.6h0M767 448.6h0M760.2 424.6h0M746.2 431.7h0M758.1 414.4h0M758 444.9h0M768.3 434h0M751.5 450.9h0M746.9 413.7h0M729.9 351.4h0M741.5 422.2h0M778.9 468.7h0M756.5 424.4h0M759.2 405.3h0M774.9 408.9h0M704.1 447h0M724.4 414.7h0M670.7 455h0M683.7 449.1h0M692.3 455.4h0M676.1 441.1h0M679.4 444h0M670.5 470.9h0M668.3 456.1h0M659.5 431.2h0M683.5 435.7h0M690.1 442.3h0M695.2 443.3h0M686.4 433.4h0M682.8 447.3h0M668.9 438h0M677.2 455.3h0M689.7 436.3h0M697 422.4h0M695.7 441.5h0M686.3 445.4h0M674.4 438h0M681.5 442.1h0M673.5 458.1h0M687.8 447.1h0M682.5 441h0M696.3 476.5h0M686.1 444.6h0M681.6 463.6h0M660.3 449h0M690.4 467.8h0M671.8 447.5h0M710 490.3h0M677.3 439h0M696.4 434.8h0M710.3 469.8h0M698 410.4h0M697.9 432.7h0M691.5 450.3h0M669.6 467.9h0M700.9 460.7h0M670.1 442.6h0M677.7 417h0M689.5 424.6h0M680 456h0M707.3 455.8h0M712.4 419.5h0M674.9 474.2h0M686.8 445.1h0M683.8 438h0M721.9 439h0M683.2 422.9h0M686.2 458.2h0M667.2 476.1h0M668.3 411.4h0M681.9 444.8h0M697.3 447.5h0M664.1 431.8h0M683.8 477.9h0M658.9 438h0M697.5 434.7h0M677 456h0M672.5 454.7h0M663.1 462.4h0M684.4 370.8h0M670.1 435.5h0M701.4 481.5h0M677.1 420.1h0M671.3 457.9h0M675.3 435.3h0M672.6 429.9h0M693.9 442.1h0M686.3 460.6h0M682.3 475.1h0M675.7 449.7h0M517.7 433.5h0M538.3 448.6h0M505.7 463.4h0M524.2 443.4h0M550.2 466.4h0M520.6 433.1h0M561 438.6h0M544.1 425.6h0M541.8 445.6h0M537 434.9h0M603.2 480.4h0M533.6 449h0M525.8 466.2h0M529.8 452.3h0M531.1 445.5h0M561.7 456.5h0M541.8 447.1h0M562.5 408.7h0M561.5 456.4h0M550 411.6h0M545.3 452.2h0M546.9 432.7h0M530.5 427.8h0M557.1 437.6h0M559.3 450.6h0M624.6 459.9h0M621.8 525.4h0M602.8 457.9h0M588 461.5h0M623 499.6h0M597.3 494.9h0M614.2 456.2h0M605.5 519.3h0M609.2 508.3h0M625.8 439.3h0M625 495.2h0M597.8 443.5h0M605.3 464.5h0M601.4 486.8h0M613.5 492.7h0M610 461.5h0M630.1 486h0M605.6 472.6h0M614.6 464.7h0M635.9 469.6h0M623.1 469.9h0M614.9 472.4h0M630.3 474.1h0M625.4 460.8h0M630.4 485.1h0M617.1 459.9h0M621.3 472.9h0M618.5 488.3h0M607.4 487.8h0M601.5 474.5h0M619.3 472h0M650.7 455.2h0M593.4 484.2h0M624.3 480.4h0M610.1 467h0M611.5 466.7h0M622.6 469.3h0M608.2 449.8h0M615.7 467.6h0M618.9 462.1h0M628.4 475.8h0M621.2 464.7h0M616.3 442h0M599.9 500.2h0M593.4 454.4h0M611 463.8h0M611.8 475.8h0M633.5 460h0M612.6 466.8h0M643.9 470.5h0M621.7 464.1h0M623.8 485.6h0M604.8 482.4h0M597.1 465.2h0M632.9 492.5h0M662.2 470.7h0M663.9 489.5h0M653.1 452.6h0M653 466.5h0M658.5 470.4h0M665.3 472.1h0M656.7 431.3h0M679.9 456.1h0M650.3 491.2h0M654.7 485.6h0M644.1 470.6h0M642.3 460.8h0M621.1 460.5h0M680.7 474.1h0M656.6 479.3h0M649.6 471.1h0M660 459.3h0M664.3 480.7h0M674.1 466.2h0M606.7 454.7h0M608.4 508.8h0M666.2 453.8h0M652.7 472h0M647.8 497h0M667.9 485.8h0M660.1 435.7h0M658.5 460h0M651.3 478.1h0M635.2 466h0M661.6 477.6h0M626.1 502.3h0M675.1 439.1h0M648.7 465.1h0M641.8 487.6h0M664 466.3h0M647.6 487.1h0M690.8 477.4h0M669.1 444.2h0M651.8 470.5h0M659 483.1h0M641.2 480.7h0M634.3 488.3h0M662.2 463.8h0M661.7 494.2h0M673.5 465.8h0M687.7 450.7h0M651.7 430.7h0M665.9 463.6h0M663.2 471.3h0M654 474.5h0M671.2 466.1h0M644.9 460.6h0M632.2 468.4h0M665.6 478.5h0M659.6 475.5h0M649.7 436.4h0M666.1 465.9h0M648.4 463.3h0M676 475.2h0M643.7 467.2h0M708.7 450.8h0M660.3 458.9h0M640.9 457.5h0M651.9 464.5h0M646.5 468.2h0M596 526.3h0M600.3 489.1h0M607 510.1h0M608.6 491.7h0M630.3 510.4h0M626.9 502.4h0M621.3 506h0M600.1 477.8h0M631.8 507.9h0M602.8 517.2h0M605.8 481.3h0M623.4 521.2h0M603.3 502.5h0M600.1 519.5h0M625.9 481.7h0M615 509.6h0M587.8 509.6h0M615 512.3h0M632.6 515.1h0M612.8 477.4h0M610.1 499.1h0M625.2 521.8h0M598.6 513.1h0M604.2 514.8h0M600.5 514.8h0M708.2 483.1h0M710.6 510.2h0M693 508.5h0M642.5 514.2h0M726 479.4h0M707 513.7h0M668.5 499h0M713.6 457.9h0M690.9 525.5h0M686.6 483.2h0M716.6 524.3h0M700 459.3h0M665.2 504.9h0M734 449.8h0M689.9 504.7h0M691 498.8h0M733.8 464.6h0M717.7 459.6h0M675.3 513h0M718.1 449.1h0M739.4 459.6h0M711.7 510.1h0M730.3 459.9h0M692 463h0M704.1 489.7h0"/>
<path stroke="#1f4d1b" d="M462.8 706.4h0M463.7 767.6h0M446.9 643.6h0M427.5 648.8h0M456.3 720.1h0M441.3 720.3h0M428.4 627.8h0M389.5 631.6h0M465.5 770.1h0M415.6 645.1h0M439.3 716.5h0M461.8 759h0M432.1 764.9h0M470.4 786.3h0M469.8 789.4h0M480.5 793.5h0M461.1 749.6h0M459.8 785.8h0M466.9 786h0"/>
<path stroke="#b9cdd9" d="M198.3 287.9h0M187.9 227.7h0M198.9 252.8h0M185.5 225.7h0M205.1 270.3h0M186.2 259.9h0M211 254h0M205.9 255.5h0M191.4 274.9h0M177 234.7h0M204.5 252.6h0M211.8 283h0M215 287.9h0M201.3 253.9h0M206.6 298.3h0M202.7 267.1h0M195.5 266.5h0M185.1 243.9h0M181.3 236.1h0M205.8 279.8h0M200.7 263.3h0M179.1 246.3h0M147.8 325.1h0M129.9 329.1h0M140.4 326.1h0M135.7 301.5h0M142.7 338.6h0M137.7 335.3h0M135.6 323.9h0M139 370.9h0M148.1 353h0M133.9 330.6h0M141.4 319.2h0M139.5 336.4h0M143.2 356.1h0M122.7 309.8h0M148.8 328.2h0M119.7 360.4h0M156.2 352.7h0M150.3 338.9h0M127.6 346.3h0M152.9 334.7h0M137.1 338.2h0M143.2 359.8h0M212.6 327.7h0M188.6 346.8h0M190 303.4h0M195.8 350.5h0M194.1 328.7h0M209.3 324h0M184.1 327.8h0M212.6 322.4h0M192.9 347.5h0M163.9 305.5h0M211.7 329h0M154.2 323.8h0M221.8 329.9h0M206.9 308.6h0M223.9 310.1h0M222.3 301.7h0M216.8 315.7h0M229.6 305.4h0M213.5 310.7h0M216.3 311.7h0M209.5 328.6h0M223.7 329.1h0M168.1 368.2h0M203.4 313.4h0M209.1 327.4h0M217.8 341.4h0M198.2 303.3h0M190.2 320.9h0M221.3 318.2h0M199.7 314.5h0M217.1 357.1h0M243.2 313.8h0M221.3 346.3h0M252.1 327.7h0M215.1 317.2h0M218 358.6h0M239.5 328.1h0M214.9 348h0M223.2 370.3h0M205.7 348.9h0M210.2 311.3h0M225.6 360.4h0M198.5 367.2h0M252.4 324.3h0M236 343.6h0M231.1 326.3h0M175.2 364.9h0M254.1 316.6h0M208 323.6h0M211.3 300h0M213.7 327h0M222.3 321.2h0M228 312.6h0M204.6 337.3h0M216.2 327h0M184.9 360.1h0M220.7 318.8h0M218.5 323.3h0M238 303.7h0M229.8 314.1h0M223.8 334h0M207.1 298.3h0M201.8 320.7h0M235.2 334.5h0M214.4 338.8h0M250.1 342.5h0M218.5 300.3h0M241.2 341.5h0M246.5 331.4h0M218.7 364.3h0M212.1 345h0M210.5 360.8h0M276.3 328.3h0M226.6 338.3h0M218.2 341.1h0M221.1 343.9h0M204.5 356.9h0M241.4 320.9h0M218.5 321.7h0M317.2 355h0M245.3 328.9h0M279.3 341.8h0M250.5 334h0M231.3 334.6h0M266.2 336.3h0M243.6 345.3h0M274.4 325.3h0M283.8 327.4h0M248.4 337.3h0M265.7 324.2h0M252.4 349.1h0M266.3 328.4h0M249.3 340.1h0M268.3 328.7h0M245.2 347.9h0M260.8 325.6h0M286.9 310.5h0M245 329.4h0M205.8 334.5h0M249.2 334h0M245.2 320.5h0M279.7 330h0M290.7 308.1h0M252 351.1h0M250.3 332.5h0M248.3 351.3h0M250.9 322.1h0M248 320.7h0M277.8 319.7h0M237.6 337.6h0M223.1 339.1h0M251.4 338.6h0M262.3 324.2h0M266.1 345.1h0M257.3 332.7h0M305.7 316.4h0M248.1 366.6h0M321.8 319.9h0M193.2 351.4h0M239.6 281.3h0M249.6 336.1h0M276.5 337.9h0M196.5 294.5h0M260 334.7h0M255.4 316.7h0M257.7 323.8h0M291 303.6h0M260 302.2h0M303.3 308.3h0M308 325.2h0M300.1 338.2h0M287.4 325h0M349.2 354.5h0M270.1 324.8h0M277.1 312.2h0M277.4 313.7h0M335 310.7h0M259.9 325.9h0M291.7 334.6h0M286.5 322.7h0M291.5 311.7h0M320 333h0M291.3 335.1h0M262.5 306.8h0M328.9 350.3h0M291.2 284.7h0M236.9 307.8h0M282.8 336.8h0M284.8 325.9h0M287.6 299.3h0M298.9 299h0M266.2 316.8h0M315.6 293.5h0M312.3 355.8h0M297.6 303.7h0M239.7 335.5h0M287.8 313.9h0M339.8 367.4h0M265.2 318.9h0M272 364.5h0M269.8 332h0M353.6 304.2h0M335.1 302.7h0M365 296.9h0M347.1 293.5h0M344.6 306.3h0M340 307.4h0M369.8 308.4h0M352.5 288.2h0M346.5 338.7h0M360.5 285.4h0M356.3 297.6h0M372.6 307h0M357.9 323.8h0M366.6 319.6h0M325.2 312.2h0M350.1 294h0M319.6 314.4h0M362.4 335.4h0M371.5 305.6h0M352.1 307.8h0M346.7 284.2h0M339.1 306.8h0M172.8 370.9h0M189.3 362.8h0M127.2 384.5h0M167.1 346.7h0M175 383.2h0M183.3 347.9h0M206.8 325.3h0M204.3 340.1h0M186.2 353.6h0M166.7 365.9h0M162 339.7h0M214.3 357.1h0M189.9 324.6h0M176.2 401.1h0M163 369.2h0M145.4 382.2h0M181 344h0M136 356.9h0M168.9 353.4h0M189.8 365.6h0M193.9 346.1h0M178.4 349.6h0M164.5 370.3h0M153.5 359.1h0M145.4 373.5h0M219.2 349.8h0M222.2 371.1h0M178.2 353.5h0M201.4 366.9h0M158 373.9h0M168.5 367.4h0M198.8 346.1h0M191.9 351.9h0M167 359.5h0M173.8 355.1h0M209 370.4h0M189.1 338.4h0M178.2 362.6h0M172.9 376.4h0M175 340.8h0M165 377.5h0M181.2 355.7h0M167.3 353h0M183.2 341.7h0M184.3 356.8h0M195.1 370.6h0M210.8 352.5h0M187.2 354.5h0M189.8 352.4h0M176.5 356.1h0M339.2 374h0M328.1 375h0M312.5 348.2h0M343.8 393.4h0M324.4 381.7h0M327.5 361h0M335.3 370.5h0M344 366.1h0M306.2 412.6h0M335 373.3h0M342 337.9h0M325.2 367.8h0M327.5 349h0M300.1 372h0M351.2 385.5h0M337.5 373.2h0M343.3 334.4h0M339.8 376h0M326.2 387.3h0M324.3 359.8h0M315.7 360.2h0M331.5 375.8h0M124.6 336.9h0M129.2 391.3h0M132.9 401.3h0M133.7 375.5h0M127.1 344.3h0M124.2 405.7h0M144.3 395.9h0M134.5 365.8h0M130.9 378.5h0M135.8 361.5h0M107 381.7h0M116.6 389.9h0M102.3 378.9h0M125 383.2h0M112.3 393.8h0M129.4 366h0M108.4 393.8h0M108.1 398h0M126.5 353.3h0M125.3 380.4h0M136.6 445.6h0M138.7 368.3h0M149.2 401.1h0M157.3 348h0M150.7 387.8h0M117.2 389.9h0M167.7 399h0M130.4 360.1h0M129.3 389.1h0M135.7 403.3h0M114.3 351.2h0M141.4 394.4h0M126.7 381h0M127.3 387.8h0M134.9 377.6h0M125.7 375.2h0M115.7 407h0M138 394.5h0M148.3 389.9h0M155.8 362.6h0M132.5 402.7h0M268 406h0M264.1 374.8h0M299 399h0M287.2 352.4h0M246.2 387.1h0M291 368.2h0M269.7 380.7h0M267.3 371.3h0M264.1 398.5h0M266.3 403.6h0M255.3 349.6h0M272.8 377.6h0M308.8 393.7h0M279.7 385.6h0M276.1 383.6h0M296.1 388.2h0M261 370.7h0M273.1 372.6h0M268.3 397.1h0M185.9 385.2h0M189.6 424.7h0M193.7 390.4h0M204.3 368.4h0M188.2 387.4h0M207.2 397.5h0M192.1 396.2h0M167.3 365.5h0M186.7 393.1h0M198.6 414.1h0M152.3 404.3h0M200.1 388.9h0M195.8 388.6h0M181 388.9h0M195.2 366.9h0M171.3 395.8h0M194.2 400.6h0M178.3 391.5h0M181 380h0M203.3 386.5h0M212.8 379.6h0M192.7 382.9h0M161.1 384.9h0M196.9 369.7h0M148.2 362.3h0M205.4 386.2h0M212.1 404.1h0M188.1 412.7h0M188.1 382.2h0M208.8 383.3h0M204 372.7h0M181.4 395h0M187.3 389.4h0M181.9 392.5h0M211.6 398.6h0M214.2 349.5h0M170.7 416.1h0M172.7 376.6h0M189.3 382.5h0M227.3 376.8h0M188.4 387.5h0M172.9 375.1h0M188.2 389.2h0M191.7 386.7h0M156 399h0M175.7 411.3h0M209.3 367.1h0M191.3 377.6h0M191.4 396.4h0M159 399.3h0M212.6 372.6h0M377 383.4h0M381.7 386.2h0M402.8 387.5h0M398.4 399.9h0M367.8 378.2h0M381 384.1h0M380.3 374h0M384.8 398.5h0M374.3 379.7h0M399.4 390.4h0M380.4 397.2h0M390.1 378.6h0M382.8 381.4h0M404.1 359.3h0M384 387.6h0M389.3 372.9h0M357.3 403.8h0M381.9 378.5h0M389.8 418.1h0M396.4 379.1h0M392.9 391.4h0M349.7 402.5h0M392 395.9h0M389.1 380.4h0M359.2 371.5h0M405.6 382h0M384.7 381.5h0M375.9 405.9h0M353.5 408.1h0M393.2 402.5h0M383 390.2h0M394.4 368.3h0M405.8 402.1h0M401.5 385.2h0M394 387h0M373.2 379.2h0M363.8 394.9h0M406.2 391.1h0M393.2 412.5h0M397.8 398.1h0M365.7 334.5h0M113.1 359.1h0M100.9 433h0M111.5 401.9h0M97.2 415.6h0M109 379.2h0M139.2 411.8h0M106.3 394.1h0M95.5 365.8h0M113.9 386.4h0M100.4 398.9h0M113.2 367.5h0M146.3 376.4h0M111.9 418.9h0M113.9 413.3h0M76.3 417.3h0M115.5 390.5h0M115.7 419.5h0M122.9 408.1h0M122.9 423.4h0M150.7 407.9h0M174.6 407h0M147.2 414.9h0M156.8 427.9h0M165.9 435.5h0M165.2 432.3h0M135.4 428.5h0M191.5 423.6h0M168.2 417.8h0M138.3 410.3h0M173.7 404.3h0M167.2 421.9h0M152.6 418.5h0M156.2 417.3h0M169.3 426.2h0M174.9 421.9h0M174 423.5h0M166.1 423h0M154.1 426.6h0M164.1 430.6h0M175 411.8h0M160.9 393.1h0M162.4 442.3h0M155.8 413.9h0M169.4 425.2h0M145.7 391.1h0M149.8 411.3h0M145.6 417.2h0M154.4 443h0M170.7 423.2h0M189.4 417.7h0M161.9 395.9h0M164.2 425.1h0M145 412.2h0M183 412.4h0M161.2 422.9h0M162.1 382.1h0M160.4 420.3h0M310.6 417.8h0M314.9 416.5h0M306.6 409.7h0M301.8 411.2h0M338.9 411.7h0M302.7 432.3h0M299.8 398.2h0M301.2 429.3h0M303.8 398.4h0M306.5 419.3h0M312.1 404.4h0M314.1 419h0M301.9 416.9h0M309.7 416.9h0M311 414.5h0M309.2 406.9h0M316.7 430h0M317.9 419.9h0M317.5 419.9h0M310.7 433.4h0M349 402.6h0M313.6 423.3h0M432.6 415.9h0M392.7 418.8h0M398.9 411.6h0M409.2 404.4h0M400.2 410.7h0M366.4 375.2h0M386.9 434.6h0M415.1 412.7h0M395.1 421.4h0M403.6 434h0M377.4 406.5h0M389.7 420.6h0M407.5 387.7h0M400.1 419.7h0M393.7 401.1h0M396.2 413.9h0M382 444.6h0M397.8 406.7h0M370.5 394.6h0M395.9 398h0M406.4 427.5h0M378.3 437.4h0M384.5 427.5h0M395.7 397.6h0M395.5 407.5h0M377.6 423.8h0M396.3 419.8h0M389.7 436.6h0M420.2 447.8h0M390.5 410.8h0M391.4 442.5h0M388.2 399h0M393.1 416.4h0M411.9 413h0M405.5 435.1h0M408.3 427.2h0M406.5 396.2h0M387.4 413.9h0M396.8 415.6h0M398.5 421h0M384.3 397.6h0M238.7 460h0M228 491.9h0M228.6 478.3h0M253.3 484.6h0M213.7 531.1h0M215.7 470h0M256.8 506.1h0M219.8 472.6h0M202.5 459.1h0"/>
<path stroke="#f9848e" d="M441.2 110.1h0M447.7 103.9h0M452 119.6h0M458.8 140.1h0M440.4 143h0M429.2 130.1h0M458 125.8h0M436.9 136.5h0M439.5 100.4h0M467.3 131.4h0M457 110.4h0M452 135.3h0M446.5 111.2h0M444.8 127.5h0M436.7 125.5h0M462.5 113.2h0M460.4 111.4h0M436.8 148.4h0M438 130h0M432.7 139h0M450.7 121.7h0M419.1 99.4h0M467.1 103h0M443.8 127.5h0M433.9 119.6h0M435.4 120.1h0M466.1 138.3h0M457.5 129.2h0M460.6 137.5h0M466.9 146.8h0M431.5 104.6h0M445.8 115.6h0M444.5 105.1h0M457.7 132.2h0M438.2 122.8h0M451.1 122.8h0M466.8 130.4h0M450.3 138h0M461.7 118.3h0M454.3 110.9h0M446.3 95.2h0M455.2 116.8h0M439.5 152.8h0M453.3 121.4h0M441.3 118.3h0M454.7 130.3h0M410.9 118.1h0M454.2 97.9h0M449.1 138.3h0M464.3 129.7h0M446.3 125.1h0M425.3 113.6h0M426 112.9h0M437 118.9h0M437 104.4h0M450.6 118.8h0M441.8 127.7h0M456.4 126.5h0M466.7 115.3h0M475.1 132.1h0M464.9 113.8h0M489.5 135.7h0M462.7 119.4h0M478 136h0M495.4 115.2h0M485 112.1h0M456.7 118.9h0M474.8 118.3h0M502.8 125.4h0M452.4 100.4h0M487.6 126.7h0M496.7 130.8h0M488.3 102.4h0M450.4 119.8h0M471.4 125.3h0M508.2 116.9h0M497.3 132.4h0M503.3 122.8h0M495.7 91.2h0M518.3 87.8h0M474.7 121h0M484.4 97.3h0M492 127.1h0M496.9 151.1h0M507.9 112.9h0M512.4 135h0M443.8 131h0M490.1 147.8h0M485.4 109.4h0M499.9 135.7h0M524.8 93.4h0M502.4 117.2h0M487.9 80.1h0M495.8 118h0M532.7 140.8h0M475.7 119.9h0M489.5 109.2h0M529.1 126.4h0M457.8 103.9h0M484.8 113.5h0M480.5 110.2h0M468.8 106.5h0M482.2 120.8h0M471.4 115.2h0M496.8 118h0M491.9 107.2h0M485.4 122.1h0M481.4 108.9h0M522.6 108.5h0M496.8 126.1h0M484.9 119.2h0M479.4 112.4h0M512.9 120.8h0M486.9 135h0M521.3 142.4h0M490.7 119.9h0M483.5 111.4h0M522.1 102.4h0M542.3 87.6h0M526 119.1h0M539.1 109.7h0M528.3 116h0M536.7 118.2h0M509.9 138.3h0M512.6 110.9h0M530.9 111.8h0M529.4 95.3h0M545.9 108.8h0M544.1 121.9h0M536.5 116.7h0M497 126.3h0M543 105.5h0M523.1 104.1h0M547.8 134.6h0M527.6 113h0M518.2 124.9h0M544.5 124.4h0M533.6 106.9h0M536.9 108.2h0M531.4 119.2h0M536.8 112.7h0M526.3 106.7h0M561.5 117.6h0M511.4 104.1h0M539.1 121.6h0M540.6 108.8h0M529.6 127.9h0M513.2 107.4h0M514.1 106.5h0M507.4 110.2h0M542.2 104.5h0M528.2 105.5h0M533.8 85.4h0M540.9 109.8h0M530.4 116.6h0M486.7 121.6h0M510.3 113h0M505.2 93.7h0M539 101.2h0M541.6 102.8h0M569.7 127h0M531.9 100.5h0M543.5 135.6h0M536.6 81h0M544.7 117.8h0M549.4 120.4h0M557.9 141.6h0M563.4 115.3h0M571 113.7h0M555.2 151.4h0M576.4 125.5h0M562.5 146.2h0M556.4 88.7h0M577.8 100.2h0M552.2 71.6h0M579.3 141.4h0M553.1 114.4h0M540.8 168h0M550 127.6h0M549.3 123.5h0M550.6 123.6h0M556.9 146.4h0M557.3 96.3h0M590.7 111.2h0M599.8 122.5h0M533.9 99.1h0M574.6 95.4h0M532.2 130.6h0M555.6 129.9h0M562.1 117.6h0M520.2 126h0M530.6 123.2h0M544.3 132.6h0M537.2 109.8h0M482.4 146.5h0M557.9 131.8h0M545.5 123.8h0M565.2 126.5h0M563.9 127.3h0M558.7 137h0M439.5 181.4h0M465.3 163.6h0M450.3 197.2h0M445.5 152.4h0M438.5 154.4h0M422.5 161.4h0M466 173.6h0M430.6 171.2h0M413.3 152.9h0M445.7 196.3h0M461.4 199.6h0M444 152.1h0M441.6 138.5h0M450.1 149.7h0M476.6 164.3h0M440.8 162.2h0M429.8 153h0M427.2 203.7h0M436.4 152.8h0M446.3 154.1h0M436.3 164.2h0M458.5 141.6h0M463.6 176.6h0M449.1 197.5h0M456 157.1h0M458.1 182.9h0M447.1 130h0M442 149.1h0M412.3 113.2h0M437.7 141.4h0M488.1 157.2h0M480.8 168h0M434.8 142h0M411.5 136.5h0M456.6 164h0M445.1 130.9h0M434.4 163.4h0M457.9 155.4h0M465.4 212.8h0M441.3 181.5h0M417.9 156.3h0M472.9 182.4h0M443.5 136.3h0M456.6 167.9h0M459.4 204.3h0M453.5 217.6h0M477 166.8h0M450.4 146.6h0M455.3 123.2h0M487 189.8h0M510.3 127.2h0M470.1 134.5h0M466.9 156.5h0M442.5 132.3h0M507.1 172.3h0M481.7 140.5h0M480.4 176.6h0M491 143.2h0M480.2 101.1h0M520 141.9h0M514.2 139.9h0M471.9 163.5h0M488 157.4h0M482 144.5h0M490.9 150.7h0M448.3 153.2h0M476 163.2h0M487 174.1h0M506.1 168.8h0M515.8 151h0M493.3 156.4h0M481.3 166.1h0M487.9 168.8h0M511.3 200.4h0M483.1 144.8h0M483.6 176.8h0M483.7 190.4h0M471.8 175.8h0M513.2 180.1h0M473.2 157.1h0M504.8 161.1h0M514 124.2h0M508.6 151.6h0M451.1 186.3h0M502.3 171.8h0M497 151.6h0M473.9 125.9h0M482.5 166.4h0M481.6 156h0M499.2 155.3h0M487.9 148.5h0M470.9 162.6h0M495.7 176.5h0M511 159.2h0M490 166.7h0M496.1 159.8h0M459.6 154.2h0M480.4 165h0M468.4 153.4h0M493 173.5h0M478.7 165.1h0M470.8 201.5h0M503.3 133.5h0M501.6 148.9h0M485.1 139.4h0M500.3 131.4h0M463.5 176.3h0M506.1 148.3h0M490.3 158.3h0M483 194.9h0M480.6 183.6h0M507.2 142.1h0M551 149.6h0M528.6 150.3h0M557.9 134h0M536.1 140.4h0M549.9 153.9h0M544.3 148.4h0M528.2 150.3h0M555 174.1h0M532 151.3h0M521.1 150.7h0M539.3 182.3h0M530.4 147.4h0M546.1 146.4h0M526.4 166.3h0M552.4 150.5h0M550.9 138.7h0M550.3 140.9h0M535.4 165.3h0M536.7 177.1h0M548.3 128.4h0M536.1 152.3h0M543.5 157.1h0M550.8 150.9h0M543.4 130.6h0M522.8 157h0M542.3 154.2h0M544 157.7h0M537.5 155.7h0M552.1 153.8h0M557.8 127.8h0M541.1 174.5h0M517 161h0M542.1 145.5h0M514.7 170.1h0M514.3 147.2h0M550.3 143.8h0M516.3 141.9h0M540.3 175.7h0M544 173.4h0M524.5 173.6h0M554.4 156h0M562 147.6h0M536.3 139.3h0M537.2 150.4h0M554 169.8h0M508.3 134h0M539.1 151.6h0M519.2 123.7h0M547.9 165.7h0M551.5 116.3h0M537.8 130.8h0M552.4 154.4h0M550 160.2h0M464.2 184.3h0M470.4 204.1h0M467 178.2h0M483.1 209.4h0M477.9 207h0M472.1 161.5h0M467.2 210.2h0M467.5 212.5h0M471.3 177.9h0M481.6 202.3h0M473.6 162.1h0M468.4 167.7h0M493.2 186.9h0M440.9 219.4h0M467.6 190.3h0M476 192.7h0M459 204.9h0M478.6 200.6h0M467.7 188.4h0M460.5 211.2h0M478.2 183.9h0M467.4 173.5h0M472.4 196.1h0M454.4 186.4h0M446.5 176.6h0M457.9 157.7h0M469.5 171.2h0M454.6 162h0M457.2 204.4h0M489.8 200.5h0M469.9 165.8h0M422 184.9h0M467.4 169.5h0M470.7 183.3h0M466.6 193.5h0M454.3 182h0M454.6 188.6h0M465.4 167.3h0M460.9 173.1h0M451.9 162.6h0M448.7 185.9h0M456.1 184.7h0M459.3 184h0M515.3 188.1h0M477.4 179.8h0M473.2 185.5h0M454.3 131h0M448 150.2h0M466.2 175.1h0M454.8 167.4h0M479.5 181.3h0M460.4 183.3h0M462 214.6h0M600 193.9h0M605.6 163.9h0M619.8 186.5h0M641.4 186.9h0M591.5 171.4h0M599.4 147.8h0M623 147.2h0M608.7 170.5h0M610.1 205.8h0M577.5 174.9h0M566.6 165h0M629.9 156.6h0M602.1 168.6h0M568.4 136.3h0M596.2 153.4h0M655.8 195.5h0M592 200.3h0M618.1 168.8h0M604.5 186.7h0M595.7 137.8h0M611.3 160.5h0M607.7 145.7h0M604.5 159.9h0M631.2 171.7h0M600.5 141.9h0M610.7 182.5h0M610.6 147.8h0M628.1 173.8h0M651.5 165.6h0M642.9 214.7h0M670.5 261.3h0M663.3 198.1h0M607 208.9h0M664.7 182.1h0M659.4 184.7h0M649.1 209.9h0M641.2 208.5h0M655.6 186.8h0M655.9 199h0M633.7 191h0M629.2 189.3h0M640.1 180.8h0M645.1 156.8h0M656.2 213.1h0M622.9 199.1h0M618 205.2h0M659.2 191.1h0M652.5 162.8h0M642.1 184.2h0M635.6 182.2h0M653 194.9h0M668.8 197.5h0M624 187.1h0M632.7 185.1h0M537.7 211.1h0M518.2 251.5h0M508.1 200.1h0M535.7 214.3h0M527.9 183.3h0M535.2 210.8h0M526.3 204.2h0M514.4 204.3h0M533.2 213.3h0M535.6 201.5h0M527.7 179.5h0M517.5 193.4h0M476.7 247h0M554.2 224.9h0M491.5 192.6h0M537.8 165.2h0M535 273.2h0M515.3 200.5h0M529 190.6h0M521.3 174.7h0M536.7 197.7h0M517 200.7h0M545.2 185.4h0M535.1 210.3h0M528.6 240.7h0M530.1 211.4h0M518.5 196.1h0M542 222.5h0M538.7 219.4h0M535 226.6h0M542.7 219.3h0M528.2 216.1h0M537 223.1h0M527.7 198.2h0M536.8 200.1h0M543.4 207.4h0M501.8 189.4h0M521 204.7h0M529.1 197.2h0M522.9 231h0M528.1 249.5h0M517 220.2h0M560.5 201.4h0M585.5 197h0M581.5 158.8h0M575 221.6h0M573.1 178.6h0M564.1 229.2h0M561 189.8h0M580.5 195.6h0M587.2 211.2h0M580.2 189.1h0M557.1 189h0M600.3 202.5h0M578.9 177.3h0M571.5 188.2h0M548.9 201.6h0M588.8 203.8h0M562.7 246.6h0M585.7 248.5h0M553.3 207.9h0M579.9 224.7h0M567.5 199.9h0M567 213.2h0M593.6 183.5h0M581.1 201.3h0M567.6 190.2h0M576.3 184.1h0M582.6 202.9h0M595.4 185.9h0M571.2 151.5h0M573.9 196h0M592.3 227.2h0M580.8 212.3h0M575.2 227.8h0M548.1 173.9h0M572.7 194.5h0M483.8 191h0M523 235h0M479.1 220.2h0M505 227.3h0M471.9 251.9h0M521.4 214.7h0M483.3 208.7h0M482.3 227.9h0M512.6 239.1h0M488.2 240.8h0M481.6 214.1h0M508 180.9h0M477.7 225h0M513.4 242.5h0M489.8 224.5h0M486.4 191.7h0M498.9 216.6h0M554.1 268.9h0M476.7 217.2h0M527.3 204.2h0M481.7 243h0M511.2 227.8h0M544.8 237.2h0M506.5 242.5h0M513.6 219.7h0M525.4 231.8h0M508.8 201.7h0M487.9 224.7h0M499 227.7h0M540.8 257h0M474.7 191.5h0M494.9 195.2h0M588.2 268.2h0M588 229.5h0M601.4 243.5h0M600.8 231.8h0M596.1 269.9h0M583.6 236.5h0M591.4 237h0M582.8 218.6h0M593.5 258h0M598.1 280.2h0M574.5 219.9h0M606.1 211.7h0M583.8 237.5h0M590.8 231.8h0M607.3 221.8h0M592 243h0M580.8 250.8h0M583.3 234.4h0M619.8 266.6h0M603.7 230.6h0M612.5 230.9h0M594.5 263.3h0M593.8 253.3h0M614.3 238.5h0M600 237.8h0M616.4 222h0M583.6 204.6h0M459.2 278h0M447.9 266.9h0M459.3 227.1h0M427 204.8h0M442.4 204.8h0M460 220.5h0M451.4 252.7h0M452.6 236h0M469.4 232.2h0M462.8 268.6h0M445.3 257h0M459 264h0M453.2 241.3h0M454.6 276.2h0M452.1 261.8h0M444.8 263.4h0M464.1 261.4h0M431 267.6h0M460.2 256.4h0M454.1 266.7h0M465.2 264.9h0M613.2 288.2h0M612.5 272.7h0M595.9 254.2h0M562.9 233.2h0M563.4 259.9h0M629.5 251.6h0M609.8 284.8h0M611 257.4h0M595.4 260.3h0M623.7 269.1h0M605 260.2h0M611.7 268.2h0M610.1 246.6h0M606.7 271.2h0M606.2 266.7h0M558.5 252.4h0M601.8 278.7h0M598.7 252.4h0M628.5 257.9h0M614.2 248.7h0M607.4 320.4h0M615.1 274.2h0M569.1 226.2h0M594.4 283.5h0M575.8 269.3h0M582.6 257.3h0M523.4 228.5h0M679.6 250.9h0M675.4 226.8h0M661.6 265.1h0M666.6 259.1h0M689.8 267.6h0M659.5 286h0M676.8 221.3h0M671.7 255.1h0M698.1 219.7h0M678.8 251.7h0M685.2 258h0M681.9 254.3h0M666 227.1h0M679 253.5h0M679.9 257.9h0M653.6 262.3h0M695.2 284.7h0M700.6 280.2h0M667.9 255h0M679.3 263.7h0M664.4 206h0M670.2 252.6h0M671.2 225.3h0M659.2 256.9h0M673.7 231.5h0M666.8 303.9h0M648.7 262.9h0M690.1 257.1h0M668.1 303.9h0M574.4 250.6h0M552 315.9h0M549.5 287.5h0M541.4 273.6h0M533.7 296.7h0M542.7 281.4h0M564.6 292h0M555 261.1h0M513.1 288.5h0M560.1 278.4h0M579.1 267.5h0M532.8 267.6h0M566.7 282.2h0M559.6 224.7h0M558.8 279h0M565.5 310.4h0M579 287.9h0M555 297.3h0M567.6 237.5h0M549.7 278.1h0M542.9 330.9h0M541.9 302h0M556.3 272.9h0M562.2 292.4h0M693.9 262.1h0M690.2 298h0M680.4 290.2h0M689.9 323h0M658.5 323.5h0M679.4 303.3h0M679.5 284.1h0M685.3 292.1h0M678.2 325.9h0M677 272.3h0M689.9 283.2h0M682.6 311.7h0M687.7 321.9h0M661.7 275.3h0M682.4 304.3h0M678.9 294.2h0M641.5 301h0M613.1 277.7h0M690.8 292.5h0M672.7 290.6h0M676.5 297h0M693.6 308.3h0M707.6 298.4h0M658.2 307.6h0M654.6 293.2h0M673.6 277.1h0M642.7 316.7h0M685.4 309.7h0M661.3 294.4h0M656.1 290h0M679.6 313.4h0M634.6 280.5h0M523.6 303.7h0M541.9 293.8h0M555.8 322.7h0M548.7 305.7h0M519.8 307h0M506.5 359.1h0M528.2 315.5h0M509.9 348h0M514.5 336.8h0M517.3 263.6h0M519.1 319.1h0M524.6 317.6h0M534.3 320.8h0M517.6 344h0M527.1 336h0M524.6 321.5h0M528.7 330.1h0M520.9 319.3h0M539.4 333.1h0M553 290.4h0M529.3 312.9h0M552.4 329.9h0M573.8 397.6h0M566.7 365.5h0M548.3 303.3h0M586.1 349.7h0M603 342.7h0M580 320.3h0M583.5 332h0M581.9 356.4h0M579.7 343.3h0M580.5 346.5h0M599.3 330.6h0M598.9 358h0M551.9 320.2h0M574.9 341h0M555.2 336.8h0M580.9 334.9h0M559.2 365.1h0M571 355h0M576.4 332.3h0M567.4 313.1h0M613.8 343h0M591.4 345.8h0M565.8 328.3h0M580.3 302.3h0M595.1 360.5h0M580.6 356.5h0M674.1 345.9h0M677.3 331.6h0M655.7 355.3h0M682.1 348.1h0M669.6 369h0M636 340.3h0M664.2 331.8h0M655.4 344.5h0M686.4 356.5h0M665.3 332.9h0M663.6 362.6h0M652 339h0M657.5 340.8h0M664.4 337.2h0M677.6 341.6h0M633.9 341.7h0M677.9 367.3h0M674.2 350.8h0M681.9 372.1h0M677.2 368.8h0M666.9 363.3h0M611.1 371.7h0M695.2 333.2h0M671 363h0M668.8 331.4h0M675 361.5h0M642.7 290.5h0M646.1 326.8h0M679.5 348.2h0M537.1 343.2h0M543.6 340.6h0M556.6 373.2h0M531.5 378.6h0M539.4 361.2h0M562.9 371.9h0M535 368.7h0M524.8 376.7h0M536.4 386h0M529.6 392.9h0M539.7 373.5h0M539.9 372.8h0M558.8 365.2h0M538.3 350.9h0M554 371.2h0M546.3 367h0M564.8 353.7h0M545.2 361.7h0M532.8 367.4h0M537 400.3h0M548.2 378.2h0M556.9 371.8h0M543.7 323.9h0M532.9 345.4h0M537.9 367.7h0M565.1 365.4h0M545.3 374.1h0M569.7 411h0M521.7 399.7h0M532.7 379.7h0M517.1 393.1h0M543.6 372.1h0M500.4 405.5h0M486.3 389.7h0M466.8 358.6h0M519.4 400.4h0M458.9 328.4h0M486.8 389.3h0M501.4 396.5h0M474.2 404.5h0M492 383.8h0M518.3 346.3h0M499.2 388.8h0M503.6 416.4h0M489 387.2h0M483.2 386.8h0M493.8 390.7h0M479.2 361.1h0M485.4 398.4h0M480.4 378.9h0M492 402.9h0M490.4 391.1h0M472.9 394h0M511.1 392.5h0M472.2 397.4h0M499.8 395.8h0M472 362.2h0M473.1 383.1h0M512.7 405.9h0M490.2 390.6h0M483.2 375h0M512.1 414.1h0M497 411.9h0M521.6 389.3h0M538.6 416.3h0M544.9 386.5h0M561.2 417.4h0M542.8 418.1h0M524.4 454.6h0M531.3 417.4h0M544.5 428.8h0M544.4 426h0M514.3 410.4h0M552 407.1h0M528.1 388.7h0M538.3 427.2h0M520.2 416.6h0M546.1 440.9h0M557 411.1h0M552.2 381.4h0M522.2 443.6h0M534.1 443.8h0M535.1 411.6h0M562.7 419.8h0M570.2 421.7h0M538.7 429.4h0M518.4 439.6h0M555.7 441h0M511.9 429.1h0M538.6 441.1h0M512.4 410.1h0M553 417.1h0M533.4 399.7h0M528.3 419.5h0M547.5 408.2h0M544.8 420.8h0M530.6 411.8h0M549.7 429.9h0M525.5 417.4h0M567.4 478.8h0M565.7 447h0M570.4 430.4h0M572.3 449h0M559.2 446.2h0M556.5 432.3h0M564.5 452.3h0M576.8 450.3h0M584.7 454.9h0M584.6 415.5h0M556.2 447.9h0M570 453h0M596.6 413.7h0M575.9 462.6h0M579.5 422.2h0M587.2 451.3h0M554.1 476.1h0M568.7 465h0M574.4 468.9h0M561.9 450h0M593.2 451.3h0M575.5 446.3h0M588.1 468.6h0M583.9 454.1h0"/>
<path stroke="#1f4193" d="M431.6 307.1h0M417.7 295.4h0M406.2 258.2h0M411.3 283.4h0M422.7 289.6h0M405.4 289.7h0M443.2 282.1h0M402.2 266.9h0M415.8 276h0M410.9 286.2h0M455.5 320h0M412.8 310.6h0M432 271.7h0M403.5 278.6h0M409.6 256.2h0M406.8 288.6h0M402.9 291h0M415.6 267.2h0M423.7 350.1h0M436.3 321.9h0M464.5 370h0M441 387.7h0M419.5 340.9h0M413.3 317.8h0M401.2 325.5h0M425.6 355.6h0M422.4 349.4h0M430.3 329.8h0M469.5 343h0M442.1 351.1h0M436.3 333.5h0M428.5 350.8h0M441.7 323.7h0M439.7 365h0M457.1 358.8h0M446.3 349.5h0M425.9 324.4h0M443.6 382.8h0M439.4 317.8h0M414.9 353.8h0M429 336.9h0M460.9 351.5h0M416.6 327.4h0M436.8 342.4h0M439.1 376.1h0M432.9 361.7h0M456.6 339.8h0M416.6 373.8h0M422.7 363.1h0M428.3 357.6h0M444.3 350.9h0M440.4 352.7h0M422 339.1h0M420.4 427.9h0M476.8 352.1h0M456 342.6h0M448.5 350.3h0M461.4 361h0M450.8 359.1h0M458.7 361h0M447.6 364.4h0M462.6 337.3h0M471.2 326.2h0M462 362.8h0M438.6 352.1h0M454.2 333.3h0M457.8 332.7h0M445.8 357.8h0M446.3 345.1h0M461.2 348.1h0M436.4 339.9h0M449.9 339.5h0M445.2 353.5h0M462.3 328.3h0M460.8 362.1h0M466.4 337.5h0M446.6 346.5h0M452.3 377.8h0M435.2 379h0M439.7 321.3h0M461.6 346.2h0M434 367.3h0M460.1 348.1h0M447.3 368.9h0M447.4 356.9h0M467.7 372.1h0M442.5 344.6h0M450.6 352.4h0M438.9 384.5h0M444.7 354.1h0M458.5 362.7h0M470.2 323.7h0M460 338.4h0M445.1 376.6h0M435.9 350.9h0M424.6 341.1h0M460.3 383h0M468.6 385.7h0M445.9 368.1h0M464.4 400h0M447.1 381.4h0M471.6 345.5h0M413.1 372h0M450.3 387.5h0M455.3 374.9h0M438.4 347.3h0M447.9 375.6h0M473.8 379.4h0M463.5 370.1h0M466 384.6h0M453.7 381h0M449.3 383.1h0M436.7 379.9h0M464.9 369.8h0M449.4 379h0M455 347.8h0M456.4 369.6h0M449.1 362.5h0M465.5 400.6h0M463.3 379.9h0M430.9 365.6h0M447.1 368.9h0M456.4 376.7h0M449.1 360.9h0M450.7 346.5h0M460.9 371.8h0M452.8 392.6h0M408.5 391.1h0M434.1 372.5h0M463 377h0M472.8 353.1h0M453.6 380h0M444.7 380.5h0M471.7 362.2h0M460.6 391.9h0M456.9 394.7h0M484.1 423.2h0M498.9 426.2h0M492.8 412.6h0M486.8 411.8h0M481.5 411.4h0M475.6 445.3h0M500 416.7h0M507.1 423.2h0M499 412h0M459.6 419.5h0M497.8 437.9h0M458.9 406.8h0M499.4 443.5h0M478 389.5h0M465.4 435.4h0M474.2 393.1h0M489.8 435.6h0M469.9 416.3h0M490.6 424h0M494.4 431.1h0M500 451.8h0M471.2 428.4h0M512.4 465.1h0M475.4 416.2h0M500.5 444h0M483.5 410.3h0M479.2 467.9h0M502.8 390.1h0M504.3 411.4h0M484.1 418.6h0M462.2 454.5h0M485.5 398.1h0M491.3 440.4h0M484.7 414.1h0M481.9 417.7h0M485.9 429.6h0M478.5 419.2h0M432.3 442.3h0M413.5 429.2h0M446.7 432.9h0M424.5 427.7h0M415.6 454.6h0M407.2 455.8h0M431.8 458h0M434.6 438h0M421.5 480.3h0M413.7 456.6h0M444.3 424.9h0M439.7 479.6h0M461.7 447.2h0M419.2 439.7h0M437.1 442.3h0M434.1 430.6h0M441.7 445.2h0M414.3 421.4h0M434.4 443.3h0M436.5 445.9h0M418.3 442.9h0M430 435.2h0M413 435.5h0M425.7 429.2h0M439.6 444.8h0M424.6 448.5h0M421.9 443.4h0M441.8 396.8h0M424 438.9h0M451.9 416.6h0M450.3 395.9h0M438.4 417.1h0M436.1 429h0M421.9 433.8h0M428.1 435.2h0M445.6 429.8h0M424.5 440.2h0M448.7 440.6h0M477.6 458.7h0M462.9 487.6h0M471.8 455.2h0M483 438.5h0M522.9 454.4h0M476.8 464.8h0M492.1 446.1h0M476.1 436.5h0M495.6 433.4h0M480.9 448.2h0M493.5 452.7h0M481.4 447h0M478.2 467.1h0M472.8 453.8h0M490.9 436.4h0M485.9 451.2h0M452.3 398.8h0M449.9 448.7h0M480.5 453.6h0M474.5 436h0M473.6 467.1h0M474.1 465h0M471 449.4h0M467.3 459.1h0M479.2 455.1h0M481.6 435.8h0M468.4 416.8h0M481.6 459.9h0M496.2 487.3h0M485.7 450.2h0M484.6 439h0M472 454.9h0M474.6 434.8h0M477.1 476.9h0M505.4 475.3h0M474.4 437.7h0M475 455.1h0M454.4 490h0M465.8 488.6h0M453.3 515.5h0M413 499.1h0M442.9 542h0M426.9 553.5h0M454.2 518.9h0M451.5 499h0M446.5 510.9h0M466 521.8h0M435 486.1h0M443 503.3h0M454.6 496.9h0M443.7 516.5h0M470.7 526.9h0M439.7 489.1h0M445.3 530.6h0M439.8 484.3h0M450.9 509.3h0M434 513.9h0M469.1 500.4h0M267.1 341.2h0M250 360.5h0M193.5 332.5h0M238.6 339.3h0M223.2 346.1h0M227 371.6h0M238.6 347.1h0M228.3 355.5h0M277.4 433.3h0M265.1 414.5h0M259.4 438.9h0M279.1 425.4h0M269.4 437h0M258.2 439.5h0M257.1 435.1h0M254.1 448.3h0M245.4 435.3h0M278 433.9h0M268.9 440.9h0M264 431.3h0M273.7 444.6h0M272.4 442.8h0M254.4 423.9h0M273.9 425.8h0M259.4 428.7h0M277.1 418.3h0M302.5 466.1h0M270 444.6h0M282.8 429h0M257.9 439.9h0M290.9 443.1h0M266.7 443h0M401 439.6h0M387 440.3h0M369.8 441.8h0M375.4 440.1h0M421.1 425.7h0M387.8 422.1h0M349.2 454h0M341 472h0M376 436h0M399.9 416.7h0M361.5 429.2h0M387.5 456.4h0M379.5 448.2h0M402 457.9h0M390.2 446h0M409.9 431.4h0M358 449h0M380.1 445.6h0M393.7 425.5h0M362.3 435.2h0M360.6 461.8h0M368.2 448.6h0M368 456.3h0M354.4 440.1h0M410.7 445.1h0M373.8 446.3h0M381.1 444h0M371 439.5h0M389.7 429.1h0M349.1 460.5h0M409.5 465.4h0M336.7 445.5h0M215.9 474.9h0M212.2 476h0M212.8 436.4h0M204.8 467.6h0M223 493.9h0M240.2 455.7h0M211.5 460.2h0M221 470.8h0M209.1 474h0M185.1 492.8h0M210.5 481.8h0M229.6 452.4h0M215.4 439.9h0M283.2 451.4h0M298.1 462.1h0M294.7 451.8h0M306.8 473.9h0M294 505.1h0M304.8 494.8h0M303.1 473.8h0M351.6 470h0M321.1 483.2h0M333.7 463.9h0M291.1 493.3h0M316.7 464.4h0M294.7 461h0M311.9 475h0M342 457.3h0M328.8 469.8h0M319.8 471.2h0M259 474.7h0M310.6 464h0M309.2 479.2h0M294.5 486.6h0M297.8 462.9h0M300.9 470.8h0M301.3 457h0M316.8 469.2h0M301.1 474.8h0M295.1 476.5h0M360.2 490.2h0M355.2 481.8h0M360.1 489.3h0M363.7 513.1h0M362.1 485.2h0M363.6 471.9h0M336.4 464.5h0M349.8 474.1h0M344.9 494h0M340 497.9h0M310 506.7h0M356.2 527.7h0M360.8 476.1h0M355.1 486.8h0M360.1 504.8h0M356.8 464.9h0M366.9 476.5h0M370.4 480.6h0M370.2 487.2h0M338.4 495.7h0M398.6 476.7h0M371 517h0M359 474h0M353.6 473.6h0M346.5 480.3h0M358.8 500.3h0M379.4 484h0M368 492.1h0M367.9 494.7h0M367.9 488.2h0M334.9 484.1h0M380.4 480.2h0M137 516.8h0M173.3 549h0M143.5 573.7h0M150.6 546.3h0M183.2 543.3h0M154.2 526.8h0M188.9 524h0M151.4 538.9h0M141.5 509.5h0M176.5 535.2h0M168.1 505.5h0M146.7 530.6h0M167.6 546.4h0M158.8 520.9h0M148.1 519.6h0M157.4 577.9h0M148.2 537.3h0M168.4 552.1h0M157.4 533.9h0M308.1 536.3h0M328.8 567.7h0M326.5 545.4h0M333.6 553.9h0M318.3 532.5h0M331.5 570h0M300.6 573.8h0M332.5 556.6h0M335.3 549.2h0M341.5 549.1h0M317.7 542.2h0M312.9 544.6h0M347 539.6h0M321.4 551.7h0M365.2 530.8h0M310.4 528.1h0M322 537.5h0M304 541.5h0M334.4 543.4h0M339.7 547.3h0M335.8 569.6h0M347.1 519.2h0M330.2 557.6h0M366.4 543.5h0M356.8 547.5h0M334.4 547.5h0M423 591.5h0M419.1 578.1h0M401.5 598.3h0M401.5 571.7h0M417.8 569.8h0M418.7 568.6h0M414.4 544.9h0M413.2 583.1h0M411.6 571.9h0M386.3 593.4h0M406.6 579h0M393.9 587.4h0M464.1 598.3h0M426.6 559.7h0M408.2 534.5h0M405.6 594.1h0M417.8 579.5h0M399.9 569.7h0M457.9 518.7h0M416 569.4h0M419.9 566h0M390.6 566.5h0"/>
<path stroke="#070a30" d="M205.3 419h0M180.1 448.2h0M211 430.1h0M212.1 447.7h0M200.4 437.7h0M207.9 443.1h0M224.4 418.7h0M176 421.2h0M218.7 455.2h0M220.3 425.9h0M240.5 427.1h0M197.4 418.5h0M221.5 414.6h0M189.3 416.4h0M239.7 433.2h0M208 426h0M211.9 438.3h0M189.4 432.7h0M216.7 450.4h0M216.7 453.3h0M187.6 425h0M188.3 438.6h0M214.4 423.4h0M253.4 423.9h0M214 449.1h0M234.2 438.9h0M203.3 420.1h0M226.3 449.9h0M168.4 424.9h0M351.4 435.9h0M367.9 411.7h0M374.3 449h0M349.6 416.1h0M338.9 410.6h0M303.1 407h0M361.8 426.9h0M329.8 441.6h0M351 410.7h0M366.1 418.1h0M327.8 391.6h0M339.2 418.2h0M343.9 436.1h0M338.5 426.8h0M347.2 431.4h0M339.6 431.2h0M375.9 442.9h0M332.4 424.9h0M351.3 439.6h0M385.4 443.5h0M387.3 415.3h0M354.6 416.7h0M375.4 439.4h0M351.4 391h0M340.3 417.8h0M194.8 487.8h0M175.7 495.5h0M183.8 464.7h0M172.2 511.2h0M148.8 478.8h0M150.8 495.3h0M168 487.5h0M176.9 492.3h0M152.3 467.3h0M167.6 479.8h0M172.7 483.8h0M194.4 526.6h0M174.3 496.9h0M154.5 488.1h0M171 495.7h0M186.5 489.7h0M155.8 473.6h0M163.6 486.3h0M161.3 504h0M163.6 522h0M186 468.5h0M190.8 584.2h0M146.9 477.3h0M176.6 492.9h0M175.7 490.6h0M116.9 482.2h0M141.4 456h0M174.3 488.9h0M195.5 526.7h0M165.1 520.2h0M200.2 528.2h0M190.2 516.9h0M124.2 486.7h0M182.7 524.7h0M167.7 498.1h0M196.1 451.8h0M196.4 502.3h0M247 492.2h0M276.2 458.1h0M245.2 497.3h0M272.2 474h0M260.8 474.9h0M274.4 516.5h0M270.3 498.9h0M258.1 463.9h0M268.5 479.7h0M278.5 485.9h0M248.1 494.4h0M268.8 485.3h0M253.4 497.1h0M261 486.3h0M253.2 491.8h0M248.4 495.6h0M281.1 483.2h0M297.8 504.2h0M285.7 520.8h0M275 499.1h0M255.1 475.8h0M273.3 473h0M277.6 474.6h0M262.2 495.5h0M295.1 490.4h0M254.6 471h0M274.2 503.4h0M271.8 499.5h0M249.2 497.9h0M290.8 528.4h0M292.1 487.3h0M269.2 483.1h0M275.3 496.2h0M284.1 463.4h0M306.9 489.5h0M268.9 490.4h0M291.6 502.6h0M334.5 523.6h0M330.3 509h0M338.5 531.3h0M319.2 537.2h0M331.5 524.5h0M323.5 525.3h0M327 541.7h0M317.8 522.5h0M337.1 512.4h0M306.5 518.1h0M301.9 472.8h0M306.7 490.2h0M323.9 499.4h0M337.2 527.3h0M337.1 506.6h0M321.2 505h0M316.5 514.6h0M321.2 508.7h0M339.5 529.9h0M329.7 515.5h0M310.6 537.3h0M353.8 508.4h0M303.1 517.2h0M339 497.9h0M338.4 486.8h0M338.5 499.1h0M336.9 518.9h0M298.4 519.3h0M310.4 499.1h0M328.4 491.6h0M319.7 524.8h0M340.1 443.5h0M374.8 505.9h0M343.5 541.8h0M320 522.7h0M338.1 485.8h0M311.4 500.7h0M332.9 533h0M353 561.7h0M326.9 500.6h0M325.6 504.4h0M303.5 504.1h0M366.1 516.3h0M436.1 500.2h0M418.6 474h0M414.8 508.3h0M428.5 479.2h0M435.4 496.3h0M396.1 522.7h0M430.3 555.5h0M391.5 467h0M433.6 490.8h0M416.7 496.6h0M430.6 494.7h0M412.3 531.6h0M422.9 487.2h0M395 475.6h0M451.6 485.4h0M444.7 523.3h0M410.7 494.5h0M396.4 533.1h0M446.6 489.8h0M396 504h0M422.7 501.5h0M421.2 491.5h0M431.9 518.6h0M423.1 475.8h0M401 515.4h0M424.1 471.8h0M447.4 477.1h0M398.8 464.5h0M399.9 544h0M448 513.5h0M371.6 524.1h0M426.6 490h0M103 586.1h0M114.4 547.4h0M116.8 521.2h0M106.9 563.7h0M130.1 540.6h0M134.8 508.1h0M113.7 543.1h0M145.1 562.7h0M96.8 508.8h0M122.9 609.1h0M89.7 550.5h0M129.2 559h0M105.6 552.8h0M106.8 536.4h0M108.2 559.8h0M82.1 516.2h0M170.8 565.2h0M413.8 523.3h0M401.1 571.8h0M388.4 542.7h0M407.1 545.5h0M406.7 535.2h0M392.2 564.8h0M359.5 551.1h0M397 554h0M399.8 574h0M387.2 549.5h0M365.2 546.9h0M384.8 539.9h0M403.4 562.9h0M415.3 543.4h0M417.7 569.6h0M374.9 548h0M394.7 531.3h0M424.8 552.7h0M378 511.1h0M393.7 578.4h0M381.6 543.9h0M387.1 525.6h0M390.3 544.3h0M378 567.2h0M415.4 548.9h0M401.2 543.4h0M407.9 573.6h0M370.3 536.5h0M390 547.7h0M383 546h0M388.4 569.9h0M407.9 573.7h0M393.4 541.2h0M385.4 577h0M396.6 572.1h0M392.6 595.1h0M377.9 518.2h0M231 538.1h0M249.3 580h0M290 592.3h0M235.6 567h0M190.9 633.3h0M265.3 538.4h0M245.9 552.4h0M270.3 539.5h0M254.1 586.9h0M253.5 541.5h0M234.4 558.3h0M243.2 542.9h0M218 603.1h0M255.2 591.9h0M239.7 585.3h0M243.8 575.7h0M253.6 544.7h0M250.6 561.6h0M252.5 545.6h0M244.7 544.4h0M257.1 560.2h0M234.2 546.5h0M238.8 570.7h0M224.1 529.1h0M238.1 575.9h0M254.1 579.9h0M209.7 531.7h0M276.4 561.2h0M199.3 530.8h0M255.7 510.2h0M259.4 559.2h0M222.8 575.7h0M237.7 548.8h0M231.1 562h0M244.4 573.8h0M233.1 563.7h0M233.2 558.8h0M218.8 580.5h0M245.5 567.3h0M244.2 556.2h0M228.6 559.3h0M234.3 533.3h0M240.2 586.6h0M269.3 616.4h0M264.3 609.3h0M229.3 518.1h0M256.5 595.8h0M236.3 615.2h0M253.4 578.7h0M271.6 558.1h0M311.4 566.1h0M341.1 552.4h0M356.6 555.6h0M341.1 580h0M330.2 571.6h0M365.2 582.9h0M342.2 563.7h0M323.5 527.8h0M315.8 569.8h0M334.8 568.2h0M356.8 544.7h0M347 575.1h0M342.8 579.6h0M318.4 586.3h0M361.2 557.4h0M348 587.4h0M322.5 565.1h0M294 560.8h0M322.7 586h0M340.5 581.7h0M348.6 578.8h0M341.6 571.7h0M327 567.1h0M331.6 571.5h0M323.4 510.8h0M306 567.5h0M342.8 547.7h0M364.8 586.8h0M360.7 574.1h0M302.3 527h0M329.4 593h0M338.8 548.8h0M332.9 573.5h0M313.3 553.8h0M338.3 577.9h0M352 577.1h0M331.4 553.1h0M339.2 578.3h0M341.1 628.4h0M395.1 518.6h0M283.5 555.8h0M334.2 544.1h0M368.1 564.2h0M310.8 624.3h0M332.5 558.6h0M353.8 561h0M340.7 582.8h0M361.7 577.1h0M332.8 578.9h0M301.3 568.5h0M177.7 642.1h0M159.3 604.8h0M173.3 636.3h0M167.4 598.6h0M219.2 594.9h0M152 610.3h0M163.8 621.7h0M162.2 636.4h0M175.3 616.2h0M198.6 615.8h0M163.6 647.6h0M179.3 625.1h0M188.4 638.2h0M158.5 604.1h0M187.2 635.2h0M156.2 578.2h0M124.3 640.4h0M167.7 619.8h0M161.5 637.6h0M145.6 631.8h0M151 620.1h0M159.1 602.4h0M193 630.8h0M199.2 626.6h0M198 608.5h0M217.1 611.5h0M158.7 583.2h0M205.9 595.6h0M173.1 581h0M186.4 621.7h0M193.4 646.8h0M197.6 605.5h0M164.5 575.5h0M203.9 604.5h0M207.9 626.9h0M187.4 630.4h0M185 604h0M172.3 598.4h0M216.5 632.5h0M196.9 600.9h0M146.2 573.4h0M198.6 629.3h0M201 620.6h0M149.3 574.7h0M193.4 614.5h0M179 622.3h0M215.8 612.2h0M232.5 623h0M147.9 590.8h0M191 547.5h0M208.6 586.2h0M175.7 617h0M183.6 631.9h0M207.7 628.6h0M175.4 603.2h0M185.6 621h0M209.7 609.4h0M194.2 548.2h0M209 620.7h0M195.4 589.6h0M202.6 607.3h0M211 624.1h0M244.4 641.8h0M202.5 593.9h0M195 595.9h0M209.6 573.1h0M221.8 612.5h0M197.3 654.7h0M255.9 617.2h0M218.9 613.6h0M196.1 599.5h0M185.4 615.3h0M209.2 612.5h0M227.5 667.3h0M188.4 592.9h0M196.2 597h0M190.4 615.8h0M192.1 600.5h0M194.7 608.7h0M176.6 609.5h0M221.2 592.8h0M203.1 619.7h0M223.2 601.8h0M194.5 601.5h0M234 584.8h0M218 616.7h0M213.1 576.9h0M234 596.3h0M239 597h0M212.1 608.8h0M221.3 572.9h0M268 657.5h0M223 561.6h0M232.1 601.8h0M203.3 620.1h0M215.6 607.1h0M206.2 601.7h0M205 585.5h0M210.4 613.3h0M227.5 581.4h0M225.7 603h0M233.7 641.5h0M178.2 619.8h0M219.6 617.6h0M238.9 634.8h0M218.9 621.3h0M197.2 605.9h0M234.9 587.3h0M225.3 619.1h0M205.9 589.4h0M205.5 613.1h0M216.5 614.4h0M203 605h0M226.8 597.5h0M197.4 599.7h0M214.1 599.2h0M226.6 604.6h0M238.2 597.2h0M227.7 590h0M177.7 634.3h0M203.6 595h0M195.3 647.3h0M219.9 623.1h0M246.2 616.8h0M222.1 592.5h0M247.3 619.9h0M226.9 599.2h0M224.6 602.6h0M209.1 607.7h0M233.9 606.4h0M251.1 589.7h0M212.4 594.5h0M207.2 611.5h0M225.4 633.3h0M252.3 615.7h0M204.5 624.3h0M231.5 567.3h0M234.3 586.3h0M206.6 590h0M208.1 630.4h0M226.7 588.5h0M218.1 638.3h0M260.9 618.7h0M262.5 609.5h0M287.1 631.3h0M242.7 584.8h0M258.3 621.1h0M279.7 621.1h0M293.3 639.3h0M293.9 597.5h0M270.1 626h0M286.4 620.8h0M275.4 596.1h0M258.5 611.8h0M279.7 616.3h0M284.7 575.2h0M303.3 629.4h0M273.8 615.3h0M320.4 557.5h0M261.9 601.4h0M298.8 582.6h0M270.7 594h0M255.4 603.3h0M309.1 604.3h0M283.1 603h0M230.5 615h0M271 599.9h0M257.7 591.9h0M284.3 605.4h0M288.8 604.1h0M301.4 651h0M293 590.1h0M301.2 625h0M267.5 634.3h0M262.8 604.4h0M285.3 572.7h0M265.9 594.1h0M297.6 636.1h0M233 619.1h0M276.7 608.8h0M242 586.7h0M261.3 610.3h0M272.5 606.1h0M282.6 613.7h0M272.3 590.1h0M296.5 603.3h0M260 591.1h0M278.8 598.1h0M263.2 619.5h0M288.5 596h0M292 629h0M282.6 617h0M292.6 631.4h0M286.6 602.7h0M281.2 579.2h0M310.4 615.5h0M255.3 601h0M255.1 611.4h0M342.9 582.6h0M289.1 612.4h0M262.1 611.6h0M283.7 628.1h0M274.8 593.9h0M275.5 595h0M284 620.8h0M270.8 601.8h0M247.1 604.9h0M281.8 622.6h0M298.4 634.6h0M258.8 617.5h0M277.1 620.6h0M268.5 595.2h0M403.1 584.3h0M343.9 617.7h0M380.4 612.8h0M344.1 618h0M386.1 621.5h0M343.7 626.4h0M382.5 615.1h0M337.9 637.3h0M361.7 635.9h0M338.4 626h0M399.9 632.7h0M356.7 612h0M378.2 626h0M353.5 623.1h0M375.2 619.1h0M365.9 607.5h0M347.8 577.6h0M364.1 622.1h0M367.1 629.6h0M338.1 624.3h0M372.1 618h0M322 623.6h0M370.8 629.3h0M396.3 575.8h0M326.5 574.1h0M391.5 628.1h0M349 619.9h0M381.9 610.6h0M386.1 600.4h0M334.9 626.6h0M356.6 614h0M345.8 615.7h0M398.2 624.6h0M384.8 610.4h0M351.3 606.6h0M362.3 587h0M356.9 615.5h0M335.3 619.6h0M361.6 626.3h0M372.1 607.3h0M380 618.8h0M367.7 615.2h0M395.4 586.3h0M401.4 597.8h0M397.7 629.8h0M389.6 618.9h0M429.6 616h0M413.5 636.4h0M415.5 610.2h0M429 657.2h0M430 638.6h0M396 633.4h0M404.1 603.9h0M428.9 618.1h0M369.4 621.3h0M376.5 605.4h0M395 629h0M432.9 653h0M427 615.5h0M433.9 603.4h0M405.3 609.4h0M410.8 617.2h0M395.9 602.9h0M414.9 626.6h0M388.3 645.5h0M426.3 616.4h0M404.9 602.2h0M394.9 593.1h0M371.3 633.8h0M418.1 600.2h0M371.9 595.2h0M413.2 648.9h0M414.6 627.6h0M398.8 623.6h0M421.3 621.2h0M342.5 609.3h0M314.4 599h0M320.1 639.8h0M299.2 616.5h0M258.9 611.5h0M328.2 638.6h0M283.1 679h0M335.7 647.4h0M335.5 588h0M322.2 628.3h0M300.7 636.7h0M303.9 634h0M318.2 606.6h0M309.4 629.7h0M319.3 633.9h0M324.4 651.2h0M290.8 701.4h0M336.2 619.7h0M308.9 690.7h0M294.1 650.2h0M319.2 614.6h0M337.8 626.9h0M293.6 644.1h0M305.7 664.3h0M330.9 615.5h0M291.5 616h0M318.9 639.7h0M306.3 712.8h0M294.9 632.6h0M308.7 646.6h0M304.3 635.9h0M343.1 637.3h0M357 668h0M343.8 618.5h0M319.6 635.4h0M326.3 634.5h0M306.3 675h0M331 642.6h0M328.5 621.4h0M320.1 631.8h0M313.6 627.4h0M331.6 611.6h0M321 605.7h0M325.9 644.5h0M314.1 647.6h0M288.3 622h0M319.4 641.1h0M325.2 620.2h0M322.7 645h0M326.8 621.6h0M326.1 617.8h0M291.6 666.1h0M302.9 609.3h0M286.9 614.5h0M302.4 602h0M317.6 658.3h0M305 636.7h0M338.4 659.3h0M333 605.6h0M280 643.2h0M283.6 613.2h0M248.7 669h0M285.6 643.1h0M296.1 627.8h0M295.4 669.8h0M296.5 658.4h0M279 650.2h0M296 651.4h0M285.9 606.2h0M291.2 673.3h0M292.3 668.5h0M250.6 647.3h0M260.9 671.9h0M297.5 627.1h0M293.8 649h0M282.1 675h0M318.5 667.2h0M267.8 640.6h0M278 612.1h0M302.8 652h0M276.5 638.1h0M296 640h0M291.4 653.9h0M279.9 646.6h0M296.8 691.5h0M325.8 681.5h0M279.2 600.5h0M293.3 646.9h0M263 671.2h0M276.3 653.2h0M309 656.9h0M212 628.3h0M321 664.5h0M296.1 660.7h0M301 665.7h0M303.6 638.6h0M259 667h0M249.1 628.8h0M282.4 660h0M279 650.6h0M298.5 634.8h0M286.7 651.1h0M317 660.1h0M316.8 652.9h0M274 654.4h0M267.4 644.2h0M259.4 656h0M317.3 655.4h0M296 650.8h0M270 650.1h0M259.1 648.3h0M277.1 639.6h0M303 639.7h0M293.8 659.2h0M271.8 645.2h0M305.4 688.2h0M256.6 635h0M312.8 661h0M289.1 652.8h0M287.6 662h0M293.7 652.1h0M282.6 635.4h0M284.3 654h0M287.2 678.2h0M267.2 622.5h0M204.4 602.2h0M252.2 681.1h0M242.2 624.7h0M240.8 629.2h0M249.2 616.5h0M256.8 656.8h0M231.4 650.9h0M257.4 649.7h0M239.9 661.1h0M208.2 646.6h0M249.9 667.1h0M245.7 646.4h0M221.9 660.5h0M227.7 665.4h0M212.9 628.9h0M220.3 642.2h0M226.7 659.3h0M213.7 625.5h0M211.2 619.7h0M235.2 624.4h0M227.4 629.5h0M257.3 658h0M255.4 615.2h0M229.7 649.7h0M227.2 611.2h0M245.2 658.2h0M231.3 623.4h0M217 653h0M244.4 641.5h0M230.9 671.4h0M249.8 694.1h0M266.6 652h0M235.4 645h0M198.7 624.6h0M260.7 649.2h0M248.6 640.1h0M218.4 639h0M215.1 660.5h0M221.3 632.7h0M215.9 633h0M254.2 631.1h0M235.8 688h0M207.8 677.3h0M258.1 685.5h0M257.2 640.8h0M246.1 641.6h0M266.7 664h0M221.6 616.7h0M260.5 663.2h0M232.1 669.7h0M204.6 658.6h0M234.9 648.4h0M226.1 706h0M240.7 689.7h0M233.9 653.9h0M250.4 656.5h0M230.7 657.4h0M237.6 660.7h0M235.1 671.6h0M319.5 635.5h0M364.9 653h0M316.1 674.2h0M312 662.2h0M313.8 665.5h0M326 656.7h0M322.8 671.1h0M305.5 649.7h0M307.7 665.6h0M316.7 675.5h0M345.5 640.7h0M324.2 655.1h0M314.8 659.6h0M356.4 634.4h0M341 657.2h0M329.4 670.5h0M311.3 615.7h0M307.6 649.7h0M313.9 632.3h0M302.4 644h0M329.5 664.9h0M301.9 659.4h0M321.7 682.3h0M304.9 654.7h0M327.3 643.7h0M328.1 654.2h0M322.9 645.6h0M349.9 641.5h0M314.3 670.9h0M334.2 664h0M321.5 656.4h0M339.7 648.4h0M335 640.3h0M332 665.9h0M372.8 651.8h0M370.8 632.1h0M313.8 666.3h0M327.5 621.9h0M318.3 658.7h0M343.2 657.1h0M388.6 634.2h0M328 641.1h0M301.4 674.2h0M325 632.5h0M331.3 641.5h0M280.7 750.3h0M301.8 718.2h0M257.1 685.5h0M273.5 714h0M301.4 664.9h0M273.5 726.6h0M293.3 687h0M263 693.6h0M282.7 701.9h0M261.4 719.6h0M263.7 713h0M280.1 734.7h0M256.6 727h0M298.1 689.9h0M281.1 720h0M277.3 715.9h0M307.6 711h0M302.4 682.8h0M295.9 693.6h0M280.1 712.1h0M270.4 696.7h0M220.8 617.7h0M223 618.6h0M226.1 614h0M193.5 662.9h0M249.1 648h0M238.8 603.6h0M212.8 589.9h0M230.7 647h0M258.2 619.5h0M241.4 633.1h0M242.3 607.8h0M207.1 618.7h0M240.2 588.4h0M219.7 609h0M202.1 617.1h0M218.8 634.5h0M213 612.7h0M233 599.7h0M237.2 607.4h0M229.9 621.4h0M210.5 622h0M227.3 601.4h0M219 618.2h0M251.9 604.4h0M224.1 611.3h0M230.7 620.5h0M249.4 622.1h0M241.6 611.6h0M252.1 601.1h0M239.1 608.1h0M255.5 597.1h0M249.2 602.6h0M213.8 603.8h0M227.1 608.6h0M215.4 600.2h0M234 594.6h0M252.8 581.4h0M220.9 585.3h0M231.3 615.6h0M213.3 602.7h0M243.5 611.9h0M224.3 604.1h0M210.9 601.7h0M232.7 616.7h0M241.4 614.5h0M224.1 622.5h0M225.9 597.4h0M249 580.6h0M222.1 668.1h0M215.5 613.3h0M241.7 624h0M215.2 598.1h0M248.1 611.9h0M221.6 612.3h0M249.5 613.1h0M220.1 593.2h0M232.2 602h0M246.9 620.7h0M240.1 615.6h0M255.4 623.7h0M224.8 584.3h0M215.1 585.3h0"/>
<path stroke="#6f0000" d="M742 322.7h0M733.6 337.4h0M707.3 286.6h0M732.7 334.1h0M716.7 299.4h0M747.7 315.5h0M739.4 306.9h0M715.2 299.8h0M717.9 316h0M732.7 357.2h0M734.1 304.2h0M730.6 298.1h0M734 307.7h0M761.4 298h0M748.6 313.7h0M744.7 317.7h0M761.5 390.4h0M719.6 316.6h0M727.4 309.7h0M747.8 312.9h0M732 322.6h0M739.5 323.2h0M727.3 327.9h0M743.1 304.6h0M749 288.3h0M764.5 368.7h0M774.9 385.7h0M745.3 339.5h0M776.3 375.3h0M758.6 365.5h0M747 358.5h0M768.3 378.4h0M779 364.6h0M762.8 343.3h0M774.7 372.4h0M752.7 346.2h0M763.8 360.9h0M747.7 402.2h0M769.6 371.9h0M784.4 367.1h0M787.1 376.5h0M762.8 401.5h0M753.1 376.2h0M772.7 367.5h0M770.9 339h0M759.8 375.7h0M787.1 356h0M763.9 342.6h0M758.6 395.8h0M765.8 380.3h0M777.6 381.6h0M738.6 375.3h0M768.7 362.9h0M768.1 389.4h0M775.1 377.4h0M620 376.3h0M559.7 351.5h0M604.3 365.3h0M628.8 353.7h0M620.2 368.9h0M614.5 361.1h0M595.6 373.7h0M619 384.4h0M584.1 368.6h0M590.8 382.7h0M591.4 374h0M598.1 360.9h0M596.2 368.8h0M588.1 364.5h0M608.9 362.2h0M596.6 378.9h0M611.8 364.1h0M618.8 363.1h0M619.8 388h0M632.2 338.5h0M588.3 368.8h0M620.2 360.9h0M608.9 379.3h0M603.1 363.5h0M622.5 366h0M618.3 366.2h0M595.1 365.6h0M618.7 388.1h0M619.2 363.6h0M590.7 362.6h0M621.7 362.2h0M605.9 366.9h0M620.3 367h0M603.3 385.6h0M610.9 392h0M604 375h0M602.2 376.3h0M619.5 368.3h0M606.2 366.8h0M586.5 326.6h0M612.7 369.6h0M594.3 365.5h0M608.7 368.9h0M582.3 371.9h0M600 366.9h0M603.7 393.5h0M596.1 378.7h0M608.9 399h0M557.8 401h0M606.1 402h0M598 405.1h0M611.7 413.9h0M600.8 407.1h0M592.5 411.9h0M614 404.7h0M602.7 380.9h0M596.9 373h0M602.6 403.8h0M597.7 402.1h0M598.4 390.1h0M589.9 391h0M610.3 409.9h0M609.7 387.3h0M576.7 353.3h0M562.8 381.2h0M606.1 400.6h0M589.7 411.7h0M594.4 400.4h0M596.7 344.3h0M615.8 410.7h0M610.9 410.1h0M611 398.7h0M586.8 437.5h0M584.3 346.8h0M607.6 382.4h0M601.3 389.5h0M605.3 401.2h0M637.7 387.2h0M599.9 373.2h0M569.2 395.6h0M648.3 396.5h0M622.5 392.1h0M599.8 383.8h0M614.2 387.5h0M604.1 391.9h0M609.1 401.1h0M598 401.5h0M588.6 377.1h0M611.5 383.5h0M603 402.4h0M620.6 408.8h0M619.9 381.3h0M584.8 398.7h0M601.8 389.7h0M614.3 375h0M601.5 383.3h0M608.2 416.3h0M592.3 377.5h0M609.4 374.8h0M597 426.5h0M659.9 404.2h0M632.6 412.4h0M633.5 417.2h0M648.8 391.8h0M619.6 439.5h0M624.8 424.3h0M634.3 403.5h0M649.6 418.9h0M658.2 407.1h0M639.8 398.9h0M688.7 408.6h0M634.7 410.5h0M636.2 399.8h0M644.5 447.2h0M627.2 413.5h0M643.3 433.7h0M656.6 427h0M621.9 429.7h0M675.6 406.6h0M646.4 402.9h0M642.1 398.3h0M646.5 415.2h0M621.1 402.5h0M621.5 435.8h0M645.2 417.6h0M644 399h0M640.6 417.6h0M616.8 440.3h0M633.1 402h0M637.7 427.8h0M635.6 422.3h0M643.2 401h0M641.9 413h0M665.6 429.7h0M623.2 378.4h0M638.8 406.3h0M649.8 396h0M645.7 387.6h0M611.7 388.6h0M675.1 435.1h0M650.4 434.6h0M660.8 383.5h0M638.4 390.2h0M658.5 405.6h0M646.1 424.3h0M660 406.5h0M651.9 408.2h0M628.7 426.5h0M628.2 383.4h0M676 428.8h0M646.2 452.3h0M662 457.6h0M638.5 403.9h0M646.2 394.5h0M650.6 380h0M656.4 399.4h0M635.1 418.3h0M651.3 407.5h0M630 396.5h0M637 392.6h0M642 401.9h0M652 408.5h0M635.8 437.9h0M635.9 405.6h0M639.1 400.4h0M628.3 419.6h0M632.3 402.3h0M642.8 411.8h0M653 415.8h0M643.4 410.2h0M643.6 418.7h0M645.2 397.3h0M635.7 419.4h0M644.7 405.5h0M623.3 419.8h0M747.6 387.1h0M735 416.9h0M727.4 392.1h0M753.6 384.5h0M745.9 356.5h0M715 380.9h0M769.1 412.3h0M745.3 332.4h0M739.5 394.2h0M706.6 384.2h0M725.3 377.7h0M738.3 407.7h0M742.8 418.4h0M711.7 371.7h0M710.9 390.7h0M728.5 401.8h0M708.7 450.1h0M716.2 384.4h0M738 377.6h0M725.2 402.7h0M720.1 382h0M736.6 396.6h0M750.6 410.8h0M728.7 409.4h0M707.8 427.5h0M730.6 392.2h0M734.3 399.6h0M741.1 387h0M761 413.1h0M748.6 396.5h0M734.1 394.5h0M697.3 413.2h0M700.2 412.4h0M719.6 407.3h0M712.2 389.8h0M749.4 365.5h0M717.2 435.9h0M736.6 388.7h0M711.9 414.8h0M732.2 374.4h0M719.6 410.8h0M718.6 361.7h0M698.1 376.6h0M732.4 402.6h0M735.3 404.9h0M738.1 436.8h0M755 371.4h0M723.4 412.8h0M740 408.3h0M750.9 405.8h0M719.2 418.6h0M748 407.9h0M739.8 412.3h0M738.2 422.9h0M725.2 395.4h0M722.4 382.4h0M789.9 383.1h0M721.2 396.3h0M697.3 414.6h0M731.9 389.3h0M736.2 379.5h0M725.6 413.5h0M746.5 390.7h0M730.4 421.8h0M761 369.8h0M700.6 410.9h0M767.4 375.1h0M741.8 411.1h0M739.9 416.2h0M745.4 386.9h0M723.9 426.7h0M743.5 342.4h0M760.4 383.8h0M745.6 412.4h0M724.6 406h0M752.5 427.7h0M708.2 394.8h0M711.6 408.1h0M720.5 389.7h0M728.5 398.3h0M705 403.7h0M723.2 372.2h0M718.5 381.4h0M751 399.7h0M795.4 379.8h0M698.6 428.9h0M705.2 411.6h0M677.1 411.3h0M695.3 450.5h0M677.5 406.7h0M688.1 437.9h0M690.7 433.1h0M704.2 441.9h0M690.8 422.5h0M713.2 427.6h0M705.4 425.2h0M678.5 420.7h0M718.9 430.2h0M682.3 394.2h0M704.9 419.8h0M714.4 452.9h0M732.7 433.9h0M696.5 454.4h0M705.8 464.2h0M693.9 434.7h0M719.6 418.1h0M687.1 426.7h0M703.2 413.6h0M705.3 429.8h0M711.5 406.6h0M682.1 423.2h0M697.2 413.2h0M680.8 439.8h0M648.1 426.4h0M696.9 431.4h0M705.6 420.6h0M713.7 429.4h0M689.8 451.3h0M687.3 423.4h0M681.8 443h0M688.8 421.6h0M683.8 412h0M741.5 431.5h0M691.3 441.4h0M669.2 433.3h0M728.9 429.7h0M678.6 418.3h0M693.4 431.6h0M735.6 412.5h0M683.2 425.5h0M691.9 431.3h0M722.6 412.6h0M684.9 434.7h0M739.4 401.4h0M705.5 416.2h0M699.7 389.1h0M749.2 464.9h0M692.6 426.9h0M717.6 425.4h0M667.5 431.6h0M665.5 426.6h0M705.1 417.3h0M687.6 427.3h0M717.1 410.8h0M686 425.7h0M695.9 402.4h0M695.8 406.7h0M683.2 442.2h0M708.5 434.5h0M693.5 418.1h0M697.7 428.8h0M676.8 421.8h0M709.4 413.2h0M705.3 438.6h0M686.6 428.3h0M753.9 429.3h0M762.8 423h0M747.5 436.9h0M739.6 434.8h0M782.2 419.6h0M714.7 403.6h0M755.9 420.3h0M751.5 379.3h0M744.4 446.9h0M739.4 407.3h0M751.7 416.5h0M765.5 374.1h0M767.5 394.7h0M733.9 440.5h0M722.4 411.8h0M767.7 410.5h0M789.2 434.4h0M743.3 413.8h0M746.9 493.8h0M747.9 395.4h0M732.1 416.1h0M769 433h0M762.4 426.7h0M755.4 407h0M732.5 433.1h0M760.2 371.1h0M728.5 436.6h0M702.2 417.8h0M771.3 425.2h0M732.8 424h0M750.9 371.6h0M767.6 421h0M764.5 435.3h0M745.9 387.4h0M745.7 427.4h0M751.1 435.6h0M772.4 393.8h0M745.9 429.9h0M772.5 434.7h0M732.1 425.9h0M722.9 434.8h0M725.7 433.7h0M732.9 426.4h0M744.7 411.3h0M756.2 427.3h0M736.2 453h0M731.6 423.2h0M764.5 409.9h0M754.5 380.3h0M735.8 432h0M723.3 423h0M768.3 427.2h0M756.1 454h0M746.6 404.3h0M749.5 413h0M751.4 453.5h0M714.8 459h0M749.9 417.9h0M775.1 409.4h0M753.1 432.1h0M751.2 427.9h0M720.6 436.9h0M731.1 437.2h0M762 442.9h0M676.1 445.6h0M662.7 428.9h0M659.5 482.7h0M668.9 471.8h0M705.2 450.6h0M684.2 482.6h0M679.1 443.8h0M673.9 445.9h0M665.5 460.7h0M659.5 441.5h0M687.2 441.2h0M687.7 450.2h0M682.5 466h0M676.1 458.1h0M698.4 439h0M672 450.3h0M671.9 465.2h0M676.4 434h0M700.2 477h0M648.8 451.9h0M675.9 435.4h0M682.2 426.2h0M681.9 444.8h0M700.1 436.2h0M663.6 467.1h0M685.4 421.1h0M680.4 435.1h0M681 454.7h0M671.5 450.9h0M684.8 454.9h0M683.1 447h0M675.6 444.5h0M704.3 428.8h0M704.6 441.7h0M673 461.1h0M658.6 461.6h0M706.6 461.8h0M660.6 412.9h0M684.3 440.8h0M696.9 450.2h0M690.6 427.5h0M695.8 452.9h0M677.2 451.1h0M661.3 450.5h0M688 411.2h0M703.4 436.5h0M683 456.1h0M677.3 433.9h0M708.8 427.9h0M688.2 456.7h0M663.4 441.9h0M689.1 436.3h0M710.8 452.2h0M659.5 427.6h0M668.4 449.4h0M670.6 453.4h0M650.6 463.9h0M668.8 450.9h0M675.2 450.6h0M686.8 463.2h0M701.8 426h0M695.6 410.8h0M658.6 441.1h0M696.8 443.6h0M698 505.9h0M685.8 463.5h0M677.8 459.9h0M676 444.9h0M689.7 444.2h0M657.6 456.5h0M669.9 443.2h0M678 447.9h0M676.5 447.8h0M682.2 466.6h0M671 431.9h0M552.8 448.5h0M510.7 443h0M546.2 438h0M552.7 437.7h0M541.7 430.3h0M559.6 454.8h0M540.1 449.1h0M558.9 425.5h0M518 435.5h0M551 427.7h0M527.2 442.1h0M521.6 450.2h0M526.5 441.8h0M533.6 444.7h0M538.8 451.7h0M539.5 433.7h0M550.7 449.2h0M537.8 435.6h0M553.3 437.3h0M530.8 443.3h0M571.7 413.3h0M559.7 437.2h0M543.1 447.7h0M510.2 430.4h0M524.2 448.4h0M618.5 492.5h0M625.5 460.3h0M620.1 447.2h0M606.5 463.9h0M598 465.7h0M623.9 478.7h0M607.7 512h0M599.9 479.6h0M645.6 477.2h0M620.8 433.8h0M615 469.6h0M606.8 472.9h0M613.2 472.6h0M608.7 475.6h0M602.4 443.4h0M598.4 458.2h0M623.7 474.1h0M613.1 527.8h0M616.6 428.1h0M613.6 474.9h0M613.1 472.2h0M591.8 457.3h0M594 504.1h0M625.5 453.2h0M585.7 436.4h0M592.6 454.8h0M635.1 437.7h0M609.4 497.2h0M612 499.4h0M634.4 444h0M618.5 476.2h0M615.8 463.7h0M626.8 480.2h0M629.9 489.6h0M603.8 482.6h0M637.7 447.9h0M622.2 464.1h0M622.6 467.4h0M605.2 465.2h0M610.7 473.4h0M606.8 464.4h0M642.5 473h0M624.3 445.4h0M599.4 461.4h0M605.4 495.4h0M639.9 447.2h0M612.7 480.3h0M612 465.4h0M603.3 471.6h0M626.1 425.2h0M601.5 457.6h0M608.9 483.5h0M620.8 453.8h0M605.9 451.9h0M607.4 470.4h0M643.2 460.7h0M644.2 473.1h0M658.8 464.9h0M655.4 432h0M660.4 426.8h0M663.7 465.1h0M625.9 485.1h0M663.8 472.9h0M657.3 479.3h0M643.3 432.8h0M672.6 499h0M628.5 440.6h0M680.8 464.4h0M655.1 428.1h0M649.5 476.2h0M665.6 466.4h0M708.8 450.8h0M616.2 506.2h0M619.6 478.9h0M663.2 459.8h0M657 477.4h0M634.3 474.8h0M651.8 453.1h0M669.7 447.2h0M663.7 467.3h0M644.9 485.2h0M654.1 471.3h0M643.6 453.9h0M635.8 482.4h0M662.5 458.7h0M644.4 483.8h0M665.6 454.4h0M688.5 481.9h0M651.2 449.1h0M653.5 460.4h0M632.1 476.3h0M654.3 479.1h0M643.7 459.5h0M675.6 434.2h0M639.5 485.9h0M664.2 468.7h0M644.4 460.8h0M669 474.1h0M655.6 464.9h0M640.9 472.7h0M664.7 480.6h0M648.4 480.8h0M646.3 465.3h0M671.4 476.8h0M638.3 497.8h0M636.3 487.6h0M656.5 458.3h0M657.9 480h0M665.1 459h0M663.8 459.3h0M646 491.9h0M658.1 481.7h0M669.4 472.1h0M643.6 465.5h0M654.6 415.4h0M649.6 490.8h0M650.5 481.6h0M675.7 458.5h0M650.1 476.8h0M665.6 440.2h0M603.1 518.1h0M603.9 497.9h0M606.5 528.6h0M605.5 505.3h0M626.7 503.8h0M613.3 512.4h0M593 476.3h0M641 522.3h0M603.3 494.2h0M622.3 527h0M599.4 499.7h0M623.9 512.1h0M630.4 502.4h0M596.6 513h0M597.8 489.1h0M606.9 520.1h0M650.2 484.5h0M597.2 461.3h0M610.6 516.2h0M598.5 505.2h0M639.2 480.1h0M629.6 486.3h0M636.9 514.7h0M600.3 500.9h0M598.6 498.1h0M704.8 492.5h0M705.5 502.3h0M716.2 435.3h0M660.7 512.2h0M710 473.8h0M689.9 485.2h0M720.9 489.4h0M700.5 498.3h0M717.9 468.6h0M713.7 488.7h0M697.1 502.7h0M653.3 504.9h0M695.6 507h0M711.6 469.8h0M703.4 471.6h0M711.2 495.3h0M667.7 483.4h0M687 510.3h0M725.2 481.3h0M730.3 462.7h0M706.9 518.2h0M700.4 460.5h0M711 499.4h0M691.5 493.2h0M755.1 455.1h0"/>
<path stroke="#1f4d1b" d="M420.7 653h0M450.7 715.8h0M416.9 739.4h0M421.9 674.9h0M423 727.4h0M466.3 744.2h0M455.3 725.3h0M428.8 782.3h0M420.6 624.9h0M441.3 737h0M431.9 713.1h0M468.6 794.1h0M456.9 783h0M458.6 790.4h0M468.7 763h0M449.7 744.3h0M443.6 785.3h0M431.9 764.2h0M458.4 773.1h0"/>
</g>
<path d="M454.4 375.7L479.6 450M454.4 375.7L432.5 442.2M454.4 375.7L417 280.8M454.4 375.7L434.7 346.8M454.4 375.7L388 386.3M454.4 375.7L488 420.6M454.4 375.7L456.3 350.4M479.6 450L432.5 442.2M479.6 450L542.2 443M479.6 450L488 420.6M479.6 450L441.8 520.3M479.6 450L419.3 499.4M432.5 442.2L388 386.3M432.5 442.2L378.7 443.8M432.5 442.2L359.9 491.5M432.5 442.2L488 420.6M432.5 442.2L441.8 520.3M432.5 442.2L419.3 499.4M432.5 442.2L399.2 420.8M417 280.8L434.7 346.8M417 280.8L453.8 259.8M417 280.8L349.5 300.1M445.6 714.6L464.9 805.5M445.6 714.6L410.8 619.3M434.7 346.8L388 386.3M434.7 346.8L349.5 300.1M434.7 346.8L456.3 350.4M434.7 346.8L399.2 420.8M542.2 443L571.7 452.3M542.2 443L532.9 429.9M542.2 443L487.5 394.5M535.7 372L583.4 347.6M535.7 372L551.7 280.3M535.7 372L532.9 429.9M535.7 372L610.7 367.3M535.7 372L531.5 312.6M535.7 372L487.5 394.5M657.8 471.1L645.2 405.2M657.8 471.1L612.9 472.5M657.8 471.1L608.7 511.2M657.8 471.1L678.9 448.7M645.2 405.2L601.7 386.9M645.2 405.2L697.1 430.4M645.2 405.2L612.9 472.5M645.2 405.2L610.7 367.3M645.2 405.2L678.9 448.7M571.7 452.3L601.7 386.9M571.7 452.3L532.9 429.9M571.7 452.3L612.9 472.5M571.7 452.3L608.7 511.2M571.7 452.3L610.7 367.3M601.7 386.9L532.9 429.9M601.7 386.9L612.9 472.5M601.7 386.9L610.7 367.3M591.3 241L612.9 163.3M591.3 241L653.6 187.7M591.3 241L571.7 203.1M591.3 241L680.3 254.5M591.3 241L602.5 260.6M591.3 241L551.7 280.3M612.9 163.3L653.6 187.7M612.9 163.3L571.7 203.1M612.9 163.3L553.4 121.7M653.6 187.7L571.7 203.1M653.6 187.7L680.3 254.5M571.7 203.1L551.7 280.3M571.7 203.1L546.4 151.2M571.7 203.1L524.5 207.3M571.7 203.1L553.4 121.7M674.6 299.9L680.3 254.5M674.6 299.9L602.5 260.6M674.6 299.9L665.7 346.8M674.6 299.9L741.2 310.3M680.3 254.5L741.2 310.3M583.4 347.6L551.7 280.3M583.4 347.6L532.9 429.9M583.4 347.6L610.7 367.3M583.4 347.6L665.7 346.8M583.4 347.6L531.5 312.6M602.5 260.6L492.8 222.8M602.5 260.6L551.7 280.3M602.5 260.6L610.7 367.3M492.8 222.8L551.7 280.3M492.8 222.8L487.5 158.2M492.8 222.8L453.8 259.8M492.8 222.8L462.8 179.3M551.7 280.3L531.5 312.6M532.9 429.9L487.5 394.5M697.1 430.4L678.9 448.7M697.1 430.4L733 393.9M697.1 430.4L756 429M697.1 430.4L665.7 346.8M705.5 503.4L608.7 511.2M705.5 503.4L678.9 448.7M705.5 503.4L733 393.9M705.5 503.4L756 429M612.9 472.5L608.7 511.2M610.7 367.3L665.7 346.8M678.9 448.7L733 393.9M678.9 448.7L665.7 346.8M733 393.9L756 429M733 393.9L665.7 346.8M733 393.9L773.4 372M733 393.9L741.2 310.3M756 429L773.4 372M756 429L741.2 310.3M773.4 372L741.2 310.3M445.1 114.7L438.4 160.5M445.1 114.7L487.2 117M445.1 114.7L487.5 158.2M445.1 114.7L462.8 179.3M438.4 160.5L487.5 158.2M438.4 160.5L453.8 259.8M438.4 160.5L462.8 179.3M546.4 151.2L487.2 117M546.4 151.2L487.5 158.2M546.4 151.2L532.4 106.3M546.4 151.2L524.5 207.3M546.4 151.2L553.4 121.7M487.2 117L487.5 158.2M487.2 117L532.4 106.3M487.5 158.2L532.4 106.3M487.5 158.2L524.5 207.3M487.5 158.2L553.4 121.7M487.5 158.2L453.8 259.8M487.5 158.2L462.8 179.3M532.4 106.3L524.5 207.3M532.4 106.3L553.4 121.7M524.5 207.3L531.5 312.6M524.5 207.3L462.8 179.3M531.5 312.6L487.5 394.5M531.5 312.6L456.3 350.4M487.5 394.5L453.8 259.8M487.5 394.5L488 420.6M453.8 259.8L462.8 179.3M388 386.3L378.7 443.8M388 386.3L352.7 424.2M388 386.3L306.6 419.1M388 386.3L327.6 365.2M388 386.3L399.2 420.8M378.7 443.8L359.9 491.5M378.7 443.8L352.7 424.2M378.7 443.8L308.8 474.1M378.7 443.8L399.2 420.8M268.7 436.8L212.8 430.3M268.7 436.8L266.6 491.6M268.7 436.8L273.8 381.2M268.7 436.8L225.2 471.8M268.7 436.8L306.6 419.1M268.7 436.8L233.6 352M268.7 436.8L308.8 474.1M268.7 436.8L209.8 471.3M331.8 543.4L359.9 491.5M331.8 543.4L323.6 510.3M331.8 543.4L393.9 544.9M331.8 543.4L242.4 560.5M331.8 543.4L343 567.2M331.8 543.4L362.4 616.4M359.9 491.5L323.6 510.3M359.9 491.5L419.3 499.4M359.9 491.5L308.8 474.1M359.9 491.5L362.4 616.4M212.8 430.3L166 488.5M212.8 430.3L225.2 471.8M212.8 430.3L233.6 352M212.8 430.3L189.3 393.3M212.8 430.3L158.7 428.9M212.8 430.3L209.8 471.3M352.7 424.2L273.8 381.2M352.7 424.2L306.6 419.1M352.7 424.2L327.6 365.2M352.7 424.2L323.6 510.3M352.7 424.2L419.3 499.4M352.7 424.2L399.2 420.8M166 488.5L242.4 560.5M166 488.5L158.7 428.9M166 488.5L197.5 616.9M166 488.5L157.9 533M166 488.5L209.8 471.3M266.6 491.6L225.2 471.8M266.6 491.6L323.6 510.3M266.6 491.6L343 567.2M266.6 491.6L308.8 474.1M273.8 381.2L233.6 352M273.8 381.2L260.3 326.8M184.5 237.5L226.6 330.1M225.2 471.8L242.4 560.5M225.2 471.8L343 567.2M225.2 471.8L209.8 471.3M306.6 419.1L327.6 365.2M306.6 419.1L294 311.3M306.6 419.1L308.8 474.1M233.6 352L327.6 365.2M233.6 352L189.3 393.3M233.6 352L226.6 330.1M233.6 352L260.3 326.8M327.6 365.2L294 311.3M327.6 365.2L349.5 300.1M327.6 365.2L399.2 420.8M294 311.3L349.5 300.1M294 311.3L226.6 330.1M294 311.3L260.3 326.8M294 311.3L205.6 317.5M349.5 300.1L260.3 326.8M189.3 393.3L226.6 330.1M189.3 393.3L127.8 383.4M189.3 393.3L105.9 417.7M189.3 393.3L171.3 359.6M189.3 393.3L260.3 326.8M189.3 393.3L158.7 428.9M189.3 393.3L205.6 317.5M189.3 393.3L209.8 471.3M226.6 330.1L171.3 359.6M226.6 330.1L260.3 326.8M226.6 330.1L205.6 317.5M127.8 383.4L133.4 324.5M127.8 383.4L105.9 417.7M127.8 383.4L171.3 359.6M127.8 383.4L158.7 428.9M133.4 324.5L105.9 417.7M133.4 324.5L205.6 317.5M105.9 417.7L171.3 359.6M105.9 417.7L108.6 540.6M105.9 417.7L242.4 560.5M171.3 359.6L260.3 326.8M171.3 359.6L158.7 428.9M171.3 359.6L205.6 317.5M456.3 350.4L399.2 420.8M323.6 510.3L343 567.2M323.6 510.3L308.8 474.1M441.8 520.3L419.3 499.4M441.8 520.3L413.3 574.8M419.3 499.4L393.9 544.9M108.6 540.6L197.5 616.9M393.9 544.9L343 567.2M393.9 544.9L362.4 616.4M393.9 544.9L413.3 574.8M242.4 560.5L343 567.2M242.4 560.5L212.1 603.6M242.4 560.5L271.5 607.9M242.4 560.5L233.9 661.3M242.4 560.5L157.9 533M343 567.2L271.5 607.9M343 567.2L362.4 616.4M343 567.2L321.2 636.3M162.4 627.3L197.5 616.9M197.5 616.9L212.1 603.6M197.5 616.9L233.9 661.3M197.5 616.9L157.9 533M212.1 603.6L233.9 661.3M212.1 603.6L228 615M271.5 607.9L321.2 636.3M271.5 607.9L286 652.8M271.5 607.9L228 615M362.4 616.4L410.8 619.3M362.4 616.4L321.2 636.3M410.8 619.3L326 662.2M410.8 619.3L413.3 574.8M321.2 636.3L286 652.8M321.2 636.3L326 662.2M321.2 636.3L277 725.5M286 652.8L233.9 661.3M286 652.8L326 662.2M233.9 661.3L277 725.5" stroke="#000" stroke-width="1.15" fill="none"/>
<rect x="44.6" y="56.4" width="766.4" height="746.6" fill="none" stroke="#000" stroke-width="1.9"/>
<g stroke="#000" stroke-width="0.9">
<circle cx="445.1" cy="114.7" r="11.3" fill="#f9848e"/>
<circle cx="487.2" cy="117" r="11.3" fill="#f9848e"/>
<circle cx="532.4" cy="106.3" r="11.3" fill="#f9848e"/>
<circle cx="553.4" cy="121.7" r="11.3" fill="#f9848e"/>
<circle cx="438.4" cy="160.5" r="11.3" fill="#f9848e"/>
<circle cx="487.5" cy="158.2" r="11.3" fill="#f9848e"/>
<circle cx="546.4" cy="151.2" r="11.3" fill="#f9848e"/>
<circle cx="462.8" cy="179.3" r="11.3" fill="#f9848e"/>
<circle cx="612.9" cy="163.3" r="11.3" fill="#f9848e"/>
<circle cx="653.6" cy="187.7" r="11.3" fill="#f9848e"/>
<circle cx="524.5" cy="207.3" r="11.3" fill="#f9848e"/>
<circle cx="571.7" cy="203.1" r="11.3" fill="#f9848e"/>
<circle cx="492.8" cy="222.8" r="11.3" fill="#f9848e"/>
<circle cx="591.3" cy="241" r="11.3" fill="#f9848e"/>
<circle cx="453.8" cy="259.8" r="11.3" fill="#f9848e"/>
<circle cx="602.5" cy="260.6" r="11.3" fill="#f9848e"/>
<circle cx="680.3" cy="254.5" r="11.3" fill="#f9848e"/>
<circle cx="551.7" cy="280.3" r="11.3" fill="#f9848e"/>
<circle cx="674.6" cy="299.9" r="11.3" fill="#f9848e"/>
<circle cx="531.5" cy="312.6" r="11.3" fill="#f9848e"/>
<circle cx="583.4" cy="347.6" r="11.3" fill="#f9848e"/>
<circle cx="665.7" cy="346.8" r="11.3" fill="#f9848e"/>
<circle cx="535.7" cy="372" r="11.3" fill="#f9848e"/>
<circle cx="487.5" cy="394.5" r="11.3" fill="#f9848e"/>
<circle cx="532.9" cy="429.9" r="11.3" fill="#f9848e"/>
<circle cx="571.7" cy="452.3" r="11.3" fill="#f9848e"/>
<circle cx="741.2" cy="310.3" r="11.3" fill="#6f0000"/>
<circle cx="773.4" cy="372" r="11.3" fill="#6f0000"/>
<circle cx="610.7" cy="367.3" r="11.3" fill="#6f0000"/>
<circle cx="601.7" cy="386.9" r="11.3" fill="#6f0000"/>
<circle cx="645.2" cy="405.2" r="11.3" fill="#6f0000"/>
<circle cx="733" cy="393.9" r="11.3" fill="#6f0000"/>
<circle cx="697.1" cy="430.4" r="11.3" fill="#6f0000"/>
<circle cx="756" cy="429" r="11.3" fill="#6f0000"/>
<circle cx="678.9" cy="448.7" r="11.3" fill="#6f0000"/>
<circle cx="542.2" cy="443" r="11.3" fill="#6f0000"/>
<circle cx="612.9" cy="472.5" r="11.3" fill="#6f0000"/>
<circle cx="657.8" cy="471.1" r="11.3" fill="#6f0000"/>
<circle cx="608.7" cy="511.2" r="11.3" fill="#6f0000"/>
<circle cx="705.5" cy="503.4" r="11.3" fill="#6f0000"/>
<circle cx="417" cy="280.8" r="11.3" fill="#1f4193"/>
<circle cx="434.7" cy="346.8" r="11.3" fill="#1f4193"/>
<circle cx="456.3" cy="350.4" r="11.3" fill="#1f4193"/>
<circle cx="454.4" cy="375.7" r="11.3" fill="#1f4193"/>
<circle cx="488" cy="420.6" r="11.3" fill="#1f4193"/>
<circle cx="432.5" cy="442.2" r="11.3" fill="#1f4193"/>
<circle cx="479.6" cy="450" r="11.3" fill="#1f4193"/>
<circle cx="441.8" cy="520.3" r="11.3" fill="#1f4193"/>
<circle cx="233.6" cy="352" r="11.3" fill="#1f4193"/>
<circle cx="268.7" cy="436.8" r="11.3" fill="#1f4193"/>
<circle cx="378.7" cy="443.8" r="11.3" fill="#1f4193"/>
<circle cx="209.8" cy="471.3" r="11.3" fill="#1f4193"/>
<circle cx="308.8" cy="474.1" r="11.3" fill="#1f4193"/>
<circle cx="359.9" cy="491.5" r="11.3" fill="#1f4193"/>
<circle cx="157.9" cy="533" r="11.3" fill="#1f4193"/>
<circle cx="331.8" cy="543.4" r="11.3" fill="#1f4193"/>
<circle cx="413.3" cy="574.8" r="11.3" fill="#1f4193"/>
<circle cx="184.5" cy="237.5" r="11.3" fill="#b9cdd9"/>
<circle cx="133.4" cy="324.5" r="11.3" fill="#b9cdd9"/>
<circle cx="205.6" cy="317.5" r="11.3" fill="#b9cdd9"/>
<circle cx="226.6" cy="330.1" r="11.3" fill="#b9cdd9"/>
<circle cx="260.3" cy="326.8" r="11.3" fill="#b9cdd9"/>
<circle cx="294" cy="311.3" r="11.3" fill="#b9cdd9"/>
<circle cx="349.5" cy="300.1" r="11.3" fill="#b9cdd9"/>
<circle cx="171.3" cy="359.6" r="11.3" fill="#b9cdd9"/>
<circle cx="327.6" cy="365.2" r="11.3" fill="#b9cdd9"/>
<circle cx="127.8" cy="383.4" r="11.3" fill="#b9cdd9"/>
<circle cx="273.8" cy="381.2" r="11.3" fill="#b9cdd9"/>
<circle cx="189.3" cy="393.3" r="11.3" fill="#b9cdd9"/>
<circle cx="388" cy="386.3" r="11.3" fill="#b9cdd9"/>
<circle cx="105.9" cy="417.7" r="11.3" fill="#b9cdd9"/>
<circle cx="158.7" cy="428.9" r="11.3" fill="#b9cdd9"/>
<circle cx="306.6" cy="419.1" r="11.3" fill="#b9cdd9"/>
<circle cx="399.2" cy="420.8" r="11.3" fill="#b9cdd9"/>
<circle cx="225.2" cy="471.8" r="11.3" fill="#b9cdd9"/>
<circle cx="212.8" cy="430.3" r="11.3" fill="#070a30"/>
<circle cx="352.7" cy="424.2" r="11.3" fill="#070a30"/>
<circle cx="166" cy="488.5" r="11.3" fill="#070a30"/>
<circle cx="266.6" cy="491.6" r="11.3" fill="#070a30"/>
<circle cx="323.6" cy="510.3" r="11.3" fill="#070a30"/>
<circle cx="419.3" cy="499.4" r="11.3" fill="#070a30"/>
<circle cx="108.6" cy="540.6" r="11.3" fill="#070a30"/>
<circle cx="393.9" cy="544.9" r="11.3" fill="#070a30"/>
<circle cx="242.4" cy="560.5" r="11.3" fill="#070a30"/>
<circle cx="343" cy="567.2" r="11.3" fill="#070a30"/>
<circle cx="162.4" cy="627.3" r="11.3" fill="#070a30"/>
<circle cx="197.5" cy="616.9" r="11.3" fill="#070a30"/>
<circle cx="212.1" cy="603.6" r="11.3" fill="#070a30"/>
<circle cx="271.5" cy="607.9" r="11.3" fill="#070a30"/>
<circle cx="362.4" cy="616.4" r="11.3" fill="#070a30"/>
<circle cx="410.8" cy="619.3" r="11.3" fill="#070a30"/>
<circle cx="321.2" cy="636.3" r="11.3" fill="#070a30"/>
<circle cx="286" cy="652.8" r="11.3" fill="#070a30"/>
<circle cx="233.9" cy="661.3" r="11.3" fill="#070a30"/>
<circle cx="326" cy="662.2" r="11.3" fill="#070a30"/>
<circle cx="277" cy="725.5" r="11.3" fill="#070a30"/>
<circle cx="228" cy="615" r="11.3" fill="#070a30"/>
<circle cx="445.6" cy="714.6" r="11.3" fill="#1f4d1b"/>
<circle cx="464.9" cy="805.5" r="11.3" fill="#1f4d1b"/>
</g>
<g font-size="15.2" text-anchor="middle" fill="#111">
<text x="445.1" y="120.1">36</text>
<text x="487.2" y="122.4">39</text>
<text x="532.4" y="111.7">41</text>
<text x="553.4" y="127.1">45</text>
<text x="438.4" y="165.9">37</text>
<text x="487.5" y="163.6">40</text>
<text x="546.4" y="156.6">38</text>
<text x="462.8" y="184.7">47</text>
<text x="612.9" y="168.7">15</text>
<text x="653.6" y="193.1">16</text>
<text x="524.5" y="212.7">42</text>
<text x="571.7" y="208.5">17</text>
<text x="492.8" y="228.2">22</text>
<text x="591.3" y="246.4">14</text>
<text x="453.8" y="265.2">46</text>
<text x="602.5" y="266">21</text>
<text x="680.3" y="259.9">19</text>
<text x="551.7" y="285.7">23</text>
<text x="674.6" y="305.3">18</text>
<text x="531.5" y="318">43</text>
<text x="583.4" y="353">20</text>
<text x="665.7" y="352.2">33</text>
<text x="535.7" y="377.4">9</text>
<text x="487.5" y="399.9">44</text>
<text x="532.9" y="435.3">24</text>
<text x="571.7" y="457.7">12</text>
<text x="741.2" y="315.7" fill="#3d0000">35</text>
<text x="773.4" y="377.4" fill="#3d0000">34</text>
<text x="610.7" y="372.7" fill="#3d0000">29</text>
<text x="601.7" y="392.3" fill="#3d0000">13</text>
<text x="645.2" y="410.6" fill="#3d0000">11</text>
<text x="733" y="399.3" fill="#3d0000">31</text>
<text x="697.1" y="435.8" fill="#3d0000">25</text>
<text x="756" y="434.4" fill="#3d0000">32</text>
<text x="678.9" y="454.1" fill="#3d0000">30</text>
<text x="542.2" y="448.4" fill="#3d0000">8</text>
<text x="612.9" y="477.9" fill="#3d0000">27</text>
<text x="657.8" y="476.5" fill="#3d0000">10</text>
<text x="608.7" y="516.6" fill="#3d0000">28</text>
<text x="705.5" y="508.8" fill="#3d0000">26</text>
<text x="417" y="286.2" fill="#0d1f52">4</text>
<text x="434.7" y="352.2" fill="#0d1f52">7</text>
<text x="456.3" y="355.8" fill="#0d1f52">73</text>
<text x="454.4" y="381.1" fill="#0d1f52">1</text>
<text x="488" y="426" fill="#0d1f52">72</text>
<text x="432.5" y="447.6" fill="#0d1f52">3</text>
<text x="479.6" y="455.4" fill="#0d1f52">2</text>
<text x="441.8" y="525.7" fill="#0d1f52">75</text>
<text x="233.6" y="357.4" fill="#0d1f52">61</text>
<text x="268.7" y="442.2" fill="#0d1f52">50</text>
<text x="378.7" y="449.2" fill="#0d1f52">49</text>
<text x="209.8" y="476.7" fill="#0d1f52">99</text>
<text x="308.8" y="479.5" fill="#0d1f52">81</text>
<text x="359.9" y="496.9" fill="#0d1f52">52</text>
<text x="157.9" y="538.4" fill="#0d1f52">97</text>
<text x="331.8" y="548.8" fill="#0d1f52">51</text>
<text x="413.3" y="580.2" fill="#0d1f52">98</text>
<text x="184.5" y="242.9">58</text>
<text x="133.4" y="329.9">68</text>
<text x="205.6" y="322.9">83</text>
<text x="226.6" y="335.5">66</text>
<text x="260.3" y="332.2">71</text>
<text x="294" y="316.7">63</text>
<text x="349.5" y="305.5">64</text>
<text x="171.3" y="365">70</text>
<text x="327.6" y="370.6">62</text>
<text x="127.8" y="388.8">67</text>
<text x="273.8" y="386.6">57</text>
<text x="189.3" y="398.7">65</text>
<text x="388" y="391.7">48</text>
<text x="105.9" y="423.1">69</text>
<text x="158.7" y="434.3">82</text>
<text x="306.6" y="424.5">60</text>
<text x="399.2" y="426.2">84</text>
<text x="225.2" y="477.2">59</text>
<text x="212.8" y="435.7" fill="#070a30">53</text>
<text x="352.7" y="429.6" fill="#070a30">54</text>
<text x="166" y="493.9" fill="#070a30">55</text>
<text x="266.6" y="497" fill="#070a30">56</text>
<text x="323.6" y="515.7" fill="#070a30">74</text>
<text x="419.3" y="504.8" fill="#070a30">76</text>
<text x="108.6" y="546" fill="#070a30">77</text>
<text x="393.9" y="550.3" fill="#070a30">78</text>
<text x="242.4" y="565.9" fill="#070a30">79</text>
<text x="343" y="572.6" fill="#070a30">80</text>
<text x="162.4" y="632.7" fill="#070a30">85</text>
<text x="197.5" y="622.3" fill="#070a30">86</text>
<text x="212.1" y="609" fill="#070a30">87</text>
<text x="271.5" y="613.3" fill="#070a30">88</text>
<text x="362.4" y="621.8" fill="#070a30">89</text>
<text x="410.8" y="624.7" fill="#070a30">90</text>
<text x="321.2" y="641.7" fill="#070a30">91</text>
<text x="286" y="658.2" fill="#070a30">92</text>
<text x="233.9" y="666.7" fill="#070a30">93</text>
<text x="326" y="667.6" fill="#070a30">94</text>
<text x="277" y="730.9" fill="#070a30">95</text>
<text x="228" y="620.4" fill="#070a30">96</text>
<text x="445.6" y="720">5</text>
<text x="464.9" y="810.9">6</text>
</g>
<text x="424.5" y="849" font-size="25.5" text-anchor="middle" textLength="153.5" lengthAdjust="spacingAndGlyphs">Metacell 2D X</text>
<text transform="translate(27.5 396.5) rotate(-90)" font-size="25.5" text-anchor="middle" textLength="153.5" lengthAdjust="spacingAndGlyphs">Metacell 2D Y</text>
<circle cx="107.8" cy="878.3" r="7.5" fill="#f9848e"/>
<text x="122.3" y="886.3" font-size="24"><tspan textLength="54.5" lengthAdjust="spacingAndGlyphs">T-act</tspan><tspan font-size="13.9" dy="-7.5">1</tspan></text>
<circle cx="107.8" cy="912.8" r="7.5" fill="#6f0000"/>
<text x="122.3" y="920.8" font-size="24"><tspan textLength="54.5" lengthAdjust="spacingAndGlyphs">T-act</tspan><tspan font-size="13.9" dy="-7.5">2</tspan></text>
<circle cx="291.5" cy="878.3" r="7.5" fill="#070a30"/>
<text x="308" y="886.3" font-size="24"><tspan textLength="107.3" lengthAdjust="spacingAndGlyphs">T-non-act</tspan><tspan font-size="13.9" dy="-7.5">1</tspan></text>
<circle cx="291.5" cy="912.8" r="7.5" fill="#b9cdd9"/>
<text x="308" y="920.8" font-size="24"><tspan textLength="107.3" lengthAdjust="spacingAndGlyphs">T-non-act</tspan><tspan font-size="13.9" dy="-7.5">2</tspan></text>
<circle cx="550" cy="878.3" r="7.5" fill="#1b3781"/>
<text x="564.8" y="886.3" font-size="24"><tspan textLength="107.3" lengthAdjust="spacingAndGlyphs">T-non-act</tspan><tspan font-size="13.9" dy="-7.5">3</tspan></text>
<circle cx="550" cy="912.8" r="7.5" fill="#1f4d1b"/>
<text x="564.8" y="920.8" font-size="24" textLength="72" lengthAdjust="spacingAndGlyphs">Tumor</text>
<g transform="translate(985 55.3) scale(6.1010 7.3131)" shape-rendering="crispEdges">
<path fill="#fb9b0d" d="M0 98h2v1h-2zM3 98h1v1h-1zM0 97h3v1h-3zM0 96h4v1h-4zM12 96h1v1h-1zM0 95h8v1h-8zM4 94h2v1h-2zM7 94h1v1h-1zM5 93h2v1h-2zM3 92h2v1h-2zM6 92h2v1h-2zM3 91h5v1h-5zM33 91h1v1h-1zM6 90h1v1h-1zM8 90h2v1h-2zM11 90h2v1h-2zM27 90h1v1h-1zM8 89h3v1h-3zM12 89h2v1h-2zM20 89h1v1h-1zM24 89h1v1h-1zM9 88h5v1h-5zM8 87h6v1h-6zM1 86h1v1h-1zM9 86h5v1h-5zM8 85h1v1h-1zM10 85h4v1h-4zM14 84h2v1h-2zM17 84h5v1h-5zM14 83h7v1h-7zM14 82h5v1h-5zM20 82h2v1h-2zM14 81h8v1h-8zM14 80h8v1h-8zM15 79h7v1h-7zM14 78h2v1h-2zM17 78h5v1h-5zM14 77h9v1h-9zM18 76h1v1h-1zM21 76h1v1h-1zM23 75h1v1h-1zM39 75h1v1h-1zM20 74h1v1h-1zM25 74h1v1h-1zM24 73h3v1h-3zM25 72h3v1h-3zM31 72h1v1h-1zM23 71h1v1h-1zM26 71h2v1h-2zM28 70h1v1h-1zM0 69h1v1h-1zM29 69h5v1h-5zM35 69h1v1h-1zM29 68h5v1h-5zM35 68h1v1h-1zM37 68h1v1h-1zM7 67h1v1h-1zM9 67h1v1h-1zM29 67h1v1h-1zM31 67h2v1h-2zM34 67h2v1h-2zM5 66h1v1h-1zM20 66h1v1h-1zM30 66h4v1h-4zM5 65h1v1h-1zM28 65h4v1h-4zM33 65h2v1h-2zM29 64h7v1h-7zM29 63h2v1h-2zM34 63h3v1h-3zM25 62h1v1h-1zM35 62h2v1h-2zM38 62h2v1h-2zM37 61h3v1h-3zM36 60h4v1h-4zM22 59h1v1h-1zM32 59h1v1h-1zM36 59h1v1h-1zM38 59h2v1h-2zM40 58h2v1h-2zM40 57h2v1h-2zM42 56h3v1h-3zM42 55h2v1h-2zM42 54h3v1h-3zM45 53h1v1h-1zM46 52h1v1h-1zM47 51h2v1h-2zM47 50h3v1h-3zM48 49h2v1h-2zM50 48h1v1h-1zM51 47h1v1h-1zM52 46h2v1h-2zM52 45h2v1h-2zM54 44h1v1h-1zM55 43h1v1h-1zM56 42h2v1h-2zM56 41h3v1h-3zM57 40h2v1h-2zM59 39h1v1h-1zM60 38h1v1h-1zM61 37h2v1h-2zM61 36h3v1h-3zM61 35h1v1h-1zM63 35h2v1h-2zM63 34h2v1h-2zM65 33h1v1h-1zM66 32h1v1h-1zM67 31h2v1h-2zM67 30h2v1h-2zM69 29h2v1h-2zM69 28h2v1h-2zM71 27h1v1h-1zM72 26h1v1h-1zM73 25h2v1h-2zM73 24h2v1h-2zM75 23h1v1h-1zM76 22h1v1h-1zM77 21h2v1h-2zM77 20h3v1h-3zM78 19h2v1h-2zM80 18h2v1h-2zM80 17h2v1h-2zM82 16h1v1h-1zM83 15h1v1h-1zM84 14h2v1h-2zM84 13h3v1h-3zM85 12h2v1h-2zM87 11h1v1h-1zM88 10h1v1h-1zM89 9h1v1h-1zM90 8h1v1h-1zM91 7h1v1h-1zM92 6h2v1h-2zM92 5h2v1h-2zM94 4h1v1h-1zM95 3h3v1h-3zM0 2h1v1h-1zM95 2h3v1h-3zM96 1h3v1h-3zM97 0h2v1h-2z"/>
<path fill="#c8400a" d="M2 98h1v1h-1zM32 96h1v1h-1zM3 94h1v1h-1zM13 90h1v1h-1zM17 90h1v1h-1zM11 89h1v1h-1zM8 86h1v1h-1zM33 82h1v1h-1zM14 79h1v1h-1zM16 78h1v1h-1zM38 78h1v1h-1zM9 76h1v1h-1zM22 76h1v1h-1zM24 74h1v1h-1zM7 72h1v1h-1zM35 72h1v1h-1zM19 70h1v1h-1zM34 69h1v1h-1zM34 68h1v1h-1zM30 67h1v1h-1zM29 66h1v1h-1zM34 66h2v1h-2zM32 65h1v1h-1zM31 63h2v1h-2zM22 62h1v1h-1zM37 62h1v1h-1zM24 61h1v1h-1zM36 61h1v1h-1zM63 53h1v1h-1zM53 51h1v1h-1zM92 45h1v1h-1zM90 44h1v1h-1zM85 27h1v1h-1zM57 20h1v1h-1zM61 19h1v1h-1zM67 13h1v1h-1zM76 13h1v1h-1zM36 2h1v1h-1zM23 1h1v1h-1zM95 1h1v1h-1zM28 0h1v1h-1z"/>
<path fill="#fcdde3" d="M4 98h1v1h-1zM10 98h2v1h-2zM30 98h2v1h-2zM34 98h1v1h-1zM36 98h1v1h-1zM39 98h1v1h-1zM7 97h1v1h-1zM29 97h1v1h-1zM31 97h2v1h-2zM34 97h2v1h-2zM38 97h2v1h-2zM9 96h2v1h-2zM17 96h1v1h-1zM23 96h1v1h-1zM13 95h1v1h-1zM22 95h1v1h-1zM34 95h1v1h-1zM38 95h1v1h-1zM9 94h1v1h-1zM38 94h1v1h-1zM0 93h2v1h-2zM12 93h2v1h-2zM34 93h1v1h-1zM17 92h1v1h-1zM21 92h1v1h-1zM26 92h2v1h-2zM32 92h1v1h-1zM38 92h1v1h-1zM14 91h1v1h-1zM16 91h1v1h-1zM35 91h1v1h-1zM41 91h1v1h-1zM20 90h1v1h-1zM28 90h1v1h-1zM38 90h1v1h-1zM41 90h1v1h-1zM0 89h1v1h-1zM4 89h1v1h-1zM14 89h1v1h-1zM17 89h1v1h-1zM22 89h1v1h-1zM27 89h1v1h-1zM1 88h1v1h-1zM19 88h1v1h-1zM21 88h1v1h-1zM34 88h1v1h-1zM0 87h1v1h-1zM17 87h1v1h-1zM25 87h1v1h-1zM32 87h1v1h-1zM39 87h1v1h-1zM3 86h1v1h-1zM5 86h1v1h-1zM15 86h1v1h-1zM20 86h1v1h-1zM22 86h2v1h-2zM29 86h1v1h-1zM34 86h1v1h-1zM3 85h1v1h-1zM18 85h1v1h-1zM20 85h1v1h-1zM23 85h3v1h-3zM38 85h1v1h-1zM6 84h1v1h-1zM30 84h1v1h-1zM33 84h1v1h-1zM36 84h1v1h-1zM98 84h1v1h-1zM24 83h1v1h-1zM40 83h1v1h-1zM55 83h2v1h-2zM72 83h1v1h-1zM82 83h1v1h-1zM89 83h1v1h-1zM95 83h1v1h-1zM98 83h1v1h-1zM8 82h2v1h-2zM29 82h1v1h-1zM34 82h2v1h-2zM70 82h1v1h-1zM86 82h1v1h-1zM88 82h2v1h-2zM94 82h2v1h-2zM98 82h1v1h-1zM2 81h1v1h-1zM6 81h1v1h-1zM9 81h1v1h-1zM11 81h1v1h-1zM29 81h1v1h-1zM35 81h1v1h-1zM38 81h1v1h-1zM44 81h1v1h-1zM48 81h1v1h-1zM70 81h1v1h-1zM72 81h1v1h-1zM82 81h3v1h-3zM95 81h2v1h-2zM98 81h1v1h-1zM4 80h1v1h-1zM8 80h3v1h-3zM13 80h1v1h-1zM24 80h2v1h-2zM34 80h2v1h-2zM39 80h1v1h-1zM47 80h1v1h-1zM69 80h1v1h-1zM78 80h1v1h-1zM82 80h1v1h-1zM85 80h1v1h-1zM95 80h1v1h-1zM7 79h1v1h-1zM9 79h1v1h-1zM83 79h2v1h-2zM95 79h1v1h-1zM97 79h1v1h-1zM8 78h2v1h-2zM13 78h1v1h-1zM34 78h1v1h-1zM43 78h1v1h-1zM47 78h3v1h-3zM55 78h1v1h-1zM64 78h1v1h-1zM66 78h1v1h-1zM70 78h1v1h-1zM75 78h1v1h-1zM77 78h1v1h-1zM84 78h3v1h-3zM88 78h1v1h-1zM90 78h4v1h-4zM97 78h1v1h-1zM10 77h1v1h-1zM28 77h1v1h-1zM38 77h1v1h-1zM45 77h1v1h-1zM47 77h3v1h-3zM51 77h2v1h-2zM57 77h1v1h-1zM59 77h2v1h-2zM62 77h1v1h-1zM75 77h1v1h-1zM77 77h2v1h-2zM83 77h1v1h-1zM85 77h1v1h-1zM87 77h2v1h-2zM90 77h2v1h-2zM93 77h1v1h-1zM3 76h1v1h-1zM6 76h1v1h-1zM11 76h2v1h-2zM29 76h1v1h-1zM31 76h2v1h-2zM36 76h1v1h-1zM43 76h1v1h-1zM45 76h1v1h-1zM47 76h1v1h-1zM51 76h3v1h-3zM56 76h3v1h-3zM63 76h2v1h-2zM66 76h2v1h-2zM69 76h1v1h-1zM74 76h2v1h-2zM77 76h2v1h-2zM80 76h2v1h-2zM84 76h1v1h-1zM93 76h1v1h-1zM13 75h1v1h-1zM29 75h1v1h-1zM31 75h1v1h-1zM34 75h1v1h-1zM38 75h1v1h-1zM40 75h1v1h-1zM42 75h2v1h-2zM48 75h5v1h-5zM54 75h3v1h-3zM59 75h3v1h-3zM63 75h1v1h-1zM68 75h3v1h-3zM72 75h1v1h-1zM74 75h1v1h-1zM77 75h4v1h-4zM88 75h1v1h-1zM90 75h1v1h-1zM92 75h2v1h-2zM13 74h1v1h-1zM29 74h2v1h-2zM32 74h1v1h-1zM34 74h1v1h-1zM42 74h1v1h-1zM45 74h1v1h-1zM47 74h2v1h-2zM51 74h1v1h-1zM54 74h3v1h-3zM58 74h1v1h-1zM62 74h1v1h-1zM64 74h1v1h-1zM66 74h1v1h-1zM68 74h2v1h-2zM71 74h4v1h-4zM79 74h2v1h-2zM83 74h1v1h-1zM86 74h2v1h-2zM90 74h2v1h-2zM5 73h1v1h-1zM7 73h1v1h-1zM29 73h1v1h-1zM34 73h3v1h-3zM40 73h1v1h-1zM48 73h2v1h-2zM55 73h1v1h-1zM59 73h1v1h-1zM62 73h1v1h-1zM64 73h2v1h-2zM73 73h2v1h-2zM78 73h1v1h-1zM84 73h3v1h-3zM89 73h1v1h-1zM97 73h1v1h-1zM2 72h1v1h-1zM34 72h1v1h-1zM39 72h1v1h-1zM44 72h2v1h-2zM47 72h1v1h-1zM49 72h3v1h-3zM53 72h2v1h-2zM56 72h3v1h-3zM63 72h1v1h-1zM67 72h7v1h-7zM76 72h1v1h-1zM79 72h2v1h-2zM85 72h1v1h-1zM87 72h2v1h-2zM91 72h1v1h-1zM15 71h1v1h-1zM35 71h1v1h-1zM48 71h1v1h-1zM52 71h1v1h-1zM56 71h1v1h-1zM60 71h1v1h-1zM62 71h1v1h-1zM65 71h2v1h-2zM77 71h1v1h-1zM79 71h1v1h-1zM81 71h1v1h-1zM86 71h1v1h-1zM90 71h4v1h-4zM8 70h1v1h-1zM24 70h1v1h-1zM34 70h2v1h-2zM39 70h1v1h-1zM49 70h1v1h-1zM62 70h1v1h-1zM87 70h1v1h-1zM95 70h1v1h-1zM98 70h1v1h-1zM5 69h1v1h-1zM12 69h1v1h-1zM23 69h3v1h-3zM89 69h1v1h-1zM96 69h1v1h-1zM98 69h1v1h-1zM23 68h1v1h-1zM23 67h1v1h-1zM38 67h2v1h-2zM94 67h1v1h-1zM1 66h1v1h-1zM6 66h1v1h-1zM11 66h1v1h-1zM17 66h1v1h-1zM22 66h1v1h-1zM24 66h1v1h-1zM38 66h1v1h-1zM41 66h1v1h-1zM14 65h1v1h-1zM84 65h1v1h-1zM95 65h2v1h-2zM1 64h1v1h-1zM5 64h1v1h-1zM16 64h1v1h-1zM20 64h1v1h-1zM23 64h2v1h-2zM26 64h2v1h-2zM39 64h1v1h-1zM71 64h1v1h-1zM85 64h2v1h-2zM94 64h1v1h-1zM3 63h1v1h-1zM18 63h1v1h-1zM21 63h1v1h-1zM27 63h1v1h-1zM39 63h1v1h-1zM59 63h2v1h-2zM85 63h1v1h-1zM89 63h1v1h-1zM95 63h4v1h-4zM12 62h1v1h-1zM51 62h1v1h-1zM62 62h1v1h-1zM74 62h1v1h-1zM84 62h2v1h-2zM89 62h1v1h-1zM92 62h1v1h-1zM95 62h1v1h-1zM98 62h1v1h-1zM43 61h1v1h-1zM50 61h1v1h-1zM55 61h1v1h-1zM64 61h1v1h-1zM69 61h1v1h-1zM74 61h1v1h-1zM80 61h1v1h-1zM82 61h2v1h-2zM85 61h2v1h-2zM89 61h1v1h-1zM91 61h1v1h-1zM94 61h1v1h-1zM98 61h1v1h-1zM1 60h1v1h-1zM3 60h1v1h-1zM6 60h1v1h-1zM8 60h1v1h-1zM13 60h1v1h-1zM21 60h1v1h-1zM31 60h1v1h-1zM47 60h1v1h-1zM82 60h3v1h-3zM92 60h1v1h-1zM95 60h1v1h-1zM97 60h1v1h-1zM0 59h2v1h-2zM3 59h2v1h-2zM8 59h1v1h-1zM11 59h1v1h-1zM21 59h1v1h-1zM28 59h1v1h-1zM72 59h1v1h-1zM77 59h1v1h-1zM83 59h1v1h-1zM89 59h1v1h-1zM94 59h1v1h-1zM15 58h1v1h-1zM17 58h1v1h-1zM35 58h1v1h-1zM6 57h1v1h-1zM8 57h1v1h-1zM12 57h1v1h-1zM15 57h1v1h-1zM23 57h1v1h-1zM25 57h1v1h-1zM27 57h1v1h-1zM48 57h3v1h-3zM54 57h3v1h-3zM66 57h1v1h-1zM70 57h1v1h-1zM74 57h2v1h-2zM77 57h3v1h-3zM86 57h3v1h-3zM92 57h1v1h-1zM96 57h2v1h-2zM23 56h3v1h-3zM60 56h1v1h-1zM71 56h2v1h-2zM74 56h1v1h-1zM80 56h1v1h-1zM83 56h1v1h-1zM89 56h2v1h-2zM93 56h1v1h-1zM96 56h3v1h-3zM23 55h2v1h-2zM26 55h1v1h-1zM56 55h1v1h-1zM65 55h1v1h-1zM71 55h2v1h-2zM83 55h1v1h-1zM87 55h1v1h-1zM93 55h1v1h-1zM22 54h1v1h-1zM26 54h1v1h-1zM56 54h1v1h-1zM68 54h1v1h-1zM75 54h1v1h-1zM81 54h1v1h-1zM83 54h1v1h-1zM85 54h1v1h-1zM90 54h1v1h-1zM93 54h1v1h-1zM96 54h3v1h-3zM21 53h2v1h-2zM24 53h1v1h-1zM26 53h1v1h-1zM41 53h1v1h-1zM60 53h2v1h-2zM69 53h3v1h-3zM77 53h1v1h-1zM81 53h1v1h-1zM84 53h2v1h-2zM94 53h2v1h-2zM26 52h1v1h-1zM53 52h1v1h-1zM70 52h1v1h-1zM82 52h1v1h-1zM86 52h1v1h-1zM90 52h1v1h-1zM18 51h1v1h-1zM20 51h3v1h-3zM24 51h1v1h-1zM26 51h2v1h-2zM41 51h1v1h-1zM86 51h2v1h-2zM92 51h3v1h-3zM17 50h1v1h-1zM20 50h2v1h-2zM23 50h2v1h-2zM27 50h1v1h-1zM41 50h1v1h-1zM74 50h1v1h-1zM83 50h1v1h-1zM97 50h2v1h-2zM20 49h2v1h-2zM23 49h1v1h-1zM25 49h3v1h-3zM41 49h1v1h-1zM74 49h1v1h-1zM76 49h1v1h-1zM81 49h1v1h-1zM83 49h1v1h-1zM93 49h1v1h-1zM97 49h1v1h-1zM23 48h1v1h-1zM26 48h1v1h-1zM37 48h1v1h-1zM41 48h1v1h-1zM75 48h2v1h-2zM79 48h1v1h-1zM81 48h1v1h-1zM88 48h2v1h-2zM20 47h5v1h-5zM26 47h1v1h-1zM36 47h1v1h-1zM93 47h2v1h-2zM96 47h1v1h-1zM98 47h1v1h-1zM21 46h3v1h-3zM25 46h1v1h-1zM27 46h1v1h-1zM41 46h1v1h-1zM88 46h1v1h-1zM90 46h1v1h-1zM92 46h1v1h-1zM98 46h1v1h-1zM20 45h1v1h-1zM22 45h1v1h-1zM24 45h1v1h-1zM26 45h1v1h-1zM61 45h1v1h-1zM66 45h1v1h-1zM78 45h1v1h-1zM80 45h2v1h-2zM84 45h2v1h-2zM22 44h1v1h-1zM24 44h1v1h-1zM26 44h1v1h-1zM41 44h1v1h-1zM43 44h1v1h-1zM75 44h1v1h-1zM77 44h1v1h-1zM80 44h2v1h-2zM86 44h1v1h-1zM97 44h1v1h-1zM15 43h1v1h-1zM20 43h1v1h-1zM23 43h3v1h-3zM27 43h1v1h-1zM41 43h1v1h-1zM77 43h1v1h-1zM81 43h1v1h-1zM90 43h1v1h-1zM92 43h1v1h-1zM95 43h1v1h-1zM20 42h1v1h-1zM22 42h3v1h-3zM26 42h2v1h-2zM41 42h1v1h-1zM43 42h1v1h-1zM77 42h1v1h-1zM79 42h1v1h-1zM90 42h1v1h-1zM94 42h1v1h-1zM21 41h2v1h-2zM24 41h1v1h-1zM26 41h1v1h-1zM64 41h1v1h-1zM67 41h1v1h-1zM73 41h1v1h-1zM81 41h1v1h-1zM85 41h1v1h-1zM92 41h1v1h-1zM22 40h1v1h-1zM24 40h1v1h-1zM26 40h1v1h-1zM36 40h2v1h-2zM44 40h1v1h-1zM66 40h1v1h-1zM76 40h1v1h-1zM82 40h3v1h-3zM87 40h1v1h-1zM92 40h1v1h-1zM21 39h1v1h-1zM23 39h1v1h-1zM25 39h1v1h-1zM35 39h1v1h-1zM41 39h1v1h-1zM64 39h1v1h-1zM73 39h1v1h-1zM75 39h2v1h-2zM79 39h1v1h-1zM81 39h1v1h-1zM85 39h1v1h-1zM92 39h1v1h-1zM96 39h1v1h-1zM21 38h1v1h-1zM23 38h1v1h-1zM25 38h3v1h-3zM35 38h1v1h-1zM42 38h1v1h-1zM78 38h2v1h-2zM82 38h1v1h-1zM88 38h1v1h-1zM97 38h2v1h-2zM23 37h1v1h-1zM42 37h1v1h-1zM45 37h1v1h-1zM54 37h1v1h-1zM67 37h1v1h-1zM74 37h1v1h-1zM77 37h1v1h-1zM84 37h1v1h-1zM90 37h1v1h-1zM95 37h1v1h-1zM98 37h1v1h-1zM21 36h1v1h-1zM23 36h3v1h-3zM27 36h2v1h-2zM36 36h1v1h-1zM73 36h1v1h-1zM83 36h1v1h-1zM85 36h3v1h-3zM22 35h2v1h-2zM25 35h2v1h-2zM74 35h1v1h-1zM79 35h1v1h-1zM86 35h3v1h-3zM95 35h1v1h-1zM22 34h1v1h-1zM24 34h1v1h-1zM42 34h1v1h-1zM44 34h1v1h-1zM76 34h1v1h-1zM94 34h1v1h-1zM98 34h1v1h-1zM24 33h2v1h-2zM27 33h1v1h-1zM43 33h1v1h-1zM97 33h2v1h-2zM22 32h1v1h-1zM24 32h1v1h-1zM27 32h1v1h-1zM41 32h1v1h-1zM53 32h1v1h-1zM56 32h1v1h-1zM59 32h1v1h-1zM94 32h1v1h-1zM20 31h1v1h-1zM22 31h1v1h-1zM24 31h1v1h-1zM26 31h2v1h-2zM41 31h1v1h-1zM46 31h1v1h-1zM57 31h1v1h-1zM61 31h1v1h-1zM76 31h1v1h-1zM87 31h1v1h-1zM20 30h1v1h-1zM23 30h2v1h-2zM60 30h1v1h-1zM94 30h1v1h-1zM18 29h1v1h-1zM21 29h4v1h-4zM26 29h2v1h-2zM37 29h1v1h-1zM45 29h1v1h-1zM96 29h3v1h-3zM16 28h1v1h-1zM20 28h1v1h-1zM23 28h2v1h-2zM26 28h1v1h-1zM41 28h1v1h-1zM46 28h1v1h-1zM94 28h2v1h-2zM97 28h2v1h-2zM20 27h1v1h-1zM22 27h3v1h-3zM26 27h1v1h-1zM42 27h1v1h-1zM45 27h1v1h-1zM15 26h1v1h-1zM17 26h1v1h-1zM20 26h1v1h-1zM22 26h4v1h-4zM41 26h1v1h-1zM45 26h1v1h-1zM53 26h1v1h-1zM96 26h1v1h-1zM20 25h6v1h-6zM27 25h1v1h-1zM42 25h1v1h-1zM45 25h1v1h-1zM50 25h1v1h-1zM56 25h1v1h-1zM87 25h1v1h-1zM94 25h3v1h-3zM98 25h1v1h-1zM21 24h5v1h-5zM36 24h1v1h-1zM41 24h2v1h-2zM63 24h1v1h-1zM96 24h1v1h-1zM20 23h4v1h-4zM25 23h2v1h-2zM41 23h1v1h-1zM44 23h1v1h-1zM61 23h1v1h-1zM24 22h1v1h-1zM26 22h1v1h-1zM50 22h2v1h-2zM55 22h1v1h-1zM58 22h2v1h-2zM61 22h1v1h-1zM88 22h1v1h-1zM96 22h1v1h-1zM98 22h1v1h-1zM21 21h3v1h-3zM27 21h1v1h-1zM41 21h1v1h-1zM43 21h1v1h-1zM45 21h1v1h-1zM55 21h1v1h-1zM60 21h1v1h-1zM86 21h1v1h-1zM94 21h2v1h-2zM18 20h1v1h-1zM21 20h3v1h-3zM25 20h1v1h-1zM41 20h1v1h-1zM53 20h1v1h-1zM95 20h2v1h-2zM98 20h1v1h-1zM20 19h1v1h-1zM23 19h1v1h-1zM26 19h2v1h-2zM35 19h1v1h-1zM50 19h1v1h-1zM56 19h1v1h-1zM95 19h1v1h-1zM22 18h1v1h-1zM24 18h3v1h-3zM37 18h1v1h-1zM42 18h1v1h-1zM94 18h2v1h-2zM22 17h1v1h-1zM24 17h1v1h-1zM27 17h1v1h-1zM49 17h1v1h-1zM53 17h2v1h-2zM57 17h1v1h-1zM59 17h1v1h-1zM61 17h1v1h-1zM66 17h1v1h-1zM73 17h1v1h-1zM76 17h1v1h-1zM87 17h1v1h-1zM91 17h1v1h-1zM94 17h1v1h-1zM98 17h1v1h-1zM15 16h1v1h-1zM17 16h2v1h-2zM36 16h3v1h-3zM42 16h1v1h-1zM55 16h1v1h-1zM16 15h2v1h-2zM19 15h1v1h-1zM21 15h1v1h-1zM37 15h3v1h-3zM42 15h2v1h-2zM53 15h1v1h-1zM57 15h1v1h-1zM59 15h1v1h-1zM62 15h2v1h-2zM15 14h1v1h-1zM19 14h3v1h-3zM33 14h1v1h-1zM36 14h1v1h-1zM38 14h1v1h-1zM58 14h1v1h-1zM63 14h1v1h-1zM97 14h1v1h-1zM18 13h1v1h-1zM20 13h1v1h-1zM22 13h1v1h-1zM25 13h1v1h-1zM35 13h3v1h-3zM43 13h2v1h-2zM50 13h1v1h-1zM54 13h1v1h-1zM58 13h2v1h-2zM16 12h1v1h-1zM20 12h2v1h-2zM25 12h1v1h-1zM27 12h1v1h-1zM34 12h1v1h-1zM41 12h2v1h-2zM44 12h1v1h-1zM46 12h2v1h-2zM50 12h1v1h-1zM54 12h1v1h-1zM57 12h1v1h-1zM62 12h2v1h-2zM21 11h1v1h-1zM25 11h2v1h-2zM41 11h3v1h-3zM47 11h1v1h-1zM54 11h1v1h-1zM58 11h1v1h-1zM60 11h1v1h-1zM62 11h1v1h-1zM81 11h1v1h-1zM94 11h1v1h-1zM97 11h1v1h-1zM20 10h2v1h-2zM23 10h1v1h-1zM25 10h3v1h-3zM41 10h1v1h-1zM57 10h1v1h-1zM60 10h1v1h-1zM63 10h1v1h-1zM76 10h1v1h-1zM94 10h1v1h-1zM15 9h3v1h-3zM29 9h1v1h-1zM33 9h1v1h-1zM35 9h1v1h-1zM37 9h1v1h-1zM39 9h1v1h-1zM42 9h2v1h-2zM53 9h1v1h-1zM60 9h1v1h-1zM97 9h1v1h-1zM20 8h1v1h-1zM22 8h1v1h-1zM27 8h1v1h-1zM41 8h1v1h-1zM43 8h2v1h-2zM52 8h2v1h-2zM56 8h1v1h-1zM61 8h1v1h-1zM66 8h1v1h-1zM95 8h1v1h-1zM20 7h2v1h-2zM24 7h1v1h-1zM26 7h2v1h-2zM37 7h1v1h-1zM41 7h2v1h-2zM45 7h1v1h-1zM57 7h2v1h-2zM64 7h1v1h-1zM81 7h1v1h-1zM20 6h1v1h-1zM23 6h1v1h-1zM25 6h3v1h-3zM36 6h1v1h-1zM38 6h1v1h-1zM41 6h1v1h-1zM57 6h2v1h-2zM61 6h1v1h-1zM96 6h1v1h-1zM20 5h1v1h-1zM25 5h1v1h-1zM27 5h1v1h-1zM36 5h1v1h-1zM42 5h1v1h-1zM54 5h1v1h-1zM61 5h1v1h-1zM97 5h1v1h-1zM16 4h2v1h-2zM34 4h1v1h-1zM37 4h1v1h-1zM39 4h1v1h-1zM42 4h1v1h-1zM44 4h1v1h-1zM47 4h1v1h-1zM51 4h3v1h-3zM56 4h1v1h-1zM64 4h1v1h-1zM68 4h1v1h-1zM70 4h1v1h-1zM73 4h1v1h-1zM76 4h2v1h-2zM88 4h1v1h-1zM16 3h4v1h-4zM33 3h1v1h-1zM35 3h1v1h-1zM38 3h2v1h-2zM42 3h1v1h-1zM46 3h1v1h-1zM52 3h1v1h-1zM54 3h1v1h-1zM57 3h2v1h-2zM61 3h1v1h-1zM64 3h1v1h-1zM77 3h2v1h-2zM16 2h2v1h-2zM29 2h1v1h-1zM35 2h1v1h-1zM38 2h1v1h-1zM42 2h1v1h-1zM44 2h1v1h-1zM47 2h2v1h-2zM63 2h1v1h-1zM69 2h2v1h-2zM73 2h1v1h-1zM76 2h1v1h-1zM81 2h1v1h-1zM92 2h1v1h-1zM25 1h1v1h-1zM35 1h1v1h-1zM41 1h1v1h-1zM43 1h1v1h-1zM48 1h1v1h-1zM52 1h3v1h-3zM56 1h3v1h-3zM60 1h1v1h-1zM69 1h2v1h-2zM75 1h1v1h-1zM83 1h1v1h-1zM86 1h1v1h-1zM89 1h2v1h-2zM92 1h2v1h-2zM14 0h4v1h-4zM29 0h1v1h-1zM33 0h5v1h-5zM44 0h1v1h-1zM52 0h1v1h-1zM57 0h2v1h-2zM60 0h2v1h-2zM63 0h3v1h-3zM69 0h1v1h-1zM76 0h1v1h-1zM81 0h1v1h-1z"/>
<path fill="#fef1f4" d="M5 98h1v1h-1zM9 98h1v1h-1zM18 98h1v1h-1zM23 98h2v1h-2zM27 98h1v1h-1zM95 98h1v1h-1zM5 97h1v1h-1zM25 97h2v1h-2zM28 97h1v1h-1zM95 97h1v1h-1zM18 96h1v1h-1zM20 96h1v1h-1zM24 96h3v1h-3zM28 96h1v1h-1zM39 96h1v1h-1zM41 96h1v1h-1zM12 95h1v1h-1zM20 95h1v1h-1zM25 95h2v1h-2zM28 95h2v1h-2zM35 95h1v1h-1zM15 94h1v1h-1zM17 94h1v1h-1zM21 94h1v1h-1zM28 94h1v1h-1zM40 94h2v1h-2zM17 93h1v1h-1zM20 93h1v1h-1zM22 93h1v1h-1zM25 93h1v1h-1zM27 93h2v1h-2zM85 93h1v1h-1zM89 93h1v1h-1zM14 92h1v1h-1zM16 92h1v1h-1zM19 92h1v1h-1zM22 92h1v1h-1zM25 92h1v1h-1zM28 92h1v1h-1zM39 92h1v1h-1zM15 91h1v1h-1zM17 91h1v1h-1zM20 91h2v1h-2zM24 91h2v1h-2zM27 91h1v1h-1zM14 90h1v1h-1zM16 90h1v1h-1zM25 90h1v1h-1zM16 89h1v1h-1zM21 89h1v1h-1zM16 88h2v1h-2zM93 88h1v1h-1zM20 87h1v1h-1zM17 86h1v1h-1zM24 86h1v1h-1zM40 86h1v1h-1zM98 86h1v1h-1zM14 85h1v1h-1zM16 85h2v1h-2zM7 84h3v1h-3zM12 84h2v1h-2zM38 84h1v1h-1zM44 84h1v1h-1zM47 84h1v1h-1zM52 84h1v1h-1zM59 84h1v1h-1zM82 84h1v1h-1zM85 84h1v1h-1zM88 84h2v1h-2zM92 84h6v1h-6zM4 83h6v1h-6zM12 83h2v1h-2zM39 83h1v1h-1zM41 83h1v1h-1zM43 83h3v1h-3zM47 83h6v1h-6zM54 83h1v1h-1zM57 83h2v1h-2zM60 83h1v1h-1zM65 83h1v1h-1zM67 83h1v1h-1zM69 83h3v1h-3zM73 83h3v1h-3zM77 83h3v1h-3zM84 83h5v1h-5zM90 83h4v1h-4zM96 83h2v1h-2zM6 82h2v1h-2zM10 82h1v1h-1zM12 82h2v1h-2zM44 82h1v1h-1zM47 82h3v1h-3zM51 82h1v1h-1zM54 82h3v1h-3zM58 82h1v1h-1zM60 82h1v1h-1zM62 82h1v1h-1zM64 82h2v1h-2zM68 82h2v1h-2zM71 82h2v1h-2zM74 82h2v1h-2zM77 82h2v1h-2zM82 82h4v1h-4zM87 82h1v1h-1zM90 82h2v1h-2zM93 82h1v1h-1zM96 82h2v1h-2zM0 81h1v1h-1zM4 81h1v1h-1zM7 81h1v1h-1zM10 81h1v1h-1zM12 81h2v1h-2zM40 81h2v1h-2zM43 81h1v1h-1zM46 81h2v1h-2zM50 81h3v1h-3zM54 81h5v1h-5zM60 81h1v1h-1zM62 81h1v1h-1zM64 81h1v1h-1zM67 81h3v1h-3zM71 81h1v1h-1zM73 81h1v1h-1zM76 81h4v1h-4zM81 81h1v1h-1zM85 81h9v1h-9zM97 81h1v1h-1zM0 80h1v1h-1zM40 80h1v1h-1zM44 80h1v1h-1zM48 80h1v1h-1zM50 80h4v1h-4zM55 80h4v1h-4zM62 80h2v1h-2zM65 80h2v1h-2zM70 80h5v1h-5zM79 80h2v1h-2zM83 80h2v1h-2zM86 80h8v1h-8zM96 80h2v1h-2zM6 79h1v1h-1zM12 79h2v1h-2zM40 79h1v1h-1zM62 79h1v1h-1zM65 79h1v1h-1zM71 79h2v1h-2zM79 79h1v1h-1zM82 79h1v1h-1zM85 79h1v1h-1zM88 79h3v1h-3zM93 79h1v1h-1zM96 79h1v1h-1zM98 79h1v1h-1zM3 78h1v1h-1zM5 78h1v1h-1zM7 78h1v1h-1zM10 78h2v1h-2zM35 78h1v1h-1zM42 78h1v1h-1zM45 78h2v1h-2zM50 78h3v1h-3zM54 78h1v1h-1zM56 78h8v1h-8zM65 78h1v1h-1zM67 78h3v1h-3zM72 78h1v1h-1zM74 78h1v1h-1zM76 78h1v1h-1zM79 78h3v1h-3zM4 77h1v1h-1zM6 77h2v1h-2zM9 77h1v1h-1zM11 77h1v1h-1zM34 77h2v1h-2zM42 77h3v1h-3zM46 77h1v1h-1zM53 77h4v1h-4zM58 77h1v1h-1zM61 77h1v1h-1zM63 77h10v1h-10zM74 77h1v1h-1zM76 77h1v1h-1zM80 77h2v1h-2zM86 77h1v1h-1zM0 76h1v1h-1zM4 76h1v1h-1zM42 76h1v1h-1zM44 76h1v1h-1zM46 76h1v1h-1zM54 76h1v1h-1zM59 76h1v1h-1zM61 76h1v1h-1zM68 76h1v1h-1zM70 76h1v1h-1zM73 76h1v1h-1zM76 76h1v1h-1zM0 75h3v1h-3zM5 75h1v1h-1zM8 75h1v1h-1zM44 75h1v1h-1zM46 75h1v1h-1zM58 75h1v1h-1zM64 75h3v1h-3zM71 75h1v1h-1zM73 75h1v1h-1zM75 75h2v1h-2zM81 75h1v1h-1zM0 74h1v1h-1zM2 74h1v1h-1zM6 74h1v1h-1zM39 74h1v1h-1zM41 74h1v1h-1zM44 74h1v1h-1zM46 74h1v1h-1zM50 74h1v1h-1zM57 74h1v1h-1zM59 74h3v1h-3zM70 74h1v1h-1zM77 74h1v1h-1zM1 73h2v1h-2zM4 73h1v1h-1zM6 73h1v1h-1zM8 73h1v1h-1zM44 73h4v1h-4zM50 73h1v1h-1zM52 73h3v1h-3zM56 73h1v1h-1zM58 73h1v1h-1zM61 73h1v1h-1zM66 73h3v1h-3zM70 73h2v1h-2zM75 73h3v1h-3zM79 73h1v1h-1zM81 73h1v1h-1zM87 73h1v1h-1zM1 72h1v1h-1zM3 72h2v1h-2zM42 72h2v1h-2zM46 72h1v1h-1zM59 72h3v1h-3zM64 72h1v1h-1zM74 72h2v1h-2zM77 72h1v1h-1zM81 72h1v1h-1zM0 71h2v1h-2zM3 71h3v1h-3zM7 71h1v1h-1zM40 71h1v1h-1zM44 71h1v1h-1zM46 71h1v1h-1zM49 71h1v1h-1zM51 71h1v1h-1zM53 71h3v1h-3zM57 71h1v1h-1zM59 71h1v1h-1zM61 71h1v1h-1zM63 71h2v1h-2zM69 71h4v1h-4zM74 71h3v1h-3zM78 71h1v1h-1zM80 71h1v1h-1zM88 71h1v1h-1zM0 70h1v1h-1zM2 70h1v1h-1zM4 70h4v1h-4zM46 70h3v1h-3zM50 70h1v1h-1zM54 70h1v1h-1zM66 70h1v1h-1zM72 70h1v1h-1zM79 70h2v1h-2zM82 70h2v1h-2zM85 70h1v1h-1zM89 70h3v1h-3zM93 70h2v1h-2zM96 70h1v1h-1zM41 69h1v1h-1zM47 69h1v1h-1zM60 69h1v1h-1zM62 69h1v1h-1zM74 69h1v1h-1zM79 69h1v1h-1zM82 69h4v1h-4zM88 69h1v1h-1zM92 69h4v1h-4zM97 69h1v1h-1zM41 68h1v1h-1zM98 68h1v1h-1zM22 67h1v1h-1zM40 65h1v1h-1zM50 65h1v1h-1zM55 65h1v1h-1zM58 65h1v1h-1zM60 65h1v1h-1zM62 65h1v1h-1zM67 65h1v1h-1zM69 65h1v1h-1zM72 65h1v1h-1zM78 65h2v1h-2zM81 65h3v1h-3zM85 65h10v1h-10zM97 65h2v1h-2zM21 64h1v1h-1zM25 64h1v1h-1zM48 64h1v1h-1zM50 64h1v1h-1zM55 64h1v1h-1zM57 64h1v1h-1zM59 64h2v1h-2zM63 64h1v1h-1zM67 64h2v1h-2zM70 64h1v1h-1zM72 64h1v1h-1zM74 64h1v1h-1zM78 64h1v1h-1zM83 64h2v1h-2zM87 64h2v1h-2zM90 64h4v1h-4zM96 64h3v1h-3zM41 63h1v1h-1zM43 63h2v1h-2zM46 63h8v1h-8zM55 63h2v1h-2zM62 63h2v1h-2zM65 63h5v1h-5zM71 63h5v1h-5zM78 63h1v1h-1zM80 63h5v1h-5zM86 63h3v1h-3zM90 63h2v1h-2zM93 63h1v1h-1zM14 62h1v1h-1zM43 62h1v1h-1zM46 62h5v1h-5zM52 62h6v1h-6zM59 62h2v1h-2zM63 62h3v1h-3zM67 62h7v1h-7zM75 62h1v1h-1zM77 62h4v1h-4zM82 62h2v1h-2zM86 62h3v1h-3zM90 62h2v1h-2zM93 62h1v1h-1zM96 62h1v1h-1zM40 61h1v1h-1zM42 61h1v1h-1zM44 61h1v1h-1zM47 61h3v1h-3zM51 61h4v1h-4zM56 61h2v1h-2zM60 61h4v1h-4zM65 61h3v1h-3zM70 61h4v1h-4zM75 61h1v1h-1zM77 61h3v1h-3zM81 61h1v1h-1zM84 61h1v1h-1zM87 61h2v1h-2zM90 61h1v1h-1zM92 61h2v1h-2zM96 61h2v1h-2zM44 60h1v1h-1zM46 60h1v1h-1zM48 60h1v1h-1zM50 60h1v1h-1zM52 60h2v1h-2zM55 60h3v1h-3zM66 60h1v1h-1zM69 60h2v1h-2zM75 60h1v1h-1zM78 60h1v1h-1zM80 60h2v1h-2zM85 60h1v1h-1zM87 60h5v1h-5zM93 60h2v1h-2zM96 60h1v1h-1zM98 60h1v1h-1zM2 59h1v1h-1zM6 59h1v1h-1zM15 59h1v1h-1zM18 59h1v1h-1zM34 59h1v1h-1zM47 59h1v1h-1zM49 59h1v1h-1zM51 59h1v1h-1zM54 59h2v1h-2zM58 59h3v1h-3zM62 59h1v1h-1zM66 59h1v1h-1zM68 59h1v1h-1zM74 59h1v1h-1zM76 59h1v1h-1zM79 59h1v1h-1zM81 59h2v1h-2zM84 59h5v1h-5zM90 59h4v1h-4zM95 59h3v1h-3zM0 58h1v1h-1zM4 58h1v1h-1zM6 58h1v1h-1zM9 58h1v1h-1zM11 58h1v1h-1zM16 58h1v1h-1zM18 58h1v1h-1zM23 58h1v1h-1zM25 58h3v1h-3zM31 58h1v1h-1zM33 58h2v1h-2zM37 58h1v1h-1zM72 58h1v1h-1zM85 58h1v1h-1zM89 58h1v1h-1zM94 58h2v1h-2zM97 58h1v1h-1zM9 57h1v1h-1zM11 57h1v1h-1zM13 57h1v1h-1zM17 57h3v1h-3zM24 57h1v1h-1zM28 57h1v1h-1zM30 57h7v1h-7zM42 57h6v1h-6zM51 57h3v1h-3zM57 57h5v1h-5zM63 57h3v1h-3zM71 57h3v1h-3zM76 57h1v1h-1zM81 57h1v1h-1zM17 56h1v1h-1zM20 56h3v1h-3zM26 56h2v1h-2zM35 56h1v1h-1zM37 56h1v1h-1zM41 56h1v1h-1zM53 56h1v1h-1zM61 56h1v1h-1zM70 56h1v1h-1zM75 56h1v1h-1zM79 56h1v1h-1zM85 56h2v1h-2zM94 56h2v1h-2zM15 55h1v1h-1zM20 55h3v1h-3zM25 55h1v1h-1zM27 55h1v1h-1zM35 55h3v1h-3zM41 55h1v1h-1zM61 55h1v1h-1zM75 55h1v1h-1zM77 55h1v1h-1zM81 55h1v1h-1zM84 55h1v1h-1zM90 55h2v1h-2zM97 55h2v1h-2zM14 54h5v1h-5zM21 54h1v1h-1zM23 54h3v1h-3zM27 54h1v1h-1zM35 54h1v1h-1zM37 54h2v1h-2zM41 54h1v1h-1zM64 54h1v1h-1zM66 54h1v1h-1zM73 54h2v1h-2zM77 54h1v1h-1zM80 54h1v1h-1zM84 54h1v1h-1zM86 54h2v1h-2zM91 54h1v1h-1zM95 54h1v1h-1zM15 53h1v1h-1zM20 53h1v1h-1zM25 53h1v1h-1zM27 53h1v1h-1zM64 53h1v1h-1zM90 53h2v1h-2zM93 53h1v1h-1zM97 53h2v1h-2zM16 52h2v1h-2zM20 52h6v1h-6zM27 52h1v1h-1zM35 52h2v1h-2zM41 52h1v1h-1zM61 52h1v1h-1zM64 52h1v1h-1zM88 52h1v1h-1zM95 52h1v1h-1zM14 51h4v1h-4zM25 51h1v1h-1zM28 51h2v1h-2zM33 51h1v1h-1zM35 51h5v1h-5zM91 51h1v1h-1zM96 51h2v1h-2zM15 50h2v1h-2zM18 50h1v1h-1zM25 50h1v1h-1zM28 50h1v1h-1zM34 50h5v1h-5zM88 50h1v1h-1zM96 50h1v1h-1zM15 49h2v1h-2zM28 49h1v1h-1zM35 49h3v1h-3zM39 49h1v1h-1zM85 49h1v1h-1zM91 49h1v1h-1zM96 49h1v1h-1zM15 48h1v1h-1zM17 48h2v1h-2zM20 48h1v1h-1zM24 48h2v1h-2zM28 48h1v1h-1zM33 48h4v1h-4zM38 48h1v1h-1zM73 48h1v1h-1zM85 48h2v1h-2zM96 48h2v1h-2zM15 47h4v1h-4zM27 47h1v1h-1zM33 47h3v1h-3zM37 47h1v1h-1zM39 47h1v1h-1zM41 47h1v1h-1zM87 47h1v1h-1zM14 46h5v1h-5zM20 46h1v1h-1zM33 46h1v1h-1zM35 46h4v1h-4zM87 46h1v1h-1zM96 46h2v1h-2zM18 45h1v1h-1zM21 45h1v1h-1zM25 45h1v1h-1zM27 45h1v1h-1zM35 45h4v1h-4zM41 45h1v1h-1zM89 45h2v1h-2zM97 45h2v1h-2zM15 44h3v1h-3zM20 44h2v1h-2zM25 44h1v1h-1zM27 44h1v1h-1zM35 44h3v1h-3zM39 44h1v1h-1zM74 44h1v1h-1zM88 44h1v1h-1zM91 44h1v1h-1zM16 43h3v1h-3zM21 43h1v1h-1zM33 43h7v1h-7zM96 43h1v1h-1zM15 42h4v1h-4zM21 42h1v1h-1zM25 42h1v1h-1zM35 42h3v1h-3zM76 42h1v1h-1zM81 42h1v1h-1zM88 42h1v1h-1zM96 42h1v1h-1zM15 41h1v1h-1zM17 41h2v1h-2zM20 41h1v1h-1zM27 41h1v1h-1zM34 41h1v1h-1zM36 41h2v1h-2zM41 41h1v1h-1zM83 41h1v1h-1zM87 41h2v1h-2zM91 41h1v1h-1zM94 41h1v1h-1zM96 41h1v1h-1zM98 41h1v1h-1zM15 40h4v1h-4zM20 40h2v1h-2zM23 40h1v1h-1zM25 40h1v1h-1zM28 40h1v1h-1zM33 40h1v1h-1zM35 40h1v1h-1zM39 40h1v1h-1zM41 40h1v1h-1zM86 40h1v1h-1zM97 40h1v1h-1zM14 39h1v1h-1zM16 39h1v1h-1zM20 39h1v1h-1zM22 39h1v1h-1zM24 39h1v1h-1zM26 39h2v1h-2zM34 39h1v1h-1zM36 39h2v1h-2zM39 39h1v1h-1zM83 39h1v1h-1zM87 39h1v1h-1zM90 39h2v1h-2zM94 39h2v1h-2zM98 39h1v1h-1zM15 38h4v1h-4zM20 38h1v1h-1zM24 38h1v1h-1zM29 38h1v1h-1zM33 38h2v1h-2zM36 38h2v1h-2zM39 38h1v1h-1zM41 38h1v1h-1zM83 38h2v1h-2zM87 38h1v1h-1zM90 38h2v1h-2zM93 38h1v1h-1zM20 37h3v1h-3zM24 37h4v1h-4zM37 37h1v1h-1zM41 37h1v1h-1zM46 37h1v1h-1zM64 37h1v1h-1zM75 37h1v1h-1zM87 37h1v1h-1zM89 37h1v1h-1zM91 37h1v1h-1zM93 37h1v1h-1zM15 36h4v1h-4zM20 36h1v1h-1zM29 36h1v1h-1zM33 36h1v1h-1zM35 36h1v1h-1zM37 36h1v1h-1zM39 36h1v1h-1zM15 35h1v1h-1zM18 35h1v1h-1zM20 35h2v1h-2zM27 35h1v1h-1zM34 35h4v1h-4zM41 35h1v1h-1zM77 35h1v1h-1zM83 35h2v1h-2zM96 35h1v1h-1zM98 35h1v1h-1zM16 34h2v1h-2zM20 34h2v1h-2zM23 34h1v1h-1zM25 34h3v1h-3zM36 34h2v1h-2zM41 34h1v1h-1zM45 34h1v1h-1zM95 34h2v1h-2zM15 33h2v1h-2zM18 33h4v1h-4zM23 33h1v1h-1zM34 33h4v1h-4zM41 33h1v1h-1zM16 32h1v1h-1zM18 32h1v1h-1zM20 32h2v1h-2zM23 32h1v1h-1zM25 32h1v1h-1zM28 32h1v1h-1zM37 32h1v1h-1zM96 32h1v1h-1zM15 31h1v1h-1zM21 31h1v1h-1zM25 31h1v1h-1zM33 31h5v1h-5zM98 31h1v1h-1zM15 30h4v1h-4zM21 30h2v1h-2zM25 30h1v1h-1zM34 30h3v1h-3zM39 30h1v1h-1zM15 29h3v1h-3zM20 29h1v1h-1zM33 29h1v1h-1zM35 29h2v1h-2zM38 29h1v1h-1zM15 28h1v1h-1zM17 28h2v1h-2zM21 28h2v1h-2zM25 28h1v1h-1zM27 28h1v1h-1zM34 28h5v1h-5zM42 28h1v1h-1zM15 27h4v1h-4zM21 27h1v1h-1zM25 27h1v1h-1zM27 27h2v1h-2zM34 27h6v1h-6zM41 27h1v1h-1zM16 26h1v1h-1zM18 26h2v1h-2zM21 26h1v1h-1zM27 26h1v1h-1zM33 26h7v1h-7zM97 26h1v1h-1zM16 25h3v1h-3zM26 25h1v1h-1zM36 25h2v1h-2zM41 25h1v1h-1zM43 25h2v1h-2zM46 25h1v1h-1zM15 24h1v1h-1zM17 24h2v1h-2zM20 24h1v1h-1zM26 24h2v1h-2zM29 24h1v1h-1zM34 24h2v1h-2zM37 24h1v1h-1zM44 24h1v1h-1zM15 23h4v1h-4zM27 23h1v1h-1zM35 23h4v1h-4zM42 23h1v1h-1zM54 23h1v1h-1zM20 22h4v1h-4zM25 22h1v1h-1zM27 22h1v1h-1zM41 22h1v1h-1zM95 22h1v1h-1zM97 22h1v1h-1zM15 21h3v1h-3zM20 21h1v1h-1zM24 21h3v1h-3zM36 21h2v1h-2zM39 21h1v1h-1zM44 21h1v1h-1zM63 21h1v1h-1zM97 21h1v1h-1zM15 20h3v1h-3zM27 20h1v1h-1zM33 20h7v1h-7zM15 19h1v1h-1zM17 19h3v1h-3zM25 19h1v1h-1zM33 19h1v1h-1zM36 19h2v1h-2zM39 19h1v1h-1zM42 19h1v1h-1zM97 19h1v1h-1zM17 18h2v1h-2zM20 18h2v1h-2zM27 18h2v1h-2zM35 18h2v1h-2zM38 18h1v1h-1zM44 18h1v1h-1zM53 18h2v1h-2zM17 17h1v1h-1zM20 17h2v1h-2zM23 17h1v1h-1zM25 17h2v1h-2zM33 17h1v1h-1zM35 17h1v1h-1zM37 17h1v1h-1zM39 17h1v1h-1zM41 17h1v1h-1zM43 17h1v1h-1zM56 17h1v1h-1zM97 17h1v1h-1zM14 16h1v1h-1zM16 16h1v1h-1zM19 16h1v1h-1zM28 16h2v1h-2zM33 16h1v1h-1zM35 16h1v1h-1zM39 16h1v1h-1zM60 16h1v1h-1zM18 15h1v1h-1zM28 15h2v1h-2zM33 15h4v1h-4zM40 15h1v1h-1zM60 15h1v1h-1zM14 14h1v1h-1zM16 14h3v1h-3zM28 14h2v1h-2zM34 14h2v1h-2zM37 14h1v1h-1zM39 14h1v1h-1zM43 14h2v1h-2zM5 13h1v1h-1zM14 13h4v1h-4zM19 13h1v1h-1zM28 13h2v1h-2zM33 13h2v1h-2zM38 13h3v1h-3zM45 13h1v1h-1zM57 13h1v1h-1zM61 13h1v1h-1zM14 12h2v1h-2zM17 12h2v1h-2zM33 12h1v1h-1zM35 12h3v1h-3zM39 12h1v1h-1zM56 12h1v1h-1zM96 12h2v1h-2zM15 11h4v1h-4zM28 11h1v1h-1zM33 11h7v1h-7zM44 11h1v1h-1zM46 11h1v1h-1zM51 11h2v1h-2zM56 11h2v1h-2zM61 11h1v1h-1zM63 11h1v1h-1zM14 10h6v1h-6zM29 10h1v1h-1zM33 10h7v1h-7zM46 10h1v1h-1zM54 10h1v1h-1zM14 9h1v1h-1zM18 9h2v1h-2zM28 9h1v1h-1zM38 9h1v1h-1zM40 9h1v1h-1zM61 9h1v1h-1zM14 8h2v1h-2zM17 8h1v1h-1zM19 8h1v1h-1zM28 8h2v1h-2zM33 8h2v1h-2zM36 8h4v1h-4zM45 8h1v1h-1zM59 8h2v1h-2zM97 8h1v1h-1zM15 7h4v1h-4zM28 7h1v1h-1zM33 7h4v1h-4zM38 7h2v1h-2zM44 7h1v1h-1zM47 7h1v1h-1zM59 7h2v1h-2zM97 7h1v1h-1zM14 6h2v1h-2zM17 6h3v1h-3zM29 6h1v1h-1zM33 6h2v1h-2zM37 6h1v1h-1zM39 6h1v1h-1zM52 6h1v1h-1zM97 6h1v1h-1zM10 5h1v1h-1zM14 5h6v1h-6zM28 5h2v1h-2zM33 5h3v1h-3zM37 5h3v1h-3zM45 5h1v1h-1zM14 4h1v1h-1zM28 4h2v1h-2zM31 4h1v1h-1zM33 4h1v1h-1zM40 4h1v1h-1zM45 4h2v1h-2zM55 4h1v1h-1zM57 4h1v1h-1zM81 4h1v1h-1zM1 3h1v1h-1zM14 3h2v1h-2zM29 3h1v1h-1zM40 3h1v1h-1zM44 3h1v1h-1zM50 3h1v1h-1zM53 3h1v1h-1zM55 3h1v1h-1zM63 3h1v1h-1zM14 2h2v1h-2zM18 2h2v1h-2zM28 2h1v1h-1zM34 2h1v1h-1zM37 2h1v1h-1zM39 2h1v1h-1zM45 2h2v1h-2zM49 2h4v1h-4zM54 2h4v1h-4zM64 2h1v1h-1zM66 2h1v1h-1zM14 1h1v1h-1zM28 1h2v1h-2zM33 1h2v1h-2zM37 1h4v1h-4zM42 1h1v1h-1zM44 1h2v1h-2zM50 1h1v1h-1zM64 1h1v1h-1zM72 1h1v1h-1zM77 1h1v1h-1zM79 1h1v1h-1zM81 1h1v1h-1zM91 1h1v1h-1zM12 0h1v1h-1zM19 0h1v1h-1zM30 0h1v1h-1zM38 0h1v1h-1zM42 0h2v1h-2zM45 0h2v1h-2zM51 0h1v1h-1zM53 0h1v1h-1zM59 0h1v1h-1z"/>
<path fill="#4a0707" d="M6 98h1v1h-1zM38 98h1v1h-1zM13 97h1v1h-1zM41 97h1v1h-1zM40 95h2v1h-2zM29 94h1v1h-1zM31 94h1v1h-1zM4 93h1v1h-1zM33 93h1v1h-1zM1 92h1v1h-1zM0 91h1v1h-1zM40 91h1v1h-1zM7 90h1v1h-1zM10 90h1v1h-1zM40 90h1v1h-1zM2 89h1v1h-1zM4 88h1v1h-1zM6 88h1v1h-1zM8 88h1v1h-1zM37 87h1v1h-1zM0 85h1v1h-1zM34 84h1v1h-1zM26 83h1v1h-1zM38 83h1v1h-1zM25 78h1v1h-1zM27 78h1v1h-1zM40 77h1v1h-1zM20 76h1v1h-1zM22 75h1v1h-1zM9 74h1v1h-1zM43 74h1v1h-1zM98 74h1v1h-1zM31 73h1v1h-1zM42 71h1v1h-1zM18 69h1v1h-1zM40 69h1v1h-1zM38 68h1v1h-1zM26 67h2v1h-2zM10 66h1v1h-1zM16 66h1v1h-1zM24 65h1v1h-1zM11 62h1v1h-1zM31 61h2v1h-2zM0 60h1v1h-1zM42 58h1v1h-1zM47 58h1v1h-1zM50 58h1v1h-1zM82 58h1v1h-1zM98 58h1v1h-1zM62 57h1v1h-1zM68 57h1v1h-1zM80 57h1v1h-1zM84 57h1v1h-1zM94 57h1v1h-1zM65 56h1v1h-1zM78 56h1v1h-1zM49 54h1v1h-1zM89 54h1v1h-1zM92 54h1v1h-1zM47 53h1v1h-1zM65 53h1v1h-1zM45 52h1v1h-1zM52 51h1v1h-1zM83 51h1v1h-1zM88 51h1v1h-1zM45 50h1v1h-1zM59 50h1v1h-1zM71 50h1v1h-1zM77 50h1v1h-1zM87 50h1v1h-1zM45 49h1v1h-1zM57 49h1v1h-1zM55 48h1v1h-1zM68 48h1v1h-1zM42 47h1v1h-1zM44 47h1v1h-1zM62 47h1v1h-1zM68 47h1v1h-1zM70 46h1v1h-1zM58 45h2v1h-2zM46 44h1v1h-1zM60 44h1v1h-1zM62 44h1v1h-1zM50 43h1v1h-1zM50 42h1v1h-1zM83 42h1v1h-1zM52 41h1v1h-1zM69 40h1v1h-1zM49 39h1v1h-1zM69 38h1v1h-1zM71 38h2v1h-2zM95 38h1v1h-1zM53 36h1v1h-1zM89 36h1v1h-1zM54 35h1v1h-1zM60 35h1v1h-1zM62 35h1v1h-1zM67 35h1v1h-1zM50 34h1v1h-1zM68 34h1v1h-1zM71 34h1v1h-1zM44 33h1v1h-1zM80 33h1v1h-1zM67 32h1v1h-1zM79 32h1v1h-1zM95 32h1v1h-1zM97 32h1v1h-1zM80 31h1v1h-1zM51 30h1v1h-1zM53 30h1v1h-1zM88 30h1v1h-1zM48 29h1v1h-1zM91 29h1v1h-1zM60 28h1v1h-1zM82 28h1v1h-1zM58 27h1v1h-1zM74 27h1v1h-1zM93 27h1v1h-1zM98 27h1v1h-1zM63 26h1v1h-1zM85 26h1v1h-1zM93 26h1v1h-1zM98 26h1v1h-1zM55 25h1v1h-1zM58 25h1v1h-1zM78 25h1v1h-1zM90 24h1v1h-1zM92 24h1v1h-1zM50 23h1v1h-1zM68 23h1v1h-1zM85 23h1v1h-1zM83 22h1v1h-1zM92 22h1v1h-1zM67 21h1v1h-1zM75 21h2v1h-2zM87 21h1v1h-1zM90 21h1v1h-1zM81 20h1v1h-1zM65 19h1v1h-1zM80 19h1v1h-1zM84 19h1v1h-1zM93 19h1v1h-1zM52 18h1v1h-1zM75 18h1v1h-1zM78 18h1v1h-1zM77 17h1v1h-1zM93 17h1v1h-1zM86 16h1v1h-1zM50 15h1v1h-1zM54 15h1v1h-1zM93 15h2v1h-2zM75 14h1v1h-1zM90 14h1v1h-1zM98 14h1v1h-1zM71 13h1v1h-1zM83 13h1v1h-1zM93 13h1v1h-1zM68 12h1v1h-1zM71 12h1v1h-1zM67 10h2v1h-2zM75 10h1v1h-1zM84 10h1v1h-1zM86 10h1v1h-1zM96 10h1v1h-1zM55 9h1v1h-1zM87 9h1v1h-1zM93 9h1v1h-1zM51 8h1v1h-1zM77 8h1v1h-1zM85 8h1v1h-1zM50 7h1v1h-1zM62 7h1v1h-1zM68 7h1v1h-1zM83 7h1v1h-1zM89 7h2v1h-2zM44 6h1v1h-1zM80 6h1v1h-1zM67 5h1v1h-1zM83 5h1v1h-1zM86 5h1v1h-1zM82 4h1v1h-1zM79 3h1v1h-1zM87 3h1v1h-1zM82 1h1v1h-1zM85 0h2v1h-2zM94 0h1v1h-1z"/>
<path fill="#e8111b" d="M7 98h2v1h-2zM33 98h1v1h-1zM6 97h1v1h-1zM30 97h1v1h-1zM4 96h4v1h-4zM33 96h3v1h-3zM9 95h1v1h-1zM0 94h1v1h-1zM6 94h1v1h-1zM35 94h1v1h-1zM8 93h2v1h-2zM11 93h1v1h-1zM32 93h1v1h-1zM36 93h1v1h-1zM38 93h1v1h-1zM0 92h1v1h-1zM9 92h1v1h-1zM29 92h1v1h-1zM13 91h1v1h-1zM26 91h1v1h-1zM31 91h1v1h-1zM36 91h1v1h-1zM0 90h1v1h-1zM30 90h1v1h-1zM32 90h3v1h-3zM1 89h1v1h-1zM6 89h2v1h-2zM37 89h1v1h-1zM31 88h1v1h-1zM33 88h1v1h-1zM39 88h1v1h-1zM2 87h1v1h-1zM35 87h1v1h-1zM21 86h1v1h-1zM38 86h1v1h-1zM1 85h1v1h-1zM21 85h1v1h-1zM26 85h1v1h-1zM31 85h1v1h-1zM33 85h1v1h-1zM35 85h1v1h-1zM41 84h1v1h-1zM30 83h2v1h-2zM33 83h1v1h-1zM36 83h1v1h-1zM19 82h1v1h-1zM23 82h1v1h-1zM25 82h1v1h-1zM28 82h1v1h-1zM30 82h1v1h-1zM39 82h1v1h-1zM8 81h1v1h-1zM24 81h1v1h-1zM26 81h1v1h-1zM26 80h1v1h-1zM30 79h1v1h-1zM37 79h2v1h-2zM24 78h1v1h-1zM28 78h1v1h-1zM36 78h1v1h-1zM39 78h1v1h-1zM98 78h1v1h-1zM24 77h3v1h-3zM29 77h1v1h-1zM14 76h1v1h-1zM16 76h1v1h-1zM23 76h1v1h-1zM25 76h1v1h-1zM37 76h1v1h-1zM98 76h1v1h-1zM20 75h2v1h-2zM24 75h1v1h-1zM26 75h1v1h-1zM33 75h1v1h-1zM98 75h1v1h-1zM16 74h2v1h-2zM19 74h1v1h-1zM22 74h1v1h-1zM26 74h1v1h-1zM38 74h1v1h-1zM92 74h1v1h-1zM13 73h1v1h-1zM20 73h1v1h-1zM22 73h1v1h-1zM37 73h2v1h-2zM51 73h1v1h-1zM24 72h1v1h-1zM32 72h1v1h-1zM37 72h1v1h-1zM65 72h1v1h-1zM96 72h1v1h-1zM9 71h2v1h-2zM20 71h1v1h-1zM24 71h1v1h-1zM28 71h2v1h-2zM33 71h1v1h-1zM94 71h1v1h-1zM9 70h1v1h-1zM6 69h1v1h-1zM10 69h2v1h-2zM21 69h1v1h-1zM36 69h2v1h-2zM39 69h1v1h-1zM1 68h1v1h-1zM11 68h2v1h-2zM17 68h1v1h-1zM19 68h2v1h-2zM39 68h1v1h-1zM4 67h1v1h-1zM8 67h1v1h-1zM10 67h1v1h-1zM12 67h1v1h-1zM25 67h1v1h-1zM3 66h1v1h-1zM9 66h1v1h-1zM21 66h1v1h-1zM37 66h1v1h-1zM0 65h1v1h-1zM8 65h1v1h-1zM19 65h2v1h-2zM25 65h2v1h-2zM11 64h1v1h-1zM14 64h1v1h-1zM17 64h1v1h-1zM0 63h1v1h-1zM2 63h1v1h-1zM13 63h1v1h-1zM37 63h1v1h-1zM4 62h1v1h-1zM6 62h2v1h-2zM15 62h1v1h-1zM20 62h1v1h-1zM0 61h1v1h-1zM4 61h2v1h-2zM10 61h3v1h-3zM19 61h1v1h-1zM23 61h1v1h-1zM29 61h1v1h-1zM10 60h2v1h-2zM15 60h1v1h-1zM22 60h1v1h-1zM24 60h2v1h-2zM34 60h2v1h-2zM5 59h1v1h-1zM29 59h2v1h-2zM3 58h1v1h-1zM7 58h2v1h-2zM21 58h1v1h-1zM29 58h1v1h-1zM1 57h1v1h-1zM3 57h1v1h-1zM40 56h1v1h-1zM46 56h3v1h-3zM66 56h2v1h-2zM77 56h1v1h-1zM44 55h1v1h-1zM48 55h1v1h-1zM50 55h1v1h-1zM63 55h1v1h-1zM68 55h1v1h-1zM79 55h2v1h-2zM47 54h1v1h-1zM54 54h2v1h-2zM62 54h1v1h-1zM67 54h1v1h-1zM71 54h1v1h-1zM78 54h1v1h-1zM42 53h2v1h-2zM50 53h1v1h-1zM58 53h1v1h-1zM78 53h1v1h-1zM50 52h1v1h-1zM58 52h1v1h-1zM60 52h1v1h-1zM75 52h1v1h-1zM79 52h1v1h-1zM83 52h1v1h-1zM40 51h1v1h-1zM44 51h1v1h-1zM54 51h1v1h-1zM56 51h2v1h-2zM64 51h3v1h-3zM70 51h1v1h-1zM75 51h1v1h-1zM85 51h1v1h-1zM95 51h1v1h-1zM51 50h1v1h-1zM54 50h2v1h-2zM62 50h2v1h-2zM65 50h1v1h-1zM70 50h1v1h-1zM75 50h1v1h-1zM79 50h1v1h-1zM91 50h1v1h-1zM93 50h1v1h-1zM54 49h2v1h-2zM61 49h1v1h-1zM67 49h1v1h-1zM70 49h1v1h-1zM72 49h1v1h-1zM75 49h1v1h-1zM77 49h1v1h-1zM84 49h1v1h-1zM92 49h1v1h-1zM94 49h1v1h-1zM40 48h1v1h-1zM42 48h2v1h-2zM46 48h1v1h-1zM51 48h4v1h-4zM57 48h1v1h-1zM60 48h1v1h-1zM64 48h1v1h-1zM74 48h1v1h-1zM84 48h1v1h-1zM87 48h1v1h-1zM92 48h1v1h-1zM94 48h1v1h-1zM25 47h1v1h-1zM43 47h1v1h-1zM48 47h1v1h-1zM53 47h1v1h-1zM55 47h1v1h-1zM60 47h1v1h-1zM64 47h1v1h-1zM66 47h1v1h-1zM71 47h1v1h-1zM74 47h1v1h-1zM85 47h1v1h-1zM89 47h1v1h-1zM95 47h1v1h-1zM45 46h3v1h-3zM54 46h1v1h-1zM56 46h2v1h-2zM59 46h1v1h-1zM61 46h1v1h-1zM78 46h1v1h-1zM82 46h1v1h-1zM47 45h1v1h-1zM55 45h1v1h-1zM82 45h1v1h-1zM96 45h1v1h-1zM57 44h1v1h-1zM59 44h1v1h-1zM70 44h1v1h-1zM72 44h1v1h-1zM84 44h1v1h-1zM89 44h1v1h-1zM92 44h1v1h-1zM94 44h1v1h-1zM44 43h1v1h-1zM47 43h1v1h-1zM49 43h1v1h-1zM51 43h1v1h-1zM53 43h1v1h-1zM58 43h2v1h-2zM62 43h1v1h-1zM65 43h1v1h-1zM69 43h1v1h-1zM79 43h2v1h-2zM87 43h1v1h-1zM91 43h1v1h-1zM53 42h1v1h-1zM63 42h2v1h-2zM80 42h1v1h-1zM84 42h1v1h-1zM89 42h1v1h-1zM43 41h2v1h-2zM49 41h1v1h-1zM54 41h1v1h-1zM68 41h1v1h-1zM75 41h1v1h-1zM47 40h1v1h-1zM53 40h1v1h-1zM59 40h1v1h-1zM62 40h1v1h-1zM78 40h1v1h-1zM88 40h1v1h-1zM90 40h1v1h-1zM50 39h1v1h-1zM53 39h3v1h-3zM60 39h1v1h-1zM62 39h1v1h-1zM69 39h1v1h-1zM72 39h1v1h-1zM86 39h1v1h-1zM46 38h2v1h-2zM49 38h2v1h-2zM52 38h1v1h-1zM54 38h1v1h-1zM59 38h1v1h-1zM70 38h1v1h-1zM74 38h1v1h-1zM52 37h2v1h-2zM55 37h1v1h-1zM58 37h2v1h-2zM65 37h1v1h-1zM82 37h1v1h-1zM22 36h1v1h-1zM41 36h1v1h-1zM43 36h2v1h-2zM55 36h1v1h-1zM58 36h2v1h-2zM71 36h1v1h-1zM92 36h1v1h-1zM46 35h1v1h-1zM52 35h1v1h-1zM55 35h1v1h-1zM58 35h1v1h-1zM65 35h1v1h-1zM80 35h1v1h-1zM89 35h1v1h-1zM92 35h1v1h-1zM47 34h1v1h-1zM51 34h1v1h-1zM56 34h1v1h-1zM75 34h1v1h-1zM42 33h1v1h-1zM45 33h1v1h-1zM55 33h1v1h-1zM63 33h2v1h-2zM66 33h2v1h-2zM69 33h1v1h-1zM74 33h1v1h-1zM79 33h1v1h-1zM82 33h1v1h-1zM85 33h1v1h-1zM89 33h1v1h-1zM91 33h1v1h-1zM47 32h1v1h-1zM61 32h1v1h-1zM63 32h1v1h-1zM65 32h1v1h-1zM71 32h2v1h-2zM74 32h1v1h-1zM76 32h1v1h-1zM78 32h1v1h-1zM82 32h1v1h-1zM88 32h2v1h-2zM47 31h1v1h-1zM51 31h1v1h-1zM59 31h1v1h-1zM63 31h1v1h-1zM66 31h1v1h-1zM69 31h1v1h-1zM83 31h1v1h-1zM89 31h1v1h-1zM41 30h1v1h-1zM46 30h1v1h-1zM48 30h3v1h-3zM57 30h1v1h-1zM64 30h1v1h-1zM70 30h1v1h-1zM75 30h1v1h-1zM77 30h1v1h-1zM85 30h1v1h-1zM87 30h1v1h-1zM91 30h1v1h-1zM43 29h1v1h-1zM57 29h1v1h-1zM59 29h2v1h-2zM65 29h1v1h-1zM77 29h2v1h-2zM80 29h1v1h-1zM87 29h1v1h-1zM45 28h1v1h-1zM52 28h1v1h-1zM68 28h1v1h-1zM75 28h2v1h-2zM78 28h1v1h-1zM85 28h2v1h-2zM59 27h1v1h-1zM63 27h1v1h-1zM73 27h1v1h-1zM78 27h1v1h-1zM82 27h1v1h-1zM84 27h1v1h-1zM90 27h2v1h-2zM94 27h1v1h-1zM42 26h1v1h-1zM47 26h3v1h-3zM54 26h1v1h-1zM58 26h1v1h-1zM73 26h1v1h-1zM78 26h1v1h-1zM89 26h1v1h-1zM94 26h1v1h-1zM53 25h1v1h-1zM57 25h1v1h-1zM61 25h1v1h-1zM64 25h1v1h-1zM69 25h1v1h-1zM71 25h1v1h-1zM76 25h2v1h-2zM80 25h1v1h-1zM82 25h1v1h-1zM84 25h2v1h-2zM89 25h1v1h-1zM60 24h1v1h-1zM66 24h1v1h-1zM68 24h1v1h-1zM71 24h1v1h-1zM75 24h1v1h-1zM77 24h1v1h-1zM79 24h1v1h-1zM82 24h1v1h-1zM86 24h1v1h-1zM97 24h2v1h-2zM45 23h1v1h-1zM47 23h2v1h-2zM57 23h1v1h-1zM64 23h1v1h-1zM67 23h1v1h-1zM71 23h1v1h-1zM73 23h1v1h-1zM77 23h1v1h-1zM79 23h1v1h-1zM81 23h1v1h-1zM88 23h1v1h-1zM90 23h2v1h-2zM93 23h1v1h-1zM63 22h1v1h-1zM65 22h1v1h-1zM71 22h1v1h-1zM78 22h1v1h-1zM82 22h1v1h-1zM84 22h1v1h-1zM91 22h1v1h-1zM48 21h2v1h-2zM52 21h1v1h-1zM58 21h1v1h-1zM65 21h2v1h-2zM73 21h1v1h-1zM79 21h1v1h-1zM81 21h1v1h-1zM85 21h1v1h-1zM92 21h1v1h-1zM42 20h1v1h-1zM46 20h2v1h-2zM54 20h1v1h-1zM69 20h2v1h-2zM73 20h1v1h-1zM75 20h1v1h-1zM83 20h3v1h-3zM87 20h1v1h-1zM90 20h1v1h-1zM43 19h1v1h-1zM46 19h1v1h-1zM55 19h1v1h-1zM63 19h1v1h-1zM66 19h1v1h-1zM68 19h1v1h-1zM74 19h1v1h-1zM85 19h1v1h-1zM88 19h2v1h-2zM91 19h1v1h-1zM41 18h1v1h-1zM47 18h1v1h-1zM49 18h2v1h-2zM58 18h1v1h-1zM62 18h1v1h-1zM65 18h1v1h-1zM67 18h1v1h-1zM77 18h1v1h-1zM83 18h1v1h-1zM91 18h1v1h-1zM93 18h1v1h-1zM98 18h1v1h-1zM47 17h1v1h-1zM51 17h1v1h-1zM67 17h1v1h-1zM24 16h1v1h-1zM40 16h1v1h-1zM53 16h1v1h-1zM59 16h1v1h-1zM62 16h1v1h-1zM66 16h1v1h-1zM70 16h2v1h-2zM73 16h1v1h-1zM76 16h1v1h-1zM78 16h1v1h-1zM81 16h1v1h-1zM92 16h1v1h-1zM46 15h2v1h-2zM52 15h1v1h-1zM56 15h1v1h-1zM61 15h1v1h-1zM70 15h1v1h-1zM72 15h1v1h-1zM75 15h1v1h-1zM77 15h2v1h-2zM86 15h1v1h-1zM98 15h1v1h-1zM46 14h1v1h-1zM50 14h2v1h-2zM66 14h1v1h-1zM74 14h1v1h-1zM77 14h4v1h-4zM88 14h1v1h-1zM91 14h1v1h-1zM95 14h1v1h-1zM48 13h1v1h-1zM65 13h2v1h-2zM69 13h2v1h-2zM72 13h2v1h-2zM75 13h1v1h-1zM77 13h1v1h-1zM87 13h1v1h-1zM90 13h1v1h-1zM92 13h1v1h-1zM23 12h1v1h-1zM52 12h1v1h-1zM72 12h1v1h-1zM74 12h1v1h-1zM82 12h1v1h-1zM48 11h1v1h-1zM50 11h1v1h-1zM68 11h1v1h-1zM72 11h1v1h-1zM74 11h2v1h-2zM90 11h4v1h-4zM47 10h2v1h-2zM52 10h1v1h-1zM58 10h1v1h-1zM66 10h1v1h-1zM92 10h1v1h-1zM97 10h1v1h-1zM44 9h1v1h-1zM46 9h1v1h-1zM49 9h1v1h-1zM51 9h1v1h-1zM54 9h1v1h-1zM56 9h1v1h-1zM62 9h2v1h-2zM66 9h1v1h-1zM73 9h1v1h-1zM78 9h2v1h-2zM94 9h1v1h-1zM98 9h1v1h-1zM18 8h1v1h-1zM35 8h1v1h-1zM48 8h1v1h-1zM54 8h1v1h-1zM71 8h1v1h-1zM80 8h2v1h-2zM87 8h1v1h-1zM91 8h1v1h-1zM96 8h1v1h-1zM48 7h1v1h-1zM55 7h1v1h-1zM65 7h1v1h-1zM69 7h1v1h-1zM76 7h2v1h-2zM87 7h1v1h-1zM92 7h1v1h-1zM96 7h1v1h-1zM43 6h1v1h-1zM49 6h1v1h-1zM54 6h1v1h-1zM56 6h1v1h-1zM59 6h1v1h-1zM70 6h1v1h-1zM74 6h1v1h-1zM76 6h2v1h-2zM82 6h1v1h-1zM85 6h3v1h-3zM90 6h1v1h-1zM46 5h1v1h-1zM63 5h1v1h-1zM66 5h1v1h-1zM68 5h1v1h-1zM70 5h2v1h-2zM79 5h3v1h-3zM90 5h1v1h-1zM0 4h1v1h-1zM25 4h1v1h-1zM35 4h1v1h-1zM38 4h1v1h-1zM50 4h1v1h-1zM83 4h1v1h-1zM90 4h1v1h-1zM92 4h1v1h-1zM98 4h1v1h-1zM23 3h2v1h-2zM26 3h1v1h-1zM47 3h1v1h-1zM60 3h1v1h-1zM66 3h1v1h-1zM71 3h1v1h-1zM73 3h1v1h-1zM80 3h1v1h-1zM98 3h1v1h-1zM26 2h1v1h-1zM33 2h1v1h-1zM53 2h1v1h-1zM68 2h1v1h-1zM82 2h4v1h-4zM88 2h1v1h-1zM90 2h1v1h-1zM66 1h1v1h-1zM71 1h1v1h-1zM78 1h1v1h-1zM94 1h1v1h-1zM0 0h1v1h-1zM22 0h1v1h-1zM40 0h2v1h-2zM47 0h1v1h-1zM68 0h1v1h-1zM71 0h2v1h-2zM78 0h1v1h-1zM83 0h1v1h-1zM93 0h1v1h-1zM96 0h1v1h-1z"/>
<path fill="#150303" d="M12 98h2v1h-2zM8 96h1v1h-1zM8 95h1v1h-1zM11 95h1v1h-1zM32 95h1v1h-1zM8 94h1v1h-1zM10 94h1v1h-1zM33 94h1v1h-1zM36 94h1v1h-1zM2 93h1v1h-1zM2 92h1v1h-1zM8 92h1v1h-1zM13 92h1v1h-1zM33 92h1v1h-1zM8 91h1v1h-1zM10 91h1v1h-1zM30 91h1v1h-1zM3 90h2v1h-2zM37 90h1v1h-1zM23 89h1v1h-1zM25 89h1v1h-1zM30 89h1v1h-1zM33 89h1v1h-1zM7 88h1v1h-1zM24 88h1v1h-1zM32 88h1v1h-1zM35 88h1v1h-1zM3 87h1v1h-1zM6 87h2v1h-2zM27 87h1v1h-1zM36 87h1v1h-1zM0 86h1v1h-1zM26 86h1v1h-1zM33 86h1v1h-1zM6 85h1v1h-1zM9 85h1v1h-1zM34 85h1v1h-1zM36 85h1v1h-1zM24 84h1v1h-1zM26 84h1v1h-1zM31 84h1v1h-1zM22 83h2v1h-2zM28 83h1v1h-1zM37 83h1v1h-1zM26 82h2v1h-2zM37 82h1v1h-1zM23 81h1v1h-1zM28 81h1v1h-1zM29 80h1v1h-1zM38 80h1v1h-1zM22 79h1v1h-1zM25 79h2v1h-2zM29 79h1v1h-1zM33 79h1v1h-1zM22 78h1v1h-1zM32 77h1v1h-1zM15 76h1v1h-1zM19 76h1v1h-1zM24 76h1v1h-1zM26 76h1v1h-1zM39 76h1v1h-1zM50 76h1v1h-1zM9 75h1v1h-1zM15 75h1v1h-1zM17 75h1v1h-1zM19 75h1v1h-1zM36 75h2v1h-2zM10 74h1v1h-1zM33 74h1v1h-1zM9 73h1v1h-1zM19 73h1v1h-1zM28 73h1v1h-1zM42 73h1v1h-1zM12 72h1v1h-1zM14 72h3v1h-3zM19 72h1v1h-1zM22 72h2v1h-2zM28 72h1v1h-1zM30 72h1v1h-1zM43 71h1v1h-1zM45 71h1v1h-1zM47 71h1v1h-1zM15 70h1v1h-1zM17 70h1v1h-1zM25 70h2v1h-2zM4 69h1v1h-1zM17 69h1v1h-1zM19 69h1v1h-1zM28 69h1v1h-1zM6 68h4v1h-4zM33 67h1v1h-1zM36 67h2v1h-2zM2 65h1v1h-1zM4 65h1v1h-1zM6 65h1v1h-1zM9 65h2v1h-2zM12 65h1v1h-1zM16 65h1v1h-1zM35 65h4v1h-4zM13 64h1v1h-1zM36 64h1v1h-1zM10 63h1v1h-1zM33 63h1v1h-1zM13 62h1v1h-1zM23 62h1v1h-1zM31 62h1v1h-1zM34 62h1v1h-1zM8 61h1v1h-1zM15 61h2v1h-2zM27 61h1v1h-1zM30 61h1v1h-1zM33 61h2v1h-2zM9 60h1v1h-1zM26 60h1v1h-1zM30 60h1v1h-1zM33 60h1v1h-1zM42 60h1v1h-1zM0 57h1v1h-1zM2 57h1v1h-1zM45 56h1v1h-1zM49 56h1v1h-1zM51 56h1v1h-1zM58 56h2v1h-2zM63 56h1v1h-1zM47 55h1v1h-1zM55 55h1v1h-1zM58 55h1v1h-1zM60 55h1v1h-1zM67 55h1v1h-1zM82 55h1v1h-1zM92 55h1v1h-1zM46 54h1v1h-1zM51 54h1v1h-1zM65 54h1v1h-1zM88 54h1v1h-1zM46 53h1v1h-1zM48 53h1v1h-1zM56 53h2v1h-2zM75 53h1v1h-1zM82 53h1v1h-1zM48 52h1v1h-1zM54 52h1v1h-1zM72 52h1v1h-1zM77 52h1v1h-1zM93 52h1v1h-1zM43 51h1v1h-1zM45 51h1v1h-1zM49 51h3v1h-3zM59 51h1v1h-1zM61 51h3v1h-3zM67 51h1v1h-1zM69 51h1v1h-1zM71 51h3v1h-3zM44 50h1v1h-1zM46 50h1v1h-1zM52 50h2v1h-2zM56 50h3v1h-3zM60 50h1v1h-1zM69 50h1v1h-1zM76 50h1v1h-1zM78 50h1v1h-1zM44 49h1v1h-1zM47 49h1v1h-1zM50 49h4v1h-4zM59 49h1v1h-1zM62 49h1v1h-1zM64 49h1v1h-1zM22 48h1v1h-1zM47 48h2v1h-2zM58 48h1v1h-1zM63 48h1v1h-1zM47 47h1v1h-1zM52 47h1v1h-1zM54 47h1v1h-1zM57 47h1v1h-1zM59 47h1v1h-1zM69 47h1v1h-1zM72 47h1v1h-1zM75 47h1v1h-1zM48 46h2v1h-2zM51 46h1v1h-1zM55 46h1v1h-1zM58 46h1v1h-1zM60 46h1v1h-1zM62 46h1v1h-1zM67 46h1v1h-1zM72 46h1v1h-1zM80 46h1v1h-1zM48 45h2v1h-2zM54 45h1v1h-1zM62 45h1v1h-1zM67 45h1v1h-1zM69 45h1v1h-1zM88 45h1v1h-1zM51 44h3v1h-3zM55 44h1v1h-1zM58 44h1v1h-1zM64 44h1v1h-1zM82 44h1v1h-1zM52 43h1v1h-1zM54 43h1v1h-1zM57 43h1v1h-1zM63 43h1v1h-1zM71 43h2v1h-2zM75 43h1v1h-1zM78 43h1v1h-1zM89 43h1v1h-1zM93 43h1v1h-1zM48 42h1v1h-1zM52 42h1v1h-1zM60 42h1v1h-1zM62 42h1v1h-1zM65 42h1v1h-1zM67 42h1v1h-1zM70 42h1v1h-1zM45 41h1v1h-1zM47 41h2v1h-2zM51 41h1v1h-1zM55 41h1v1h-1zM62 41h1v1h-1zM71 41h1v1h-1zM42 40h2v1h-2zM48 40h1v1h-1zM50 40h1v1h-1zM54 40h1v1h-1zM60 40h1v1h-1zM67 40h1v1h-1zM71 40h1v1h-1zM73 40h2v1h-2zM79 40h1v1h-1zM89 40h1v1h-1zM94 40h1v1h-1zM42 39h1v1h-1zM47 39h1v1h-1zM51 39h1v1h-1zM70 39h1v1h-1zM88 39h1v1h-1zM43 38h1v1h-1zM48 38h1v1h-1zM56 38h3v1h-3zM62 38h2v1h-2zM73 38h1v1h-1zM86 38h1v1h-1zM47 37h1v1h-1zM69 37h1v1h-1zM79 37h1v1h-1zM45 36h1v1h-1zM47 36h1v1h-1zM49 36h1v1h-1zM51 36h2v1h-2zM56 36h2v1h-2zM60 36h1v1h-1zM65 36h1v1h-1zM68 36h2v1h-2zM91 36h1v1h-1zM94 36h1v1h-1zM42 35h1v1h-1zM47 35h1v1h-1zM51 35h1v1h-1zM59 35h1v1h-1zM69 35h1v1h-1zM72 35h1v1h-1zM82 35h1v1h-1zM85 35h1v1h-1zM91 35h1v1h-1zM49 34h1v1h-1zM54 34h1v1h-1zM65 34h2v1h-2zM69 34h2v1h-2zM72 34h1v1h-1zM81 34h1v1h-1zM90 34h1v1h-1zM92 34h1v1h-1zM56 33h1v1h-1zM62 33h1v1h-1zM68 33h1v1h-1zM71 33h3v1h-3zM75 33h1v1h-1zM84 33h1v1h-1zM55 32h1v1h-1zM64 32h1v1h-1zM68 32h3v1h-3zM73 32h1v1h-1zM75 32h1v1h-1zM80 32h1v1h-1zM83 32h1v1h-1zM93 32h1v1h-1zM43 31h1v1h-1zM53 31h1v1h-1zM70 31h4v1h-4zM79 31h1v1h-1zM82 31h1v1h-1zM88 31h1v1h-1zM91 31h1v1h-1zM93 31h1v1h-1zM62 30h1v1h-1zM65 30h1v1h-1zM69 30h1v1h-1zM71 30h2v1h-2zM80 30h1v1h-1zM82 30h1v1h-1zM89 30h2v1h-2zM93 30h1v1h-1zM47 29h1v1h-1zM50 29h2v1h-2zM53 29h1v1h-1zM61 29h1v1h-1zM63 29h2v1h-2zM66 29h3v1h-3zM71 29h2v1h-2zM74 29h2v1h-2zM79 29h1v1h-1zM82 29h3v1h-3zM86 29h1v1h-1zM88 29h2v1h-2zM93 29h3v1h-3zM47 28h1v1h-1zM56 28h1v1h-1zM59 28h1v1h-1zM65 28h3v1h-3zM72 28h1v1h-1zM84 28h1v1h-1zM91 28h1v1h-1zM47 27h1v1h-1zM57 27h1v1h-1zM64 27h2v1h-2zM67 27h3v1h-3zM72 27h1v1h-1zM77 27h1v1h-1zM79 27h3v1h-3zM83 27h1v1h-1zM86 27h1v1h-1zM92 27h1v1h-1zM51 26h1v1h-1zM55 26h1v1h-1zM64 26h8v1h-8zM74 26h2v1h-2zM77 26h1v1h-1zM79 26h1v1h-1zM81 26h2v1h-2zM84 26h1v1h-1zM88 26h1v1h-1zM91 26h1v1h-1zM47 25h1v1h-1zM65 25h3v1h-3zM72 25h1v1h-1zM79 25h1v1h-1zM83 25h1v1h-1zM88 25h1v1h-1zM93 25h1v1h-1zM69 24h1v1h-1zM72 24h1v1h-1zM76 24h1v1h-1zM78 24h1v1h-1zM80 24h1v1h-1zM89 24h1v1h-1zM51 23h1v1h-1zM55 23h1v1h-1zM59 23h1v1h-1zM62 23h1v1h-1zM65 23h2v1h-2zM69 23h2v1h-2zM72 23h1v1h-1zM74 23h1v1h-1zM76 23h1v1h-1zM80 23h1v1h-1zM82 23h1v1h-1zM84 23h1v1h-1zM89 23h1v1h-1zM94 23h1v1h-1zM74 22h2v1h-2zM77 22h1v1h-1zM79 22h1v1h-1zM85 22h1v1h-1zM89 22h1v1h-1zM69 21h1v1h-1zM71 21h1v1h-1zM89 21h1v1h-1zM93 21h1v1h-1zM98 21h1v1h-1zM55 20h1v1h-1zM65 20h1v1h-1zM71 20h1v1h-1zM74 20h1v1h-1zM80 20h1v1h-1zM86 20h1v1h-1zM91 20h1v1h-1zM93 20h1v1h-1zM58 19h1v1h-1zM71 19h3v1h-3zM76 19h2v1h-2zM83 19h1v1h-1zM86 19h1v1h-1zM90 19h1v1h-1zM92 19h1v1h-1zM96 19h1v1h-1zM66 18h1v1h-1zM68 18h1v1h-1zM71 18h2v1h-2zM74 18h1v1h-1zM89 18h1v1h-1zM92 18h1v1h-1zM97 18h1v1h-1zM64 17h1v1h-1zM71 17h2v1h-2zM78 17h1v1h-1zM84 17h1v1h-1zM88 17h1v1h-1zM45 16h1v1h-1zM54 16h1v1h-1zM63 16h3v1h-3zM67 16h1v1h-1zM69 16h1v1h-1zM72 16h1v1h-1zM74 16h2v1h-2zM83 16h3v1h-3zM87 16h5v1h-5zM93 16h2v1h-2zM66 15h2v1h-2zM69 15h1v1h-1zM71 15h1v1h-1zM73 15h1v1h-1zM79 15h2v1h-2zM82 15h1v1h-1zM84 15h2v1h-2zM88 15h3v1h-3zM92 15h1v1h-1zM95 15h1v1h-1zM65 14h1v1h-1zM68 14h3v1h-3zM72 14h1v1h-1zM82 14h2v1h-2zM86 14h2v1h-2zM89 14h1v1h-1zM93 14h2v1h-2zM96 14h1v1h-1zM26 13h2v1h-2zM63 13h1v1h-1zM78 13h1v1h-1zM82 13h1v1h-1zM91 13h1v1h-1zM24 12h1v1h-1zM60 12h1v1h-1zM69 12h1v1h-1zM75 12h1v1h-1zM78 12h1v1h-1zM83 12h2v1h-2zM89 12h1v1h-1zM91 12h1v1h-1zM95 12h1v1h-1zM98 12h1v1h-1zM66 11h1v1h-1zM77 11h1v1h-1zM82 11h1v1h-1zM84 11h1v1h-1zM89 11h1v1h-1zM95 11h1v1h-1zM72 10h1v1h-1zM81 10h3v1h-3zM89 10h1v1h-1zM91 10h1v1h-1zM93 10h1v1h-1zM58 9h1v1h-1zM68 9h2v1h-2zM74 9h4v1h-4zM80 9h1v1h-1zM82 9h1v1h-1zM84 9h3v1h-3zM88 9h1v1h-1zM90 9h3v1h-3zM95 9h1v1h-1zM21 8h1v1h-1zM23 8h2v1h-2zM64 8h1v1h-1zM68 8h2v1h-2zM79 8h1v1h-1zM82 8h2v1h-2zM89 8h1v1h-1zM93 8h2v1h-2zM98 8h1v1h-1zM67 7h1v1h-1zM70 7h3v1h-3zM78 7h2v1h-2zM82 7h1v1h-1zM86 7h1v1h-1zM88 7h1v1h-1zM53 6h1v1h-1zM72 6h1v1h-1zM79 6h1v1h-1zM83 6h2v1h-2zM89 6h1v1h-1zM91 6h1v1h-1zM55 5h1v1h-1zM69 5h1v1h-1zM72 5h1v1h-1zM75 5h1v1h-1zM77 5h2v1h-2zM82 5h1v1h-1zM84 5h2v1h-2zM88 5h2v1h-2zM91 5h1v1h-1zM26 4h1v1h-1zM71 4h1v1h-1zM75 4h1v1h-1zM78 4h1v1h-1zM84 4h1v1h-1zM93 4h1v1h-1zM0 3h1v1h-1zM28 3h1v1h-1zM36 3h2v1h-2zM69 3h1v1h-1zM82 3h2v1h-2zM89 3h1v1h-1zM93 3h2v1h-2zM15 1h2v1h-2zM21 1h2v1h-2zM23 0h1v1h-1zM26 0h1v1h-1zM66 0h2v1h-2zM77 0h1v1h-1zM79 0h1v1h-1zM84 0h1v1h-1zM90 0h1v1h-1z"/>
<path fill="#ef4655" d="M29 98h1v1h-1zM35 98h1v1h-1zM11 97h1v1h-1zM30 96h1v1h-1zM10 95h1v1h-1zM37 95h1v1h-1zM2 94h1v1h-1zM10 93h1v1h-1zM37 93h1v1h-1zM11 92h1v1h-1zM37 92h1v1h-1zM9 91h1v1h-1zM29 91h1v1h-1zM32 91h1v1h-1zM34 91h1v1h-1zM38 91h1v1h-1zM5 90h1v1h-1zM29 90h1v1h-1zM3 89h1v1h-1zM5 89h1v1h-1zM29 89h1v1h-1zM38 89h1v1h-1zM26 88h1v1h-1zM30 88h1v1h-1zM5 87h1v1h-1zM16 87h1v1h-1zM33 87h1v1h-1zM38 87h1v1h-1zM6 86h1v1h-1zM27 86h1v1h-1zM4 85h1v1h-1zM7 85h1v1h-1zM29 85h1v1h-1zM37 85h1v1h-1zM16 84h1v1h-1zM37 84h1v1h-1zM21 83h1v1h-1zM32 83h1v1h-1zM34 83h1v1h-1zM22 82h1v1h-1zM32 82h1v1h-1zM41 82h1v1h-1zM33 81h1v1h-1zM36 81h1v1h-1zM39 81h1v1h-1zM33 80h1v1h-1zM34 79h1v1h-1zM39 79h1v1h-1zM26 78h1v1h-1zM37 78h1v1h-1zM94 78h1v1h-1zM12 77h1v1h-1zM23 77h1v1h-1zM36 77h1v1h-1zM27 76h1v1h-1zM30 76h1v1h-1zM38 76h1v1h-1zM16 75h1v1h-1zM25 75h1v1h-1zM82 75h2v1h-2zM94 75h1v1h-1zM21 74h1v1h-1zM23 74h1v1h-1zM82 74h1v1h-1zM93 74h1v1h-1zM15 73h2v1h-2zM21 73h1v1h-1zM23 73h1v1h-1zM27 73h1v1h-1zM96 73h1v1h-1zM10 72h1v1h-1zM13 72h1v1h-1zM17 72h2v1h-2zM29 72h1v1h-1zM95 72h1v1h-1zM12 71h1v1h-1zM18 71h1v1h-1zM21 71h1v1h-1zM25 71h1v1h-1zM30 71h1v1h-1zM36 71h1v1h-1zM50 71h1v1h-1zM83 71h1v1h-1zM95 71h1v1h-1zM16 70h1v1h-1zM20 70h1v1h-1zM36 70h1v1h-1zM38 70h1v1h-1zM8 69h1v1h-1zM14 69h1v1h-1zM26 69h1v1h-1zM15 68h2v1h-2zM18 68h1v1h-1zM22 68h1v1h-1zM28 68h1v1h-1zM36 68h1v1h-1zM11 67h1v1h-1zM13 67h1v1h-1zM2 66h1v1h-1zM18 66h1v1h-1zM26 66h1v1h-1zM13 65h1v1h-1zM15 65h1v1h-1zM18 65h1v1h-1zM23 65h1v1h-1zM39 65h1v1h-1zM4 64h1v1h-1zM6 64h1v1h-1zM8 64h2v1h-2zM15 64h1v1h-1zM37 64h2v1h-2zM7 63h1v1h-1zM16 63h1v1h-1zM24 63h1v1h-1zM28 63h1v1h-1zM2 62h1v1h-1zM16 62h2v1h-2zM19 62h1v1h-1zM1 61h1v1h-1zM14 61h1v1h-1zM22 61h1v1h-1zM26 61h1v1h-1zM35 61h1v1h-1zM12 60h1v1h-1zM17 60h1v1h-1zM19 60h1v1h-1zM27 60h1v1h-1zM10 59h1v1h-1zM16 59h2v1h-2zM23 59h1v1h-1zM33 59h1v1h-1zM37 59h1v1h-1zM14 57h1v1h-1zM62 56h1v1h-1zM68 56h1v1h-1zM76 56h1v1h-1zM81 56h1v1h-1zM92 56h1v1h-1zM45 55h2v1h-2zM49 55h1v1h-1zM51 55h1v1h-1zM57 55h1v1h-1zM62 55h1v1h-1zM64 55h1v1h-1zM78 55h1v1h-1zM96 55h1v1h-1zM45 54h1v1h-1zM69 54h1v1h-1zM44 53h1v1h-1zM55 53h1v1h-1zM62 53h1v1h-1zM68 53h1v1h-1zM76 53h1v1h-1zM83 53h1v1h-1zM86 53h1v1h-1zM89 53h1v1h-1zM63 52h1v1h-1zM84 52h1v1h-1zM42 51h1v1h-1zM80 51h1v1h-1zM43 50h1v1h-1zM86 50h1v1h-1zM89 50h1v1h-1zM56 49h1v1h-1zM58 49h1v1h-1zM60 49h1v1h-1zM71 49h1v1h-1zM73 49h1v1h-1zM80 49h1v1h-1zM86 49h1v1h-1zM45 48h1v1h-1zM62 48h1v1h-1zM72 48h1v1h-1zM77 48h1v1h-1zM83 48h1v1h-1zM46 47h1v1h-1zM50 47h1v1h-1zM56 47h1v1h-1zM58 47h1v1h-1zM63 47h1v1h-1zM70 47h1v1h-1zM82 47h1v1h-1zM86 47h1v1h-1zM92 47h1v1h-1zM69 46h1v1h-1zM73 46h1v1h-1zM79 46h1v1h-1zM84 46h1v1h-1zM93 46h1v1h-1zM50 45h2v1h-2zM63 45h1v1h-1zM74 45h1v1h-1zM76 45h2v1h-2zM44 44h1v1h-1zM47 44h3v1h-3zM63 44h1v1h-1zM76 44h1v1h-1zM79 44h1v1h-1zM83 44h1v1h-1zM48 43h1v1h-1zM74 43h1v1h-1zM97 43h1v1h-1zM49 42h1v1h-1zM51 42h1v1h-1zM58 42h2v1h-2zM61 42h1v1h-1zM68 42h1v1h-1zM75 42h1v1h-1zM93 42h1v1h-1zM98 42h1v1h-1zM50 41h1v1h-1zM59 41h3v1h-3zM45 40h2v1h-2zM61 40h1v1h-1zM77 40h1v1h-1zM81 40h1v1h-1zM96 40h1v1h-1zM45 39h1v1h-1zM52 39h1v1h-1zM56 39h1v1h-1zM77 39h1v1h-1zM82 39h1v1h-1zM53 38h1v1h-1zM81 38h1v1h-1zM51 37h1v1h-1zM63 37h1v1h-1zM68 37h1v1h-1zM71 37h1v1h-1zM80 37h1v1h-1zM88 37h1v1h-1zM94 37h1v1h-1zM46 36h1v1h-1zM48 36h1v1h-1zM66 36h2v1h-2zM70 36h1v1h-1zM72 36h1v1h-1zM74 36h1v1h-1zM84 36h1v1h-1zM88 36h1v1h-1zM43 35h1v1h-1zM68 35h1v1h-1zM71 35h1v1h-1zM73 35h1v1h-1zM75 35h2v1h-2zM78 35h1v1h-1zM90 35h1v1h-1zM93 35h1v1h-1zM55 34h1v1h-1zM67 34h1v1h-1zM73 34h2v1h-2zM83 34h1v1h-1zM26 33h1v1h-1zM48 33h1v1h-1zM53 33h1v1h-1zM58 33h1v1h-1zM61 33h1v1h-1zM70 33h1v1h-1zM77 33h1v1h-1zM81 33h1v1h-1zM83 33h1v1h-1zM92 33h1v1h-1zM42 32h1v1h-1zM48 32h1v1h-1zM51 32h2v1h-2zM60 32h1v1h-1zM92 32h1v1h-1zM42 31h1v1h-1zM65 31h1v1h-1zM78 31h1v1h-1zM84 31h1v1h-1zM47 30h1v1h-1zM52 30h1v1h-1zM63 30h1v1h-1zM73 30h2v1h-2zM79 30h1v1h-1zM83 30h1v1h-1zM96 30h1v1h-1zM42 29h1v1h-1zM49 29h1v1h-1zM55 29h1v1h-1zM92 29h1v1h-1zM49 28h2v1h-2zM61 28h1v1h-1zM74 28h1v1h-1zM83 28h1v1h-1zM89 28h1v1h-1zM43 27h2v1h-2zM54 27h1v1h-1zM61 27h2v1h-2zM88 27h1v1h-1zM50 26h1v1h-1zM62 26h1v1h-1zM86 26h1v1h-1zM90 26h1v1h-1zM92 26h1v1h-1zM52 25h1v1h-1zM54 25h1v1h-1zM75 25h1v1h-1zM86 25h1v1h-1zM91 25h1v1h-1zM50 24h2v1h-2zM53 24h1v1h-1zM57 24h1v1h-1zM62 24h1v1h-1zM65 24h1v1h-1zM83 24h1v1h-1zM93 24h1v1h-1zM46 23h1v1h-1zM49 23h1v1h-1zM63 23h1v1h-1zM83 23h1v1h-1zM92 23h1v1h-1zM98 23h1v1h-1zM56 22h1v1h-1zM66 22h1v1h-1zM69 22h1v1h-1zM73 22h1v1h-1zM42 21h1v1h-1zM51 21h1v1h-1zM68 21h1v1h-1zM74 21h1v1h-1zM82 21h1v1h-1zM88 21h1v1h-1zM58 20h1v1h-1zM66 20h1v1h-1zM88 20h1v1h-1zM92 20h1v1h-1zM94 20h1v1h-1zM48 19h1v1h-1zM53 19h1v1h-1zM59 19h1v1h-1zM75 19h1v1h-1zM81 19h1v1h-1zM43 18h1v1h-1zM45 18h1v1h-1zM48 18h1v1h-1zM55 18h1v1h-1zM63 18h1v1h-1zM84 18h2v1h-2zM90 18h1v1h-1zM42 17h1v1h-1zM45 17h1v1h-1zM55 17h1v1h-1zM65 17h1v1h-1zM70 17h1v1h-1zM75 17h1v1h-1zM95 17h1v1h-1zM49 16h1v1h-1zM52 16h1v1h-1zM95 16h1v1h-1zM98 16h1v1h-1zM27 15h1v1h-1zM44 15h1v1h-1zM48 15h1v1h-1zM68 15h1v1h-1zM96 15h1v1h-1zM49 14h1v1h-1zM54 14h1v1h-1zM71 14h1v1h-1zM73 14h1v1h-1zM51 13h1v1h-1zM62 13h1v1h-1zM79 13h1v1h-1zM70 12h1v1h-1zM87 12h1v1h-1zM90 12h1v1h-1zM92 12h1v1h-1zM49 11h1v1h-1zM70 11h1v1h-1zM85 11h1v1h-1zM88 11h1v1h-1zM56 10h1v1h-1zM62 10h1v1h-1zM78 10h1v1h-1zM90 10h1v1h-1zM47 9h2v1h-2zM65 9h1v1h-1zM67 9h1v1h-1zM72 9h1v1h-1zM96 9h1v1h-1zM58 8h1v1h-1zM72 8h2v1h-2zM75 8h1v1h-1zM78 8h1v1h-1zM88 8h1v1h-1zM51 7h1v1h-1zM80 7h1v1h-1zM84 7h1v1h-1zM98 7h1v1h-1zM24 6h1v1h-1zM47 6h1v1h-1zM50 6h2v1h-2zM62 6h1v1h-1zM73 6h1v1h-1zM94 6h1v1h-1zM48 5h1v1h-1zM64 5h1v1h-1zM87 5h1v1h-1zM95 5h1v1h-1zM23 4h1v1h-1zM27 4h1v1h-1zM49 4h1v1h-1zM54 4h1v1h-1zM61 4h1v1h-1zM89 4h1v1h-1zM91 4h1v1h-1zM95 4h1v1h-1zM97 4h1v1h-1zM27 3h1v1h-1zM49 3h1v1h-1zM56 3h1v1h-1zM72 3h1v1h-1zM84 3h1v1h-1zM88 3h1v1h-1zM91 3h2v1h-2zM25 2h1v1h-1zM59 2h1v1h-1zM65 2h1v1h-1zM74 2h1v1h-1zM91 2h1v1h-1zM94 2h1v1h-1zM19 1h1v1h-1zM68 1h1v1h-1zM74 1h1v1h-1zM20 0h1v1h-1zM80 0h1v1h-1zM82 0h1v1h-1z"/>
<path fill="#f9bcc7" d="M32 98h1v1h-1zM3 97h1v1h-1zM9 97h2v1h-2zM37 97h1v1h-1zM13 96h1v1h-1zM29 96h1v1h-1zM31 96h1v1h-1zM30 95h2v1h-2zM39 95h1v1h-1zM1 94h1v1h-1zM13 94h1v1h-1zM32 94h1v1h-1zM39 94h1v1h-1zM3 93h1v1h-1zM29 93h3v1h-3zM20 92h1v1h-1zM34 92h2v1h-2zM41 92h1v1h-1zM1 91h1v1h-1zM11 91h2v1h-2zM37 91h1v1h-1zM39 91h1v1h-1zM18 90h1v1h-1zM35 90h1v1h-1zM39 90h1v1h-1zM18 89h1v1h-1zM26 89h1v1h-1zM31 89h1v1h-1zM2 88h1v1h-1zM14 88h1v1h-1zM23 88h1v1h-1zM28 88h1v1h-1zM36 88h1v1h-1zM1 87h1v1h-1zM22 87h3v1h-3zM26 87h1v1h-1zM28 87h1v1h-1zM2 86h1v1h-1zM7 86h1v1h-1zM18 86h1v1h-1zM32 86h1v1h-1zM36 86h1v1h-1zM39 86h1v1h-1zM41 86h1v1h-1zM2 85h1v1h-1zM39 85h1v1h-1zM10 84h1v1h-1zM25 84h1v1h-1zM27 84h2v1h-2zM32 84h1v1h-1zM35 84h1v1h-1zM25 83h1v1h-1zM27 83h1v1h-1zM94 83h1v1h-1zM24 82h1v1h-1zM31 82h1v1h-1zM36 82h1v1h-1zM92 82h1v1h-1zM25 81h1v1h-1zM27 81h1v1h-1zM31 81h2v1h-2zM94 81h1v1h-1zM12 80h1v1h-1zM23 80h1v1h-1zM27 80h2v1h-2zM31 80h1v1h-1zM36 80h1v1h-1zM49 80h1v1h-1zM94 80h1v1h-1zM98 80h1v1h-1zM11 79h1v1h-1zM6 78h1v1h-1zM12 78h1v1h-1zM23 78h1v1h-1zM30 78h3v1h-3zM41 78h1v1h-1zM44 78h1v1h-1zM53 78h1v1h-1zM71 78h1v1h-1zM73 78h1v1h-1zM78 78h1v1h-1zM82 78h1v1h-1zM96 78h1v1h-1zM30 77h1v1h-1zM33 77h1v1h-1zM37 77h1v1h-1zM39 77h1v1h-1zM50 77h1v1h-1zM73 77h1v1h-1zM79 77h1v1h-1zM82 77h1v1h-1zM84 77h1v1h-1zM89 77h1v1h-1zM92 77h1v1h-1zM95 77h4v1h-4zM10 76h1v1h-1zM13 76h1v1h-1zM28 76h1v1h-1zM33 76h3v1h-3zM48 76h2v1h-2zM55 76h1v1h-1zM65 76h1v1h-1zM71 76h2v1h-2zM79 76h1v1h-1zM83 76h1v1h-1zM85 76h2v1h-2zM88 76h4v1h-4zM94 76h1v1h-1zM97 76h1v1h-1zM6 75h1v1h-1zM10 75h1v1h-1zM12 75h1v1h-1zM14 75h1v1h-1zM28 75h1v1h-1zM30 75h1v1h-1zM32 75h1v1h-1zM41 75h1v1h-1zM47 75h1v1h-1zM53 75h1v1h-1zM57 75h1v1h-1zM62 75h1v1h-1zM67 75h1v1h-1zM86 75h2v1h-2zM89 75h1v1h-1zM91 75h1v1h-1zM96 75h2v1h-2zM7 74h1v1h-1zM11 74h1v1h-1zM15 74h1v1h-1zM18 74h1v1h-1zM28 74h1v1h-1zM35 74h1v1h-1zM37 74h1v1h-1zM49 74h1v1h-1zM52 74h2v1h-2zM63 74h1v1h-1zM65 74h1v1h-1zM67 74h1v1h-1zM76 74h1v1h-1zM78 74h1v1h-1zM81 74h1v1h-1zM84 74h2v1h-2zM89 74h1v1h-1zM97 74h1v1h-1zM11 73h1v1h-1zM14 73h1v1h-1zM17 73h2v1h-2zM30 73h1v1h-1zM33 73h1v1h-1zM41 73h1v1h-1zM57 73h1v1h-1zM60 73h1v1h-1zM63 73h1v1h-1zM69 73h1v1h-1zM72 73h1v1h-1zM80 73h1v1h-1zM82 73h1v1h-1zM88 73h1v1h-1zM90 73h6v1h-6zM98 73h1v1h-1zM6 72h1v1h-1zM8 72h2v1h-2zM38 72h1v1h-1zM48 72h1v1h-1zM55 72h1v1h-1zM83 72h1v1h-1zM89 72h2v1h-2zM92 72h1v1h-1zM97 72h1v1h-1zM6 71h1v1h-1zM8 71h1v1h-1zM13 71h2v1h-2zM17 71h1v1h-1zM19 71h1v1h-1zM32 71h1v1h-1zM34 71h1v1h-1zM58 71h1v1h-1zM67 71h1v1h-1zM73 71h1v1h-1zM82 71h1v1h-1zM84 71h2v1h-2zM87 71h1v1h-1zM89 71h1v1h-1zM96 71h2v1h-2zM10 70h2v1h-2zM18 70h1v1h-1zM21 70h1v1h-1zM23 70h1v1h-1zM2 69h2v1h-2zM13 69h1v1h-1zM20 69h1v1h-1zM0 68h1v1h-1zM2 68h2v1h-2zM13 68h2v1h-2zM21 68h1v1h-1zM40 68h1v1h-1zM0 67h4v1h-4zM16 67h2v1h-2zM20 67h1v1h-1zM4 66h1v1h-1zM14 66h1v1h-1zM23 66h1v1h-1zM25 66h1v1h-1zM27 66h2v1h-2zM39 66h1v1h-1zM7 65h1v1h-1zM22 65h1v1h-1zM0 64h1v1h-1zM3 64h1v1h-1zM10 64h1v1h-1zM12 64h1v1h-1zM18 64h1v1h-1zM22 64h1v1h-1zM28 64h1v1h-1zM82 64h1v1h-1zM95 64h1v1h-1zM5 63h1v1h-1zM8 63h2v1h-2zM19 63h2v1h-2zM22 63h2v1h-2zM26 63h1v1h-1zM38 63h1v1h-1zM40 63h1v1h-1zM79 63h1v1h-1zM94 63h1v1h-1zM3 62h1v1h-1zM8 62h1v1h-1zM10 62h1v1h-1zM18 62h1v1h-1zM24 62h1v1h-1zM32 62h1v1h-1zM58 62h1v1h-1zM7 61h1v1h-1zM21 61h1v1h-1zM28 61h1v1h-1zM58 61h1v1h-1zM95 61h1v1h-1zM7 60h1v1h-1zM14 60h1v1h-1zM16 60h1v1h-1zM20 60h1v1h-1zM23 60h1v1h-1zM32 60h1v1h-1zM7 59h1v1h-1zM9 59h1v1h-1zM12 59h2v1h-2zM25 59h1v1h-1zM35 59h1v1h-1zM98 59h1v1h-1zM30 58h1v1h-1zM7 57h1v1h-1zM16 57h1v1h-1zM20 57h1v1h-1zM39 57h1v1h-1zM67 57h1v1h-1zM69 57h1v1h-1zM82 57h2v1h-2zM85 57h1v1h-1zM90 57h2v1h-2zM93 57h1v1h-1zM95 57h1v1h-1zM50 56h1v1h-1zM54 56h2v1h-2zM57 56h1v1h-1zM64 56h1v1h-1zM73 56h1v1h-1zM82 56h1v1h-1zM91 56h1v1h-1zM52 55h3v1h-3zM66 55h1v1h-1zM69 55h1v1h-1zM74 55h1v1h-1zM85 55h1v1h-1zM89 55h1v1h-1zM94 55h2v1h-2zM20 54h1v1h-1zM52 54h2v1h-2zM57 54h2v1h-2zM60 54h2v1h-2zM70 54h1v1h-1zM79 54h1v1h-1zM94 54h1v1h-1zM53 53h2v1h-2zM59 53h1v1h-1zM67 53h1v1h-1zM72 53h1v1h-1zM74 53h1v1h-1zM87 53h2v1h-2zM49 52h1v1h-1zM52 52h1v1h-1zM55 52h2v1h-2zM62 52h1v1h-1zM66 52h2v1h-2zM69 52h1v1h-1zM71 52h1v1h-1zM74 52h1v1h-1zM80 52h2v1h-2zM91 52h2v1h-2zM23 51h1v1h-1zM76 51h3v1h-3zM81 51h1v1h-1zM84 51h1v1h-1zM90 51h1v1h-1zM22 50h1v1h-1zM26 50h1v1h-1zM64 50h1v1h-1zM66 50h1v1h-1zM73 50h1v1h-1zM81 50h2v1h-2zM84 50h1v1h-1zM90 50h1v1h-1zM94 50h1v1h-1zM18 49h1v1h-1zM22 49h1v1h-1zM24 49h1v1h-1zM66 49h1v1h-1zM78 49h1v1h-1zM87 49h2v1h-2zM90 49h1v1h-1zM95 49h1v1h-1zM21 48h1v1h-1zM44 48h1v1h-1zM56 48h1v1h-1zM61 48h1v1h-1zM66 48h1v1h-1zM78 48h1v1h-1zM82 48h1v1h-1zM90 48h2v1h-2zM73 47h1v1h-1zM76 47h4v1h-4zM83 47h1v1h-1zM88 47h1v1h-1zM91 47h1v1h-1zM97 47h1v1h-1zM24 46h1v1h-1zM26 46h1v1h-1zM42 46h1v1h-1zM64 46h2v1h-2zM68 46h1v1h-1zM74 46h1v1h-1zM76 46h1v1h-1zM85 46h1v1h-1zM23 45h1v1h-1zM42 45h1v1h-1zM45 45h2v1h-2zM57 45h1v1h-1zM60 45h1v1h-1zM64 45h2v1h-2zM72 45h1v1h-1zM75 45h1v1h-1zM79 45h1v1h-1zM83 45h1v1h-1zM87 45h1v1h-1zM91 45h1v1h-1zM93 45h2v1h-2zM23 44h1v1h-1zM42 44h1v1h-1zM61 44h1v1h-1zM66 44h1v1h-1zM69 44h1v1h-1zM85 44h1v1h-1zM87 44h1v1h-1zM93 44h1v1h-1zM98 44h1v1h-1zM22 43h1v1h-1zM26 43h1v1h-1zM42 43h1v1h-1zM64 43h1v1h-1zM66 43h2v1h-2zM70 43h1v1h-1zM73 43h1v1h-1zM76 43h1v1h-1zM82 43h1v1h-1zM84 43h2v1h-2zM42 42h1v1h-1zM46 42h1v1h-1zM66 42h1v1h-1zM72 42h3v1h-3zM82 42h1v1h-1zM85 42h1v1h-1zM91 42h1v1h-1zM97 42h1v1h-1zM16 41h1v1h-1zM23 41h1v1h-1zM25 41h1v1h-1zM42 41h1v1h-1zM46 41h1v1h-1zM53 41h1v1h-1zM65 41h1v1h-1zM70 41h1v1h-1zM74 41h1v1h-1zM76 41h1v1h-1zM80 41h1v1h-1zM84 41h1v1h-1zM86 41h1v1h-1zM89 41h2v1h-2zM95 41h1v1h-1zM97 41h1v1h-1zM27 40h1v1h-1zM68 40h1v1h-1zM75 40h1v1h-1zM80 40h1v1h-1zM85 40h1v1h-1zM91 40h1v1h-1zM93 40h1v1h-1zM95 40h1v1h-1zM98 40h1v1h-1zM46 39h1v1h-1zM65 39h4v1h-4zM78 39h1v1h-1zM80 39h1v1h-1zM93 39h1v1h-1zM22 38h1v1h-1zM45 38h1v1h-1zM67 38h2v1h-2zM75 38h1v1h-1zM77 38h1v1h-1zM85 38h1v1h-1zM89 38h1v1h-1zM92 38h1v1h-1zM94 38h1v1h-1zM43 37h2v1h-2zM50 37h1v1h-1zM72 37h1v1h-1zM76 37h1v1h-1zM78 37h1v1h-1zM81 37h1v1h-1zM92 37h1v1h-1zM26 36h1v1h-1zM75 36h3v1h-3zM81 36h1v1h-1zM90 36h1v1h-1zM98 36h1v1h-1zM24 35h1v1h-1zM44 35h1v1h-1zM81 35h1v1h-1zM97 35h1v1h-1zM43 34h1v1h-1zM48 34h1v1h-1zM58 34h4v1h-4zM80 34h1v1h-1zM84 34h2v1h-2zM87 34h2v1h-2zM91 34h1v1h-1zM22 33h1v1h-1zM49 33h1v1h-1zM51 33h1v1h-1zM54 33h1v1h-1zM57 33h1v1h-1zM59 33h2v1h-2zM86 33h3v1h-3zM90 33h1v1h-1zM94 33h1v1h-1zM96 33h1v1h-1zM26 32h1v1h-1zM43 32h2v1h-2zM46 32h1v1h-1zM49 32h2v1h-2zM58 32h1v1h-1zM81 32h1v1h-1zM90 32h1v1h-1zM23 31h1v1h-1zM45 31h1v1h-1zM50 31h1v1h-1zM55 31h1v1h-1zM60 31h1v1h-1zM74 31h1v1h-1zM81 31h1v1h-1zM90 31h1v1h-1zM92 31h1v1h-1zM94 31h2v1h-2zM97 31h1v1h-1zM26 30h2v1h-2zM42 30h1v1h-1zM44 30h1v1h-1zM59 30h1v1h-1zM97 30h1v1h-1zM25 29h1v1h-1zM41 29h1v1h-1zM56 29h1v1h-1zM43 28h2v1h-2zM63 28h1v1h-1zM87 28h1v1h-1zM90 28h1v1h-1zM96 28h1v1h-1zM46 27h1v1h-1zM50 27h1v1h-1zM52 27h1v1h-1zM26 26h1v1h-1zM44 26h1v1h-1zM56 26h2v1h-2zM61 26h1v1h-1zM95 26h1v1h-1zM48 25h1v1h-1zM51 25h1v1h-1zM59 25h1v1h-1zM70 25h1v1h-1zM81 25h1v1h-1zM90 25h1v1h-1zM92 25h1v1h-1zM43 24h1v1h-1zM45 24h5v1h-5zM52 24h1v1h-1zM54 24h1v1h-1zM56 24h1v1h-1zM59 24h1v1h-1zM67 24h1v1h-1zM81 24h1v1h-1zM91 24h1v1h-1zM94 24h1v1h-1zM24 23h1v1h-1zM43 23h1v1h-1zM53 23h1v1h-1zM56 23h1v1h-1zM97 23h1v1h-1zM43 22h1v1h-1zM45 22h3v1h-3zM49 22h1v1h-1zM54 22h1v1h-1zM62 22h1v1h-1zM64 22h1v1h-1zM67 22h2v1h-2zM72 22h1v1h-1zM81 22h1v1h-1zM86 22h2v1h-2zM90 22h1v1h-1zM94 22h1v1h-1zM54 21h1v1h-1zM56 21h1v1h-1zM59 21h1v1h-1zM61 21h1v1h-1zM70 21h1v1h-1zM20 20h1v1h-1zM24 20h1v1h-1zM26 20h1v1h-1zM51 20h1v1h-1zM56 20h1v1h-1zM59 20h1v1h-1zM21 19h2v1h-2zM24 19h1v1h-1zM41 19h1v1h-1zM44 19h2v1h-2zM47 19h1v1h-1zM49 19h1v1h-1zM51 19h1v1h-1zM57 19h1v1h-1zM60 19h1v1h-1zM23 18h1v1h-1zM46 18h1v1h-1zM51 18h1v1h-1zM59 18h3v1h-3zM64 18h1v1h-1zM86 18h3v1h-3zM96 18h1v1h-1zM44 17h1v1h-1zM48 17h1v1h-1zM50 17h1v1h-1zM62 17h2v1h-2zM68 17h2v1h-2zM74 17h1v1h-1zM85 17h2v1h-2zM90 17h1v1h-1zM96 17h1v1h-1zM20 16h2v1h-2zM25 16h1v1h-1zM27 16h1v1h-1zM34 16h1v1h-1zM41 16h1v1h-1zM44 16h1v1h-1zM56 16h1v1h-1zM58 16h1v1h-1zM22 15h1v1h-1zM24 15h1v1h-1zM26 15h1v1h-1zM41 15h1v1h-1zM49 15h1v1h-1zM58 15h1v1h-1zM97 15h1v1h-1zM22 14h1v1h-1zM24 14h4v1h-4zM42 14h1v1h-1zM45 14h1v1h-1zM47 14h2v1h-2zM53 14h1v1h-1zM55 14h1v1h-1zM57 14h1v1h-1zM59 14h1v1h-1zM61 14h2v1h-2zM64 14h1v1h-1zM21 13h1v1h-1zM41 13h1v1h-1zM46 13h1v1h-1zM52 13h2v1h-2zM60 13h1v1h-1zM64 13h1v1h-1zM74 13h1v1h-1zM80 13h2v1h-2zM94 13h1v1h-1zM22 12h1v1h-1zM26 12h1v1h-1zM48 12h1v1h-1zM55 12h1v1h-1zM58 12h1v1h-1zM65 12h1v1h-1zM67 12h1v1h-1zM76 12h2v1h-2zM80 12h2v1h-2zM94 12h1v1h-1zM22 11h3v1h-3zM27 11h1v1h-1zM53 11h1v1h-1zM59 11h1v1h-1zM64 11h2v1h-2zM67 11h1v1h-1zM71 11h1v1h-1zM76 11h1v1h-1zM79 11h1v1h-1zM96 11h1v1h-1zM22 10h1v1h-1zM24 10h1v1h-1zM42 10h1v1h-1zM45 10h1v1h-1zM49 10h3v1h-3zM55 10h1v1h-1zM64 10h2v1h-2zM70 10h1v1h-1zM21 9h1v1h-1zM25 9h3v1h-3zM34 9h1v1h-1zM36 9h1v1h-1zM50 9h1v1h-1zM52 9h1v1h-1zM57 9h1v1h-1zM59 9h1v1h-1zM81 9h1v1h-1zM25 8h2v1h-2zM42 8h1v1h-1zM46 8h2v1h-2zM49 8h2v1h-2zM55 8h1v1h-1zM57 8h1v1h-1zM62 8h1v1h-1zM65 8h1v1h-1zM67 8h1v1h-1zM86 8h1v1h-1zM23 7h1v1h-1zM25 7h1v1h-1zM43 7h1v1h-1zM46 7h1v1h-1zM53 7h2v1h-2zM61 7h1v1h-1zM66 7h1v1h-1zM74 7h1v1h-1zM95 7h1v1h-1zM16 6h1v1h-1zM21 6h2v1h-2zM35 6h1v1h-1zM55 6h1v1h-1zM81 6h1v1h-1zM21 5h3v1h-3zM26 5h1v1h-1zM41 5h1v1h-1zM44 5h1v1h-1zM47 5h1v1h-1zM49 5h1v1h-1zM51 5h3v1h-3zM58 5h1v1h-1zM60 5h1v1h-1zM65 5h1v1h-1zM15 4h1v1h-1zM18 4h1v1h-1zM36 4h1v1h-1zM43 4h1v1h-1zM65 4h2v1h-2zM74 4h1v1h-1zM79 4h1v1h-1zM85 4h1v1h-1zM21 3h1v1h-1zM25 3h1v1h-1zM34 3h1v1h-1zM45 3h1v1h-1zM48 3h1v1h-1zM59 3h1v1h-1zM62 3h1v1h-1zM65 3h1v1h-1zM67 3h2v1h-2zM74 3h3v1h-3zM85 3h1v1h-1zM20 2h2v1h-2zM23 2h1v1h-1zM27 2h1v1h-1zM41 2h1v1h-1zM60 2h1v1h-1zM72 2h1v1h-1zM75 2h1v1h-1zM77 2h2v1h-2zM80 2h1v1h-1zM86 2h2v1h-2zM20 1h1v1h-1zM24 1h1v1h-1zM26 1h2v1h-2zM36 1h1v1h-1zM47 1h1v1h-1zM49 1h1v1h-1zM51 1h1v1h-1zM63 1h1v1h-1zM65 1h1v1h-1zM67 1h1v1h-1zM73 1h1v1h-1zM84 1h1v1h-1zM87 1h1v1h-1zM18 0h1v1h-1zM21 0h1v1h-1zM25 0h1v1h-1zM27 0h1v1h-1zM39 0h1v1h-1zM54 0h1v1h-1zM62 0h1v1h-1zM70 0h1v1h-1zM73 0h1v1h-1zM88 0h1v1h-1z"/>
<path fill="#a10b0b" d="M37 98h1v1h-1zM37 94h1v1h-1zM10 92h1v1h-1zM2 90h1v1h-1zM25 88h1v1h-1zM27 88h1v1h-1zM29 88h1v1h-1zM4 87h1v1h-1zM29 87h2v1h-2zM34 87h1v1h-1zM30 86h1v1h-1zM28 85h1v1h-1zM22 84h1v1h-1zM34 81h1v1h-1zM37 81h1v1h-1zM32 80h1v1h-1zM23 79h2v1h-2zM33 78h1v1h-1zM62 76h1v1h-1zM14 74h1v1h-1zM27 74h1v1h-1zM94 74h1v1h-1zM10 73h1v1h-1zM43 73h1v1h-1zM11 72h1v1h-1zM21 72h1v1h-1zM33 72h1v1h-1zM11 71h1v1h-1zM16 71h1v1h-1zM37 71h1v1h-1zM39 71h1v1h-1zM13 70h1v1h-1zM27 70h1v1h-1zM1 69h1v1h-1zM25 68h2v1h-2zM14 67h2v1h-2zM19 66h1v1h-1zM2 64h1v1h-1zM19 64h1v1h-1zM9 62h1v1h-1zM29 62h1v1h-1zM33 62h1v1h-1zM17 61h1v1h-1zM20 61h1v1h-1zM25 61h1v1h-1zM18 60h1v1h-1zM26 59h2v1h-2zM98 57h1v1h-1zM59 55h1v1h-1zM48 54h1v1h-1zM59 54h1v1h-1zM52 53h1v1h-1zM44 52h1v1h-1zM68 52h1v1h-1zM78 52h1v1h-1zM89 52h1v1h-1zM55 51h1v1h-1zM58 51h1v1h-1zM60 51h1v1h-1zM50 50h1v1h-1zM72 50h1v1h-1zM85 50h1v1h-1zM42 49h1v1h-1zM63 49h1v1h-1zM68 49h1v1h-1zM82 49h1v1h-1zM89 49h1v1h-1zM49 48h1v1h-1zM80 48h1v1h-1zM49 47h1v1h-1zM67 47h1v1h-1zM81 47h1v1h-1zM84 47h1v1h-1zM90 47h1v1h-1zM50 46h1v1h-1zM75 46h1v1h-1zM83 46h1v1h-1zM86 46h1v1h-1zM56 45h1v1h-1zM68 45h1v1h-1zM73 45h1v1h-1zM50 44h1v1h-1zM43 43h1v1h-1zM56 43h1v1h-1zM61 43h1v1h-1zM45 42h1v1h-1zM55 42h1v1h-1zM92 42h1v1h-1zM66 41h1v1h-1zM69 41h1v1h-1zM78 41h1v1h-1zM51 40h2v1h-2zM55 40h1v1h-1zM63 40h1v1h-1zM72 40h1v1h-1zM43 39h2v1h-2zM48 39h1v1h-1zM58 39h1v1h-1zM61 39h1v1h-1zM63 39h1v1h-1zM51 38h1v1h-1zM55 38h1v1h-1zM66 38h1v1h-1zM56 37h1v1h-1zM66 37h1v1h-1zM73 37h1v1h-1zM83 37h1v1h-1zM42 36h1v1h-1zM54 36h1v1h-1zM80 36h1v1h-1zM93 36h1v1h-1zM45 35h1v1h-1zM48 35h3v1h-3zM56 35h1v1h-1zM66 35h1v1h-1zM78 34h2v1h-2zM82 34h1v1h-1zM47 33h1v1h-1zM78 33h1v1h-1zM57 32h1v1h-1zM77 32h1v1h-1zM85 32h1v1h-1zM98 32h1v1h-1zM52 31h1v1h-1zM56 31h1v1h-1zM58 31h1v1h-1zM64 31h1v1h-1zM75 31h1v1h-1zM43 30h1v1h-1zM55 30h1v1h-1zM58 30h1v1h-1zM66 30h1v1h-1zM78 30h1v1h-1zM84 30h1v1h-1zM86 30h1v1h-1zM58 29h1v1h-1zM62 29h1v1h-1zM76 29h1v1h-1zM85 29h1v1h-1zM90 29h1v1h-1zM54 28h1v1h-1zM57 28h1v1h-1zM64 28h1v1h-1zM71 28h1v1h-1zM79 28h1v1h-1zM93 28h1v1h-1zM48 27h1v1h-1zM51 27h1v1h-1zM55 27h1v1h-1zM60 27h1v1h-1zM66 27h1v1h-1zM70 27h1v1h-1zM75 27h1v1h-1zM89 27h1v1h-1zM95 27h1v1h-1zM97 27h1v1h-1zM46 26h1v1h-1zM52 26h1v1h-1zM59 26h2v1h-2zM80 26h1v1h-1zM83 26h1v1h-1zM60 25h1v1h-1zM58 24h1v1h-1zM87 24h1v1h-1zM52 23h1v1h-1zM58 23h1v1h-1zM78 23h1v1h-1zM86 23h2v1h-2zM48 22h1v1h-1zM52 22h1v1h-1zM80 22h1v1h-1zM46 21h1v1h-1zM62 21h1v1h-1zM72 21h1v1h-1zM80 21h1v1h-1zM83 21h1v1h-1zM48 20h3v1h-3zM64 20h1v1h-1zM67 20h2v1h-2zM72 20h1v1h-1zM82 20h1v1h-1zM89 20h1v1h-1zM52 19h1v1h-1zM64 19h1v1h-1zM67 19h1v1h-1zM69 19h2v1h-2zM82 19h1v1h-1zM69 18h1v1h-1zM76 18h1v1h-1zM79 18h1v1h-1zM82 18h1v1h-1zM82 17h1v1h-1zM43 16h1v1h-1zM68 16h1v1h-1zM79 16h2v1h-2zM96 16h2v1h-2zM76 15h1v1h-1zM87 15h1v1h-1zM91 15h1v1h-1zM41 14h1v1h-1zM81 14h1v1h-1zM92 14h1v1h-1zM56 13h1v1h-1zM68 13h1v1h-1zM88 13h2v1h-2zM96 13h1v1h-1zM98 13h1v1h-1zM79 12h1v1h-1zM88 12h1v1h-1zM93 12h1v1h-1zM45 11h1v1h-1zM69 11h1v1h-1zM73 11h1v1h-1zM78 11h1v1h-1zM83 11h1v1h-1zM44 10h1v1h-1zM53 10h1v1h-1zM59 10h1v1h-1zM69 10h1v1h-1zM71 10h1v1h-1zM73 10h1v1h-1zM85 10h1v1h-1zM95 10h1v1h-1zM23 9h1v1h-1zM64 9h1v1h-1zM71 9h1v1h-1zM83 9h1v1h-1zM16 8h1v1h-1zM70 8h1v1h-1zM74 8h1v1h-1zM84 8h1v1h-1zM92 8h1v1h-1zM63 7h1v1h-1zM73 7h1v1h-1zM75 7h1v1h-1zM85 7h1v1h-1zM93 7h1v1h-1zM64 6h1v1h-1zM67 6h1v1h-1zM71 6h1v1h-1zM88 6h1v1h-1zM62 5h1v1h-1zM73 5h2v1h-2zM94 5h1v1h-1zM98 5h1v1h-1zM24 4h1v1h-1zM41 4h1v1h-1zM58 4h1v1h-1zM62 4h1v1h-1zM69 4h1v1h-1zM80 4h1v1h-1zM86 3h1v1h-1zM79 2h1v1h-1zM98 2h1v1h-1zM17 1h2v1h-2zM80 1h1v1h-1zM24 0h1v1h-1zM95 0h1v1h-1z"/>
<path fill="#f58c9c" d="M4 97h1v1h-1zM8 97h1v1h-1zM12 97h1v1h-1zM33 97h1v1h-1zM36 97h1v1h-1zM11 96h1v1h-1zM36 96h3v1h-3zM33 95h1v1h-1zM36 95h1v1h-1zM11 94h2v1h-2zM30 94h1v1h-1zM34 94h1v1h-1zM7 93h1v1h-1zM35 93h1v1h-1zM39 93h1v1h-1zM5 92h1v1h-1zM12 92h1v1h-1zM23 92h1v1h-1zM30 92h2v1h-2zM36 92h1v1h-1zM2 91h1v1h-1zM1 90h1v1h-1zM26 90h1v1h-1zM31 90h1v1h-1zM36 90h1v1h-1zM28 89h1v1h-1zM32 89h1v1h-1zM34 89h3v1h-3zM39 89h1v1h-1zM0 88h1v1h-1zM3 88h1v1h-1zM5 88h1v1h-1zM22 88h1v1h-1zM37 88h2v1h-2zM31 87h1v1h-1zM4 86h1v1h-1zM25 86h1v1h-1zM28 86h1v1h-1zM31 86h1v1h-1zM35 86h1v1h-1zM37 86h1v1h-1zM5 85h1v1h-1zM22 85h1v1h-1zM27 85h1v1h-1zM30 85h1v1h-1zM32 85h1v1h-1zM23 84h1v1h-1zM29 84h1v1h-1zM39 84h1v1h-1zM29 83h1v1h-1zM35 83h1v1h-1zM83 83h1v1h-1zM11 82h1v1h-1zM38 82h1v1h-1zM57 82h1v1h-1zM22 81h1v1h-1zM30 81h1v1h-1zM22 80h1v1h-1zM30 80h1v1h-1zM37 80h1v1h-1zM10 79h1v1h-1zM27 79h2v1h-2zM31 79h2v1h-2zM35 79h2v1h-2zM94 79h1v1h-1zM29 78h1v1h-1zM83 78h1v1h-1zM87 78h1v1h-1zM89 78h1v1h-1zM95 78h1v1h-1zM13 77h1v1h-1zM27 77h1v1h-1zM31 77h1v1h-1zM94 77h1v1h-1zM17 76h1v1h-1zM60 76h1v1h-1zM82 76h1v1h-1zM87 76h1v1h-1zM92 76h1v1h-1zM95 76h2v1h-2zM11 75h1v1h-1zM18 75h1v1h-1zM27 75h1v1h-1zM35 75h1v1h-1zM45 75h1v1h-1zM84 75h2v1h-2zM95 75h1v1h-1zM12 74h1v1h-1zM31 74h1v1h-1zM36 74h1v1h-1zM75 74h1v1h-1zM88 74h1v1h-1zM95 74h2v1h-2zM12 73h1v1h-1zM32 73h1v1h-1zM39 73h1v1h-1zM83 73h1v1h-1zM20 72h1v1h-1zM36 72h1v1h-1zM52 72h1v1h-1zM62 72h1v1h-1zM66 72h1v1h-1zM78 72h1v1h-1zM82 72h1v1h-1zM84 72h1v1h-1zM86 72h1v1h-1zM93 72h2v1h-2zM98 72h1v1h-1zM22 71h1v1h-1zM31 71h1v1h-1zM38 71h1v1h-1zM68 71h1v1h-1zM98 71h1v1h-1zM12 70h1v1h-1zM14 70h1v1h-1zM22 70h1v1h-1zM29 70h5v1h-5zM37 70h1v1h-1zM7 69h1v1h-1zM9 69h1v1h-1zM15 69h2v1h-2zM22 69h1v1h-1zM27 69h1v1h-1zM38 69h1v1h-1zM4 68h2v1h-2zM10 68h1v1h-1zM24 68h1v1h-1zM27 68h1v1h-1zM5 67h2v1h-2zM18 67h2v1h-2zM21 67h1v1h-1zM24 67h1v1h-1zM28 67h1v1h-1zM0 66h1v1h-1zM7 66h2v1h-2zM12 66h2v1h-2zM15 66h1v1h-1zM36 66h1v1h-1zM1 65h1v1h-1zM3 65h1v1h-1zM11 65h1v1h-1zM17 65h1v1h-1zM21 65h1v1h-1zM27 65h1v1h-1zM7 64h1v1h-1zM89 64h1v1h-1zM1 63h1v1h-1zM4 63h1v1h-1zM6 63h1v1h-1zM11 63h2v1h-2zM14 63h2v1h-2zM17 63h1v1h-1zM25 63h1v1h-1zM92 63h1v1h-1zM0 62h2v1h-2zM5 62h1v1h-1zM21 62h1v1h-1zM26 62h3v1h-3zM30 62h1v1h-1zM94 62h1v1h-1zM97 62h1v1h-1zM2 61h2v1h-2zM6 61h1v1h-1zM9 61h1v1h-1zM13 61h1v1h-1zM18 61h1v1h-1zM2 60h1v1h-1zM4 60h2v1h-2zM28 60h2v1h-2zM14 59h1v1h-1zM19 59h2v1h-2zM24 59h1v1h-1zM31 59h1v1h-1zM41 59h1v1h-1zM89 57h1v1h-1zM52 56h1v1h-1zM56 56h1v1h-1zM69 56h1v1h-1zM84 56h1v1h-1zM88 56h1v1h-1zM70 55h1v1h-1zM76 55h1v1h-1zM88 55h1v1h-1zM50 54h1v1h-1zM63 54h1v1h-1zM72 54h1v1h-1zM76 54h1v1h-1zM82 54h1v1h-1zM23 53h1v1h-1zM49 53h1v1h-1zM51 53h1v1h-1zM66 53h1v1h-1zM79 53h2v1h-2zM92 53h1v1h-1zM42 52h2v1h-2zM47 52h1v1h-1zM51 52h1v1h-1zM57 52h1v1h-1zM59 52h1v1h-1zM65 52h1v1h-1zM76 52h1v1h-1zM85 52h1v1h-1zM46 51h1v1h-1zM68 51h1v1h-1zM74 51h1v1h-1zM79 51h1v1h-1zM82 51h1v1h-1zM89 51h1v1h-1zM98 51h1v1h-1zM42 50h1v1h-1zM61 50h1v1h-1zM67 50h2v1h-2zM80 50h1v1h-1zM92 50h1v1h-1zM95 50h1v1h-1zM43 49h1v1h-1zM46 49h1v1h-1zM65 49h1v1h-1zM69 49h1v1h-1zM79 49h1v1h-1zM27 48h1v1h-1zM59 48h1v1h-1zM65 48h1v1h-1zM67 48h1v1h-1zM69 48h3v1h-3zM93 48h1v1h-1zM45 47h1v1h-1zM61 47h1v1h-1zM65 47h1v1h-1zM80 47h1v1h-1zM43 46h2v1h-2zM63 46h1v1h-1zM66 46h1v1h-1zM71 46h1v1h-1zM77 46h1v1h-1zM81 46h1v1h-1zM89 46h1v1h-1zM91 46h1v1h-1zM43 45h2v1h-2zM70 45h2v1h-2zM45 44h1v1h-1zM56 44h1v1h-1zM65 44h1v1h-1zM67 44h2v1h-2zM71 44h1v1h-1zM73 44h1v1h-1zM78 44h1v1h-1zM45 43h2v1h-2zM60 43h1v1h-1zM68 43h1v1h-1zM83 43h1v1h-1zM86 43h1v1h-1zM88 43h1v1h-1zM44 42h1v1h-1zM47 42h1v1h-1zM54 42h1v1h-1zM69 42h1v1h-1zM71 42h1v1h-1zM78 42h1v1h-1zM95 42h1v1h-1zM63 41h1v1h-1zM72 41h1v1h-1zM77 41h1v1h-1zM79 41h1v1h-1zM82 41h1v1h-1zM93 41h1v1h-1zM49 40h1v1h-1zM56 40h1v1h-1zM64 40h2v1h-2zM70 40h1v1h-1zM57 39h1v1h-1zM71 39h1v1h-1zM74 39h1v1h-1zM84 39h1v1h-1zM89 39h1v1h-1zM44 38h1v1h-1zM61 38h1v1h-1zM64 38h2v1h-2zM76 38h1v1h-1zM80 38h1v1h-1zM48 37h2v1h-2zM57 37h1v1h-1zM60 37h1v1h-1zM70 37h1v1h-1zM50 36h1v1h-1zM64 36h1v1h-1zM78 36h2v1h-2zM82 36h1v1h-1zM95 36h1v1h-1zM53 35h1v1h-1zM57 35h1v1h-1zM70 35h1v1h-1zM94 35h1v1h-1zM46 34h1v1h-1zM52 34h2v1h-2zM57 34h1v1h-1zM62 34h1v1h-1zM77 34h1v1h-1zM86 34h1v1h-1zM89 34h1v1h-1zM93 34h1v1h-1zM46 33h1v1h-1zM50 33h1v1h-1zM52 33h1v1h-1zM76 33h1v1h-1zM93 33h1v1h-1zM95 33h1v1h-1zM45 32h1v1h-1zM54 32h1v1h-1zM62 32h1v1h-1zM84 32h1v1h-1zM86 32h2v1h-2zM91 32h1v1h-1zM44 31h1v1h-1zM48 31h2v1h-2zM54 31h1v1h-1zM62 31h1v1h-1zM77 31h1v1h-1zM85 31h2v1h-2zM96 31h1v1h-1zM45 30h1v1h-1zM54 30h1v1h-1zM56 30h1v1h-1zM61 30h1v1h-1zM76 30h1v1h-1zM81 30h1v1h-1zM92 30h1v1h-1zM95 30h1v1h-1zM98 30h1v1h-1zM44 29h1v1h-1zM46 29h1v1h-1zM52 29h1v1h-1zM54 29h1v1h-1zM73 29h1v1h-1zM81 29h1v1h-1zM48 28h1v1h-1zM51 28h1v1h-1zM53 28h1v1h-1zM55 28h1v1h-1zM58 28h1v1h-1zM62 28h1v1h-1zM73 28h1v1h-1zM77 28h1v1h-1zM80 28h2v1h-2zM88 28h1v1h-1zM92 28h1v1h-1zM49 27h1v1h-1zM53 27h1v1h-1zM56 27h1v1h-1zM76 27h1v1h-1zM87 27h1v1h-1zM96 27h1v1h-1zM43 26h1v1h-1zM76 26h1v1h-1zM87 26h1v1h-1zM49 25h1v1h-1zM62 25h2v1h-2zM68 25h1v1h-1zM55 24h1v1h-1zM61 24h1v1h-1zM64 24h1v1h-1zM70 24h1v1h-1zM84 24h2v1h-2zM88 24h1v1h-1zM95 24h1v1h-1zM60 23h1v1h-1zM95 23h2v1h-2zM42 22h1v1h-1zM44 22h1v1h-1zM53 22h1v1h-1zM57 22h1v1h-1zM60 22h1v1h-1zM70 22h1v1h-1zM93 22h1v1h-1zM47 21h1v1h-1zM50 21h1v1h-1zM53 21h1v1h-1zM57 21h1v1h-1zM64 21h1v1h-1zM84 21h1v1h-1zM91 21h1v1h-1zM96 21h1v1h-1zM43 20h3v1h-3zM52 20h1v1h-1zM60 20h4v1h-4zM76 20h1v1h-1zM97 20h1v1h-1zM54 19h1v1h-1zM62 19h1v1h-1zM87 19h1v1h-1zM94 19h1v1h-1zM98 19h1v1h-1zM56 18h2v1h-2zM70 18h1v1h-1zM73 18h1v1h-1zM46 17h1v1h-1zM52 17h1v1h-1zM58 17h1v1h-1zM60 17h1v1h-1zM79 17h1v1h-1zM83 17h1v1h-1zM89 17h1v1h-1zM92 17h1v1h-1zM22 16h2v1h-2zM26 16h1v1h-1zM46 16h3v1h-3zM50 16h2v1h-2zM57 16h1v1h-1zM61 16h1v1h-1zM77 16h1v1h-1zM15 15h1v1h-1zM20 15h1v1h-1zM23 15h1v1h-1zM25 15h1v1h-1zM45 15h1v1h-1zM51 15h1v1h-1zM55 15h1v1h-1zM64 15h2v1h-2zM74 15h1v1h-1zM81 15h1v1h-1zM23 14h1v1h-1zM52 14h1v1h-1zM56 14h1v1h-1zM60 14h1v1h-1zM67 14h1v1h-1zM76 14h1v1h-1zM23 13h2v1h-2zM42 13h1v1h-1zM47 13h1v1h-1zM49 13h1v1h-1zM55 13h1v1h-1zM95 13h1v1h-1zM97 13h1v1h-1zM45 12h1v1h-1zM49 12h1v1h-1zM51 12h1v1h-1zM59 12h1v1h-1zM64 12h1v1h-1zM66 12h1v1h-1zM73 12h1v1h-1zM20 11h1v1h-1zM55 11h1v1h-1zM80 11h1v1h-1zM86 11h1v1h-1zM98 11h1v1h-1zM43 10h1v1h-1zM61 10h1v1h-1zM74 10h1v1h-1zM77 10h1v1h-1zM79 10h2v1h-2zM87 10h1v1h-1zM98 10h1v1h-1zM20 9h1v1h-1zM22 9h1v1h-1zM24 9h1v1h-1zM41 9h1v1h-1zM45 9h1v1h-1zM70 9h1v1h-1zM63 8h1v1h-1zM76 8h1v1h-1zM22 7h1v1h-1zM49 7h1v1h-1zM52 7h1v1h-1zM56 7h1v1h-1zM94 7h1v1h-1zM42 6h1v1h-1zM45 6h2v1h-2zM48 6h1v1h-1zM60 6h1v1h-1zM63 6h1v1h-1zM65 6h2v1h-2zM68 6h2v1h-2zM75 6h1v1h-1zM78 6h1v1h-1zM95 6h1v1h-1zM98 6h1v1h-1zM24 5h1v1h-1zM43 5h1v1h-1zM50 5h1v1h-1zM56 5h2v1h-2zM59 5h1v1h-1zM76 5h1v1h-1zM96 5h1v1h-1zM19 4h4v1h-4zM48 4h1v1h-1zM60 4h1v1h-1zM63 4h1v1h-1zM67 4h1v1h-1zM72 4h1v1h-1zM86 4h2v1h-2zM96 4h1v1h-1zM20 3h1v1h-1zM22 3h1v1h-1zM41 3h1v1h-1zM43 3h1v1h-1zM51 3h1v1h-1zM70 3h1v1h-1zM81 3h1v1h-1zM90 3h1v1h-1zM22 2h1v1h-1zM24 2h1v1h-1zM43 2h1v1h-1zM58 2h1v1h-1zM67 2h1v1h-1zM71 2h1v1h-1zM89 2h1v1h-1zM93 2h1v1h-1zM55 1h1v1h-1zM85 1h1v1h-1zM88 1h1v1h-1zM48 0h1v1h-1zM55 0h2v1h-2zM74 0h2v1h-2zM87 0h1v1h-1zM89 0h1v1h-1zM91 0h2v1h-2z"/>
</g>
<rect x="985" y="779.3" width="85.4" height="24.5" fill="#6f0000" shape-rendering="crispEdges"/>
<rect x="1070.4" y="779.3" width="158.6" height="24.5" fill="#f9848e" shape-rendering="crispEdges"/>
<rect x="1229" y="779.3" width="12.2" height="24.5" fill="#1f4d1b" shape-rendering="crispEdges"/>
<rect x="1241.2" y="779.3" width="134.2" height="24.5" fill="#070a30" shape-rendering="crispEdges"/>
<rect x="1375.5" y="779.3" width="109.8" height="24.5" fill="#b9cdd9" shape-rendering="crispEdges"/>
<rect x="1485.3" y="779.3" width="103.7" height="24.5" fill="#1b3781" shape-rendering="crispEdges"/>
<rect x="984.7" y="55" width="604.6" height="749.1" fill="none" stroke="#000" stroke-width="1.6"/>
<path d="M985 779.3H1589" stroke="#000" stroke-width="1.4"/>
<rect x="1374" y="56.5" width="214.3" height="34.6" fill="none" stroke="#000" stroke-width="3.3"/>
<circle cx="1646.5" cy="353" r="7.3" fill="#f9848e"/>
<text x="1660.9" y="360.2" font-size="24"><tspan textLength="54.5" lengthAdjust="spacingAndGlyphs">T-act</tspan><tspan font-size="13.9" dy="-7.5">1</tspan></text>
<circle cx="1646.5" cy="387.6" r="7.3" fill="#6f0000"/>
<text x="1660.9" y="394.8" font-size="24"><tspan textLength="54.5" lengthAdjust="spacingAndGlyphs">T-act</tspan><tspan font-size="13.9" dy="-7.5">2</tspan></text>
<circle cx="1646.5" cy="422.1" r="7.3" fill="#070a30"/>
<text x="1664" y="429.3" font-size="24"><tspan textLength="107.3" lengthAdjust="spacingAndGlyphs">T-non-act</tspan><tspan font-size="13.9" dy="-7.5">1</tspan></text>
<circle cx="1646.5" cy="456.7" r="7.3" fill="#b9cdd9"/>
<text x="1664" y="463.9" font-size="24"><tspan textLength="107.3" lengthAdjust="spacingAndGlyphs">T-non-act</tspan><tspan font-size="13.9" dy="-7.5">2</tspan></text>
<circle cx="1646.5" cy="491.2" r="7.3" fill="#1b3781"/>
<text x="1664" y="498.4" font-size="24"><tspan textLength="107.3" lengthAdjust="spacingAndGlyphs">T-non-act</tspan><tspan font-size="13.9" dy="-7.5">3</tspan></text>
<circle cx="1646.5" cy="525.8" r="7.3" fill="#1f4d1b"/>
<text x="1664" y="533" font-size="24" textLength="72" lengthAdjust="spacingAndGlyphs">Tumor</text>
<path d="M999.4 1160.9h0M1024.3 1138.3h0M996.8 1159.9h0M1022.6 1149.6h0M994.6 1153.6h0M1023.6 1145h0M1035.4 1140.1h0M1011.4 1148.6h0M1044.5 1125.9h0M1000.4 1150.6h0M1015.1 1148.7h0M1009 1151.5h0M1018.9 1149.6h0M1027.7 1140.5h0M993.4 1167h0M995.4 1160.2h0M995.2 1161.4h0M1004.5 1156.4h0M1054.2 1120.8h0M1020.1 1136.1h0M1011.9 1154.2h0M1013.4 1151.3h0M1011.8 1143.7h0M1018.1 1140.6h0M1035.2 1130.9h0M1022 1143.1h0M1023.5 1138.3h0M1025.5 1139.9h0M1031 1140.9h0M1013 1144.4h0M1024.4 1144.4h0M1032.7 1133.4h0M1021.9 1146.4h0M1017.6 1147.4h0M1014 1144.8h0M999.8 1155.8h0M1025.2 1150.4h0M1028.7 1145.2h0M1025.2 1145.3h0M1018 1150.7h0M1034.5 1132.5h0M1010.7 1163.2h0M1019.4 1151h0M1021 1136.6h0M1048.9 1135.9h0M1017.9 1150.6h0M1012.5 1144h0M1013.2 1151.5h0M1029.4 1142.5h0M1018.2 1154.2h0M1006.4 1158.7h0M1026.4 1138.2h0M988.7 1160.1h0M1018 1149.2h0M1029.7 1131.5h0M1015.4 1151.7h0M1004.6 1140.1h0M1030.3 1152h0M1023.3 1136.5h0M1009 1153.3h0M1046.1 1130.5h0M1019.5 1154.6h0M1017.9 1157.6h0M1003.6 1152.7h0M1026.6 1148.9h0M1022.5 1144.7h0M988.8 1161.2h0M1004.4 1151.8h0M1019.8 1142.5h0M1023.5 1142.6h0M1009.7 1152.2h0M1021.3 1149h0M1006.9 1151.9h0M1001.3 1167.3h0M1031 1135.9h0M1004 1147.6h0M1016.2 1148.3h0M1041.3 1131.5h0M996.7 1145h0M1031.5 1137.8h0M994.1 1163.3h0M992.7 1160.1h0M1027.1 1133.6h0M1002.2 1145.9h0M1022 1140.1h0M997.2 1147.6h0M1020.2 1139.6h0M1014.1 1136.4h0M996.1 1156.9h0M1004 1161h0M1008.8 1150.5h0M981.3 1155.6h0M1024.8 1134.2h0M1001.2 1163.9h0M1000.3 1154.6h0M1015.2 1145.5h0M1012.8 1147.8h0M1000.1 1153.8h0M1020.4 1153.9h0M996.5 1160.7h0M1020.8 1141.6h0M1024.1 1142h0M1008.1 1148.8h0M1032.1 1148.2h0M1003.7 1149.9h0M1020.4 1140.6h0M1007.7 1149.3h0M995.4 1166.1h0M1032.3 1129.4h0M1003.8 1161h0M1012.2 1152.9h0M990 1165.2h0M1021.1 1135.6h0M1022.3 1141.4h0M1022.9 1148.5h0M1014.2 1152.8h0M1000.7 1162.2h0M1002.8 1156.4h0M1025.1 1125.8h0M1009.2 1152.6h0M1039.3 1133.8h0M1033.5 1137.8h0M1002.8 1153.9h0M1013.6 1147.7h0M1024.9 1146.3h0M1037.4 1134.4h0M1015.6 1150.9h0M1031.4 1139.3h0M998.4 1162.2h0M996.5 1151.1h0M1030.5 1134.8h0M1021.1 1150.5h0M1014.7 1148.9h0M995 1163.3h0M1019.9 1149.1h0M1006.4 1161.8h0M996 1159.7h0M1011.1 1144.3h0M1014.4 1135.1h0M1041.6 1137.3h0M1010.8 1147.4h0M998.1 1162h0M1022.1 1139.7h0M987.8 1161h0M1015.4 1133.1h0M996.9 1162.3h0M1023.5 1151.7h0M1017.1 1138.3h0M1009.8 1147.2h0M1036.8 1122.6h0M1028.2 1137.8h0M1013.8 1143.4h0M1031 1130.3h0M1011.5 1152.4h0M1000.2 1160.8h0M1011.8 1142.8h0M1036.6 1135.1h0M1036 1138h0M1021.1 1148.8h0M1013.5 1145.5h0M1025.2 1147h0M1004 1143.5h0M995.8 1146.9h0M983.6 1170h0M1022.1 1145.3h0M1003 1155.2h0M1007 1144.4h0M989.1 1163.8h0M1002.6 1154.3h0M999.8 1166.5h0M1019.2 1142.5h0M1026.6 1126.6h0M996.9 1159h0M1021.6 1150.8h0M996.5 1160.3h0M1047.1 1128.9h0M1000.7 1157h0M1014.9 1140.2h0M994.8 1162.2h0M1029.1 1141.4h0M990.7 1172.6h0M1021.1 1141.4h0M1007.4 1153.6h0M994.8 1166.3h0M1023 1138.2h0M1011.9 1153.7h0M988.2 1156.5h0M1032 1144.2h0M1021.8 1143.8h0M1020.6 1153.5h0M1010.9 1156h0M1008.3 1150.4h0M1011.3 1147.2h0M1004 1155.1h0M1021.8 1150.5h0M1003.5 1158.1h0M1002.3 1160.5h0M1019.7 1148.3h0M998.4 1152.6h0M988.7 1163.6h0M991.1 1156.2h0M1020.5 1154.4h0M1017.5 1133.5h0M1011.5 1155.3h0M1020.2 1142.2h0M1039.3 1131.1h0M1021.2 1147.1h0M1009.8 1146.6h0M1035.9 1140.4h0M996.7 1165.7h0M1024.5 1146h0M1012.1 1148.8h0M1023.4 1151.2h0M1037.1 1124.1h0M1026.8 1144.8h0M1010.8 1143.3h0M1008.6 1148.5h0M1019.4 1146.2h0M1029.6 1139.8h0M997.1 1159.3h0M1019.8 1147.8h0M1025.7 1152.2h0M1041.4 1129h0M1017.8 1147.3h0M1025.7 1138.5h0M1011.9 1144.4h0M999.6 1159.9h0M1000 1161.7h0M1033.1 1136.4h0M1016.3 1143.7h0M995.4 1164.2h0M1007.8 1155.1h0M1024.1 1148.2h0M1040.2 1132h0M1015.3 1138.3h0M1021.5 1136.6h0M1001.9 1161.6h0M978 1172.6h0M1014.6 1143.6h0M1028.3 1133.3h0M1012.2 1138.4h0M995.1 1169h0M1024.3 1134.9h0M1010.8 1140.1h0M999.7 1164h0M1024.9 1143.6h0M1011.8 1150.2h0M1005.9 1161.2h0M1005.6 1151.1h0M1029.3 1135h0M1007.6 1160.8h0M998.1 1156.1h0M1002.4 1146.3h0M1016.1 1147h0M995.1 1154.6h0M1015.9 1153.6h0M1021.9 1144.5h0M1010.4 1153h0M1019.7 1158.3h0M998.4 1156.9h0M1028.4 1137h0M1031 1136.7h0M1014.2 1146.1h0M993.6 1156.4h0M1042.8 1132.9h0M1023.8 1147.9h0M1023.5 1148.5h0M1009.5 1150.2h0M1024.7 1139.1h0M996.4 1159.2h0M1008.5 1156.1h0M1001.5 1150.4h0M1013.9 1158.4h0M1013.4 1150h0M1014.5 1150.1h0M1029.1 1147h0M997.1 1168.7h0M1012.5 1147.6h0M1042.7 1127.9h0M1040.4 1136.6h0M1002.2 1159.7h0M1022.3 1142.1h0M983.6 1167.1h0M1007.9 1145.8h0M1035.4 1132.4h0M1007.7 1150.9h0M1001.5 1152.2h0M1015.6 1149.5h0M1006.9 1152.8h0M997.8 1162.9h0M1004.8 1156.2h0M1000.8 1154.4h0M1012.6 1141.9h0M1044 1127.9h0M1010.4 1146.4h0M1037.3 1141.4h0M1013.2 1140.5h0M1009.1 1155.8h0M1003.7 1148.1h0M996.5 1155.6h0M1011.8 1146h0M1015.5 1146.3h0M1023.5 1143.9h0M999.9 1162.2h0M1028.1 1143.7h0M1018.8 1146.5h0M1003.2 1148.8h0M1003.3 1151.4h0M1005.3 1155.1h0M1006.2 1162.6h0M1015.1 1145.7h0M1033.6 1143h0M994.9 1154.1h0M1019.5 1151.3h0M1017.7 1157.5h0M1004.4 1161.9h0M1024.3 1141.2h0M992.5 1160.1h0M1023.5 1138.9h0M1010.7 1152.9h0M1016.2 1145.3h0M1029.2 1142.2h0M995.2 1162.3h0M1011.9 1160.4h0M1022.1 1145.1h0M1009.8 1149.2h0M1011.3 1159.9h0M1007.8 1148h0M1022.9 1147.1h0M1009 1146.1h0M1041.6 1137.4h0M957 1172.1h0M1052.2 1108.6h0M974.1 1179.2h0M1006.6 1158.6h0M972.8 1188.1h0M1020.3 1134.4h0M998.7 1162.9h0M997.9 1163.8h0M999.7 1158.8h0M967.2 1168h0M963.8 1172.8h0M994.4 1154.7h0M1000.6 1129.5h0M1009.2 1149.8h0M979.5 1166.2h0M948.3 1176.6h0M976.8 1152.6h0M1038.4 1133.1h0M1009.1 1142.7h0M1046.2 1131.3h0M1015.5 1140.2h0M998.2 1150.1h0M1000.4 1136.8h0M1013.2 1152.7h0M1005.2 1136.2h0M1005.8 1138.2h0M980.6 1167.5h0M994.1 1139.9h0M1026.7 1129.4h0M1017.8 1126.4h0M1026.6 1118.9h0M1023.7 1116.7h0M1038.9 1122.8h0M971.8 1170.2h0M1011.5 1134.4h0M999 1157.4h0M988.7 1126.1h0M1001.3 1157.6h0M1021.3 1150.7h0M1007.4 1153.9h0M977.7 1152.9h0M1014.3 1147.6h0M981.2 1170.4h0M1013.5 1142.7h0M1022.6 1142.8h0M1016.3 1150.8h0M995.6 1141.5h0M1014.8 1150.8h0M1009.5 1154.1h0M1005.3 1140.1h0M965.4 1171h0M991.7 1160.4h0M1040.2 1109.6h0M998.7 1166.6h0M1032.9 1127.6h0M1012 1149.1h0M1045.2 1116.1h0M992.1 1168.4h0M990.1 1159.5h0M1042.3 1123.7h0M1010.1 1148.5h0M987.9 1163.8h0M1011.5 1128.4h0M996.4 1151.9h0M1024.2 1145.6h0M948.6 1161.2h0M1012.6 1159.2h0M1039.6 1142.6h0M1052 1118.3h0M1025.2 1118.8h0M1027 1139.7h0M1004.4 1145.5h0M983.9 1166.2h0M1036.6 1124.5h0M1017.7 1133.9h0M1009.5 1135.6h0M1016.6 1139.8h0M1013 1137.8h0M980 1163.5h0M1041.4 1143.5h0M1005.8 1158.9h0M1028.6 1138.6h0M974.9 1174.5h0M992.9 1172h0M1030.5 1139.9h0M953.7 1192.4h0M1018.3 1126.4h0M1031.8 1132.8h0M1000.9 1144.8h0M983.1 1160.2h0M1081.5 1100.4h0M1010.3 1139.1h0M991.8 1152.9h0M993.2 1168.4h0M1007.4 1158.6h0M987.3 1173h0M1011.9 1153.2h0M1001.8 1142.2h0M1034.7 1125h0M1000.9 1142.9h0M1011.6 1141.2h0M1017.4 1145.8h0M985.5 1147.3h0M1023.9 1147.9h0M1019 1127.5h0M1025.1 1141h0M1017.9 1146.4h0M1002.7 1154.3h0M1027.7 1128.9h0M975.1 1169.4h0M1003.7 1129.9h0M996.5 1162.8h0M1006 1150.6h0M984.7 1174.5h0M1048.5 1118.2h0M985.9 1150h0M1030.2 1134.3h0M997.1 1169.6h0M1029.9 1140.2h0M967.7 1174.5h0M1016.9 1128h0M1038.1 1144.1h0M1029 1125.5h0M997.7 1166.1h0M1038.6 1141.5h0M1036.2 1127.8h0M989.6 1139.4h0M1014.2 1148.5h0M1017 1157.1h0M997.7 1145.5h0M1026.6 1130.8h0M998.1 1156.3h0M1020.8 1138.4h0M1029.1 1125.6h0M978.9 1162.5h0M1015.3 1129h0M1046.9 1136.6h0M965.5 1167.5h0M1026.7 1148.8h0M1014.9 1144.8h0M994.4 1149.2h0M983.3 1148.5h0M991.1 1170.2h0M1009.5 1145.2h0M1022.8 1150.3h0M1027.4 1143.8h0M994.7 1154.3h0M990.5 1159h0M988.1 1157.5h0M1003.8 1148.6h0M1000.2 1147.8h0M1037.5 1124.1h0M986.6 1165h0M978.1 1156.3h0M1002 1133.1h0M936.1 1200.6h0M1024 1118.1h0M991.3 1166.2h0M958.4 1172h0M980.1 1164.9h0M968.2 1185.7h0M1007.3 1152.2h0M990.1 1136h0M998.3 1139.4h0M1004.7 1140.7h0M1000.5 1150.8h0M1031 1141.3h0M985.7 1163.2h0M1045.4 1128.3h0M991.5 1158.1h0M1006 1160.4h0M1011.8 1149.9h0M1052.8 1101.8h0M976.3 1149.9h0M976.8 1179.4h0M1024.5 1155.7h0M958.6 1171.8h0M1047.9 1132.8h0M1034.1 1140.4h0M1009.7 1146.9h0M1014.3 1153.6h0M1007 1152.6h0M1036.6 1115.7h0M994.7 1163.8h0M1002.1 1150.4h0M1059.8 1117.6h0M1005.2 1162.7h0M1061.3 1099.1h0M994.1 1159h0M1033.4 1151.5h0M997.9 1165.4h0M1041.2 1146.4h0M1024.4 1136.7h0M996.3 1150.7h0M1013.2 1142.1h0M1043.6 1135.3h0M1003.3 1145.3h0M978.9 1142.5h0M1000.9 1154.6h0M1016.8 1151.9h0M1001.8 1145h0M1019.7 1147.9h0M980 1149.8h0M991 1172h0M1027.3 1124.8h0M1016.1 1152.3h0M1036.2 1121.4h0M1011 1162.3h0M1072.9 1121.4h0M985 1169h0M1001.8 1151.8h0M991.1 1154.2h0M1018.4 1161.8h0M1027.5 1139.8h0M1005.6 1141.2h0M1010.3 1160.8h0M1035.4 1132.2h0M1003.8 1139.7h0M1030.9 1126.8h0M1027.7 1148h0M991.6 1150.8h0M979.1 1151h0M981 1165.2h0M1022.1 1124.1h0M950.9 1183.5h0M1035.8 1147h0M1031.4 1145.8h0M1017 1154.4h0M1005.5 1129.9h0M1009.5 1139h0M992.9 1159h0M982.1 1159.3h0M1041 1129.1h0M995.6 1142h0M1016.7 1137h0M1012.4 1147h0M984.4 1164.6h0M993.6 1161.2h0M1009.7 1142.8h0M1030.2 1124.8h0M967 1170.7h0M1013 1151.2h0M1007.9 1151.4h0M1003.2 1166.2h0M990.4 1158.7h0M999.3 1151.5h0M1012.1 1139h0M1011.7 1152.4h0M983.7 1144.6h0M1009 1143.5h0M993.1 1164.2h0M970.5 1175h0M1021.6 1138.3h0M974.7 1176.2h0M1026.6 1137.6h0M1017 1138h0M996.6 1162h0M1001.8 1154.5h0M1088.1 1101.7h0M1003.5 1132.6h0M1015.3 1151.9h0M991.4 1156.8h0M959.8 1187.4h0M998.9 1162.3h0M1039.7 1124.7h0M1033.1 1133.9h0M1002.8 1148.5h0M996.2 1171h0M1024 1125.7h0M1024.6 1128.5h0M980.6 1180.7h0M985.8 1177h0M1018.4 1151.4h0M1027 1148.5h0M1020.1 1146.6h0M1020.6 1152.2h0M1005.4 1161.7h0M1043.5 1123.2h0M1016.4 1136.5h0M1003.7 1154.1h0M996.3 1145.9h0M1009.3 1149.5h0M1020.3 1148h0M975.5 1186.6h0M1000.9 1144.2h0M1002.8 1156.8h0M1027.2 1130.9h0M1004.1 1132.5h0M1012.3 1143.9h0M1003.8 1161.3h0M1056 1127.3h0M999.1 1171.8h0M1001.1 1152.4h0M998 1160.2h0M1022.6 1139.9h0M1003.4 1149.7h0M1004.9 1161.4h0M996.2 1154.6h0M1000.2 1144.9h0M995.9 1139.6h0M1021.3 1145.3h0M1010.4 1164.4h0M993 1164.8h0M1017.2 1135.8h0M1008.2 1158.3h0M1011.9 1148.7h0M1042.4 1127.2h0M966.6 1168h0M1027.5 1133.4h0M973.6 1149h0M1024.5 1154.1h0M968.6 1150.3h0M1017.6 1135.5h0M1000.5 1149.6h0M990.6 1165.1h0M1032.1 1135.9h0M1001.7 1164.3h0M1009.6 1153.8h0M991 1167.3h0M1033 1145.9h0M1012 1150.5h0M1000.5 1163.4h0M1032.6 1143.7h0M993.7 1144h0M1006.4 1146.9h0M995.1 1163.9h0M1032.8 1135.7h0M1036.6 1133.2h0M983.6 1158.2h0M1004.6 1158.3h0M1030.8 1134.2h0M1027.9 1125.3h0M1014.4 1160.9h0M1024.7 1148.7h0M957.1 1164h0M994.6 1168.8h0M1042.9 1117.4h0M981.2 1155h0M991.6 1165.7h0M1039.6 1198.6h0M1047.1 1179.5h0M1042.5 1184.3h0M1050.6 1189.1h0M1037.6 1192.6h0M1046.4 1183.7h0M1044.1 1189.4h0M1035.3 1182.8h0M1054.5 1182h0M1034.1 1190.7h0M1023.3 1191h0M1023.8 1187.7h0M1018.5 1187.2h0M1049.9 1182.1h0M1029.2 1200.5h0M1035.4 1197.1h0M1031.6 1178.7h0M1060.3 1177.6h0M1050.7 1191h0M1025.3 1190.6h0M1034.6 1191.5h0M1037.8 1178.3h0M1042 1190.5h0M1037.7 1190.4h0M1033.9 1187.4h0M1044.3 1185.8h0M1056.1 1187.9h0M1050.9 1187.8h0M1039.9 1178.4h0M1055.1 1193.4h0M1042.2 1183.8h0M1041.7 1193.5h0M1041.7 1179.1h0M1036.8 1181.9h0M1036.3 1181.2h0M1032.7 1197.9h0M1049.2 1172.9h0M1028.2 1186.4h0M1033.4 1178.8h0M1047.4 1173.4h0M1049.1 1188.1h0M1034.8 1183.2h0M1041 1186.7h0M1014.3 1184.9h0M1045.9 1183.7h0M1033.7 1181.2h0M1030.8 1183.5h0M1069.6 1169.6h0M1058.3 1184.2h0M1042.9 1186.6h0M1038.5 1197.1h0M1045.8 1184.3h0M1039.1 1187.6h0M1026.7 1187.6h0M1034.1 1191.8h0M1043.7 1172.7h0M1039.3 1192.8h0M1023.5 1182.8h0M1051.2 1182.1h0M1033 1180h0M1041.1 1182.1h0M1043.2 1188h0M1047.5 1181.8h0M1034.2 1187.8h0M1039.3 1187.4h0M1033.7 1186.2h0M1032.5 1184.3h0M1043.8 1192.6h0M1035 1191.3h0M1044.2 1185.6h0M1046.8 1180.5h0M1047 1186.1h0M1001.2 1199.1h0M1050.2 1196.1h0M1028.3 1189.9h0M1042.4 1179h0M1054.5 1185h0M1029.1 1181.2h0M1039.4 1201.9h0M1060.3 1164.1h0M1020.6 1195.8h0M1037.8 1182.5h0M1047.1 1184.7h0M1043.8 1186.8h0M1030 1197.5h0M1036.8 1194.4h0M1048 1184.1h0M1041.6 1185.3h0M1018.7 1189.8h0M1042.2 1174.8h0M1025 1197.3h0M1046.7 1174h0M1045.2 1184.3h0M1050.6 1181h0M1036.3 1182.1h0M1041.9 1184.7h0M1032.1 1185.9h0M1032.6 1192.2h0M1025.7 1179.7h0M1031 1195.7h0M1035.4 1191.6h0M1047.6 1180.6h0M1049.5 1186.8h0M1038.4 1181.8h0M1037.2 1178.3h0M1036 1183.3h0M1045.6 1186.8h0M1034.2 1193.4h0M1053.8 1182.7h0M1032.5 1191.5h0M1011.3 1190.1h0M1050.1 1196.5h0M1034.3 1197.8h0M1069.8 1190.3h0M1015 1200.2h0M1044 1191.7h0M1037 1182.8h0M1040 1196h0M1049.2 1181.5h0M1045.9 1190.2h0M1046.5 1184h0M1031.3 1183.5h0M1034.1 1184h0M1019.6 1182.2h0M1048.2 1176.3h0M1025 1189.9h0M1058.8 1189.3h0M1033.5 1180.9h0M1032.3 1182.1h0M1034.6 1190.7h0M1026.5 1184.5h0M1037 1186.7h0M1029.9 1183.5h0M1025.8 1184.9h0M1045.6 1182.8h0M1005.4 1199.7h0M1037.7 1180.8h0M1031.9 1168h0M1023 1198.5h0M1068.3 1192.8h0M1031.6 1188.6h0M1046.9 1175.9h0M1058.9 1176h0M1042.1 1177.7h0M1044.2 1184.7h0M1050.5 1175.3h0M1043 1197.4h0M1026.9 1192h0M1044.2 1181.5h0M1039.4 1195.7h0M1054.2 1185.9h0M1041.2 1178.1h0M1044.2 1196.9h0M1049.8 1174.1h0M1014.9 1188.5h0M1041 1182h0M1037.1 1189.1h0M1050.7 1184.5h0M1052 1173.1h0M1046.2 1187.2h0M1025 1198.6h0M1019 1182h0M1073.2 1185.6h0M1046.7 1193.3h0M1051.4 1175.2h0M1048 1193.2h0M1038.3 1187h0M1035.9 1192.1h0M1032.6 1184.1h0M1024.2 1184.1h0M1043.4 1188.3h0M1033.7 1180.7h0M1044.6 1187.2h0M1053.9 1178.8h0M1036.1 1190.6h0M1057.6 1180.8h0M1037.4 1180.4h0M1037.3 1193.2h0M1051.9 1190.3h0M1022.4 1196.6h0M1030.3 1192.7h0M1012.3 1193h0M1032 1196.9h0M1043.7 1193.8h0M1038.3 1199.8h0M1038.1 1199.4h0M1032.6 1181.4h0M1049.8 1180.6h0M1037 1177.7h0M1036.2 1187.8h0M1032.5 1190.7h0M1014.8 1199.1h0M1037.8 1196.6h0M1034.8 1183h0M1035.3 1189.2h0M1046.2 1181.2h0M1031.5 1191.3h0M1046.6 1172.3h0M1026.6 1185.1h0M1062.1 1188.3h0M1050.2 1186.6h0M1028.9 1196.7h0M1033.4 1182.4h0M1060.1 1170.6h0M1056.6 1182.8h0M1029.6 1190.1h0M1030.5 1189.9h0M1030.4 1180.6h0M1070.3 1174.2h0M1051.5 1182.5h0M1045.7 1175.8h0M1022.1 1168.6h0M1052.6 1185.6h0M1027.7 1195.1h0M1052.1 1202.7h0M1044.4 1191.1h0M1048.6 1188.9h0M1039 1183.5h0M1050.5 1191.5h0M1024.4 1182.6h0M1042.7 1197.6h0M1034.6 1175.9h0M1050.8 1188.2h0M1063.2 1180.9h0M1061.9 1175.1h0M1050.9 1183.9h0M1025.6 1188.1h0M1057.6 1188.8h0M1037.6 1194.3h0M1052.2 1188.8h0M1044 1187h0M1030.3 1188.3h0M1040.2 1180.9h0M1037 1188h0M1044.4 1192h0M1027.3 1186.8h0M1042.6 1182.7h0M1043.1 1182h0M1053.5 1180.8h0M1028.1 1194.4h0M1056.2 1168.4h0M1038.7 1186.9h0M1054.8 1192.2h0M1035.5 1176.6h0M1049.7 1190.2h0M1045.7 1185h0M1034.8 1204.1h0M1023.4 1180.3h0M1052 1184.7h0M1048.6 1186.1h0M1062.3 1189.6h0M1035.4 1194.1h0M1023.3 1179h0M1053.4 1179.4h0M1014.9 1192.8h0M1033.2 1191.4h0M1038.1 1181.3h0M1033.1 1193.2h0M1029.5 1189.8h0M1029.3 1192.1h0M1061.9 1183.9h0M1053.9 1185.3h0M1028.3 1187.2h0M1041.7 1188.6h0M1034.1 1191.8h0M1031.8 1188.8h0M1038 1178.8h0M1051.9 1183.1h0M1041.3 1185.5h0M1013 1183.9h0M1031.4 1195.2h0M1034.4 1191.7h0M1026.6 1184h0M1036.5 1194.2h0M1020.4 1190.3h0M1045.1 1185.6h0M1041.3 1191h0M1041.7 1178.7h0M1046.1 1179h0M1038.7 1196.3h0M1071.2 1187.3h0M1043.7 1179.7h0M1034.1 1199h0M1041.5 1176.2h0M1059.4 1184.6h0M1056.2 1184.3h0M1013.6 1188.3h0M1038.1 1185.4h0M1056.6 1176.9h0M1038.8 1186h0M1037.2 1179.8h0M1021.3 1173.7h0M1043.6 1183.7h0M1040.6 1178.7h0M1038.4 1179.9h0M1028.9 1191.4h0M1048.5 1187.6h0M1038.9 1183.7h0M1058.5 1189.4h0M1030.8 1181.2h0M1045 1186.8h0M1033.4 1203.4h0M1014.3 1187.5h0M1044.6 1191.5h0M1017.7 1189.2h0M1059.3 1190.3h0M1037.2 1187.1h0M1030.5 1191.4h0M1024.3 1176.6h0M1022.4 1191.3h0M1026.6 1197.3h0M1056.8 1188.2h0M1049.7 1191.1h0M1044.7 1190.6h0M1046.9 1189.5h0M1027.1 1185.1h0M1029.9 1194.5h0M1044.6 1179.4h0M1027.6 1185.6h0M1050 1182.5h0M1036.1 1182.4h0M1041.5 1196.5h0M1031.4 1186h0M1061.1 1185.1h0M1028.7 1196.6h0M1026.4 1193.6h0M1008.9 1187.9h0M1049.7 1179.3h0M1031.7 1188.7h0M1039.3 1183.1h0M1031.9 1210.1h0M1069.4 1177.7h0M1013 1185.6h0M1034.3 1191.8h0M1068.1 1166.9h0M1039.4 1177.9h0M1038.2 1174.9h0M1050.5 1195.3h0M1028.9 1182.8h0M1035.1 1167.6h0M1069 1155.7h0M1027.4 1176h0M1066.2 1168h0M1035.8 1210h0M1032.6 1175.6h0M1038.8 1186.4h0M1022.5 1187h0M1036.9 1194.1h0M1056.9 1188.7h0M1039 1194.4h0M1038.7 1199.3h0M1044.5 1176.2h0M1056.7 1157.6h0M1015.5 1181.2h0M1030.5 1170.3h0M1038.9 1188.1h0M1053.9 1173.7h0M1038.5 1174.5h0M1020.9 1193.6h0M1019.6 1185.3h0M1053.3 1210.9h0M1080.5 1189.5h0M1032.5 1181.6h0M1044.4 1178.3h0M1028 1184.8h0M1054.8 1177.5h0M1041.9 1179.3h0M1033 1181.4h0M1064.4 1178.2h0M1067.4 1171.8h0M1053.8 1160.3h0M1029.9 1186.1h0M1025.1 1187h0M1019 1188.4h0M1024.8 1188.6h0M1028.2 1174.2h0M1030.1 1187.2h0M1013.1 1193.9h0M1062.2 1172.8h0M1051.7 1187.7h0M1027.6 1205.2h0M1084.2 1154.7h0M1078.2 1160.9h0M1060 1152.5h0M1061.5 1177.9h0M1009.2 1183h0M1013.6 1180.5h0M1045 1179.3h0M986.8 1197.5h0M1047.9 1181.9h0M1064.5 1150.6h0M1043.2 1182.7h0M1047.2 1163.2h0M1011.4 1190.9h0M1032.3 1162h0M1045.5 1181.5h0M1025 1195h0M1036.6 1186.4h0M1036.8 1174.2h0M1014.6 1183.7h0M1028 1204.4h0M1024.9 1191.2h0M1045.4 1175.9h0M1049.4 1188.3h0M1004.5 1198.5h0M1033.3 1194.1h0M1026.7 1179.4h0M1022.5 1187.9h0M1045.3 1175.6h0M1043.3 1193.3h0M1028.4 1206h0M1015.5 1170.9h0M1029.8 1185.5h0M1036.2 1174.7h0M1046.2 1194.6h0M1056.8 1176.7h0M1017.9 1213.7h0M1057.4 1176.6h0M1066.5 1191.8h0M1038 1172.2h0M1039.1 1171.1h0M1037.1 1201.5h0M1032.2 1171h0M1038.8 1181.7h0M1018.6 1190.7h0M1082 1180.6h0M1048.5 1187.4h0M1067.3 1150.7h0M1053 1173.8h0M1047 1177.8h0M1062.3 1190.7h0M1057.3 1163.1h0M1057.4 1172.8h0M1032.5 1190.7h0M1040.7 1214h0M1050.6 1183.4h0M1035.4 1188.3h0M1036 1192.6h0M1058.9 1188.1h0M1011.8 1188.7h0M1034.9 1168.9h0M1045.2 1179.8h0M1040.9 1188.2h0M1032.1 1206.8h0M1056.7 1170.4h0M1050.6 1189.7h0M1021.5 1185h0M1002.6 1180.7h0M1026 1190h0M1085.7 1155.1h0M1072.4 1175.7h0M1033.5 1188.1h0M1046.5 1188h0M1034.1 1176.3h0M1052.2 1180.3h0M1040.6 1168.3h0M1021.5 1177.5h0M1040.1 1185.4h0M1037.2 1187.9h0M1041.8 1201h0M1026 1199h0M1023.2 1181h0M1019 1212h0M1017.9 1184.2h0M1015.5 1188h0M1024 1214.2h0M1052.3 1209.9h0M1056.1 1156h0M1054.5 1191.8h0M1054 1177.5h0M1058.9 1195.5h0M1045.8 1198.7h0M1072.7 1199h0M1037.9 1189.9h0M1027.5 1176.3h0M1014.6 1186.4h0M1056.8 1170.1h0M1037.3 1184.8h0M1022.3 1189.6h0M1010.3 1185.1h0M1030 1188.1h0M1015.3 1192h0M1030.8 1188.4h0M1039.7 1174.2h0M1048.6 1159.6h0M1045.5 1210h0M1017 1190.8h0M989.5 1189.7h0M1015.5 1192.6h0M1035.9 1209.2h0M1019.7 1190h0M1045.2 1190.2h0M1049.8 1159.4h0M1080.7 1165.4h0M1017.3 1169.4h0M1022.2 1166h0M1039.5 1175.7h0M1041.5 1172.5h0M1048.7 1210h0M1062.2 1178h0M1024.5 1208.1h0M1032.4 1182.1h0M1031.6 1180.7h0M1077.1 1167.7h0M1035.7 1192.7h0M1020.1 1169.2h0M1065.1 1173h0M1065.2 1189.8h0M1078.2 1179.8h0M1035 1162h0M1052.3 1166.9h0M1062.6 1169h0M1018.7 1191.3h0M1036.1 1186.9h0M1062.9 1195.4h0M1047.7 1199.8h0M1036.7 1164.4h0M1020.4 1188.9h0M1038.7 1192.2h0M1015 1175.8h0M1053.4 1174.5h0M1073.3 1159.1h0M1035.3 1216.4h0M1032.8 1195h0M1014.6 1189.8h0M1078.4 1176h0M1015.1 1188.5h0M1034.4 1175.2h0M1051.3 1196h0M1042.6 1194.2h0M1044.4 1183.6h0M1027 1200.5h0M1063.1 1169.5h0M1022.7 1196.2h0M1044.6 1196.6h0M1047.3 1179.1h0M1012.9 1200.8h0M1034.8 1168.3h0M1042.9 1198.8h0M1062.3 1175.4h0M1057 1198.4h0M1049.4 1182.7h0M1021.9 1186.2h0M1025.5 1167.4h0M1030 1207.2h0M1014.3 1175.6h0M1018.8 1194.4h0M1058.5 1186.3h0M1075.6 1163.4h0M1045.7 1183.1h0M1040.5 1203.4h0M1029.2 1189.6h0M1017.2 1198.9h0M1033.2 1172.2h0M1015.3 1175.6h0M1032.6 1183.1h0M1033.4 1178.9h0M1060.7 1181.3h0M1045.9 1181.9h0M1023.6 1198.3h0M1083 1188.8h0M1048 1168.4h0M1021.4 1183.6h0M1047.8 1180h0M1036 1193.5h0M1050.1 1168.1h0M1023.2 1196.2h0M1047.6 1174.1h0M1039.9 1163.3h0M1021.3 1193.7h0M1019.6 1195.9h0M1032.1 1203h0M1025.5 1194.2h0M1036.7 1170h0M999.1 1201.8h0M1020.6 1193.6h0M1075 1149.7h0M1038.5 1170.8h0M1016.6 1172.2h0M1035.1 1205.3h0M1063.8 1169.2h0M1023.9 1176.5h0M1027.5 1179.8h0M1036.2 1168.3h0M1055.6 1176.5h0M1036.4 1182.2h0M1012.2 1204.2h0M1041.9 1200.8h0M1045.6 1194.5h0M1051 1179.2h0M1043.2 1179.8h0M1002.3 1184h0M1044.9 1170.4h0M1008.1 1183h0M1033.7 1163.6h0M1023.2 1184.3h0M1025.9 1171.8h0M978.4 1193.7h0M1066 1191.8h0M1029.3 1205.9h0M1052.2 1175.9h0M1013.7 1185.7h0M1026.1 1188.3h0M1036.3 1207.8h0M1029.3 1190.5h0M1017.9 1181.8h0M975.6 1197.7h0M989.2 1186.9h0M1023.3 1206.8h0M1054.5 1183.4h0M1021.4 1170.8h0M1043.7 1170.7h0M1039 1196h0M1033.5 1184.9h0M1021.7 1203.3h0M1051 1188.7h0M1063.5 1153.2h0M1040.6 1191.4h0M1045.4 1185.3h0M1040.5 1162.3h0M1040.6 1198.4h0M1035.5 1181.9h0M1047.2 1157.1h0M1051.6 1199.3h0M1028.9 1175.7h0M1046.1 1174.8h0M1021.6 1191.5h0M1006.7 1203.3h0M1011 1185.5h0M1051.8 1178.5h0M1048.3 1198.6h0M1076.5 1198.4h0M1030.1 1198.7h0M1007.3 1204.9h0M1060.7 1166.2h0M1050.2 1190.7h0M1031.5 1177.3h0M1062.3 1157.7h0M1044.6 1194.2h0M1048.6 1201.2h0M1069.1 1179.3h0M1076.2 1180.7h0M1011.2 1188.5h0M1043.6 1184.3h0M1012.7 1223.1h0M1001.3 1181.1h0M1047.2 1183.2h0M1069.3 1176h0M1048 1190h0M1017.3 1173.4h0M1032.3 1199.3h0M1036.8 1200.8h0M1029.4 1196.8h0M1041.5 1193.8h0M1038.5 1186.2h0M1033.2 1202.1h0M1038.8 1190.1h0M1046.9 1168.7h0M1020.6 1189.1h0M1058.8 1162.5h0M1012.9 1179.1h0M1025.3 1173.8h0M1023.2 1195.9h0M1015.5 1191.3h0M1013 1189.6h0M1039.8 1156.3h0M1039.5 1186.2h0M1037.4 1187.4h0M1040.6 1165.5h0M1037.7 1192.5h0M1058 1158.7h0M1020 1171.6h0M1032.8 1171.2h0M1020.9 1199.9h0M1074.3 1143.8h0M1066.9 1161.6h0M1052.7 1183.4h0M1061.6 1172.9h0M1020.6 1188.9h0M1049.8 1167.8h0M1045.8 1181h0M1041.2 1182.8h0M1053 1189.4h0M1030.3 1181.7h0M990.9 1188.2h0M1009.7 1202.5h0M1013.1 1183h0M1052.3 1192.2h0M1058.6 1165.4h0M1046.8 1195.1h0M996.5 1177.4h0M979.2 1176.1h0M1048 1152.5h0M1006.1 1160.4h0M1082.2 1150.2h0M1020.3 1237.4h0M1010.7 1170.2h0M1002.2 1162.6h0M1023.2 1120.5h0M1021.5 1157.3h0M1083.5 1137.7h0M1046.3 1167.5h0M1045.1 1155.5h0M958.2 1224.3h0M1026.3 1186.8h0M1026.7 1146.8h0M983.6 1161.3h0M1032.4 1156.9h0M993.5 1175.2h0M1026.1 1143.4h0M1012.7 1154.4h0M949.1 1220h0M1039.3 1181.3h0M1053.8 1122.6h0M1047.3 1158.6h0M1040.1 1181.4h0M1033 1119.7h0M1067.1 1131h0M995.3 1163.7h0M1002.2 1145.3h0M1064.4 1152h0M1010.7 1201.2h0M1033.8 1161.9h0M1053 1143.3h0M1025.2 1181.2h0M953 1176.5h0M1056.5 1177.8h0M975.4 1199.7h0M1001.5 1172.5h0M1065.5 1185h0M1092.3 1149.4h0M1046.8 1155h0M975.5 1211.6h0M973.5 1165.3h0M1005.9 1128.5h0M1020.9 1074.1h0M1063.8 1084.1h0M1098.2 1137.7h0M944.8 1185.5h0M993.8 1234.9h0M1058.8 1237.9h0M971.9 1214.2h0M972.7 1216.1h0M950.5 1170.2h0M949.7 1177.1h0M957.4 1137.7h0M987.2 1116.6h0M1094.4 1154.9h0M1092.5 1185.5h0M1357.4 1114.7h0M1342.5 1129.8h0M1339.8 1129.8h0M1342 1122.3h0M1340.5 1129.8h0M1341.2 1120.1h0M1339.2 1129.1h0M1345.5 1127.1h0M1340.6 1131.7h0M1346.5 1131.9h0M1342.1 1130.7h0M1326.8 1141.9h0M1348.7 1127.2h0M1326.9 1142.9h0M1334.5 1135.4h0M1330.6 1136.2h0M1336.9 1133.4h0M1344.5 1118.3h0M1330 1145.4h0M1341.6 1126.1h0M1328.9 1148.4h0M1330 1147.8h0M1339.1 1129h0M1338.2 1136.8h0M1331.1 1126.4h0M1322.3 1132.9h0M1344.4 1130.9h0M1342.9 1116.5h0M1365.3 1114.9h0M1329 1127h0M1331.8 1145.3h0M1356.4 1107.8h0M1314.7 1149.4h0M1356.7 1111.2h0M1315.3 1140.8h0M1346.4 1127.9h0M1331.5 1136.9h0M1336.7 1130.3h0M1329.4 1136.4h0M1335.3 1142.8h0M1344.8 1131.2h0M1347.9 1104.5h0M1339.8 1136.1h0M1332.8 1132.7h0M1339.3 1126.2h0M1327.4 1140.5h0M1337.7 1131.7h0M1346.4 1122.5h0M1342.9 1147.5h0M1333.8 1133.9h0M1333.1 1131.6h0M1321.6 1150.3h0M1345.6 1110.3h0M1330.8 1142h0M1331.9 1141.5h0M1332.7 1129.2h0M1333 1133h0M1333.7 1118h0M1346 1132.1h0M1339.4 1131.4h0M1332.8 1139.3h0M1331 1129.7h0M1316.8 1137.7h0M1342.1 1128.1h0M1349.1 1121.1h0M1339.4 1120.3h0M1315.9 1150.9h0M1335 1137.1h0M1335.1 1133.2h0M1338.4 1132.6h0M1340.2 1131.1h0M1331.6 1137.5h0M1318.1 1144.8h0M1335.8 1136.7h0M1324.4 1136h0M1343.9 1119h0M1316 1148h0M1316.4 1137.4h0M1339 1142.1h0M1326.6 1137.8h0M1349.1 1120h0M1340.8 1137.9h0M1324.7 1145.1h0M1342.9 1127.4h0M1321.8 1142.1h0M1354.9 1112.4h0M1338.1 1138.7h0M1318.5 1151.8h0M1323.9 1156.2h0M1327.3 1143.5h0M1328.1 1142.8h0M1340.3 1128.8h0M1334.7 1136.6h0M1332.8 1133.3h0M1346.5 1128.2h0M1319.7 1143.8h0M1330.2 1141.8h0M1328.2 1152.8h0M1338.1 1132.3h0M1343.4 1120.2h0M1342.3 1129.5h0M1346.6 1114.7h0M1353.4 1119h0M1343.4 1133h0M1333.9 1134.4h0M1344.4 1121.9h0M1353 1124.9h0M1340 1130.4h0M1327.3 1136.3h0M1348.2 1113.1h0M1339.1 1132.3h0M1325.6 1139.8h0M1337.4 1146.9h0M1345.9 1132.7h0M1361.5 1113.2h0M1349.1 1116.3h0M1335.3 1144.5h0M1348.6 1112.8h0M1350 1120.6h0M1348.8 1126.6h0M1354.5 1109.3h0M1341.7 1136.2h0M1336.6 1136.8h0M1330.6 1127.4h0M1334.8 1141.1h0M1326.4 1133.1h0M1332.6 1137.9h0M1343.6 1127.8h0M1339.1 1122.9h0M1328.6 1136.2h0M1334.5 1138.3h0M1350.2 1116.7h0M1352.2 1124.1h0M1322.9 1141.9h0M1334.2 1125.9h0M1350 1105.4h0M1327.7 1148h0M1332.4 1142.5h0M1331.1 1146.3h0M1334.1 1140.8h0M1342.5 1116.1h0M1322.3 1136h0M1329.4 1147.2h0M1340.2 1135.1h0M1355.7 1119.8h0M1343.4 1122.7h0M1334.7 1137.3h0M1350.2 1126h0M1339.6 1127.8h0M1342.6 1138.3h0M1347.5 1135.4h0M1333.4 1142.6h0M1342.5 1132.1h0M1331.1 1141.3h0M1336 1131.8h0M1320.5 1140.4h0M1336.2 1137.4h0M1341.2 1129.9h0M1336.2 1124h0M1348.8 1120.5h0M1328.1 1138.4h0M1348.4 1121.7h0M1328.1 1157h0M1328.6 1153.7h0M1342.8 1119.4h0M1354.8 1122.4h0M1350.6 1122.6h0M1341.8 1129.1h0M1333.2 1138.6h0M1350.4 1117.6h0M1352.4 1105.3h0M1332.9 1126.7h0M1320.7 1151.9h0M1332.5 1133.6h0M1326.1 1142.7h0M1320.6 1149h0M1328 1133.6h0M1335.5 1121.3h0M1343.1 1128.1h0M1343.6 1126.6h0M1344.9 1122.4h0M1328.1 1145h0M1328.5 1139.3h0M1335.7 1127.5h0M1342.4 1116.1h0M1350.1 1118.4h0M1358.9 1117h0M1345.7 1125.4h0M1334.1 1126.1h0M1328.8 1134.9h0M1330.1 1139.3h0M1330.2 1141h0M1333.5 1133.2h0M1343.4 1129.1h0M1323 1145.5h0M1367.6 1100h0M1339.4 1124h0M1353.1 1126.2h0M1343.2 1125.1h0M1331.4 1125.4h0M1342.7 1124.4h0M1343.1 1128.8h0M1347.3 1136.4h0M1344.9 1119.7h0M1346.2 1127.3h0M1343.1 1136h0M1327.9 1130.2h0M1328.3 1144.8h0M1328.2 1143.2h0M1323.7 1149.6h0M1332 1131.7h0M1331.2 1137.1h0M1347.9 1122.7h0M1336.2 1134.6h0M1348.4 1123.7h0M1353.1 1110.4h0M1346.5 1123.3h0M1333.4 1140.7h0M1349.7 1126h0M1339.6 1123.8h0M1340.8 1131.3h0M1355.1 1114.1h0M1344.8 1135.3h0M1336.9 1129.7h0M1343.4 1131.3h0M1333.5 1124.8h0M1337.2 1139.5h0M1333.2 1142.7h0M1336.7 1127.4h0M1338.4 1116.2h0M1311.1 1149.6h0M1342.2 1125.2h0M1343.9 1124.8h0M1337.3 1128.8h0M1337.2 1139.4h0M1340.9 1119.2h0M1350.6 1132.2h0M1342.2 1120.6h0M1346.1 1124.5h0M1337.9 1138.5h0M1348.4 1116.8h0M1337.6 1129.3h0M1343.4 1137h0M1335.4 1138.4h0M1340.7 1129.3h0M1328.5 1146.1h0M1329.2 1146.1h0M1337.3 1133.3h0M1330.1 1134.1h0M1327.4 1143h0M1337.9 1133.7h0M1337.5 1137.5h0M1339.6 1130.7h0M1335.3 1134.4h0M1341.9 1122.6h0M1327 1146.2h0M1342.1 1127.4h0M1335.7 1125h0M1328 1142.4h0M1333.1 1128.2h0M1335.9 1120.7h0M1346.6 1115.1h0M1328.5 1134.6h0M1323.1 1145.4h0M1317.5 1151.3h0M1338.4 1129.1h0M1332.5 1127.5h0M1314.5 1147.6h0M1349.5 1121.5h0M1325.6 1156.8h0M1347.8 1128.6h0M1352.4 1125.2h0M1320.9 1150.4h0M1336.6 1146.5h0M1344.6 1124.5h0M1327.8 1127.9h0M1335.8 1128.1h0M1353.9 1119.6h0M1335.5 1131.5h0M1347 1118.3h0M1349.5 1120.7h0M1336.1 1136.2h0M1349.7 1107.9h0M1347.8 1126.2h0M1340.1 1139.4h0M1346.3 1126.5h0M1329.5 1144.7h0M1326.4 1147.5h0M1356.3 1105.8h0M1349.6 1111.6h0M1340.8 1133.5h0M1324.2 1148.6h0M1327.7 1138.3h0M1345.9 1122.6h0M1341.8 1127.6h0M1346.9 1132.9h0M1337.9 1129.7h0M1340.4 1134h0M1334.9 1120.1h0M1338.4 1134.1h0M1362 1101.8h0M1330.9 1131.2h0M1330.9 1127h0M1328.9 1140.8h0M1321.5 1147.4h0M1335.1 1143.4h0M1361.1 1121.5h0M1341.4 1132.6h0M1359.3 1104.2h0M1351.7 1110.6h0M1342.9 1115.4h0M1333 1135.6h0M1328.3 1128.4h0M1337.9 1129.7h0M1354.7 1117.7h0M1316.2 1155.9h0M1348.1 1120.1h0M1325.7 1135.2h0M1330.7 1132.9h0M1333.7 1133.9h0M1347.2 1114.9h0M1337.2 1124.8h0M1344 1132.3h0M1327.7 1134.3h0M1338.1 1131.6h0M1332.6 1140.3h0M1340.7 1133.4h0M1326.3 1149.3h0M1347.6 1115.6h0M1358.5 1111.2h0M1313 1136.9h0M1326.2 1128.3h0M1343.8 1124.9h0M1338.3 1119.4h0M1309 1122.3h0M1321.1 1123.2h0M1335.7 1080.5h0M1335.7 1071.7h0M1341.7 1121.9h0M1316.9 1133.6h0M1348.6 1090.9h0M1343.7 1119.9h0M1343.2 1094.1h0M1365 1088.6h0M1347.7 1085.4h0M1361.9 1093.8h0M1351.4 1096.3h0M1359.3 1099.6h0M1355 1134.7h0M1360.5 1106.9h0M1340.3 1129.1h0M1323.8 1131.6h0M1340.4 1105.1h0M1353.9 1103.4h0M1331 1131.9h0M1358.8 1100.6h0M1349.9 1100.1h0M1324.7 1144.5h0M1354.1 1130.1h0M1361.8 1102.8h0M1355.1 1140.2h0M1332.1 1102h0M1305.3 1144.7h0M1340.4 1115.8h0M1374.8 1103.2h0M1345.7 1064.1h0M1339.8 1111.6h0M1317.1 1140.8h0M1333.7 1124.5h0M1361.2 1091.3h0M1372.6 1094.2h0M1350.2 1124.3h0M1349.4 1137.4h0M1346.7 1141.7h0M1369.3 1050.8h0M1358.5 1070.1h0M1361.7 1133.1h0M1369.5 1099.7h0M1352.8 1111h0M1350.6 1106.2h0M1328 1114.1h0M1373.6 1080.3h0M1383.8 1082.8h0M1341.6 1099.4h0M1341 1123.4h0M1339.9 1117.8h0M1303 1163h0M1336 1119.2h0M1324.3 1112.2h0M1345.2 1147.1h0M1324.1 1133.6h0M1329.5 1133.9h0M1336.8 1108h0M1344.8 1118h0M1367.3 1080.5h0M1364.5 1088.6h0M1355.4 1108h0M1369.9 1093.3h0M1297.1 1142.9h0M1347.4 1127.8h0M1351.2 1120.1h0M1365.1 1095.2h0M1334.6 1139.4h0M1355.2 1098.4h0M1342.8 1097.4h0M1348.7 1115h0M1305.1 1141.6h0M1373.4 1090.3h0M1361.7 1126.1h0M1343.6 1090.2h0M1350.1 1122.1h0M1375.7 1068.2h0M1356.7 1090h0M1362.1 1101h0M1347.3 1109.8h0M1345.4 1121.9h0M1349.1 1098.6h0M1362.1 1104.2h0M1359.1 1119.4h0M1316.2 1133.7h0M1367.8 1101.8h0M1364.5 1099.3h0M1341.4 1106.5h0M1342.9 1105.8h0M1331.8 1156h0M1365.4 1091.2h0M1314.8 1148h0M1363.4 1083.2h0M1352.3 1120.7h0M1331.5 1135.9h0M1335.8 1125.6h0M1328.4 1118.1h0M1353.6 1108.9h0M1366.1 1074.1h0M1349.5 1097.3h0M1353.5 1104.6h0M1314.8 1107.5h0M1345.3 1118.2h0M1351.8 1114.1h0M1338.8 1098.5h0M1336.6 1128.9h0M1334.2 1122h0M1368.7 1106.6h0M1311.6 1130.9h0M1343.4 1108.9h0M1346.1 1126h0M1340.2 1123.2h0M1349.9 1087.7h0M1340.3 1100.8h0M1361.1 1076h0M1342.7 1087.4h0M1356.1 1120.8h0M1376.3 1088.6h0M1322 1163.2h0M1368.2 1080.4h0M1356.9 1070.6h0M1354.4 1132.6h0M1372.8 1093h0M1359.4 1091.2h0M1367.3 1109.1h0M1365.3 1099.7h0M1364.1 1102.5h0M1340.6 1092.1h0M1346.5 1097h0M1340 1125.6h0M1336.8 1101.6h0M1339.2 1130.3h0M1339.1 1126.1h0M1351.7 1113.8h0M1338.4 1130.2h0M1342.7 1095h0M1348.9 1092.6h0M1357.9 1114h0M1344.7 1094.3h0M1318.7 1127.6h0M1356.6 1106h0M1322.8 1161.5h0M1360.3 1087.7h0M1346.7 1120.8h0M1324.5 1135.5h0M1351.4 1102.7h0M1346.5 1118.3h0M1376.9 1082.5h0M1346.5 1106.3h0M1366.9 1091.2h0M1358.1 1128h0M1358.8 1081.3h0M1353 1133.8h0M1353.2 1139.4h0M1362.1 1135.7h0M1310 1122.9h0M1357.1 1130.5h0M1345.5 1125.4h0M1369.5 1092.3h0M1348.9 1121h0M1340.2 1111.8h0M1336.5 1111.3h0M1343.8 1069.2h0M1299.1 1146.7h0M1319.2 1131.1h0M1345.3 1134h0M1329.5 1130.1h0M1307.8 1132.7h0M1334.9 1115.4h0M1361.3 1099.2h0M1322.2 1161.7h0M1321.3 1139.9h0M1319.7 1133.2h0M1323.4 1121h0M1330.1 1130.9h0M1364.2 1107.5h0M1358.9 1066.8h0M1350.6 1135.2h0M1324.6 1140.3h0M1372.4 1113.9h0M1357.9 1107.7h0M1348.5 1125.7h0M1350.1 1117.9h0M1333 1130.2h0M1319.5 1127.9h0M1322.6 1129h0M1328.1 1127.4h0M1322.6 1152.3h0M1365.5 1122.7h0M1291.6 1156.9h0M1320.1 1131.5h0M1337.5 1109.7h0M1339.2 1139.6h0M1325.8 1109.1h0M1382.8 1114.6h0M1362 1092.3h0M1366.8 1088.1h0M1341.5 1127h0M1367.5 1090.8h0M1326.1 1113.3h0M1337.3 1105.3h0M1329.5 1109h0M1320.8 1128.6h0M1322.5 1123h0M1373 1097.3h0M1329 1116.7h0M1360.6 1092.4h0M1364.2 1113.2h0M1342.3 1129.6h0M1348 1104.7h0M1335.8 1116.5h0M1284.4 1186.9h0M1382.2 1090.3h0M1390.8 1060.2h0M1353.4 1094h0M1323.7 1126.8h0M1360 1113.9h0M1319.9 1163.7h0M1367.7 1104.3h0M1325.5 1146.3h0M1337.1 1100.4h0M1353.5 1131.2h0M1345.2 1111.8h0M1323.4 1125.6h0M1347.3 1125.4h0M1356.5 1123.6h0M1330.4 1148.4h0M1354.6 1132.4h0M1317.7 1157.7h0M1341.3 1107.4h0M1362.9 1090.1h0M1344 1131.4h0M1329.6 1115.3h0M1331.9 1119.2h0M1346.4 1102.7h0M1348.5 1096.3h0M1333.8 1146.6h0M1321.5 1143.1h0M1297.3 1159.3h0M1339.3 1115h0M1346.8 1114.1h0M1379 1085.5h0M1345.7 1120.7h0M1363 1114.9h0M1344.2 1114.4h0M1346.7 1117.3h0M1360.5 1102.7h0M1301.8 1175h0M1309 1130.8h0M1301.6 1148.2h0M1331.8 1120.3h0M1338.9 1141.2h0M1387.4 1091.9h0M1333.7 1132.7h0M1314.9 1157.2h0M1353.7 1132.3h0M1358.4 1107.8h0M1362.4 1116.8h0M1332.9 1118.7h0M1323.6 1119.1h0M1311.8 1092.3h0M1333.2 1131h0M1371.8 1097.3h0M1349.1 1114.7h0M1368.2 1099.9h0M1355.6 1118.1h0M1335.3 1107.2h0M1371 1108h0M1366.7 1088h0M1328.7 1146.1h0M1316.7 1115.8h0M1339.5 1108.8h0M1340.9 1112.6h0M1366.2 1107.1h0M1364.1 1116.1h0M1338.3 1080.5h0M1321.8 1156.7h0M1327.7 1139.8h0M1371.5 1103.8h0M1359.3 1083.8h0M1346.7 1137.2h0M1341.4 1137.2h0M1343.1 1116.8h0M1325.6 1144.4h0M1373 1107.2h0M1353.6 1126.3h0M1357.6 1128h0M1327.4 1152.2h0M1325.9 1157.3h0M1335.1 1126.4h0M1331.7 1134.5h0M1337.6 1114.4h0M1334.7 1122.5h0M1350.6 1120h0M1383.2 1074.8h0M1357.4 1096.5h0M1372.2 1084.5h0M1338.8 1119.4h0M1341 1114.3h0M1364.1 1127.4h0M1338.2 1110.7h0M1313.3 1155.4h0M1320.6 1133h0M1349.9 1117.5h0M1362.8 1116.8h0M1322.6 1132.6h0M1320.4 1128.5h0M1325.5 1125.1h0M1345 1095.7h0M1359.8 1057.3h0M1342.5 1089.1h0M1324.6 1118.9h0M1348.7 1121.4h0M1331 1121.6h0M1320 1132.1h0M1323.7 1130.5h0M1353.3 1123.3h0M1313.3 1117.4h0M1345.7 1131.8h0M1330.7 1142h0M1313 1132.5h0M1329.5 1099.8h0M1311.2 1106.4h0M1330.2 1142.6h0M1328.7 1123.3h0M1343.3 1100.4h0M1321 1138.9h0M1343.5 1120.9h0M1351.7 1130.9h0M1351 1105.7h0M1365.4 1059.4h0M1339.7 1107.6h0M1380.5 1076.4h0M1360.2 1104.4h0M1361.5 1084.2h0M1341.4 1087h0M1363.1 1115.2h0M1362.8 1105h0M1313.8 1157.6h0M1352.1 1136.8h0M1358 1112.2h0M1369.1 1095.5h0M1313.5 1140.5h0M1304.9 1150.8h0M1357.3 1116.2h0M1318.4 1142h0M1364 1084h0M1389.1 1074.4h0M1334.3 1133.2h0M1332 1104.9h0M1347 1093.8h0M1354.4 1127.5h0M1330.8 1138.9h0M1333 1126.4h0M1348.8 1122.1h0M1366 1094h0M1332.7 1111.9h0M1354.8 1088.1h0M1329.8 1122.2h0M1351 1097.9h0M1344.9 1104.3h0M1363.6 1083.7h0M1370.1 1114.2h0M1361.2 1112.6h0M1339.3 1136.7h0M1342.1 1129.6h0M1340.6 1127.6h0M1339.6 1105.5h0M1329.7 1115.4h0M1374.5 1072.3h0M1317.1 1115.1h0M1365.1 1066.8h0M1331.8 1147.7h0M1362.3 1102.7h0M1345.2 1141.4h0M1295.7 1166.1h0M1292.7 1170.8h0M1275.3 1180.7h0M1282.3 1171.9h0M1281.7 1170.9h0M1279.2 1172.2h0M1290.9 1166.8h0M1287.8 1176.6h0M1290.2 1167.7h0M1290 1177.7h0M1272.7 1167.4h0M1291.7 1171.2h0M1281.1 1167.8h0M1278.3 1168.1h0M1287.9 1172h0M1290.3 1174.3h0M1290.1 1174.4h0M1287.3 1172.3h0M1275.4 1177.7h0M1288.3 1173.1h0M1284.2 1170.7h0M1292.9 1173.4h0M1288 1181.9h0M1278.6 1176.9h0M1285.4 1173.7h0M1285.5 1166.5h0M1285.8 1169.5h0M1280.8 1179.1h0M1288.1 1172.9h0M1295.5 1159.5h0M1293 1167.4h0M1280.8 1166.8h0M1282.6 1175.1h0M1279.3 1171.2h0M1284.2 1171.6h0M1286.5 1175h0M1282.8 1166.8h0M1288.8 1181.6h0M1280.7 1175.1h0M1285.6 1172.7h0M1287.6 1171.8h0M1295.8 1162.2h0M1270.5 1178.4h0M1276.2 1176.4h0M1292.7 1171.9h0M1279.2 1172.4h0M1280.4 1171h0M1281.8 1171.3h0M1279.9 1176.8h0M1283.7 1173.4h0M1291.1 1179.2h0M1292.2 1174.5h0M1293.6 1166.7h0M1279.5 1165.2h0M1290.8 1167.6h0M1281.3 1182.2h0M1292.8 1168.7h0M1288.7 1178.7h0M1278.4 1164.2h0M1276.7 1178h0M1295.4 1170.4h0M1291.2 1164.7h0M1279.1 1177.3h0M1283.7 1175.9h0M1294.4 1177.7h0M1284.1 1173.3h0M1273.8 1172.2h0M1282.1 1171.4h0M1288.7 1169.1h0M1279.2 1176.4h0M1290.2 1173.8h0M1288.9 1173.9h0M1295 1168.5h0M1281.5 1170.8h0M1290.6 1166.9h0M1275 1183.8h0M1279.2 1170.8h0M1280.5 1165h0M1286.1 1174.4h0M1279.6 1165.5h0M1282.6 1172.6h0M1283.7 1169.6h0M1284.1 1164.6h0M1283.4 1172h0M1283.4 1182.1h0M1287.6 1172.3h0M1279.3 1183.5h0M1281.3 1171.9h0M1298.3 1170h0M1286.7 1163h0M1317.4 1162.8h0M1313.7 1153h0M1301.1 1179.2h0M1321.8 1158.1h0M1303.9 1153.3h0M1330.9 1148.1h0M1331.1 1137.6h0M1300.6 1160.3h0M1299.6 1151h0M1310.9 1143.1h0M1271.9 1180.9h0M1293.9 1168.3h0M1286.9 1160.5h0M1276.3 1168.5h0M1310.2 1171.8h0M1311.9 1148.9h0M1323.4 1148h0M1276.7 1164.4h0M1285.3 1167.6h0M1304.2 1154.4h0M1295.9 1157.5h0M1311 1160.8h0M1297.4 1173.6h0M1294.6 1163.5h0M1328.7 1147.2h0M1299.6 1147.4h0M1305.7 1155.4h0M1307.3 1165.7h0M1305.8 1172.2h0M1307.2 1158.5h0M1302.6 1161.1h0M1323.5 1148h0M1290.9 1162.3h0M1322.4 1151.1h0M1295.1 1164.5h0M1309.3 1160.3h0M1294.6 1166.6h0M1287.3 1164.8h0M1308.2 1167.1h0M1311 1167.6h0M1315.5 1161.7h0M1297.5 1149.7h0M1277.6 1174h0M1327.3 1142.2h0M1302.1 1165.5h0M1300.1 1159.1h0M1309.9 1158.5h0M1295.9 1158.6h0M1322.6 1139.9h0M1294.3 1164.6h0M1305.3 1160.8h0M1330 1151.8h0M1306 1159h0M1317.6 1149.1h0M1304.1 1150.7h0M1310.7 1154.2h0M1289.2 1171.3h0M1334.6 1141.2h0M1300.9 1171.6h0M1311.1 1156h0M1328 1150.1h0M1328.9 1136.2h0M1300.4 1161.2h0M1304.2 1150h0M1304.5 1148.1h0M1298.2 1161.4h0M1310.4 1157.6h0M1297.9 1166.2h0M1309.4 1155h0M1304.5 1155h0M1333.4 1150.1h0M1314 1162.9h0M1293.3 1162.6h0M1303.6 1163.1h0M1298.7 1155.9h0M1283.5 1164.7h0M1319.3 1152.7h0M1295.5 1179.8h0M1298.4 1159.6h0M1304.1 1159.6h0M1301.2 1161h0M1318.9 1156.4h0M1297.1 1162.8h0M1295.1 1162h0M1303.7 1157.1h0M1310 1148.1h0M1313.5 1158.7h0M1301 1158.9h0M1312.1 1150.9h0M1302.7 1161.9h0M1278.1 1182.5h0M1311.1 1159.1h0M1287.5 1167.3h0M1313.4 1157.3h0M1297.1 1160.5h0M1325.8 1146.6h0M1316.3 1140.5h0M1309.3 1151.5h0M1304.4 1169h0M1289.6 1161.8h0M1296.6 1162.5h0M1307.9 1160h0M1323 1150.1h0M1331.6 1148.9h0M1312.2 1152.6h0M1321.8 1144.8h0M1318.3 1149.9h0M1301.6 1166.2h0M1315.6 1153.9h0M1319.9 1149.5h0M1297.4 1164.5h0M1325.4 1137.2h0M1283.7 1173.2h0M1298.4 1173.7h0M1304.6 1151.7h0M1301.9 1153.5h0M1315.4 1158.9h0M1324.7 1153.4h0M1310.1 1164.4h0M1307.4 1147.1h0M1319.6 1141.9h0M1293.2 1154.7h0M1288.2 1153.7h0M1287.9 1163.9h0M1290 1165.9h0M1314.6 1149.7h0M1315.4 1160.2h0M1304 1170.9h0M1305.3 1158.1h0M1315.3 1162.2h0M1294.5 1173.1h0M1300.4 1162.5h0M1284.5 1153h0M1323.1 1152.2h0M1289.8 1162h0M1291.1 1167.8h0M1330.6 1140.2h0M1287.9 1176.1h0M1289.1 1157.1h0M1310.7 1154.7h0M1310.7 1160.3h0M1310.2 1138.9h0M1312.3 1162.7h0M1317.5 1142.1h0M1279.6 1167.4h0M1310.1 1153.6h0M1315.4 1150.2h0M1286.4 1162.7h0M1306.1 1164.4h0M1320.5 1140.3h0M1361 1166.8h0M1339.9 1166.9h0M1373.2 1159.8h0M1356 1172.2h0M1361.7 1171.8h0M1345.8 1170.2h0M1359.7 1170.1h0M1343.7 1161.9h0M1367.9 1170.6h0M1366.8 1164.4h0M1334.2 1174.3h0M1380.3 1162.3h0M1355.3 1158.2h0M1350.6 1177.8h0M1359.6 1166.9h0M1372.2 1168.1h0M1362 1165.8h0M1363.2 1173.6h0M1356.9 1160.1h0M1353.3 1168.2h0M1363.7 1175h0M1354.2 1166.8h0M1365.6 1168.8h0M1347.9 1175.2h0M1359 1170.4h0M1333.9 1163.6h0M1334.7 1165.3h0M1369.6 1171h0M1344.2 1183.5h0M1341 1169h0M1378.4 1152.1h0M1366 1171.1h0M1370.4 1168.4h0M1362.3 1177.4h0M1355.3 1170h0M1359.9 1165.4h0M1357 1177.1h0M1376.3 1165.9h0M1353.7 1166.6h0M1350.7 1168.5h0M1350.7 1170.4h0M1355.8 1176.6h0M1338.7 1172.6h0M1364.6 1163.2h0M1352.5 1174.2h0M1353 1163.6h0M1359.2 1172.3h0M1338.4 1181.8h0M1337.6 1180.6h0M1341.3 1176.1h0M1357.9 1175.5h0M1354.3 1166.9h0M1347.9 1173.6h0M1355.2 1175.5h0M1363.7 1174.9h0M1364.8 1167.2h0M1356.8 1173.2h0M1362.1 1157.8h0M1360 1165.2h0M1361.7 1172.6h0M1333.5 1176.6h0M1364 1154.4h0M1358.8 1168.3h0M1351.6 1177h0M1367 1165.4h0M1375.8 1172h0M1360.4 1173.4h0M1370.2 1175.9h0M1367.2 1169.9h0M1359.3 1173h0M1374.5 1162h0M1353 1163.7h0M1385.3 1155.9h0M1349.2 1167.8h0M1370.9 1166.3h0M1333.1 1178.6h0M1377.6 1161.1h0M1364.1 1186.1h0M1353.1 1168.9h0M1369.2 1181.2h0M1358 1157.5h0M1354.3 1168.5h0M1364.4 1163.8h0M1355.2 1160.8h0M1341.9 1174.9h0M1373.4 1156.3h0M1340.6 1183h0M1362.8 1172.4h0M1355.1 1171.4h0M1355.5 1169.6h0M1376.5 1159.2h0M1351.9 1170.9h0M1358.2 1180.2h0M1355.5 1172.2h0M1343.4 1177.7h0M1365.5 1170.4h0M1336.5 1172.2h0M1329.6 1190.5h0M1359 1179.5h0M1381.3 1167.2h0M1348.7 1170.6h0M1361.4 1154h0M1376 1172.3h0M1366.1 1163.8h0M1357.3 1157.9h0M1344.5 1170.5h0M1351.4 1182.5h0M1356.5 1152.6h0M1371.1 1167.3h0M1352.2 1165.8h0M1381.3 1161.8h0M1356.1 1158.3h0M1351.8 1177.1h0M1357.1 1165.9h0M1349.4 1160.8h0M1329 1182.9h0M1336.1 1165.8h0M1362.3 1173.5h0M1354.9 1177.3h0M1350.1 1149.9h0M1373.1 1155.6h0M1374.3 1160.7h0M1354.6 1166.6h0M1346 1177.1h0M1378.9 1169.9h0M1351.1 1174.6h0M1370 1168.2h0M1345.8 1187.2h0M1346 1167.3h0M1358.6 1170h0M1347 1163.5h0M1342.1 1174.4h0M1336.9 1184.1h0M1364.6 1167.7h0M1356.9 1163h0M1351.9 1177h0M1353.9 1181h0M1369.9 1169h0M1351.6 1164.5h0M1352.5 1163.9h0M1351.4 1168.5h0M1352.4 1178.5h0M1344.4 1168.4h0M1370.9 1165.7h0M1360.9 1163.2h0M1363.2 1175.8h0M1357.6 1171.7h0M1372.1 1167.6h0M1368.3 1156.6h0M1333.3 1169.8h0M1359.9 1163.2h0M1336.8 1188.8h0M1370.6 1160.3h0M1347.2 1167.7h0M1365.9 1168.8h0M1361.1 1176.9h0M1344.1 1165.3h0M1356.3 1168.9h0M1358.5 1171.3h0M1341.8 1185.4h0M1336.2 1178.8h0M1362.4 1172.7h0M1357.2 1163.2h0M1351.1 1161.6h0M1354 1168.5h0M1339.3 1190.6h0M1350.5 1175h0M1371.7 1163.4h0M1349.1 1164.1h0M1346.1 1167.9h0M1356.3 1174.7h0M1362 1177.5h0M1361.6 1168.9h0M1320.1 1181.2h0M1356.2 1159h0M1354.1 1165.1h0M1353.8 1169.8h0M1352.9 1170h0M1361.2 1169.5h0M1350.6 1177.6h0M1357.8 1171.2h0M1380.5 1171.9h0M1381.4 1158.4h0M1362.3 1170.3h0M1357.2 1167.8h0M1368.7 1172.5h0M1381 1156.5h0M1360.1 1162.6h0M1348 1155.9h0M1377.7 1150.4h0M1353.7 1157.8h0M1350.1 1164.3h0M1329.5 1171.7h0M1353.4 1169.4h0M1335 1181.3h0M1350.1 1163.6h0M1372.6 1158.4h0M1362.3 1177.4h0M1356.7 1168.2h0M1366.6 1162.4h0M1356.8 1167.9h0M1353.5 1175.4h0M1362.7 1176.6h0M1357.8 1158.9h0M1360.3 1165.7h0M1355.5 1176.1h0M1357.6 1157.6h0M1379.5 1159.7h0M1336.4 1174.1h0M1359.5 1160.2h0M1342.2 1161.9h0M1358.2 1164.8h0M1374.7 1164.3h0M1357.7 1164.4h0M1364.7 1156.6h0M1360.6 1170.9h0M1344.4 1165.2h0M1373.9 1175.4h0M1364.9 1178.7h0M1361.2 1166h0M1348.8 1163.4h0M1365.7 1161.8h0M1349.6 1174.1h0M1360.3 1162.5h0M1358.3 1167.3h0M1357.5 1167.7h0M1345.9 1156.1h0M1351.9 1178.9h0M1352.7 1171.6h0M1361.1 1160.4h0M1356.4 1167.2h0M1361.8 1171.3h0M1356.6 1167.5h0M1367.6 1165.8h0M1341.6 1183.1h0M1360.2 1163.6h0M1353.4 1163.6h0M1354.5 1159.5h0M1369 1167.7h0M1345.6 1176.4h0M1337.9 1172.1h0M1345.9 1177.6h0M1361.3 1157.9h0M1359.4 1171.4h0M1357.5 1185.4h0M1340.6 1184h0M1373 1160.6h0M1345.5 1181.3h0M1326.9 1179.5h0M1339.3 1175.1h0M1346.5 1163.6h0M1365.2 1173.8h0M1341.5 1178.9h0M1355.7 1164.6h0M1351.1 1174.8h0M1368.6 1162.6h0M1328.9 1184.5h0M1356.4 1155.5h0M1349.9 1171.3h0M1353.3 1172.2h0M1347 1176.8h0M1324.5 1183h0M1348.8 1170.9h0M1366.7 1174.6h0M1343.8 1172.8h0M1344 1173.7h0M1346.4 1164.3h0M1369.9 1166.5h0M1358.9 1177.2h0M1337.5 1178.5h0M1374 1160h0M1343.9 1168h0M1372.8 1170.3h0M1361.8 1173.4h0M1347.2 1169.6h0M1363.5 1159.8h0M1358.4 1168h0M1346.3 1174h0M1339.4 1170.6h0M1329.7 1169.8h0M1346.2 1175.1h0M1353.2 1161.3h0M1357.8 1183.9h0M1357.6 1171.2h0M1329.8 1175.1h0M1366 1155.4h0M1343.5 1168.3h0M1355.5 1173.3h0M1336.7 1180.7h0M1322.6 1174.7h0M1357.9 1160.2h0M1344.5 1169.4h0M1372.2 1156h0M1371.3 1176.9h0M1349.2 1165.7h0M1353.3 1162.9h0M1348.7 1164.1h0M1334.3 1165.6h0M1364.8 1160.9h0M1344.2 1180.5h0M1342.8 1175.5h0M1330.9 1183.2h0M1339.3 1175.1h0M1346.4 1189.5h0M1347.8 1196.4h0M1366.1 1159.8h0M1321.7 1168.2h0M1333.1 1192.3h0M1338.4 1174.4h0M1397.3 1178h0M1352.7 1185h0M1331.7 1175.3h0M1366.2 1191h0M1321.2 1182.7h0M1318 1186h0M1349.8 1157.6h0M1340.8 1176.1h0M1372.1 1180.1h0M1339.9 1172.5h0M1366.1 1171.6h0M1324.3 1186.5h0M1361.3 1174.3h0M1353.5 1196.9h0M1338.1 1191.3h0M1388.1 1190.6h0M1323.3 1192.2h0M1358.4 1208h0M1379.2 1183.7h0M1375.7 1178.5h0M1331.6 1213.1h0M1312 1198.5h0M1365.5 1176.4h0M1370 1172.3h0M1366.3 1176.8h0M1334.4 1195.4h0M1337 1190h0M1324.9 1187.9h0M1363.7 1189.9h0M1321.3 1178.3h0M1343.8 1165.6h0M1369.1 1205h0M1364.9 1182.5h0M1330.9 1190.8h0M1366.2 1200.3h0M1343.9 1196.4h0M1338.8 1177.2h0M1339 1184.7h0M1312.9 1183h0M1374.7 1146.8h0M1370.1 1183.1h0M1335.4 1171.4h0M1372 1167.4h0M1353.7 1174.1h0M1326.1 1198.5h0M1359.2 1162.8h0M1368.2 1156.2h0M1321.9 1197.2h0M1338 1181.3h0M1379.8 1155.4h0M1360.1 1169.8h0M1349.1 1175.3h0M1330.1 1184.1h0M1327.1 1184.4h0M1325.4 1180.9h0M1345.9 1160.1h0M1348.6 1187.9h0M1353.5 1189.7h0M1327.4 1192h0M1345.4 1195.6h0M1380.7 1171.3h0M1379.1 1175.2h0M1328.6 1177.6h0M1368 1173.2h0M1359.7 1176.8h0M1356.7 1198.9h0M1344.5 1167.7h0M1357.5 1171.3h0M1357.2 1194.2h0M1309.3 1184.8h0M1338.5 1208.9h0M1322.2 1171h0M1334.3 1178.8h0M1296.9 1180.5h0M1342.3 1190.9h0M1353.6 1200.9h0M1340.4 1175.5h0M1379.5 1173h0M1366.7 1162.7h0M1326.2 1184.6h0M1344.6 1165.1h0M1373.4 1157.1h0M1330 1183.5h0M1338.6 1217.3h0M1342.6 1176.8h0M1325.3 1183.5h0M1332.6 1177h0M1367.9 1165.2h0M1354.9 1168.2h0M1367.5 1163.1h0M1325.2 1181.3h0M1374.2 1166.1h0M1327.7 1182h0M1332.7 1186.2h0M1333.5 1186.7h0M1369.2 1179.5h0M1382.2 1173.5h0M1393 1183.6h0M1344.2 1190.1h0M1330.6 1180.5h0M1343.1 1169.3h0M1354.2 1175.7h0M1394.5 1176.5h0M1340 1171.7h0M1333.4 1173.2h0M1331.1 1183.2h0M1316.7 1182.8h0M1356.6 1168.4h0M1321.1 1179.1h0M1364.1 1164h0M1376.5 1148.6h0M1331.9 1191.1h0M1376.8 1168.1h0M1310.1 1185h0M1325.2 1175.4h0M1337.3 1173.3h0M1347.2 1180.7h0M1384.7 1165.4h0M1366.1 1181.8h0M1357.6 1173.7h0M1373.4 1155.8h0M1360 1183.4h0M1340.4 1161.8h0M1376.6 1174.7h0M1371.7 1197.6h0M1345.3 1179.5h0M1346.8 1180.8h0M1383.6 1154.1h0M1348.5 1178.2h0M1364.1 1171h0M1322.3 1167.6h0M1338.1 1179.5h0M1355.4 1199.1h0M1366.7 1183.4h0M1368.3 1168.1h0M1371.5 1188.9h0M1330.9 1203.1h0M1326.1 1204.1h0M1353.5 1170.3h0M1324.8 1181.2h0M1389.3 1188.9h0M1336.2 1197.9h0M1402.7 1176.8h0M1381.8 1167.7h0M1375 1186.6h0M1325.1 1188.4h0M1353.4 1185.4h0M1362.2 1160.3h0M1342.8 1158.6h0M1328.6 1194.3h0M1343.1 1199.2h0M1316.2 1197.7h0M1346.5 1192.4h0M1354.9 1179.3h0M1350.5 1181h0M1331.2 1189.8h0M1353.2 1175.2h0M1358.7 1175.8h0M1356.3 1165.9h0M1354.4 1196h0M1347 1181.4h0M1375.6 1186.7h0M1348.4 1166.9h0M1330.9 1182.8h0M1311.1 1204.9h0M1352.3 1192.3h0M1367.4 1166h0M1355.7 1161.8h0M1332.5 1200.8h0M1333.8 1172.3h0M1358.7 1176.3h0M1365.5 1157.2h0M1339 1166.9h0M1347.9 1175.2h0M1341.8 1160.2h0M1310.8 1189h0M1338 1182.6h0M1311.4 1185.8h0M1364.9 1187.6h0M1350.4 1176.7h0M1360.1 1166.5h0M1330.5 1199.8h0M1331.4 1178.8h0M1364.9 1186.4h0M1397.5 1138.1h0M1337 1161.9h0M1380.4 1191.1h0M1376.3 1173.7h0M1312.6 1206h0M1336.1 1175.7h0M1373.6 1178.4h0M1324.2 1180.8h0M1341.5 1178.7h0M1327.3 1204.4h0M1347.6 1187.8h0M1378.9 1199.6h0M1361.9 1165.5h0M1341.6 1192.3h0M1380 1150.9h0M1388.9 1160.5h0M1342.8 1174.6h0M1360.8 1172.9h0M1344.4 1167.6h0M1381.8 1174.7h0M1354.6 1205.6h0M1367.4 1192.2h0M1343 1182.2h0M1348 1190.6h0M1349.2 1156.1h0M1360.5 1172.7h0M1357.3 1189.4h0M1344.6 1188.4h0M1348.7 1177.7h0M1337 1180.5h0M1344.4 1190.5h0M1299.8 1199.6h0M1343.4 1166.3h0M1365.8 1173.8h0M1365.4 1192.3h0M1348.1 1157.8h0M1313.2 1187.6h0M1329.2 1212.7h0M1340.6 1157.1h0M1299 1184.9h0M1297 1199.2h0M1300.7 1203.4h0M1341.7 1195.7h0M1321.4 1180.1h0M1367.4 1152.3h0M1368.2 1193h0M1326.1 1182.9h0M1390.3 1187.6h0M1384.2 1168.1h0M1340.1 1179h0M1343.1 1191.4h0M1369.1 1180.4h0M1336.3 1192.7h0M1360.5 1178.9h0M1374.7 1167h0M1355.3 1191.9h0M1335.2 1194.4h0M1370.2 1193.3h0M1375.6 1164.1h0M1386.9 1162.6h0M1321.8 1182.5h0M1338.3 1169.9h0M1372.3 1179.6h0M1358 1158.2h0M1390.8 1174h0M1375.9 1176.5h0M1359.8 1186.3h0M1357.3 1195.3h0M1355.1 1178.7h0M1359.9 1179.7h0M1359.9 1186.2h0M1379.7 1192h0M1335.8 1194.4h0M1349.9 1170.5h0M1342.6 1180.7h0M1299 1195.3h0M1330.6 1179.3h0M1328.5 1172.7h0M1317.5 1187.7h0M1386.9 1163h0M1368.9 1198.2h0M1345.1 1181.1h0M1346.8 1172.4h0M1349.5 1208.9h0M1370.3 1196.7h0M1350.8 1202.3h0M1331 1195.6h0M1329.8 1164.6h0M1362.6 1194.7h0M1359.5 1184.9h0M1349.3 1171.3h0M1340.5 1184.7h0M1336 1178.4h0M1316.5 1216.3h0M1325.7 1190.6h0M1366.5 1176.4h0M1376.2 1183.3h0M1358.6 1183.4h0M1376 1189.1h0M1336.1 1173.3h0M1344.4 1190.2h0M1320.1 1181.6h0M1359.1 1182.1h0M1334.4 1175.1h0M1340.2 1174.1h0M1356.6 1179.9h0M1362.9 1162.2h0M1370.1 1174.9h0M1336.7 1175.3h0M1349.8 1177.6h0M1319.6 1184h0M1382.9 1206.7h0M1337.2 1180.1h0M1348.4 1176h0M1357.2 1177.5h0M1364.1 1152.1h0M1350.4 1209.3h0M1351.6 1172.4h0M1351.4 1176.9h0M1344.2 1188.5h0M1359.3 1191.6h0M1406.8 1173.4h0M1362.2 1195.2h0M1325.4 1209.4h0M1323.4 1180h0M1346.6 1162.4h0M1336.6 1184.9h0M1354.1 1159.6h0M1286.7 1204.8h0M1314.6 1193.1h0M1362.6 1186.2h0M1335.4 1175h0M1416.5 1159.9h0M1323.1 1169h0M1349.7 1201.8h0M1361.9 1164.1h0M1317.4 1179.6h0M1350.1 1182.8h0M1363.9 1190h0M1363.5 1187.3h0M1360.1 1184.9h0M1315.7 1189.3h0M1361.1 1180.9h0M1323.2 1188.9h0M1368.1 1191.6h0M1341.3 1176.9h0M1331.1 1182.3h0M1348.7 1184.3h0M1332.7 1165h0M1348.9 1188.7h0M1376.9 1170.7h0M1341.2 1171.5h0M1380.2 1163h0M1338.1 1181.6h0M1344.7 1181.3h0M1364.3 1197.6h0M1362 1181.4h0M1324.7 1215.1h0M1363.8 1187h0M1342.1 1180h0M1340.7 1179.2h0M1343.4 1191.3h0M1372.8 1172.4h0M1345.8 1191.3h0M1346.8 1187.2h0M1340 1200.3h0M1341.3 1188.8h0M1388.4 1174.1h0M1346.3 1189.9h0M1375.6 1142.9h0M1340.6 1179.7h0M1363.5 1155.5h0M1367.5 1175.3h0M1358.6 1163.3h0M1386.4 1203.9h0M1354.4 1185.8h0M1353.6 1178.1h0M1361.1 1195.2h0M1359.2 1174.6h0M1328.3 1167h0M1397.5 1171.4h0M1343.6 1192.4h0M1352.3 1161.9h0M1342.8 1177.4h0M1338.6 1176.5h0M1361 1155h0M1326.1 1169.5h0M1396.4 1100.7h0M1316.7 1130.1h0M1351.1 1146.9h0M1322.9 1170.7h0M1360.7 1138.6h0M1332.8 1182.2h0M1368.7 1209.4h0M1383.3 1177h0M1376.2 1162.3h0M1311.2 1169.6h0M1332.5 1128.4h0M1329.2 1094.9h0M1325.7 1148.6h0M1405.8 1153.6h0M1360.2 1128.8h0M1285.8 1130.5h0M1345 1131.2h0M1349.6 1156.9h0M1313.2 1134.1h0M1323.4 1139.3h0M1312 1145.5h0M1308.2 1191.2h0M1356.9 1130.7h0M1336.5 1140.2h0M1387.6 1171.2h0M1412.2 1137.8h0M1349.6 1125.9h0M1302 1121.9h0M1375.3 1119.6h0M1321.5 1221.3h0M1371.9 1213.4h0M1332.1 1185.5h0M1342.4 1092.4h0M1383.7 1172.2h0M1372 1125.3h0M1285.5 1167h0M1316.2 1128.4h0M1332.6 1171.5h0M1307.7 1147.3h0M1337 1140.7h0M1330.5 1133.6h0M1357 1085.4h0M1378.3 1056.5h0M1382.1 1062.3h0M1356.1 1063h0M1301 1075.7h0M1391.7 1074.5h0M1399.4 1084.1h0M1267.4 1128.1h0M1252 1165.6h0M1253.2 1171.3h0M1260.8 1182.8h0M1257.8 1194.3h0M1404.3 1164.8h0M1319.8 1232.9h0M1319 1240.2h0M1324 1247.5h0M1289.2 1216.1h0M1282.7 1203.9h0M1363 1217.2h0M1655.7 1183.3h0M1662 1181.3h0M1677.6 1163.8h0M1659.3 1178.3h0M1644.4 1185.3h0M1634.5 1190.4h0M1659.3 1174.6h0M1669.5 1169.5h0M1651.6 1184.2h0M1660.5 1182.1h0M1659.2 1187.4h0M1660 1183.6h0M1661.9 1178.1h0M1666.2 1169.1h0M1652.4 1184h0M1659.5 1177.9h0M1657.4 1177.2h0M1658.4 1187.1h0M1641.9 1193.3h0M1639.1 1186.9h0M1667.7 1174.9h0M1659.6 1186.4h0M1653.7 1183.7h0M1661.4 1178.6h0M1675.1 1171h0M1671.8 1167.3h0M1667.4 1182.4h0M1648.4 1185.8h0M1658.1 1173.4h0M1657.5 1181.5h0M1666.9 1189.9h0M1639.9 1192.9h0M1648.8 1185.6h0M1652.6 1189.8h0M1656.6 1188.4h0M1669.5 1172.3h0M1670.2 1176.3h0M1631.3 1194.1h0M1669.4 1159.8h0M1649.6 1186.9h0M1659.6 1174.8h0M1655.6 1182.5h0M1659.7 1166.4h0M1663.3 1173.2h0M1662.3 1166.1h0M1644.6 1185.9h0M1658.5 1170.7h0M1679.9 1158.4h0M1651.2 1190.5h0M1638.4 1199.3h0M1662 1170.2h0M1653.1 1187.2h0M1644.5 1178.7h0M1644.6 1181.9h0M1656.8 1179.1h0M1640.8 1192.3h0M1648.6 1171.7h0M1669.6 1188h0M1672.6 1167h0M1658.9 1173.9h0M1663 1180.4h0M1632.2 1193.3h0M1648.4 1199.6h0M1658.5 1176.7h0M1699.9 1155.3h0M1637.6 1192.9h0M1661.8 1171.5h0M1681.5 1164.4h0M1666.8 1169.8h0M1656.3 1179.2h0M1670.7 1166.5h0M1674.4 1166.2h0M1654.8 1184.8h0M1634 1194h0M1642.7 1187.4h0M1660.9 1181.2h0M1661.4 1183h0M1632 1199.9h0M1659.1 1183.6h0M1647.9 1168.2h0M1661.5 1182.9h0M1654.8 1182.5h0M1672.4 1174.4h0M1660.5 1182.8h0M1658.5 1170.6h0M1640.2 1186.9h0M1648.6 1168.5h0M1662.9 1175h0M1656.8 1178.2h0M1666 1177.4h0M1663.7 1178.2h0M1666.3 1187h0M1656.8 1171.2h0M1637.7 1189h0M1653 1180.8h0M1650.8 1185.2h0M1628.1 1203.2h0M1664 1181.2h0M1640.4 1185.6h0M1657 1186.7h0M1631.1 1197.5h0M1683.1 1166.7h0M1630.9 1191.7h0M1648 1192.8h0M1666.2 1174.2h0M1649 1179.7h0M1623.8 1199.9h0M1639.8 1187.3h0M1648.5 1183.2h0M1668.7 1171.1h0M1670.3 1171.8h0M1652.2 1185.6h0M1654.3 1182.8h0M1669.2 1168h0M1658.7 1187.7h0M1646.2 1183h0M1658.8 1170.8h0M1672.4 1163.2h0M1653.3 1178h0M1639.2 1171.8h0M1658.1 1176.9h0M1657.8 1179.6h0M1639.1 1178.4h0M1646.3 1176.8h0M1638.2 1189.4h0M1636.1 1190.1h0M1668.2 1179h0M1653.7 1179.8h0M1631 1191.1h0M1676.7 1172.6h0M1645.8 1171.9h0M1672.8 1166.7h0M1644.7 1183.2h0M1644.9 1191.7h0M1652.2 1194.4h0M1644.8 1185.7h0M1639.1 1190.8h0M1663.1 1163.7h0M1653 1177h0M1663.6 1175.2h0M1671.7 1174.2h0M1671.1 1174h0M1654.4 1173.4h0M1663 1170.5h0M1648.9 1185.8h0M1671.4 1177.1h0M1663.7 1178.1h0M1658.5 1190.4h0M1665.4 1173.3h0M1668.7 1191.5h0M1636.6 1187.1h0M1674.6 1167.6h0M1668.1 1193.3h0M1658.2 1178.5h0M1673.1 1166.5h0M1663.1 1184h0M1657.1 1191.9h0M1654.6 1183.2h0M1663.7 1170.8h0M1670.7 1180.6h0M1671.9 1176.9h0M1652.8 1183.9h0M1673.3 1165.3h0M1683.6 1167.1h0M1639.4 1180.7h0M1656.6 1175.4h0M1656.9 1184h0M1660.3 1160.5h0M1640.1 1186.3h0M1670.9 1168.8h0M1650 1186.7h0M1663.4 1175h0M1672.3 1182.9h0M1665.7 1174.6h0M1648.9 1184.2h0M1656.3 1181.3h0M1654.3 1179h0M1658 1182.4h0M1652.7 1177.7h0M1654.6 1180.7h0M1646.7 1183.9h0M1662.8 1173h0M1657.8 1193.6h0M1671.7 1172.9h0M1648.4 1186.1h0M1668 1179.9h0M1659.4 1178.3h0M1658.5 1185.8h0M1662.3 1187.9h0M1646.5 1192.1h0M1639.4 1185.4h0M1669.3 1167.3h0M1648.5 1176.5h0M1680.2 1170.4h0M1654.3 1181.1h0M1653 1173.6h0M1667.9 1169.7h0M1634.9 1197.7h0M1672.9 1163.2h0M1647.4 1188.9h0M1648.1 1169.8h0M1641.7 1193.1h0M1642.5 1186h0M1662.6 1181.8h0M1666.7 1194.7h0M1666.1 1174.3h0M1670 1184h0M1650.3 1178.5h0M1674.5 1174.7h0M1652.3 1172.1h0M1649.7 1174.8h0M1679.1 1167.1h0M1661 1173.7h0M1639.8 1205.8h0M1677.8 1163.4h0M1659.7 1174.2h0M1668.3 1162.1h0M1672.9 1184.6h0M1660.5 1161.9h0M1660.9 1175.1h0M1673.4 1180.4h0M1665.5 1180h0M1656.6 1166.2h0M1650.2 1188.9h0M1634.1 1172h0M1648 1180.8h0M1660.4 1182.2h0M1640 1183.6h0M1666.7 1185.3h0M1643 1183.3h0M1645.4 1186.3h0M1672.4 1170h0M1638.8 1178.7h0M1673.3 1166.7h0M1675.8 1179.4h0M1636.8 1203.4h0M1661.9 1175.2h0M1661.5 1177.3h0M1648 1178h0M1648.2 1181h0M1652.5 1180.9h0M1668.3 1183.7h0M1660.2 1181.2h0M1630.1 1180.7h0M1676.8 1160h0M1656.9 1178.8h0M1670 1179h0M1634.8 1192h0M1674.5 1169.7h0M1677.7 1171h0M1671.2 1174.6h0M1652.3 1161.3h0M1657.7 1166.7h0M1657.5 1189.5h0M1643.6 1186.6h0M1645.2 1183.1h0M1647.6 1194.9h0M1631.1 1181.1h0M1673.5 1162.4h0M1670.9 1175.9h0M1637.4 1193.3h0M1662.9 1173h0M1681.5 1164h0M1667.6 1171.4h0M1646.5 1182.5h0M1648.7 1192.4h0M1641.8 1175h0M1651.8 1189.8h0M1628.6 1205.7h0M1631.2 1195.5h0M1660.3 1177.1h0M1656.8 1176.2h0M1641.5 1190.4h0M1673.3 1173.3h0M1650.9 1177.4h0M1645.6 1185.6h0M1665 1178.9h0M1671.3 1166.1h0M1635.9 1190.6h0M1662.7 1165h0M1648.5 1190.9h0M1657 1182.1h0M1661.3 1175.4h0M1646.9 1197.1h0M1655.4 1196.1h0M1664.5 1175.1h0M1643.8 1192.2h0M1657.1 1164.2h0M1658.8 1174.1h0M1661.2 1176.7h0M1647.9 1187.3h0M1665.8 1174.5h0M1687.9 1157.8h0M1642.4 1216.2h0M1656.6 1178h0M1650 1181.4h0M1660 1189.4h0M1663.7 1181.9h0M1668 1172.4h0M1657.4 1182.9h0M1669.4 1175.6h0M1685.4 1169h0M1660.5 1184.5h0M1679.7 1169.6h0M1660.7 1179.9h0M1645.7 1199.4h0M1667 1168.7h0M1653.1 1180.9h0M1670.2 1163.4h0M1664.9 1188.6h0M1668.2 1179.3h0M1658.7 1188h0M1662 1185.7h0M1658.2 1180.2h0M1677.2 1174.6h0M1645.9 1190.1h0M1650.7 1179.1h0M1665.5 1181h0M1652.2 1170.8h0M1643.6 1191.4h0M1665.3 1192.2h0M1639.5 1181.2h0M1650.7 1191.2h0M1650 1175.5h0M1655.5 1174.7h0M1656.9 1173.3h0M1651.1 1183.3h0M1642 1198.8h0M1665.5 1174.8h0M1640 1188.4h0M1646 1176.6h0M1650.1 1174.4h0M1669.6 1178.8h0M1657.8 1179.9h0M1625.9 1200h0M1639.8 1194.1h0M1654.7 1179.8h0M1621.6 1197h0M1649.8 1179.4h0M1669 1165.2h0M1675.4 1161.1h0M1644.5 1184h0M1647.2 1185.2h0M1659.9 1174.6h0M1668 1171.7h0M1644.7 1191.8h0M1656.2 1189.7h0M1682.1 1167.7h0M1680.6 1172.9h0M1665.7 1163.5h0M1655.5 1175.9h0M1653.4 1181h0M1651 1170.6h0M1664.4 1182.5h0M1674.9 1173.4h0M1655.2 1178.4h0M1635 1184.7h0M1675.6 1181.8h0M1658 1180.3h0M1677.5 1172.1h0M1672.3 1183.2h0M1653.9 1183.1h0M1659 1172.2h0M1658.6 1179.1h0M1657.3 1187.4h0M1642.5 1189.8h0M1658.6 1178.9h0M1664.5 1169.4h0M1646.3 1171.3h0M1638.7 1185.3h0M1661.5 1181.7h0M1623.1 1201h0M1665.5 1172.9h0M1649.2 1180.4h0M1653.9 1186.5h0M1669 1171.3h0M1653.2 1183h0M1659.3 1175.5h0M1659.5 1173.1h0M1659 1180.5h0M1647.1 1201.3h0M1653.4 1187.3h0M1654.8 1175.7h0M1649.9 1164.9h0M1659 1176.6h0M1655.6 1167.6h0M1657.5 1169.9h0M1674.6 1174.7h0M1644.1 1184.3h0M1656.3 1175.4h0M1649.6 1192.2h0M1679.4 1150.6h0M1662.7 1171.9h0M1647.3 1190.6h0M1653.5 1182.8h0M1645.9 1200.2h0M1645.8 1198.1h0M1665.8 1168h0M1680.3 1153.5h0M1673.4 1169.1h0M1666.4 1171.4h0M1654.9 1184.4h0M1665.6 1167.3h0M1642.1 1184.3h0M1666.3 1167.9h0M1644.6 1185.7h0M1650 1201.5h0M1646.3 1180h0M1674.3 1173.6h0M1671.3 1172.2h0M1663.9 1182.3h0M1661.6 1181.8h0M1653 1183.9h0M1663.1 1187.5h0M1679.7 1172.8h0M1652.2 1185.7h0M1655.9 1173.2h0M1657.5 1179.6h0M1676.9 1182h0M1645.5 1187.8h0M1648.9 1182.2h0M1691.1 1178h0M1641.7 1181.6h0M1664.7 1166h0M1627.8 1207.3h0M1663.5 1166.6h0M1671 1169.1h0M1662.7 1191.7h0M1631.4 1190.8h0M1625.4 1205.9h0M1664.1 1189h0M1626.9 1175.2h0M1663 1188.1h0M1642.9 1191.3h0M1608.7 1210.2h0M1673.3 1193.5h0M1671.1 1160.2h0M1654.2 1187h0M1616.9 1199.2h0M1649.5 1191.7h0M1660.1 1170.7h0M1621.8 1194.9h0M1640.6 1190.2h0M1639.5 1184.6h0M1630.5 1177.1h0M1658.8 1156.7h0M1672.6 1176.5h0M1635.8 1177.6h0M1670.6 1161.5h0M1666 1175.5h0M1684 1166.2h0M1656.7 1183.1h0M1662.7 1173.1h0M1646.2 1205.8h0M1648 1177.3h0M1677.5 1162.3h0M1661.2 1164.3h0M1614.8 1181.9h0M1685 1166.8h0M1604.4 1196.8h0M1642.2 1183.6h0M1680.3 1176.7h0M1672.2 1179.9h0M1669.1 1169.2h0M1675 1186.4h0M1613.2 1208.9h0M1651 1203.6h0M1612.1 1232.2h0M1667.3 1168.4h0M1646.9 1197.5h0M1632.6 1199.6h0M1650.2 1177.2h0M1626.1 1180.7h0M1646.7 1192.3h0M1665.8 1191.9h0M1670.8 1176.6h0M1656.9 1199h0M1648.7 1168.7h0M1673.6 1178.3h0M1728.8 1147.3h0M1623.2 1209h0M1663.1 1186.2h0M1675 1177.8h0M1640.4 1175.5h0M1655.9 1186.7h0M1663.4 1197.9h0M1702.7 1185.4h0M1660.9 1170.1h0M1695.6 1153.7h0M1689.2 1163h0M1636.7 1193.3h0M1653.8 1180.6h0M1645.9 1161.8h0M1674.9 1170h0M1661.4 1169.2h0M1689 1176.8h0M1716.6 1136.5h0M1664.5 1181.2h0M1668 1172.6h0M1647.3 1216.1h0M1654.2 1173.2h0M1642.1 1200h0M1663.3 1179.2h0M1668.8 1182.1h0M1715 1148.5h0M1679.1 1162.1h0M1637.4 1199.9h0M1662.7 1164h0M1694.7 1137.9h0M1661.2 1194h0M1672.8 1165.8h0M1681.1 1162.4h0M1650.9 1178.6h0M1639.8 1203.3h0M1688.5 1192.1h0M1641.7 1200.5h0M1655.5 1169.3h0M1638.3 1171.8h0M1655.2 1169.4h0M1650.4 1199.1h0M1638.4 1197.3h0M1622.3 1194.3h0M1669.7 1178.2h0M1680.2 1175.3h0M1684.2 1190.7h0M1670.2 1184.6h0M1654.5 1170.6h0M1672.7 1173.6h0M1646.9 1174.7h0M1667.6 1169.9h0M1656.8 1194.5h0M1653.6 1191.6h0M1681.3 1172.7h0M1651.6 1170.6h0M1684.9 1158.8h0M1649.7 1194.4h0M1658.8 1184.3h0M1634.4 1198h0M1657.6 1174.1h0M1703.6 1153.3h0M1644.6 1204.6h0M1666 1166h0M1682.9 1182.9h0M1656.9 1194.6h0M1684.5 1161h0M1646.3 1190.3h0M1687.3 1187.5h0M1668.6 1165h0M1655.3 1191.9h0M1651.5 1194.2h0M1661 1176.3h0M1647 1199.2h0M1640.1 1183.5h0M1647.4 1172.4h0M1694.8 1177.6h0M1675.4 1187.1h0M1667.2 1169.2h0M1648.3 1162.5h0M1643.4 1213.4h0M1679.2 1176.8h0M1681.2 1161h0M1667.9 1162.8h0M1638 1180.3h0M1639.7 1170.5h0M1640.7 1168.7h0M1673.2 1187.5h0M1657 1158.5h0M1675.9 1181.9h0M1712.8 1144.8h0M1644.9 1179.9h0M1640.4 1184.1h0M1620.6 1196.3h0M1680.1 1134.5h0M1637.6 1179h0M1645.8 1186.6h0M1701.9 1154.8h0M1693.4 1150.8h0M1676.4 1183.7h0M1668.9 1182.7h0M1655.7 1150.7h0M1693.6 1156.5h0M1640.7 1170.8h0M1673.6 1178.3h0M1653.1 1173.4h0M1675 1180.7h0M1669.6 1180.2h0M1669 1179.2h0M1678.3 1173.4h0M1654.7 1187.4h0M1672.4 1181.4h0M1675.3 1172h0M1692.4 1161.6h0M1678.9 1175.1h0M1684.9 1175.9h0M1687.3 1155.6h0M1671.2 1174.4h0M1690.2 1180.9h0M1692.7 1166.6h0M1650.9 1158.8h0M1641.8 1196.3h0M1647.4 1201.8h0M1627.2 1202.2h0M1626.3 1210.4h0M1641.8 1183.9h0M1646.9 1191.2h0M1662.2 1174.1h0M1644 1196.7h0M1648.5 1181.6h0M1649.7 1178.4h0M1660 1189h0M1734.4 1148.7h0M1703.2 1158.9h0M1626.3 1172.4h0M1632.1 1187.4h0M1636.2 1199.5h0M1655 1188.3h0M1621.2 1192.1h0M1699.5 1146.5h0M1644.3 1182.8h0M1645.1 1184.9h0M1671.2 1152.7h0M1648.8 1193.5h0M1670.1 1161.6h0M1688.6 1167.4h0M1650.2 1187.4h0M1662.9 1168.4h0M1673.8 1183.5h0M1663.4 1187.3h0M1617.7 1216h0M1636 1186.4h0M1668 1145.6h0M1661 1175.5h0M1659.5 1156.3h0M1640.3 1170.2h0M1646.7 1179.1h0M1685.7 1150.1h0M1666.9 1189.4h0M1667.5 1181.5h0M1647.5 1181h0M1686.2 1160.7h0M1615.7 1188.6h0M1675.8 1168.8h0M1699.8 1170.7h0M1658.3 1171.6h0M1629 1202.4h0M1635.9 1183.6h0M1643.2 1186.9h0M1670 1173.7h0M1646.3 1186.6h0M1666.8 1165.6h0M1687.5 1160.4h0M1631.7 1178.1h0M1619.9 1214.9h0M1623.7 1174.6h0M1657.4 1169.1h0M1647 1190.3h0M1639.6 1181.8h0M1640.4 1194.1h0M1677.2 1181.8h0M1649.2 1172.8h0M1683.2 1175.1h0M1634 1183.7h0M1667.6 1144.6h0M1651.5 1165.5h0M1678.9 1158.3h0M1643.6 1187.8h0M1654.6 1192.7h0M1661 1187.5h0M1664.2 1180.5h0M1635.1 1189.7h0M1659 1158.1h0M1692 1143.2h0M1686.3 1172.1h0M1664.1 1172.4h0M1661.3 1178.8h0M1692.5 1184.5h0M1663.5 1170.2h0M1667.4 1172.8h0M1665.5 1165.1h0M1637.9 1187.4h0M1636.7 1202.6h0M1663.8 1173.3h0M1634.4 1205.3h0M1655.8 1162.3h0M1658.2 1181.9h0M1669 1188.4h0M1673.9 1157.2h0M1637.9 1185.2h0M1641.4 1155.1h0M1630.5 1200.9h0M1641.6 1188.2h0M1663 1172.7h0M1624.1 1216.6h0M1636.9 1187.6h0M1668.5 1184.2h0M1647.9 1165.7h0M1611.3 1188.5h0M1650.2 1192.3h0M1614.1 1187.7h0M1635.1 1169.3h0M1658.6 1176.1h0M1644.3 1180.7h0M1632.9 1174.9h0M1658.4 1170.6h0M1652.1 1188.6h0M1664.1 1156.5h0M1631.1 1191.3h0M1649 1170.5h0M1693 1185h0M1654 1166.3h0M1643.3 1185.5h0M1660.4 1181.7h0M1628.8 1178h0M1660.8 1185.8h0M1644.7 1192.5h0M1653.7 1171.9h0M1662.8 1189.3h0M1670.4 1154.3h0M1668.2 1176.9h0M1689.2 1164h0M1647.7 1179.4h0M1661.6 1202h0M1692 1162.3h0M1663.7 1158h0M1653.1 1202.2h0M1676.8 1158.2h0M1632.1 1184.2h0M1699.8 1135h0M1639.5 1178.4h0M1679.4 1175.2h0M1635 1204h0M1643.1 1190h0M1678 1186.4h0M1621.8 1193.8h0M1671.7 1183.2h0M1669.5 1176.6h0M1652.3 1191.6h0M1666 1171.7h0M1648.6 1185h0M1662.9 1171.5h0M1664.4 1165.5h0M1654.1 1186.4h0M1650.5 1180.4h0M1638.7 1177.8h0M1662 1195.3h0M1653.6 1177.3h0M1686.4 1145.5h0M1658 1150.2h0M1654.5 1187.2h0M1622.4 1215.7h0M1650.8 1178.1h0M1646.6 1162.6h0M1631.5 1201.8h0M1667.7 1162.3h0M1656.2 1163.4h0M1654.7 1156.1h0M1668.8 1178.5h0M1638.7 1185.8h0M1657.7 1179.5h0M1598.8 1235.7h0M1648.2 1190.7h0M1644.7 1201.1h0M1670.5 1171.8h0M1637.8 1190.8h0M1651 1177.2h0M1704.2 1158.8h0M1648.9 1166.1h0M1644.7 1182.8h0M1676.1 1178.3h0M1642.2 1176.2h0M1649.5 1184.8h0M1670.4 1167.4h0M1636.9 1208.9h0M1674 1163.8h0M1624.4 1209.6h0M1647.8 1186.5h0M1667 1184.7h0M1665.1 1174.3h0M1680.6 1148h0M1661.2 1166.8h0M1641.9 1215.6h0M1680.2 1168.4h0M1643.6 1205.4h0M1613.8 1170h0M1683 1158.1h0M1677.3 1156.9h0M1671.4 1185.2h0M1666.1 1202.5h0M1658 1173.2h0M1633.3 1180.4h0M1655.7 1173.1h0M1647.8 1182.8h0M1643.2 1194.7h0M1649.9 1195.3h0M1647.6 1185.5h0M1649.4 1184h0M1654.4 1178h0M1656 1180.5h0M1652.8 1151.4h0M1650.2 1169.7h0M1627.1 1205.3h0M1677.2 1171.7h0M1645.8 1188.3h0M1641 1193.8h0M1681.3 1176.7h0M1649.3 1187.6h0M1642.6 1187.4h0M1639.3 1186.9h0M1644.1 1170.9h0M1676.1 1166.8h0M1653.1 1170.3h0M1650.7 1157.7h0M1683.2 1151.8h0M1640.2 1198h0M1674.8 1173.2h0M1666.1 1197.2h0M1655.4 1162.4h0M1653 1168.4h0M1641.1 1180.9h0M1682.9 1163.4h0M1669.7 1160.2h0M1670.6 1162.9h0M1661.1 1184.7h0M1644.2 1193.3h0M1674.6 1175h0M1688.3 1151.6h0M1646.9 1191.3h0M1639.6 1191.8h0M1642.2 1182.4h0M1625.5 1185.4h0M1659.3 1187.4h0M1630.3 1190.8h0M1677.2 1149.3h0M1636.5 1197.4h0M1656 1163.4h0M1676.3 1175.5h0M1686.4 1172.8h0M1654.5 1162.8h0M1679.2 1169.1h0M1689.2 1159.9h0M1653.8 1173h0M1654.4 1177.3h0M1697.3 1176.2h0M1672.6 1187.9h0M1685.1 1151.4h0M1638.9 1195.9h0M1650.2 1188.8h0M1655.7 1164.8h0M1652.6 1167.5h0M1663.8 1185.3h0M1688.1 1172.8h0M1637.7 1192.8h0M1675.8 1164.9h0M1652.3 1190.3h0M1659.6 1187.8h0M1636.2 1192.9h0M1622.2 1208.2h0M1648.2 1200.4h0M1607.6 1211.1h0M1611.1 1193.5h0M1652.3 1189.6h0M1678.6 1188.7h0M1673.7 1175.5h0M1660.1 1173.7h0M1645.9 1174.5h0M1680.7 1195.2h0M1663.3 1168.3h0M1680.9 1175.9h0M1708.1 1159.1h0M1654.2 1191.8h0M1682.2 1167.7h0M1646.7 1184.1h0M1643.2 1173.9h0M1664.7 1147.4h0M1667.9 1161.9h0M1648.4 1201.1h0M1642.8 1197.4h0M1661.4 1184.2h0M1685.9 1171.3h0M1697.4 1132.3h0M1660.5 1186.3h0M1667.4 1175.8h0M1660.6 1166.2h0M1651.7 1189.8h0M1649.8 1176.3h0M1661.5 1175.8h0M1673.5 1162.3h0M1637.9 1198.2h0M1674.9 1197h0M1631.6 1195.1h0M1671.8 1155.5h0M1660.4 1171.7h0M1657.5 1188.1h0M1641.6 1189.4h0M1666.2 1167.9h0M1646 1195.9h0M1653.5 1201.2h0M1622.2 1204.5h0M1644.1 1208.8h0M1662.6 1164.2h0M1695 1142h0M1669.5 1187.8h0M1664.5 1167.6h0M1665.4 1165.6h0M1660.7 1165.4h0M1692.2 1146.2h0M1656 1181.8h0M1633.1 1184.3h0M1658.1 1207.3h0M1639.8 1199.4h0M1672.8 1190.2h0M1645.8 1185.6h0M1671 1166.1h0M1686.4 1175.8h0M1631 1209h0M1638.3 1200.1h0M1637.4 1166.5h0M1665.4 1179.5h0M1646.5 1187.8h0M1657.4 1167.7h0M1654.5 1185.8h0M1660.7 1189.7h0M1660.6 1186.3h0M1661 1197.9h0M1680 1174.9h0M1654.1 1179.4h0M1662.5 1155.6h0M1660.1 1182.2h0M1700.2 1162.1h0M1686.6 1164.2h0M1627.6 1189.7h0M1638.8 1196.7h0M1626.9 1205.3h0M1673.5 1174.6h0M1637 1193.9h0M1638.3 1183.9h0M1670.6 1168.5h0M1660.4 1176.2h0M1658.7 1172.8h0M1659 1191.9h0M1739 1148h0M1633 1251h0M1575 1183h0" stroke="#0b0606" stroke-width="3.8" stroke-linecap="round" fill="none"/>
<g fill="none" stroke="#bdb6af" stroke-width="0.75"><ellipse cx="1013.5" cy="1148.9" rx="10.5" ry="3.6" transform="rotate(-34.3 1013.5 1148.9)"/><ellipse cx="1013.5" cy="1148.9" rx="18.8" ry="6.5" transform="rotate(-34.3 1013.5 1148.9)"/><ellipse cx="1013.5" cy="1148.9" rx="27" ry="9.4" transform="rotate(-34.3 1013.5 1148.9)"/><ellipse cx="1013.5" cy="1148.9" rx="36" ry="12.5" transform="rotate(-34.3 1013.5 1148.9)"/><ellipse cx="1009" cy="1147.5" rx="37.8" ry="12.8" transform="rotate(-34.3 1009 1147.5)"/><ellipse cx="1009" cy="1147.5" rx="54.6" ry="18.5" transform="rotate(-34.3 1009 1147.5)"/><ellipse cx="1040" cy="1186" rx="8.4" ry="4.5" transform="rotate(-15.4 1040 1186)"/><ellipse cx="1040" cy="1186" rx="15" ry="8.1" transform="rotate(-15.4 1040 1186)"/><ellipse cx="1040" cy="1186" rx="21.6" ry="11.7" transform="rotate(-15.4 1040 1186)"/><ellipse cx="1040" cy="1186" rx="28.8" ry="15.6" transform="rotate(-15.4 1040 1186)"/><ellipse cx="1038" cy="1184" rx="28.4" ry="16.9" transform="rotate(-18.9 1038 1184)"/><ellipse cx="1038" cy="1184" rx="40.9" ry="24.4" transform="rotate(-18.9 1038 1184)"/><ellipse cx="1337.2" cy="1132.2" rx="10.5" ry="3.4" transform="rotate(-47 1337.2 1132.2)"/><ellipse cx="1337.2" cy="1132.2" rx="18.8" ry="6" transform="rotate(-47 1337.2 1132.2)"/><ellipse cx="1337.2" cy="1132.2" rx="27" ry="8.6" transform="rotate(-47 1337.2 1132.2)"/><ellipse cx="1337.2" cy="1132.2" rx="36" ry="11.5" transform="rotate(-47 1337.2 1132.2)"/><ellipse cx="1344" cy="1118" rx="36.5" ry="16.9" transform="rotate(-52 1344 1118)"/><ellipse cx="1344" cy="1118" rx="52.6" ry="24.4" transform="rotate(-52 1344 1118)"/><ellipse cx="1356" cy="1169.1" rx="8.8" ry="4.5" transform="rotate(-20 1356 1169.1)"/><ellipse cx="1356" cy="1169.1" rx="15.6" ry="8.1" transform="rotate(-20 1356 1169.1)"/><ellipse cx="1356" cy="1169.1" rx="22.5" ry="11.7" transform="rotate(-20 1356 1169.1)"/><ellipse cx="1356" cy="1169.1" rx="30" ry="15.6" transform="rotate(-20 1356 1169.1)"/><ellipse cx="1349" cy="1179" rx="31.1" ry="17.6" transform="rotate(-15 1349 1179)"/><ellipse cx="1349" cy="1179" rx="44.9" ry="25.3" transform="rotate(-15 1349 1179)"/><ellipse cx="1657.7" cy="1179.2" rx="9.8" ry="4.3" transform="rotate(-34.3 1657.7 1179.2)"/><ellipse cx="1657.7" cy="1179.2" rx="17.5" ry="7.8" transform="rotate(-34.3 1657.7 1179.2)"/><ellipse cx="1657.7" cy="1179.2" rx="25.2" ry="11.2" transform="rotate(-34.3 1657.7 1179.2)"/><ellipse cx="1657.7" cy="1179.2" rx="33.6" ry="14.9" transform="rotate(-34.3 1657.7 1179.2)"/><ellipse cx="1657.7" cy="1179.2" rx="33.1" ry="14.9" transform="rotate(-34.3 1657.7 1179.2)"/><ellipse cx="1657.7" cy="1179.2" rx="47.8" ry="21.4" transform="rotate(-34.3 1657.7 1179.2)"/></g>
<rect x="926.8" y="994.5" width="243.2" height="278.1" fill="none" stroke="#000" stroke-width="1.1"/>
<path d="M926.8 1226.5L1170 1060.5" stroke="#000" stroke-width="1.1"/>
<rect x="1232.9" y="994.5" width="243.2" height="278.1" fill="none" stroke="#000" stroke-width="1.1"/>
<path d="M1232.9 1226.5L1476.1 1060.5" stroke="#000" stroke-width="1.1"/>
<rect x="1541.9" y="994.5" width="243.2" height="278.1" fill="none" stroke="#000" stroke-width="1.1"/>
<path d="M1541.9 1226.5L1785.1 1060.5" stroke="#000" stroke-width="1.1"/>
<path d="M928.5 1291H1770" stroke="#000" stroke-width="3.6"/>
<path d="M1789 1291L1755 1277.5L1763.5 1291L1755 1304.5Z" fill="#000"/>
<text x="932" y="971" font-size="29.3" textLength="35.7" lengthAdjust="spacingAndGlyphs">Ag</text>
<text x="969" y="961" font-size="17">+</text>
<text x="988.2" y="971" font-size="29.3" textLength="180.6" lengthAdjust="spacingAndGlyphs">area uncaged</text>
<text x="1236.5" y="971" font-size="29.3" textLength="35.7" lengthAdjust="spacingAndGlyphs">Ag</text>
<text x="1273.5" y="961" font-size="17">-</text>
<text x="1282.7" y="971" font-size="29.3" textLength="180.6" lengthAdjust="spacingAndGlyphs">area uncaged</text>
<text x="1663.5" y="971" font-size="29.3" text-anchor="middle" textLength="98" lengthAdjust="spacingAndGlyphs">Control</text>
<text transform="translate(872 1134) rotate(-90)" font-size="29.3" text-anchor="middle" textLength="149" lengthAdjust="spacingAndGlyphs">BV421 signal</text>
<text transform="translate(904.5 1134) rotate(-90)" font-size="29.3" text-anchor="middle" textLength="88" lengthAdjust="spacingAndGlyphs">(αFLAG)</text>
<text x="1166" y="1329" font-size="24.5"><tspan textLength="193" lengthAdjust="spacingAndGlyphs">AF594 signal (αCD8</tspan><tspan font-size="13" dy="-8.5">D-1</tspan><tspan dy="8.5" textLength="50" lengthAdjust="spacingAndGlyphs">-PsT)</tspan></text>
<polygon points="462.6,2324.9 461.9,2319.5 460,2314.5 456.9,2310.1 452.6,2306.2 447.2,2303 440.8,2300.5 433.4,2298.7 425.3,2297.8 416.6,2297.6 407.4,2298.3 397.8,2299.7 388.1,2302 378.3,2304.9 368.8,2308.5 359.6,2312.8 350.8,2317.6 342.7,2322.8 335.4,2328.4 329,2334.3 323.5,2340.4 319.2,2346.6 316.1,2352.7 314.2,2358.7 313.6,2364.4 314.2,2369.8 316.1,2374.8 319.2,2379.2 323.5,2383.1 329,2386.3 335.4,2388.8 342.7,2390.5 350.8,2391.5 359.6,2391.7 368.8,2391 378.3,2389.6 388.1,2387.3 397.8,2384.4 407.4,2380.8 416.6,2376.5 425.3,2371.7 433.4,2366.5 440.8,2360.9 447.2,2355 452.6,2348.9 456.9,2342.7 460,2336.6 461.9,2330.6" fill="#000"/>
<path d="M292.6 2341.9h0M291.1 2427.6h0M350.2 2298.3h0M420 2296.9h0M358.2 2312.5h0M412.5 2387.1h0M390.8 2301h0M272.6 2385.8h0M304.1 2339.7h0M470.6 2310.9h0M394.9 2385.5h0M362.1 2393.1h0M461.9 2391.8h0M304.5 2358.9h0M470.8 2303.7h0M279.2 2456.2h0M323.9 2329.6h0M479.4 2300.1h0M298.2 2326.4h0M274.9 2395.5h0M436.4 2391.3h0M312.9 2311.7h0M337.6 2326.9h0M472.1 2337h0M309 2370h0M468.6 2357h0M460.3 2367.1h0M452.8 2299.3h0M503.3 2303.4h0M493.4 2401h0M527.4 2296h0M231.7 2402.1h0M445.9 2367.7h0M437.1 2282.7h0M290.5 2382.1h0M450.7 2416.2h0M450.5 2375.6h0M427.2 2383.3h0M383 2295.6h0M545.4 2340.6h0M300.5 2417.4h0M329.2 2408.5h0M460.7 2300.9h0M472.5 2353.1h0M432 2280.8h0M337 2306.9h0M275 2328.4h0M473.9 2355.4h0M453.2 2278.5h0M471.3 2328.5h0M345.4 2322.5h0M469.7 2331.7h0M256.4 2392.3h0M281.8 2345.9h0M392.6 2299.9h0M473.6 2269.1h0M280.5 2408.7h0M275.6 2339.4h0M317.5 2363.8h0M490.7 2316h0M376.7 2389h0M293.7 2389.3h0M445.8 2303.3h0M298.4 2389.4h0M300.3 2371.8h0M320.5 2350.6h0M252.8 2369.8h0M351.3 2418.2h0M260.2 2407.3h0M464.5 2302.7h0M413.9 2406.2h0M439.5 2288h0M499.3 2372.9h0M414.9 2257.9h0M496.2 2319.9h0M540.9 2266.7h0M424.6 2420.1h0M484.6 2305h0M276.6 2340.3h0M464.1 2265.1h0M307.7 2387.8h0M509.6 2278.3h0M319.6 2407h0M485.7 2286.3h0M492.4 2290.4h0M264.3 2402.1h0M380.4 2388h0M279.4 2371.5h0M325.9 2447.5h0M328.5 2308.6h0M366.2 2395.4h0M473.1 2298.9h0M482.9 2287.6h0M446.8 2364.7h0M375.9 2264.2h0M459.1 2332.9h0M393.3 2258h0M327.6 2381.3h0M388.4 2392.7h0M363.1 2417.3h0M374.8 2394.7h0M492.8 2299.9h0M450.7 2357h0M377.5 2407.2h0M279.3 2375.2h0M424.2 2392.9h0M283.4 2407.4h0M352 2400.3h0M474.2 2283.6h0M312.9 2381.2h0M327.3 2396.1h0M416.2 2389.3h0M317.1 2364.2h0M378.1 2436.7h0M301.9 2361h0M396.5 2387.6h0M346.7 2400.1h0M521.3 2319.9h0M452 2405.7h0M422.6 2258.7h0M406.6 2297.7h0M455.8 2360.1h0M402.4 2271.2h0M343.8 2298.8h0M483.6 2318.7h0M469.1 2346.3h0M464.5 2324.7h0M475.4 2284.3h0M358.3 2277.5h0M287.8 2312.6h0M466.4 2363.8h0M301.8 2420.8h0M455.5 2341.9h0M389.5 2391.5h0M360.3 2300.6h0M420.7 2267.1h0M548.3 2363.5h0M279.6 2402.5h0M307.3 2367.1h0M494.8 2334.5h0M476.4 2310.8h0M286.3 2324.3h0M439.6 2388.4h0M302.1 2374.4h0M473.6 2340.8h0M329.4 2404.8h0M318.1 2352.2h0M485.1 2304.8h0M402.1 2267.6h0M329.9 2398.5h0M313.2 2371.2h0M467.8 2335.6h0M474.9 2334.2h0M302.2 2366.9h0M323.3 2426.8h0M415.5 2388.9h0M405.4 2285.4h0M348.7 2277.4h0M317.2 2432.4h0M423.8 2248.8h0M483.4 2360h0M366.6 2463.5h0M441 2259.9h0M322 2314.4h0M298.4 2315.5h0M299.3 2336.3h0M386 2415.5h0M464.7 2336.3h0M381.1 2294.5h0M484.3 2317.8h0M458.4 2349.3h0M525.1 2330.2h0M418.5 2387.5h0M431.6 2383.8h0M419.2 2284.5h0M459.1 2317h0M314.5 2282.4h0M514.7 2376.3h0M325.6 2394.9h0M386.7 2408.7h0M456 2270.6h0M245.8 2320h0M418 2381.3h0M283.4 2362.8h0M456.5 2387.8h0M462.8 2332.2h0M381.9 2289.4h0M322.4 2388h0M385.7 2300.9h0M408.3 2379h0M330.7 2334.5h0M433.7 2289.2h0M337.9 2282h0M359.8 2312.9h0M515.3 2394.4h0M511.4 2309.3h0M293.8 2341.6h0M289.4 2333h0M460.3 2321.6h0M308.3 2421.5h0M455.9 2302.4h0M258.6 2388.9h0M438.6 2412h0M534.3 2337.2h0M453.8 2353.1h0M296.5 2333h0M368.9 2418.9h0M459.3 2315h0M329.3 2384.5h0M321.7 2341.4h0M313 2342.9h0M466.8 2317.1h0M396.6 2399.3h0M377.8 2404h0M507.1 2398.7h0M376.2 2407.7h0M444.2 2242.6h0M244.7 2378.5h0M419.7 2409.9h0M259.3 2379.8h0M459.3 2260.3h0M336 2421.5h0M437.2 2281.4h0M440.9 2303.9h0M439 2361.1h0M284.1 2405h0M530.9 2243.6h0M463.2 2327.3h0M325.8 2318.2h0M282.3 2445.2h0M315.5 2388.8h0M266.6 2382.4h0M400.3 2298.5h0M477.3 2263.2h0M455.4 2300.3h0M457.2 2367.8h0M470.3 2319.4h0M474.1 2342.4h0M389.2 2273.3h0M456 2315.6h0M481 2299.5h0M460.4 2322.2h0M412.5 2295.4h0M306 2368.5h0M502.8 2293.5h0M406.8 2390.6h0M498.6 2312.8h0M339.2 2310.6h0M350.6 2414.3h0M380.2 2299.9h0M382.8 2425h0M396.6 2270.9h0M328.1 2397.5h0M307.2 2444.8h0M280.4 2361.2h0M351.5 2415.7h0M303.1 2346.9h0M407 2295.1h0M499.3 2281.2h0M491.4 2270.3h0M359.4 2395.8h0M357.5 2403.5h0M458.2 2308.4h0M318.9 2317.1h0M439.2 2393.8h0M493.6 2290.1h0M506.4 2353.7h0M448.4 2377.7h0M316.9 2409.3h0M369.6 2298.5h0M435.4 2368.7h0M297.1 2346.8h0M336.9 2316.1h0M400.2 2431.8h0M285.9 2368.6h0M326 2310.3h0M378.9 2268.4h0M450.9 2298.2h0M476.3 2293.1h0M355.2 2408h0M301.7 2320.7h0M293.9 2380.5h0M389.6 2391.6h0M449.9 2275.9h0M338.6 2403.8h0M399.1 2384.5h0M356 2413.7h0M479.5 2328.6h0M505.9 2263.2h0M489.6 2323.7h0M415.2 2293.3h0M306.4 2331.9h0M437.1 2296.9h0M310.2 2334.9h0M302.9 2391.7h0M367.6 2416.7h0M401.5 2391.5h0M440 2370.5h0M357 2310.3h0M406.4 2390.6h0M328.2 2428.1h0M422.2 2291.9h0M233 2380.1h0M457.8 2316.4h0M441.2 2282h0M448.4 2303.2h0M300 2381.3h0M306.5 2369.9h0M270.2 2333.3h0M409.7 2290.6h0M312.2 2329.9h0M506.9 2247.2h0M310.2 2341h0M403.2 2287.3h0M453.3 2342.2h0M408.1 2281.4h0M456.3 2285.3h0M417.8 2380.1h0M315.8 2355.7h0M410.3 2255.1h0M338.7 2320.4h0M432.2 2387.8h0M479.7 2319.4h0M314.5 2343.8h0M489.5 2345.7h0M488.8 2296.3h0M471.4 2354.6h0M456.8 2278.6h0M528.8 2301.5h0M398.2 2285.4h0M471.7 2355.4h0M447.6 2268.7h0M310.4 2401.3h0M328.5 2421.1h0M414 2398.7h0M416.7 2289.3h0M295.5 2379.6h0M278.1 2348.2h0M277.3 2390.1h0M497.9 2312.9h0M315.8 2355.4h0M332.3 2413.7h0M335 2394.2h0M465.4 2316.1h0M333.5 2428.4h0M309.5 2284.2h0M372.1 2394h0M327.8 2305.2h0M291 2379.4h0M323.7 2342.2h0M232.5 2389.5h0M330.7 2407.9h0M364.9 2309.2h0M321.6 2405.4h0M477 2308h0M442.2 2357.4h0M457.2 2347.6h0M332.8 2407.8h0M454.6 2351.3h0M328.3 2391.4h0M362.6 2393.2h0M407.6 2411.4h0M432.5 2384.7h0M304.1 2426.4h0M458 2311.8h0M415.8 2377.2h0M274.9 2416.9h0M475 2320.1h0M495.8 2256.9h0M486.5 2283.7h0M482.1 2302.2h0M362.5 2414.3h0M325.8 2398.5h0M259.1 2360.2h0M384.3 2260.9h0M470.9 2318.3h0M353.4 2304.6h0M445.4 2273.1h0M337.6 2326.3h0M308.2 2347.3h0M450.9 2281.6h0M334.2 2323.1h0M312.2 2326.8h0M482.6 2339.1h0M531.8 2273.5h0M357 2411.8h0M349.5 2315.9h0M495.1 2325h0M280 2343.5h0M325.8 2326.2h0M290.2 2412.3h0M320.7 2342.1h0M436.3 2394.7h0M492.8 2300.6h0M431.6 2394.2h0M449.8 2376.2h0M337.4 2424.7h0M291.4 2389.7h0M417.3 2284.8h0M320.6 2393.3h0M385.2 2290.6h0M476.6 2290h0M280.8 2406.7h0M312.4 2358.3h0M425.6 2288.4h0M340 2325.3h0M451.8 2299h0M558.9 2278.4h0M480.5 2338.6h0M449.9 2405h0M279.6 2396.8h0M253.8 2359.6h0M493.9 2259.7h0M384.7 2303.2h0M297 2432.3h0M561.5 2320.4h0M489.8 2358.5h0M408.5 2389.5h0M287.3 2447.5h0M392.3 2421.3h0M307 2396.2h0M516.1 2293.8h0M412.7 2262.9h0M468.5 2374.4h0M496.1 2272.8h0M432.2 2371.6h0M371.6 2389.6h0M459.3 2273.3h0M336.7 2293.7h0M507.9 2253h0M502.1 2290h0M272.3 2299.4h0M518.6 2310.9h0M422.7 2370.4h0M429.9 2282.6h0M319.7 2396.2h0M416.7 2377.3h0M450.6 2383.1h0M430.4 2276.4h0M334.9 2326.8h0M453.9 2291.4h0M434.7 2392.4h0M349.1 2308.3h0M317.8 2326.1h0M496 2291h0M317.8 2366.6h0M387.8 2284.2h0M465.1 2319.3h0M450.2 2366.3h0M292.6 2405.6h0M433.1 2298.5h0M450.1 2396.9h0M425.5 2368.6h0M279.9 2325.6h0M239.5 2347.6h0M430.5 2401.7h0M432.3 2391.4h0M517.2 2330.5h0M485.5 2329.6h0M463 2342.7h0M431.4 2396.7h0M262.4 2397.6h0M359.8 2307.6h0M444.1 2299.5h0M449.4 2306.7h0M430.1 2371.6h0M312.9 2384.9h0M415.3 2288.1h0M318 2353.2h0M331.6 2330.4h0M351.2 2259.5h0M360.3 2297.8h0M301.2 2347.9h0M478.9 2334.2h0M336.5 2318.9h0M304.9 2409.4h0M381.4 2400.4h0M407.7 2389.8h0M395.6 2386.1h0M241.1 2382.5h0M412.5 2403.4h0M331.6 2333.1h0M413.8 2400h0M434.1 2298.5h0M448.6 2380.8h0M275.3 2342.4h0M474.7 2348.8h0M189.1 2425.6h0M339.8 2323h0M305.4 2302.3h0M356.9 2388.8h0M328.3 2335.9h0M282.6 2402.9h0M313.4 2347.6h0M284.5 2383.5h0M494.3 2324.8h0M457.2 2357.2h0M462.9 2415.1h0M334.8 2391.4h0M277.8 2290.5h0M302.4 2336.8h0M357.4 2305.6h0M429.7 2370.1h0M315.3 2363.4h0M379.8 2299.7h0M195.9 2417.7h0M282.4 2381.3h0M309.3 2404.4h0M488.7 2276.4h0M501.6 2291.3h0M262 2419.4h0M314 2347.4h0M490.2 2344.7h0M339.5 2293h0M271.8 2425.5h0M248 2379.6h0M345.6 2293.5h0M286.9 2365.8h0M464.7 2281.4h0M438.1 2288.7h0M285.9 2350h0M332.8 2317.3h0M284.6 2314.2h0M424.7 2257.1h0M449.7 2354.1h0M316.6 2367h0M375.5 2292h0M325.2 2329.5h0M437.6 2274h0M351.6 2310.6h0M445.1 2302.8h0M452 2290.6h0M471.3 2353.3h0M472.5 2366.1h0M473.1 2313h0M316.4 2338.5h0M482.9 2271.5h0M379 2398.7h0M427.8 2370.2h0M308.2 2346h0M438.2 2380.4h0M435.8 2367.6h0M465.8 2286.6h0M419.6 2265.7h0M386.4 2406.8h0M467.7 2344.9h0M380.4 2408.4h0M471.7 2305.5h0M357.7 2409.6h0M383 2304.8h0M468.2 2332.3h0M365.3 2397.8h0M351.7 2289.3h0M434.4 2299.5h0M335.3 2306.4h0M295.6 2385.8h0M429.4 2291.2h0M399 2403.4h0M417.2 2288.6h0M483.5 2322.1h0M466.8 2297.5h0M461.3 2330.5h0M460.2 2348.4h0M294.9 2424.6h0M485.5 2309h0M420.2 2293.1h0M462.2 2386.9h0M437.3 2281.4h0M433.8 2379.9h0M338.9 2327.1h0M314.4 2318.8h0M314.4 2383h0M426.1 2381.1h0M502.3 2358.7h0M246 2352h0M449 2382.9h0M370.6 2302h0M334.1 2412h0M511.5 2324.8h0M491 2383.9h0M465.5 2335h0M353 2394.2h0M366.3 2309.5h0M322 2305.3h0M460.5 2300.8h0M335.6 2327.4h0M327.1 2340.6h0M443.7 2356.3h0M475 2279.2h0M315.4 2361.1h0M399 2299.4h0M281.8 2348.5h0M301.8 2383.8h0M479.6 2323.5h0M474.6 2284.7h0M459.5 2336.2h0M464.7 2320.1h0M449.2 2357.9h0M439.3 2361.5h0M488.8 2350.9h0M434.8 2285h0M335.2 2311.8h0M342.8 2412.3h0M376.9 2427.2h0M289.6 2388.6h0M487.1 2269.6h0M427.9 2371h0M467.2 2285.9h0M416.9 2298.7h0M366.3 2301.9h0M438.6 2360.1h0M349.4 2410.3h0M271.6 2376.3h0M431.8 2277.8h0M443.1 2362.4h0M413.6 2269.9h0M314.4 2355.5h0M463.4 2323h0M225.5 2363.5h0M382.4 2303.7h0M246.5 2396.7h0M296.7 2389.8h0M456.8 2367.1h0M333.6 2393.7h0M420.8 2400h0M468.4 2342h0M355.7 2300.7h0M312.1 2276.9h0M504 2310.9h0M377.5 2388.6h0M454.8 2347.6h0M239.7 2431.1h0M326.5 2316.6h0M284.2 2343.4h0M296.7 2408.4h0M373.2 2432.5h0M430.8 2395.7h0M415 2299.8h0M446.2 2362.3h0M343.8 2308h0M465.2 2311.2h0M454 2346.3h0M318.7 2397.7h0M313.9 2374.8h0M309.1 2381.9h0M364.7 2405h0M410.4 2428.2h0M253.2 2391.8h0M305.4 2359.3h0M378.1 2421.2h0M332.6 2295.8h0M460.7 2291.9h0M463.7 2305.7h0M294.7 2331.5h0M456.8 2310.9h0M279.6 2333.9h0M463.8 2340.2h0M392.8 2390.4h0M332.8 2258.6h0M403.6 2298.8h0M451.3 2273.3h0M389.1 2405.5h0M267.9 2370.2h0M433.9 2290.2h0M283.8 2404.8h0M417.8 2270.8h0M324.3 2317.6h0M510.2 2392.7h0M506.6 2255.9h0M514.1 2306.9h0M442.7 2286.6h0M319.6 2300.6h0M363.2 2417.6h0M397.9 2284.1h0M562.2 2285.9h0M340.3 2295.7h0M425.7 2289.6h0M444.2 2286.7h0M420.7 2252.1h0M457.1 2362h0M326.8 2338h0M356.5 2397.3h0M318.5 2374.4h0M328.4 2447.3h0M452.2 2364.8h0M253.5 2337.4h0M286.1 2418.7h0M385.8 2300.2h0M443.5 2377.9h0M344.2 2389.2h0M326.8 2280.6h0M483 2319.2h0M232.7 2444.2h0M396 2296.5h0M310.2 2372.7h0M338.6 2387.5h0M401.3 2296.6h0M376.3 2276.2h0M297.7 2359.8h0M451.2 2345.7h0M318.7 2369.1h0M438 2277.5h0M308.6 2354.1h0M444.9 2391.1h0M308.5 2323.6h0M233.4 2317.4h0M286.5 2363.6h0M410.7 2298h0M313.7 2413.4h0M409 2383.1h0M318.7 2337.1h0M331.4 2331.2h0M477 2330.3h0M329.1 2325.3h0M466.5 2355.9h0M463.9 2317.5h0M269.2 2364.8h0M281.4 2377.5h0M342.9 2404h0M357 2390.6h0M399.9 2397.4h0M481.6 2291.6h0M389.6 2386.6h0M469.6 2306.2h0M470.8 2305.7h0M322 2340.7h0M493.7 2317.4h0M559.5 2295.5h0M434.2 2364.8h0M457.1 2370.2h0M452 2348h0M373 2290.7h0M364.8 2300.9h0M412.9 2379.7h0M259.5 2357.1h0M277.5 2351.1h0M453.1 2347.2h0M348.5 2398.8h0M418.1 2415.4h0M315.8 2339.2h0M382.1 2274.9h0M470.9 2305h0M493.4 2300.5h0M437 2419.2h0M328.3 2328.3h0M400.1 2300.8h0M557.4 2350.5h0M453.1 2342.3h0M274.1 2368.6h0M329.6 2383.8h0M372 2280.1h0M266.1 2427h0M311.1 2299.6h0M389.6 2290.2h0M431.7 2280.9h0M292.4 2388.4h0M455.8 2299.5h0M438.9 2299.3h0M454.1 2258.6h0M334 2304h0M317.1 2362.5h0M424.6 2300.1h0M395.4 2276.3h0M267.5 2377.4h0M524.8 2300.9h0M286.9 2367.2h0M308.9 2387.1h0M400.5 2287.1h0M305.2 2399h0M390.1 2299.7h0M323.3 2395.9h0M391.1 2290.4h0M311.7 2286.6h0M489.6 2318.7h0M411 2409.1h0M388.8 2391.2h0M413.3 2294.3h0M445.1 2377.1h0M464.3 2295.8h0M471.8 2332.9h0M451.9 2395.8h0M466.4 2354.5h0M439.2 2382.5h0M433.8 2383.8h0M456.6 2336.3h0M487 2329.8h0M386.7 2282.3h0M263 2374.5h0M352.4 2401.6h0M310 2329.3h0M411.6 2386.3h0M488.1 2340.1h0M325.4 2412.4h0M346.9 2318.2h0M440.6 2380.7h0M321 2312.1h0M332.9 2409.8h0M451.1 2293.7h0M491.1 2301.6h0M407.5 2271.4h0M294.6 2413.9h0M450.5 2257.5h0M287.9 2354.4h0M446.6 2304.4h0M294 2316.8h0M454.8 2357.1h0M459.3 2304.7h0M252.6 2352.1h0M333.6 2322.2h0M302.8 2374.1h0M285.4 2304h0M490 2295.8h0M358.4 2390.8h0M297.6 2351h0M459.8 2359.2h0M503.6 2334.2h0M435 2297.7h0M314 2330.2h0M470.2 2329.4h0M417.2 2383.4h0M280.5 2315.6h0M366.1 2399.2h0M292.6 2397.9h0M531.6 2323.9h0M423.8 2266.3h0M284.2 2353h0M323.2 2405.1h0M308.4 2383.4h0M304.8 2311h0M422.4 2373.2h0M305.7 2304.6h0M453.5 2309.7h0M390.1 2393.5h0M299.2 2337.1h0M296 2436.9h0M329.4 2397.8h0M475.9 2341.2h0M433.7 2271.3h0M328.2 2422.4h0M276 2375.2h0M350.9 2392h0M326.5 2336.6h0M371.6 2286.3h0M414.3 2398.6h0M437.8 2291.6h0M486.6 2360.4h0M383.4 2406.7h0M318.2 2417.5h0M448.8 2290.9h0M365.5 2394h0M302.9 2404.3h0M318.3 2442.8h0M468.8 2322.2h0M290.2 2390.8h0M492.2 2301.9h0M351.8 2317.1h0M408.5 2282.1h0M416 2276.5h0M413.7 2375.9h0M485.7 2307.9h0M325.1 2399.8h0M311.9 2368.2h0M405.2 2274.8h0M491.5 2318.8h0M304.8 2352.5h0M420.2 2285.8h0M416.9 2288.5h0M305.3 2385.5h0M481.8 2329h0M510.1 2335.8h0M372.4 2400.4h0M502.1 2309.1h0M373.9 2394h0M429.9 2293.8h0M312.7 2309.1h0M444.5 2282.8h0M215.9 2372.3h0M474.8 2352.4h0M282.8 2363.5h0M512.4 2302.1h0M353.9 2430.4h0M429.8 2391.9h0M405.1 2297.7h0M436.7 2382.2h0M442.4 2356.3h0M303.5 2415.3h0M306.6 2361.7h0M448.9 2301.8h0M314.8 2352.3h0M329.3 2399.1h0M345.8 2401.8h0M393.4 2295.8h0M467 2267.8h0M400.1 2245h0M413.4 2397.4h0M325.2 2401.6h0M490.2 2326.4h0M396 2266.8h0M404.3 2292.2h0M462.1 2344.9h0M477 2329.7h0M428.2 2279h0M467.4 2288h0M486.3 2365.4h0M500 2314.1h0M288.2 2392.1h0M308.4 2366.5h0M302.9 2400.2h0M438.3 2384h0M459.3 2331.8h0M374.2 2411.8h0M263.4 2434.2h0M360.7 2393.4h0M322.3 2337.3h0M312.1 2423.6h0M377 2405.9h0M481.3 2352.5h0M341.1 2415.1h0M281.4 2344.5h0M446.6 2258.1h0M304.3 2348.5h0M471 2328.4h0M476.6 2344.2h0M483.6 2409.5h0M485.6 2367.3h0M341.4 2307.4h0M406.9 2407.8h0M407.6 2378.4h0M472.8 2284.6h0M356.7 2310.5h0M340.3 2327.1h0M306.6 2375.4h0M256.8 2398h0M282 2332.9h0M332.7 2439.2h0M359 2282.8h0M351.1 2451.5h0M354.2 2400h0M385.7 2400.2h0M474.6 2313h0M468.3 2333.9h0M317.7 2389.3h0M315.9 2393h0M473.9 2331.4h0M373.7 2292.8h0M451.4 2374.6h0M346.9 2392.3h0M345.2 2390.9h0M499.7 2309.1h0M488.8 2256.4h0M328 2320.8h0M453.2 2283.2h0M389.2 2285.8h0M331.7 2413.1h0M300.5 2355h0M455.3 2343h0M385.4 2387.6h0M488.8 2379.2h0M411.5 2291.9h0M383.8 2386.5h0M322.3 2391.3h0M451.4 2281h0M476.8 2339.2h0M399.3 2297.8h0M422.3 2284.6h0M270.5 2414.7h0M317.5 2334.8h0M527.2 2301.4h0M248.9 2387.4h0M210.5 2386.7h0M409.8 2256.1h0M341 2316.4h0M444.5 2277.2h0M466.5 2323.8h0M304.4 2386.5h0M493.9 2259.3h0M313.2 2370.5h0M287.2 2334.2h0M328.2 2415.9h0M508.7 2289.5h0M501.5 2328.3h0M326.4 2341.6h0M448.6 2377.1h0M346.5 2392.2h0M426.8 2401.1h0M496.7 2283.6h0M302.8 2374.6h0M472.5 2298.2h0M339.8 2409.4h0M348.7 2401.5h0M485.3 2333.7h0M264.9 2332h0M337.4 2406h0M454.9 2306.5h0M458.4 2341.3h0M332.9 2318.9h0M287.7 2309.8h0M399.5 2403.7h0M337.1 2394.5h0M346.3 2437.8h0M420.4 2283.2h0M421.9 2375.8h0M456.6 2380.8h0M458.7 2322.1h0M429.1 2288.9h0M379.5 2295.4h0M488.9 2267.5h0M325.1 2397h0M379.8 2288.8h0M454.4 2345.2h0M418.2 2393.2h0M451.3 2303.5h0M420.5 2288h0M421.8 2390.5h0M349.8 2391.1h0M298 2379.4h0M478.4 2310.5h0M332 2398.3h0M295.3 2416h0M402.4 2401.8h0M357.6 2433.8h0M351.4 2306.2h0M461.9 2309.6h0M494.8 2344.3h0M373.3 2388h0M365 2405.5h0M508.1 2346.5h0M309.6 2352.6h0M512.9 2320.1h0M474.9 2298.8h0M510.6 2265.1h0M424.4 2300.3h0M433.1 2283.1h0M382.4 2292.3h0M484.6 2363.8h0M246.7 2368.1h0M299.3 2356.9h0M438.1 2253.7h0M470.2 2285.4h0M432.2 2284.9h0M295.3 2339.3h0M437 2364.3h0M485.2 2315.2h0M291.7 2413.9h0M449.5 2377.8h0M406.1 2268.6h0M319.1 2338.1h0M461.2 2361.1h0M392.6 2269.7h0M446.6 2423.8h0M374.9 2402.7h0M449.9 2381.2h0M475.7 2341.9h0M351.1 2397.2h0M498.7 2295.6h0M334.8 2310.2h0M411.4 2403.4h0M434.1 2409.6h0M358.3 2309.3h0M463.4 2356.2h0M344.1 2294.4h0M296.2 2401.3h0M285.8 2337.8h0M473.5 2335h0M478 2269.4h0M462.9 2315.3h0M305 2345.1h0M283 2381.5h0M404.5 2286.8h0M521 2378.2h0M355.1 2426.7h0M343.7 2309.5h0M416 2299.1h0M302.9 2367.3h0M477.3 2256.5h0M461.6 2325.2h0M449.4 2350.6h0M395 2408.9h0M304.1 2310h0M265.4 2378.2h0M503.8 2361.8h0M255.2 2385h0M317.8 2406.7h0M319 2342.4h0M368.4 2403.2h0M289 2413.8h0M410.7 2297h0M370.7 2403h0M366.8 2400.6h0M372.6 2286.7h0M413.1 2385.3h0M259.9 2466h0M337.7 2310h0M244.9 2350h0M250.6 2374.3h0M343 2438.4h0M454.1 2273.5h0M442.2 2373.3h0M338.7 2321h0M308.4 2381.9h0M374.9 2428h0M448.5 2375.3h0M315.3 2390.4h0M314.1 2297.5h0M470.4 2358.2h0M308.5 2313h0M346.6 2322.9h0M462 2345.2h0M328.4 2331.1h0M305.6 2311.4h0M335.4 2305.6h0M435 2289.7h0M484.6 2297.3h0M378.6 2399.3h0M505.5 2356h0M265.2 2400.6h0M498.4 2275.5h0M386.7 2410h0M455 2366.3h0M259.1 2430.4h0M367.1 2394.9h0M421.1 2295h0M317.2 2440.2h0M286 2301.6h0M571.9 2312.8h0M332.5 2316.1h0M453.8 2312.6h0M293.9 2348.1h0M445.2 2359.7h0M494.5 2339.1h0M451.3 2349.4h0M322.8 2328.3h0M491.2 2315.6h0M490.5 2315.4h0M314.9 2338.9h0M304.3 2389.4h0M265.9 2331.9h0M514.8 2331.9h0M471.7 2355.6h0M413.3 2397.2h0M475.4 2324.4h0M347.9 2305h0M382 2301.3h0M449.6 2273.9h0M475.4 2345h0M445.5 2284.6h0M276.1 2406.2h0M377.8 2394.5h0M299.6 2314.5h0M576.6 2335h0M321.2 2343.4h0M422.8 2387.1h0M278 2356h0M273.9 2328.2h0M459.4 2328.7h0M388.7 2284.2h0M483.7 2286h0M370 2401.5h0M314.4 2300.6h0M453.8 2352.3h0M484.9 2329.2h0M339.9 2387.1h0M491.5 2275.1h0M417.8 2383.5h0M284.2 2358.2h0M514.3 2328.8h0M434.5 2290.2h0M296.5 2387.5h0M545 2326.3h0M436.2 2298.4h0M337.4 2388.8h0M470.7 2338.7h0M297.3 2307.7h0M340.3 2388h0M443.5 2367.1h0M338.2 2323.5h0M341.1 2274.7h0M393.7 2255h0M432.3 2374.7h0M335.5 2427.4h0M474.3 2324.2h0M281.3 2337.2h0M297.6 2401.3h0M434.7 2276.3h0M494.8 2270.9h0M375.1 2280.8h0M466.3 2404.9h0M461 2290.5h0M332.6 2322.9h0M563.5 2328.3h0M468.1 2325.3h0M377.2 2388.6h0M310.2 2310.7h0M300.6 2399h0M322.5 2381h0M326.8 2339.4h0M335.7 2413.2h0M457.3 2346.9h0M458.4 2300.8h0M253.8 2386.1h0M463.8 2352.1h0M435.7 2370.9h0M432.5 2294.5h0M383.8 2397.9h0M318 2460h0M317 2334.2h0M452.9 2309.9h0M516.7 2314.9h0M484.3 2343.4h0M353.2 2400.6h0M249.8 2423.7h0M475.3 2306.9h0M308.4 2392h0M337 2316.8h0M327.5 2322.2h0M361.4 2262.2h0M465.5 2295.4h0M441.9 2365.5h0M453.2 2272.2h0M325.5 2327.8h0M317.3 2310.2h0M472.7 2353.5h0M438.6 2364h0M468.9 2332.2h0M458.2 2339.7h0M399.3 2392.5h0M388.9 2269.6h0M360.9 2410.5h0M295.7 2363.3h0M327.1 2318.3h0M398.3 2284.7h0M339.5 2398.2h0M329.9 2398h0M316.3 2438.8h0M414.6 2389.1h0M359.3 2420.1h0M455.1 2380.6h0M327.4 2279h0M363.1 2278.5h0M460 2381.1h0M478.6 2272.3h0M320.9 2322.4h0M345 2313.1h0M473.2 2315.8h0M422.8 2274h0M323.8 2383.8h0M350.5 2312.6h0M307.4 2312.4h0M513.4 2247.3h0M394.9 2278.2h0M391.1 2300.2h0M418.1 2394.1h0M376.1 2291.4h0M220.6 2376.4h0M399.2 2296.1h0M407.3 2401.7h0M382.1 2291.4h0M220 2351.4h0M309.2 2318.5h0M417.6 2271.7h0M299.3 2420.3h0M467.2 2336.6h0M483 2270.1h0M307.6 2384h0M304 2291.2h0M336.4 2321.6h0M466.2 2336.2h0M316.6 2435.2h0M299.6 2360.8h0M402.2 2256.6h0M223.4 2377.4h0M283.1 2325.6h0M515.6 2326.1h0M338.3 2417.4h0M444.7 2266.9h0M361.4 2393.9h0M308.2 2377.5h0M262.9 2382.4h0M435.8 2301.3h0M336.8 2422.2h0M270.3 2445.4h0M328.5 2383.7h0M228.7 2367.5h0M249.5 2428h0M321.6 2329.4h0M547.4 2314.8h0M602.7 2333.2h0M375.6 2392.1h0M435.8 2386.9h0M571.1 2279.2h0M229.6 2365.8h0M343.9 2420.4h0M450.2 2355.8h0M464.6 2316.7h0M349.3 2251h0M533.9 2358.1h0M480.7 2322.3h0M405.7 2382.2h0M530.3 2343.4h0M378.1 2387.9h0M555 2232.9h0M269.4 2409.6h0M354.1 2413h0M407.2 2396.5h0M458.3 2208.1h0M356.6 2278.2h0M355 2406.9h0M466.8 2337h0M280.6 2387.5h0M531.8 2288.4h0M379.7 2453.7h0M302.3 2310.4h0M335.6 2408.7h0M472.7 2349.1h0M229.1 2404.3h0M431 2259.3h0M287 2309h0M318.1 2414.8h0M301.6 2331.1h0M404.4 2291.2h0M544.3 2297.2h0M381.1 2257.1h0M271.1 2408.8h0M397.8 2386.7h0M486.8 2383.6h0M314 2455.6h0M262.7 2360.7h0M459 2295.5h0M417.3 2240.8h0M432.9 2274.6h0M422.4 2285.1h0M292.3 2392.7h0M216.1 2407h0M588.9 2271.7h0M397.9 2410.3h0M399.9 2387h0M376 2388.5h0M270 2419.2h0M314.9 2331.5h0M502.2 2283.3h0M248.1 2419.8h0M521.9 2248.9h0M317.9 2369.2h0M354.6 2307h0M276.9 2321.4h0M334.8 2448.5h0M530.7 2283.5h0M210.5 2345.8h0M325.2 2342.3h0M579 2233.4h0M289.7 2385h0M244.9 2362.5h0M434.3 2383.6h0M424.8 2291.1h0M455.7 2359.3h0M324.8 2423.7h0M272.4 2370.8h0M388.7 2285h0M260.7 2314.8h0M297.5 2429h0M440.5 2378.9h0M436.3 2302.4h0M351.9 2439.2h0M421.1 2269.5h0M313.3 2434.2h0M480.2 2311.6h0M330.8 2307.5h0M350.1 2397.3h0M404.4 2385h0M230.4 2425.9h0M492.9 2261.2h0M574.9 2239.6h0M526 2291.6h0M302.4 2340.6h0M310.9 2380h0M470.7 2332.2h0M462 2333.5h0M283.3 2458.1h0M268.5 2335.7h0M478.8 2305.2h0M244.9 2364.5h0M292.4 2386.4h0M560.8 2333.1h0M393.8 2283.2h0M199.6 2372.1h0M346.8 2299.6h0M340.4 2289.3h0M470.8 2316.2h0M455.6 2286.6h0M425.1 2383.7h0M470.7 2339.6h0M240.3 2454.3h0M344.1 2425.6h0M372.2 2393.8h0M318.5 2355.9h0M320.9 2392.4h0M365.4 2285.5h0M522.4 2259.4h0M464.7 2284.7h0M243.6 2397.8h0M320.9 2334.1h0M571.5 2301.9h0M597.6 2288.3h0M377.8 2260.7h0M339.4 2386.6h0M513.5 2309.4h0M426.8 2395.8h0M540.8 2251.6h0M248.6 2375.8h0M492.8 2273.3h0M465.2 2289.3h0M305.2 2437.4h0M470.9 2334.4h0M308.5 2352.8h0M336.8 2443h0M332.3 2408.1h0M288.3 2406.8h0M467.7 2210.2h0M535.5 2320.1h0M484.6 2320.2h0M378.8 2431.1h0M541 2334.9h0M408.7 2397.4h0M352.6 2316.2h0M436.9 2424.7h0M459.3 2387.4h0M329.4 2382.3h0M464.7 2258.5h0M413.6 2245h0M302.9 2291.2h0M305.4 2356.6h0M561.3 2284.8h0M498.5 2267.1h0M293.6 2408.8h0M469.4 2331.6h0M570.2 2296.7h0M507.5 2241.8h0M524 2294.5h0M435.3 2405.3h0M230.4 2428.3h0M447.8 2278.2h0M376.3 2302.6h0M435.5 2260.4h0M246.8 2433.3h0M302 2425.6h0M528.6 2346.4h0M313.1 2391.4h0M462.1 2346h0M449.3 2302.2h0M329.6 2479.3h0M305.4 2434.2h0M527.5 2336.9h0M292.1 2361.4h0M389.9 2392h0M480.5 2274.7h0M409.5 2377.2h0M309.3 2471.1h0M305.1 2373.9h0M670.6 2310h0M236.6 2368.4h0M471.8 2296.6h0M486.3 2310.7h0M197.3 2345.7h0M237.1 2347.8h0M407.2 2408h0M296.2 2376.1h0M320.9 2417.8h0M331.4 2306.1h0M235.6 2354.2h0M310.6 2497.1h0M446.5 2386.7h0M302 2389.6h0M294.9 2376.7h0M500.6 2263.9h0M422.5 2401.9h0M474.9 2275.8h0M565 2397.8h0M480.1 2370.2h0M352 2249.9h0M472 2415.9h0M387 2283.8h0M393.9 2416.1h0M330.5 2313.2h0M488.7 2344.4h0M483.5 2351.4h0M276.1 2369.5h0M351.2 2491.1h0M312.8 2413.3h0M312.3 2419.7h0M325.1 2485.7h0M463 2320.8h0M290 2452.8h0M391.7 2299h0M405.7 2266h0M266 2400.9h0M331.3 2308.3h0M533.3 2326.3h0M297.9 2383.2h0M294.2 2305.2h0M436.8 2276.2h0M416.5 2455.4h0M176.9 2412.4h0M473.6 2239.3h0M295.8 2341h0M435.6 2301.9h0M349.5 2424.2h0M500.4 2250.2h0M455.8 2410.7h0M428.8 2219.9h0M563.8 2291.3h0M401 2430.4h0M273.1 2456.6h0M464 2328.5h0M485.9 2414.5h0M332.8 2297.1h0M316 2461.4h0M320.1 2387.4h0M384.1 2287.8h0M501.3 2237.8h0M342 2434.6h0M496.4 2253.7h0M393 2389.9h0M398.7 2401h0M449.8 2300.2h0M518.2 2269.5h0M496 2273.7h0M291.9 2467.2h0M303.5 2346.9h0M464.8 2315.2h0M393 2259.4h0M350.5 2446.5h0M250.2 2409.1h0M446.3 2294.7h0M468.4 2376.6h0M299 2372h0M570.6 2345.6h0M276 2365.2h0M233.2 2400.3h0M437.6 2288.6h0M486.8 2320.3h0M259.6 2326.3h0M452.4 2358.5h0M475.4 2270.8h0M373.1 2466.8h0M344.4 2399.3h0M312.3 2377.4h0M291.1 2361.8h0M549.7 2353.4h0M475.9 2345.9h0M497 2347.6h0M449.1 2366.2h0M480 2394.6h0M267.8 2321.3h0M418.8 2257.6h0M295.6 2368.9h0M437.7 2248.2h0M320.1 2334.5h0M219.6 2452.2h0M503.6 2335.3h0M482.8 2292.9h0M301.4 2404.3h0M476.4 2325.9h0M330.4 2325.8h0M484.4 2213.5h0M291.7 2414.1h0M343.8 2309.9h0M151.7 2379.6h0M297.3 2306.5h0M403.3 2397h0M278.6 2398.9h0M317.9 2438.1h0M239.7 2320.6h0M417.3 2377.8h0M488.2 2290.6h0M349.4 2390.9h0M484 2302.1h0M527 2286.4h0M334.5 2395h0M424.4 2387.5h0M367.5 2400.7h0M427 2399.3h0M334.9 2407.3h0M516.1 2319.6h0M261.1 2404.6h0M450 2302.3h0M405.9 2247.7h0M481.2 2314.3h0M490.4 2379.9h0M370.6 2396.2h0M400.6 2267.4h0M342.4 2287.4h0M296.9 2310.2h0M238.8 2438.1h0M471.5 2326.3h0M300.7 2391.2h0M394.8 2389.9h0M425.6 2252.3h0M243.4 2422h0M377.8 2278.5h0M396.4 2417h0M250 2365.5h0M355.8 2389.1h0M268.2 2402.7h0M354.9 2317.2h0M453 2301.7h0M370.3 2419.8h0M452.3 2256.4h0M495.3 2258.3h0M384 2290.2h0M362 2254.5h0M452.4 2343.5h0M385.1 2427h0M322 2384.8h0M596.6 2320.2h0M464.5 2320.5h0M213.2 2360.4h0M552.2 2281.5h0M300.1 2403.2h0M348.4 2304.4h0M406.7 2422.2h0M275 2292.7h0M414.5 2402.4h0M306.7 2368.5h0M508.3 2232.3h0M550.8 2343.2h0M520.1 2289.8h0M393.4 2285.5h0M426.9 2376.4h0M253.8 2391.8h0M429.4 2270h0M159.8 2358.7h0M438.6 2259.8h0M258.8 2460.2h0M394.6 2402.9h0M458.7 2344.8h0M206.2 2332.9h0M256.5 2283.5h0M182.4 2449.5h0M513 2243.1h0M407.6 2424.8h0M415 2418.5h0M329.7 2298.7h0M259.9 2346.2h0M584.4 2253.9h0M265.4 2329h0M225.3 2385.6h0M350 2301.8h0M486.9 2307.7h0M539.8 2252.5h0M344 2410.5h0M597.6 2300.4h0M344.5 2440.4h0M470 2347.1h0M250.3 2445.3h0M530.9 2305.3h0M490.4 2360h0M201.3 2347h0M477.8 2318.8h0M675.7 2194.4h0M559.8 2217.7h0M463.3 2392.6h0M517.4 2286.8h0M282 2380.8h0M450.3 2281.4h0M451.2 2365.1h0M261 2372.2h0M216.2 2449.4h0M279 2388.7h0M464.1 2319.6h0M475.1 2348.2h0M484.6 2370.9h0M366.3 2439.6h0M339.4 2288.2h0M416 2278.7h0M258.4 2439.8h0M425.5 2296.9h0M457.4 2407.1h0M361 2439.3h0M292.9 2449.5h0M271.6 2393.2h0M498.2 2347.6h0M319.2 2426.6h0M235.9 2395.2h0M302.2 2353.4h0M281.4 2357.1h0M328.1 2330.4h0M308.5 2353.4h0M526.5 2295.5h0M308.5 2341.4h0M314 2399.1h0M532.7 2386.2h0M363 2302.6h0M517.3 2366.4h0M334.5 2450.9h0M298.8 2368.6h0M401.6 2255.6h0M500.1 2387.2h0M475 2276.6h0M525.4 2311.7h0M519.1 2276.3h0M532.1 2264.2h0M334.3 2415.2h0M545.5 2370.9h0M306.3 2403.1h0M385.7 2234.9h0M395.9 2301h0M314.6 2392.4h0M234 2365.1h0M444.1 2258.2h0M281.5 2278.5h0M460.7 2338.6h0M280.2 2346.7h0M332.6 2401.9h0M342.6 2298.6h0M472 2356.8h0M381.7 2284.7h0M360.3 2271.9h0M205.3 2367.2h0M341.2 2320.6h0M390.7 2398.8h0M297 2370.7h0M414.3 2447.2h0M206.4 2357.1h0M384.2 2212.3h0M252.4 2405h0M507.4 2232.2h0M297.8 2318.5h0M279.8 2369.2h0M315.9 2307.6h0M362.1 2409h0M424.7 2246.8h0M310 2388h0M369.8 2309.6h0M424.8 2422.2h0M326 2467.5h0M379.7 2290.5h0M436.8 2392.8h0M532.9 2311.5h0M337.5 2403.9h0M442.4 2358.3h0M469.7 2452.6h0M301.4 2436.2h0M605 2203.6h0M503 2293.1h0M196.3 2366.1h0M295.9 2432h0M284.5 2387.5h0M250.1 2420.4h0M463.7 2359.1h0M546.9 2272.8h0M462.4 2319.8h0M460.3 2272.4h0M337.5 2271.6h0M323.8 2451.7h0M343 2400.4h0M300.8 2335.5h0M299.7 2394h0M285.8 2280.2h0M516.9 2391.9h0M395.7 2408.1h0M412.3 2404.4h0M533.5 2243.2h0M345.5 2316.8h0M341.8 2449.6h0M437.6 2431.7h0M395.1 2423.3h0M328.8 2335.1h0M480.7 2241.3h0M227.7 2378.7h0M238.7 2404.3h0M446.6 2361.3h0M353.8 2407.7h0M482 2383h0M305.9 2391.8h0M357.7 2256.1h0M409 2382.6h0M425.3 2393.9h0M280.9 2404.5h0M289.3 2346.9h0M553.7 2235h0M325.7 2432.4h0M432.8 2406.4h0M235.7 2415.1h0M445.6 2279.4h0M504.9 2359.4h0M303.9 2342.2h0M345.9 2237.5h0M412.5 2414.9h0M337.1 2289.1h0M226.8 2393.9h0M264.8 2311.1h0M346.4 2412.6h0M236.9 2432.7h0M163.3 2445h0M574.5 2283.6h0M362.2 2413.8h0M311.6 2306.4h0M423.4 2380.7h0M513.6 2310.9h0M487.6 2286.7h0M527.8 2355.3h0M295.3 2398.6h0M341.9 2300.6h0M246.9 2283.1h0M522.9 2327.1h0M443.5 2298.7h0M450.6 2291.4h0M553.1 2303.7h0M311.2 2381.3h0M332.7 2423.9h0M323.8 2394.1h0M372.3 2430.1h0M362.9 2412.1h0M314.2 2363.7h0M481.6 2304.6h0M501.6 2391.2h0M484.3 2390.9h0M366 2275.1h0M468.1 2321.1h0M315.2 2317.9h0M515.5 2245.1h0M283.1 2290.1h0M488.9 2200.3h0M244.7 2445.3h0M487.8 2292.5h0M358.1 2501.4h0M158.1 2293h0M167.7 2447.8h0M307.2 2392.8h0M202.3 2463.8h0M557.1 2327.6h0M378.2 2259.6h0M476.8 2314.2h0M306.4 2326.6h0M396.9 2267.9h0M358.1 2402.4h0M544.5 2299.4h0M232.4 2376.8h0M584.5 2306.7h0M315.4 2380.7h0M136.2 2447.1h0M368.8 2429h0M435.4 2376.3h0M224.2 2437.3h0M440.4 2238.1h0M494.2 2305h0M469.5 2347.8h0M421.5 2290.9h0M306.2 2404.3h0M379.7 2261h0M503.6 2390.3h0M388.4 2416.4h0M172.8 2492.5h0M401.4 2291.7h0M463.6 2328.3h0M344.6 2311.1h0M432.4 2291.4h0M361 2399.8h0M485.5 2275.5h0M195.1 2379h0M501.4 2261.4h0M344 2405.4h0M469.8 2272.8h0M390.4 2404.6h0M252 2380.1h0M313.1 2406.5h0M424 2286h0M205.2 2441.1h0M498.5 2315.2h0M285.9 2441.9h0M387.1 2272.8h0M473.8 2321.4h0M473.4 2341.3h0M282.4 2465.2h0M408.8 2298.2h0M350.3 2307.9h0M381.1 2421.7h0M504.8 2342.8h0M477.2 2307.9h0M492.2 2304.8h0M345 2387.8h0M442 2372h0M466.2 2335.3h0M304.3 2418.9h0M372.6 2267.4h0M306.2 2282.2h0M348.2 2296.6h0M401.4 2393.5h0M293.4 2387.6h0M134.1 2373.9h0M558.7 2348h0M372.9 2431.1h0M449.8 2394.2h0M332.8 2398.6h0M363.7 2245h0M340.9 2325.3h0M608.9 2220.3h0M518.9 2359h0M477.5 2318.5h0M494.4 2262.6h0M442.4 2413.4h0M476.8 2398.7h0M320.6 2374.6h0M476.7 2325.8h0M406.4 2432.1h0M156.7 2495.8h0M416.4 2452.8h0M385.4 2385.6h0M348.5 2321.1h0M489.2 2317.1h0M353.2 2418.1h0M393.9 2392.1h0M259.6 2348h0M330.7 2467.5h0M322.4 2279.9h0M375.9 2417.9h0M288.9 2345.9h0M519.8 2282.3h0M370.9 2423.2h0M424.1 2260.4h0M441.8 2393.2h0M401.4 2280.8h0M491 2235.2h0M246.1 2480.8h0M349.5 2302.5h0M191.7 2400.2h0M273.3 2419.5h0M251.1 2438.1h0M541.6 2310h0M407.8 2270.5h0M380.3 2302.5h0M343.9 2317.1h0M335.1 2332.1h0M553.3 2283.9h0M377.6 2410.4h0M464.9 2356.3h0M430.8 2246.2h0M271.2 2387.3h0M442.9 2301.7h0M287.3 2432.3h0M299.7 2427.9h0M553.7 2285.5h0M512.6 2390h0M520.4 2266.7h0M423.8 2296.7h0M439.3 2238h0M455.8 2412.7h0M232 2320.2h0M377.9 2287.1h0M355.2 2391.9h0M304.7 2430.9h0M213.1 2420.9h0M458.2 2304.6h0M483.4 2365.8h0M293.6 2413h0M274.9 2413h0M519.1 2264.8h0M392.4 2281h0M305.6 2384.2h0M469.3 2339.2h0M287.1 2352.8h0M525.8 2429.5h0M398.8 2407.2h0M359 2428.1h0M613.5 2309.3h0M298.3 2400.5h0M403.4 2257.4h0M410.4 2264.4h0M291.7 2376.7h0M346.8 2439.7h0M712.5 2255.6h0M406.7 2380.1h0M334.7 2417.4h0M475.2 2340.5h0M277.6 2373.3h0M430.7 2287.4h0M324.7 2321.5h0M298.7 2387.3h0M166 2469.4h0M369 2309.5h0M323.4 2295.4h0M226.9 2397.5h0M408.4 2296.2h0M314.5 2343.7h0M478.6 2331.1h0M181.9 2474.7h0M310.2 2426.5h0M423 2377.3h0M602.9 2251h0M270.6 2401.3h0M519.4 2272.7h0M295.7 2327.8h0M343.5 2254.1h0M371.7 2297h0M424.2 2250.9h0M467.1 2299.8h0M414.1 2417.7h0M449.5 2359h0M424.6 2389h0M463.8 2360.3h0M478.3 2232.3h0M226.7 2445.9h0M444.5 2284.2h0M368.3 2243h0M367.7 2414.4h0M248.9 2457.2h0M499.6 2332h0M556.4 2262.8h0M454.6 2282h0M299.5 2405.2h0M363.2 2417.8h0M324.3 2281.5h0M571.5 2331.6h0M310.9 2338.8h0M379.1 2269.5h0M152.8 2430.4h0M459.7 2360.9h0M462.8 2291h0M230.2 2409.9h0M385.5 2402.2h0M463.5 2301.7h0M467.1 2331.5h0M275.1 2391.8h0M480.7 2280.9h0M310.6 2359.3h0M451.1 2395.5h0M232.5 2498.9h0M559.4 2312.8h0M496.9 2251.2h0M392.9 2403.8h0M505.3 2312.7h0M468.9 2272.8h0M260.5 2459.8h0M369.3 2255.1h0M505.8 2253.6h0M476.2 2359.2h0M289.1 2423.9h0M399.3 2405.1h0M417.3 2399.7h0M242.8 2295.4h0M327.9 2386.5h0M225 2441.2h0M320.9 2331.5h0M153.3 2494.1h0M317.1 2393.7h0M246.8 2381.7h0M490.1 2308.3h0M338.1 2303h0M428 2386.6h0M334.9 2396.2h0M381.2 2291.5h0M323.4 2377.2h0M395.1 2405.2h0M484.6 2409.7h0M498.4 2282.6h0M558.1 2278.5h0M350.5 2402h0M259.6 2363.4h0M430.5 2295h0M416 2413.4h0M509.7 2295.4h0M204.1 2458.8h0M197.8 2448.2h0M280 2372.3h0M365.8 2301.4h0M480 2341.5h0M468.2 2322.3h0M425.2 2270.8h0M284.4 2385.9h0M520.3 2343.5h0M348.7 2425.9h0M325 2417.6h0M480.2 2306.8h0M446.9 2388.1h0M477.3 2355.3h0M456.4 2259.5h0M543.5 2344h0M286.7 2453.6h0M469.7 2293.3h0M415.2 2382.6h0M495.3 2235.5h0M489.7 2291.2h0M503.3 2331.3h0M314.3 2432.9h0M510.7 2357.3h0M544.5 2252.1h0M184.3 2446.4h0M495.3 2320.4h0M469.8 2356h0M324.7 2304.2h0M360.6 2411.6h0M370.4 2303.2h0M371.1 2389.6h0M441.1 2283.6h0M353.3 2228.1h0M368.8 2269.8h0M206.6 2399.2h0M349.5 2428.1h0M254.7 2384.1h0M321.4 2279.8h0M288.5 2406.1h0M359.4 2414.6h0M301.2 2335h0M467.1 2316.8h0M669.8 2217h0M493.5 2354.5h0M480.4 2236.6h0M352.2 2272.2h0M314.7 2428.1h0M381.4 2390.5h0M441.3 2385.6h0M392.7 2443h0M382.6 2299.4h0M481.1 2372.3h0M273.9 2382h0M300.4 2318.2h0M283.5 2395.6h0M346.2 2402.6h0M562.1 2333.7h0M162.4 2423.5h0M391.8 2395.1h0M351.5 2246.7h0M547.5 2265.9h0M507.3 2332.1h0M313.6 2339.4h0M300.8 2415.8h0M512.5 2386.9h0M408.2 2413.4h0M554.1 2246h0M319.3 2328.6h0M250.2 2424.4h0M467.6 2252.6h0M548.2 2315.3h0M439.6 2449.6h0M362 2419h0M457.7 2407.2h0M294.2 2433.3h0M420.3 2297.6h0M305 2288h0M399.7 2385.8h0M458.5 2309.3h0M577.6 2230.4h0M329.6 2329.5h0M452.3 2376.8h0M319.9 2410.4h0M169.1 2389h0M366.7 2295.8h0M449.2 2281.9h0M413.7 2391.3h0M578.8 2244.7h0M505 2232.1h0M508.7 2289.5h0M253.9 2352.9h0M300.3 2356.9h0M297.1 2343.6h0M343 2242.3h0M306.4 2389.5h0M347.6 2404.7h0M452.6 2346.7h0M314.3 2355h0M314.6 2381.3h0M340.9 2409.3h0M366 2396.2h0M276 2368.2h0M359.8 2429.4h0M342.6 2402.5h0M468.1 2263.4h0M325.6 2387.2h0M434.5 2403.5h0M275.7 2355.8h0M332.2 2412h0M456.2 2300.9h0M466.2 2339.6h0M411.9 2439.9h0M325.3 2334.9h0M317.7 2374.9h0M344.3 2418.2h0M604.3 2313.5h0M535.5 2386.5h0M551.7 2196.6h0M471.4 2371.1h0M315.7 2409h0M317.2 2383.9h0M514.7 2237.9h0M223.2 2448.7h0M353.4 2297.2h0M357.1 2266.2h0M417.9 2269.5h0M311 2389h0M475.1 2292.9h0M222.9 2415.9h0M330.5 2283.1h0M399.3 2274.9h0M358.2 2415.2h0M461.6 2288.3h0M467.6 2341.3h0M298.3 2396.4h0M471.9 2365.9h0M465 2216.6h0M432.1 2375.7h0M295.4 2417.3h0M315.5 2429.1h0M515.5 2311.7h0M484.6 2332.7h0M436.7 2382h0M404 2293.9h0M489.6 2286h0M411.9 2265h0M447.9 2261.7h0M281.6 2436.6h0M456 2339.7h0M348.6 2407.6h0M515.7 2365.2h0M395.5 2413.9h0M371.2 2245.6h0M598.5 2304.5h0M298.3 2299.2h0M311.7 2460h0M416.7 2391.8h0M260 2336.1h0M322.8 2421.5h0M484.2 2313.1h0M525 2249.4h0M541.5 2244.8h0M388.4 2424h0M284 2346.8h0M180.7 2456.1h0M274.7 2388.7h0M296.3 2366.6h0M312.8 2480.7h0M393 2409.7h0M477.7 2285.8h0M515.2 2376.2h0M445.3 2254.5h0M420.9 2391.8h0M330.5 2316.1h0M371.1 2408.4h0M327.8 2273.5h0M313.1 2340.6h0M402 2287.8h0M362.3 2402.9h0M330.9 2417.1h0M612.1 2266.7h0M358.8 2297.5h0M484.5 2237.7h0M370.8 2295.3h0M464.8 2354.6h0M397.8 2278.8h0M466.9 2284h0M312.3 2386.5h0M381.1 2420.3h0M487.5 2353.5h0M338.8 2452.3h0M470.4 2302.3h0M364.8 2301.6h0M464.4 2370.2h0M379.7 2436.6h0M363.9 2288.5h0M313.9 2333h0M255.9 2406h0M468.4 2239.8h0M426 2299.9h0M535.8 2418.8h0M238.6 2306h0M600.6 2250.9h0M444.7 2297.6h0M471.7 2293.3h0M302.6 2309.3h0M155.1 2418.8h0M548.9 2349.4h0M285.4 2406.6h0M422.9 2299.1h0M325.9 2398.2h0M398 2410.5h0M445.8 2378.9h0M341 2391.5h0M355 2407.8h0M364.2 2421.8h0M433.1 2301.8h0M309.8 2420.6h0M367.8 2399.1h0M285.1 2374.2h0M316.5 2374.7h0M326.9 2389.4h0M451.9 2357.4h0M490.9 2371.3h0M371.8 2291.2h0M591.4 2276.6h0M282.1 2390.3h0M350.1 2397.6h0M489.8 2353.4h0M532.6 2261.3h0M441.8 2359.7h0M342.9 2459.9h0M428.5 2407.9h0M198.2 2387.6h0M479.2 2471.2h0M497.3 2330.2h0M372.7 2428.1h0M300.6 2342.9h0M373.3 2257.6h0M463.2 2388.2h0M345.2 2418.2h0M267.2 2421h0M481.3 2316.2h0M380 2258.5h0M541 2281h0M438.3 2428.7h0M376 2237.3h0M317.9 2332.3h0M491.3 2334.5h0M515.6 2250.1h0M385.6 2224.1h0M366.2 2398.4h0M462.9 2400.9h0M266.3 2425.7h0M318.9 2298.4h0M391.1 2291.4h0M384.5 2439h0M340.8 2307.1h0M508.2 2313.4h0M201.1 2320.8h0M371.8 2229.9h0M351 2312.4h0M333.5 2300.2h0M485.6 2368.7h0M497.3 2175h0M367.2 2414.2h0M257.9 2441.9h0M407.3 2416.4h0M478.8 2297.7h0M370.9 2286.6h0M307 2342h0M270.2 2402.9h0M441 2357.6h0M516.6 2244.1h0M262.3 2306.5h0M546.7 2401.8h0M460.7 2327.4h0M382.9 2294.1h0M442.1 2300.1h0M512.2 2254.6h0M442.6 2421.9h0M341.5 2398.4h0M596.8 2245.3h0M420.6 2229.2h0M491.4 2275.1h0M465.2 2265.2h0M355 2391.7h0M471.8 2372.8h0M340.4 2429.4h0M557 2255.2h0M404.8 2402.6h0M298 2409.5h0M388.9 2410.3h0M366.7 2296.6h0M207.1 2420.9h0M267.8 2391.5h0M298.6 2404.6h0M249.8 2398.4h0M463.7 2365.3h0M413.7 2414.3h0M352.9 2317.3h0M311.1 2371.6h0M529.8 2304h0M290.1 2324.7h0M230.8 2491.6h0M256.2 2319.5h0M411 2382.9h0M484.4 2246.4h0M314 2349.5h0M245.5 2377.1h0M541 2368h0M409.9 2298.5h0M429.8 2284.4h0M472.6 2267.9h0M354.1 2401h0M552.9 2281.2h0M389.9 2450.9h0M511.7 2324h0M365.8 2304.9h0M530.1 2317.7h0M441.7 2408.3h0M494.3 2299h0M476.9 2220.3h0M403.2 2383.8h0M440.5 2294.1h0M412.1 2401.9h0M409.3 2385.2h0M367.5 2414.2h0M467.1 2386.1h0M465.6 2257.4h0M481.9 2305h0M378.4 2267.2h0M358.9 2432.8h0M298 2437.5h0M554.6 2289.3h0M452.4 2356.5h0M257.2 2400.1h0M500.1 2345.1h0M233.9 2407.4h0M297.4 2393.5h0M339.9 2321.6h0M381.8 2455h0M219.9 2377.5h0M460.6 2282.7h0M379.8 2438.7h0M503.3 2328.3h0M338.4 2402.9h0M472.7 2279.1h0M231 2340.8h0M307.9 2446.7h0M250.7 2429h0M583.2 2161h0M280.4 2416.7h0M345.6 2440h0M351.1 2394.1h0M233.8 2392h0M261.6 2474.7h0M515.1 2261.8h0M509.2 2303.8h0M270 2351.1h0M227.3 2406.6h0M524.5 2233.9h0M460.6 2342.6h0M402.8 2293.1h0M329.6 2481.1h0M180.1 2460.9h0M268.6 2355.3h0M477.7 2319.8h0M351.8 2302.6h0M487.8 2268.5h0M300.2 2371h0M170.9 2459.7h0M304.1 2387.8h0M523 2316.3h0M330.9 2390.9h0M285 2358.7h0M302.4 2332.3h0M463.6 2296.5h0M474.6 2325h0M236.6 2401.3h0M440.6 2407.3h0M282.3 2329.8h0M423.5 2271.7h0M422.8 2296.2h0M591.5 2320.3h0M257.2 2454.6h0M475.4 2340.4h0M409.9 2412.7h0M478.8 2289.1h0M278.9 2431.6h0M434.8 2275.4h0M481.1 2433.9h0M340.6 2412h0M298.3 2350.6h0M453.2 2355.8h0M466.3 2368.9h0M536.9 2364.3h0M361.8 2410.4h0M389.7 2284.1h0M322.1 2283.5h0M507.1 2291.5h0M336 2321.7h0M141.6 2466.4h0M468.7 2324.7h0M599.2 2313.4h0M272.3 2397.1h0M436 2250h0M235.3 2390.8h0M494.7 2347.3h0M347.3 2421.5h0M452.2 2287.5h0M471.5 2327.8h0M447.9 2289.4h0M498.1 2288.1h0M253.2 2479h0M525.5 2297.6h0M295.9 2407.3h0M320.7 2322h0M239.7 2259.7h0M293 2298.3h0M443.9 2413.4h0M280.8 2380.8h0M287.7 2378.6h0M582.6 2317.5h0M298.8 2345.3h0M502.6 2260.5h0M420.9 2285h0M368.9 2267.2h0M279.8 2285.6h0M321.9 2280.2h0M491.7 2270.5h0M567.2 2379.1h0M374.3 2418.5h0M570.8 2243.7h0M387.8 2405.5h0M623.5 2305.8h0M430.2 2269.7h0M296.4 2412.7h0M401.6 2405.2h0M333 2298.6h0M383.5 2403.5h0M455.3 2390.2h0M498.4 2329.8h0M438.6 2379.9h0M621.1 2177.6h0M656.6 2193.6h0M566.2 2316.7h0M560.4 2308.8h0M398.1 2424.4h0M396.6 2409.8h0M512.8 2245.8h0M393.5 2297.9h0M522.8 2355.6h0M399.8 2453.8h0M279.4 2361.6h0M298.1 2356.8h0M447.6 2448.2h0M345.4 2271.8h0M318.9 2468.6h0M211.8 2240h0M381.7 2401.4h0M417.4 2452.1h0M573.1 2175.2h0M313 2355.4h0M295 2330h0M302.2 2387.4h0M562.2 2250.6h0M364.4 2446.9h0M210.9 2340.5h0M466.1 2314.3h0M556.3 2275.4h0M315.8 2380h0M706.4 2193.5h0M321.4 2431.4h0M175.8 2453.5h0M289.8 2505.4h0M570.9 2203.8h0M286.3 2261.4h0M484.2 2463.1h0M406.4 2400.1h0M192 2435.5h0M544.1 2262h0M226.1 2447h0M311.5 2306.3h0M391.9 2404.4h0M292.7 2501.1h0M300.9 2325.2h0M170.9 2416h0M389.9 2296.9h0M264.2 2338h0M205.2 2416.7h0M283.1 2334.1h0M287.1 2419.2h0M492.6 2299.8h0M310.5 2301h0M466.8 2255.7h0M382 2271.8h0M346.6 2429.8h0M402.6 2425.8h0M556.5 2239.9h0M198 2407.2h0M507 2324.2h0M454.2 2357.6h0M462.4 2377.7h0M265.2 2372.6h0M341.6 2443.4h0M493.5 2291.5h0M492.7 2328.4h0M359.2 2281.1h0M196.3 2312.9h0M466.1 2321.3h0M308.8 2359.5h0M286.4 2496.5h0M482.3 2278.1h0M488.8 2261.5h0M273.9 2315.6h0M730.8 2253.6h0M248.9 2357.1h0M515.2 2238.3h0M590.9 2355.3h0M449.1 2296h0M556 2338.4h0M384.4 2455.3h0M317.9 2412.6h0M296.4 2283.8h0M516.3 2310.4h0M284.1 2356.8h0M329.5 2278.6h0M538.7 2298.3h0M477.9 2361.7h0M208.9 2362.3h0M603.3 2285.2h0M338.4 2474h0M665.9 2316.2h0M284.1 2397.3h0M551.3 2282.9h0M506.7 2304.9h0M266.7 2310.4h0M317.8 2453h0M503.2 2393.2h0M247.4 2388.4h0M449.6 2390.5h0M263.8 2382.4h0M385.1 2446.1h0M295.3 2291.3h0M273 2325.9h0M215.1 2321h0M598.9 2306.9h0M319.2 2334.3h0M250.8 2364.5h0M551.9 2269.9h0M525.5 2345.4h0M597.5 2270.3h0M362.8 2455.4h0M555 2382.7h0M387.1 2388.8h0M256 2395.7h0M309.6 2323.2h0M466.3 2338.3h0M418.3 2394.2h0M274.1 2433.9h0M395.8 2395h0M351.2 2412.7h0M431.1 2399.8h0M520.2 2342.6h0M263 2483.8h0M495.3 2344.8h0M523.2 2301.4h0M368.9 2466.8h0M319.7 2324.4h0M327.9 2328.1h0M201.3 2354.7h0M441.8 2401.7h0M338 2405.2h0M425.2 2455.5h0M296.8 2332.8h0M420.4 2289.8h0M506.9 2372.1h0M237.7 2374.6h0M303 2316.7h0M463.1 2249.7h0M359.2 2315.6h0M395.2 2401.2h0M392.6 2445.6h0M487.4 2373.8h0M240.1 2446.2h0M149.2 2475.3h0M722.3 2213.7h0M309.6 2417.3h0M618.6 2331.7h0M312.8 2418.5h0M197.2 2468.8h0M561.3 2196.5h0M458.7 2313.9h0M385.7 2274h0M471.9 2329.3h0M373.8 2295.5h0M329.9 2412h0M556.7 2262.5h0M575.3 2250.5h0M656.9 2191.7h0M499 2276.1h0M594.3 2362.3h0M405.9 2426.3h0M276.6 2424.8h0M322.9 2429.9h0M216.8 2341.6h0M363.3 2297.6h0M329.7 2315.2h0M270.8 2306.1h0M455.2 2258.2h0M368.4 2276.6h0M291.4 2455.2h0M418.3 2292.6h0M366.8 2303.8h0M596.1 2346.2h0M433.8 2388.3h0M504.9 2270.5h0M481.5 2202.2h0M357.7 2291.9h0M579.1 2246h0M541.7 2272.5h0M557.8 2207.9h0M594.5 2219.7h0M533 2224.8h0M445.8 2277.8h0M518.4 2245.4h0M530.6 2264.6h0M608.2 2217.8h0M509.5 2251h0M557 2255.2h0M469.9 2258h0M582.5 2231.9h0M547.5 2210.5h0M532.3 2272.1h0M550.2 2236.6h0M526.6 2226.9h0M510.2 2257h0M467.1 2267.1h0M553.3 2242.1h0M507.5 2253.3h0M479.1 2255.1h0M543.9 2214.9h0M573.5 2206.1h0M621.2 2190.6h0M510 2218.1h0M480.9 2307.6h0M596 2229.8h0M543 2257.5h0M516.8 2254.3h0M509.1 2270.7h0M547.6 2256.4h0M538.3 2233.8h0M528.4 2262h0M590.9 2198.8h0M619.3 2194.6h0M529.9 2196.1h0M550.4 2249.2h0M609 2216.4h0M547.3 2258.1h0M466.4 2300.5h0M502.3 2256h0M570.3 2213.4h0M557.4 2248.3h0M529.8 2226.3h0M574.2 2267.9h0M543.4 2248.5h0M525.2 2258.3h0M536.8 2246.1h0M522.9 2274h0M503.7 2238.9h0M524 2260.6h0M468.3 2243.7h0M536 2275.3h0M584 2251.3h0M553 2225.1h0M490.2 2267.4h0M532 2214.4h0M592 2246.9h0M452.3 2259h0M577.2 2214.5h0M593.1 2208.3h0M561.3 2197.1h0M578.6 2188.7h0M557.4 2252.8h0M522.4 2212.7h0M583.4 2216.5h0M506.3 2269.2h0M479.4 2258.6h0M556.6 2223.7h0M507.2 2263.3h0M534.2 2243.3h0M511.6 2241.4h0M448.2 2255h0M543.4 2214.4h0M604.4 2205.2h0M527.8 2240.1h0M502.1 2283.9h0M496.7 2252.9h0M505.1 2296.8h0M491.1 2252.6h0M109.8 2540.8h0M114.5 2508.3h0M208.7 2548.1h0M168.9 2493.2h0M162.1 2414.2h0M191.4 2382.3h0M186.7 2389.1h0M188.3 2426.2h0M184.1 2446.6h0M194 2472.8h0M200.8 2483.7h0M202.9 2493.7h0M233.8 2479.6h0M263 2491.6h0M263 2499.4h0M308.5 2505.7h0M361.9 2495.8h0M415.8 2506.8h0M476.9 2486.9h0M505.7 2449.2h0M503.6 2464.9h0M516.2 2428.8h0M542.8 2418.4h0M563.2 2382.8h0M570 2375h0M617.1 2321.6h0M609.2 2296.5h0M605.1 2288.7h0M635.4 2239h0M618.7 2245.8h0M609.2 2233.8h0M533.4 2160.6h0M523 2165.8h0M543.9 2163.2h0M536 2178.9h0M575.3 2181.5h0M585.7 2184.1h0M577.9 2189.3h0M491.6 2184.1h0M462.8 2188.3h0M434.1 2183h0M384.4 2199.8h0M355.6 2231.2h0M334.7 2246.8h0M291.3 2262.5h0M266.7 2288.7h0M285 2301.8h0M235.3 2326.9h0M240.6 2342.5h0M241.6 2348.8h0M224.9 2368.2h0M211.8 2385.4h0M761.9 1985.9h0M754.6 2024.1h0M717.5 2049.7h0M746.8 2065.9h0M720.6 2093.1h0M759.9 2075.3h0M675.7 2084.2h0M639.1 2085.8h0M633.3 2096.8h0M696.1 2117.7h0M669.4 2129.2h0M682.5 2124h0M649 2136h0M722.7 2139.6h0M593.6 2139.6h0M649 2152.7h0M499.4 2154.8h0M554.9 2150.6h0M596.7 2151.7h0M674.6 2155.9h0M745.7 2148h0M447.1 2174.7h0M601.4 2170.5h0M628.1 2170h0M667.8 2180.4h0M715.4 2192.5h0M678.3 2200.3h0M637 2219.1h0M678.8 2219.7h0M669.4 2267.2h0M640.1 2296h0M322.7 2231.2h0M246.8 2245.3h0M250.5 2253.1h0M265.7 2254.2h0M207.6 2309.6h0M585.2 2445.6h0M440.9 2537.1h0M699.2 2565.3h0M567.4 2608.7h0" stroke="#000" stroke-width="6.3" stroke-linecap="round" fill="none"/>
<rect x="83.5" y="1961.1" width="704.5" height="672.4" fill="none" stroke="#000" stroke-width="3.6"/>
<path d="M115.8 2634.5v4.6" stroke="#000" stroke-width="3"/>
<text x="115.8" y="2671" font-size="24" text-anchor="middle">-2</text>
<path d="M259.1 2634.5v4.6" stroke="#000" stroke-width="3"/>
<text x="259.1" y="2671" font-size="24" text-anchor="middle">-1</text>
<path d="M402.4 2634.5v4.6" stroke="#000" stroke-width="3"/>
<text x="402.4" y="2671" font-size="24" text-anchor="middle">0</text>
<path d="M545.7 2634.5v4.6" stroke="#000" stroke-width="3"/>
<text x="545.7" y="2671" font-size="24" text-anchor="middle">1</text>
<path d="M689 2634.5v4.6" stroke="#000" stroke-width="3"/>
<text x="689" y="2671" font-size="24" text-anchor="middle">2</text>
<path d="M82.5 2551.3h-4.6" stroke="#000" stroke-width="3"/>
<text x="70" y="2559.7" font-size="24" text-anchor="end">-2</text>
<path d="M82.5 2446.4h-4.6" stroke="#000" stroke-width="3"/>
<text x="70" y="2454.8" font-size="24" text-anchor="end">-1</text>
<path d="M82.5 2341.5h-4.6" stroke="#000" stroke-width="3"/>
<text x="70" y="2349.9" font-size="24" text-anchor="end">0</text>
<path d="M82.5 2236.6h-4.6" stroke="#000" stroke-width="3"/>
<text x="70" y="2245" font-size="24" text-anchor="end">1</text>
<path d="M82.5 2131.7h-4.6" stroke="#000" stroke-width="3"/>
<text x="70" y="2140.1" font-size="24" text-anchor="end">2</text>
<path d="M82.5 2026.8h-4.6" stroke="#000" stroke-width="3"/>
<text x="70" y="2035.2" font-size="24" text-anchor="end">3</text>
<g font-size="16">
<text x="712.8" y="1984.4" textLength="42.9" lengthAdjust="spacingAndGlyphs">XCL2</text>
<text x="725.9" y="2023.1" textLength="23" lengthAdjust="spacingAndGlyphs">IL3</text>
<text x="677.2" y="2042.5" textLength="41.8" lengthAdjust="spacingAndGlyphs">XCL1</text>
<text x="731.1" y="2057.1" textLength="41.8" lengthAdjust="spacingAndGlyphs">CCL1</text>
<text x="723.3" y="2092.7" textLength="59.1" lengthAdjust="spacingAndGlyphs">CRTAM</text>
<text x="721.7" y="2111.5" textLength="48.1" lengthAdjust="spacingAndGlyphs">XIRP1</text>
<text x="648.5" y="2077" textLength="39.7" lengthAdjust="spacingAndGlyphs">IFNG</text>
<text x="607.7" y="2088" textLength="20.9" lengthAdjust="spacingAndGlyphs">C3</text>
<text x="583.1" y="2104.7" textLength="42.9" lengthAdjust="spacingAndGlyphs">CCL4</text>
<text x="655.3" y="2104.7" textLength="49.7" lengthAdjust="spacingAndGlyphs">RGCC</text>
<text x="564.3" y="2121.4" textLength="52.8" lengthAdjust="spacingAndGlyphs">CD200</text>
<text x="620.8" y="2119.4" textLength="57" lengthAdjust="spacingAndGlyphs">DUSP2</text>
<text x="619.2" y="2132.4" textLength="49.2" lengthAdjust="spacingAndGlyphs">SMOX</text>
<text x="712.8" y="2135.6" textLength="54.9" lengthAdjust="spacingAndGlyphs">CXCL8</text>
<text x="518.3" y="2137.7" textLength="68.5" lengthAdjust="spacingAndGlyphs">MIR6821</text>
<text x="657.9" y="2146.5" textLength="61.7" lengthAdjust="spacingAndGlyphs">CCL4L2</text>
<text x="486.4" y="2151.8" textLength="62.8" lengthAdjust="spacingAndGlyphs">BCL2A1</text>
<text x="564.8" y="2155.4" textLength="26.1" lengthAdjust="spacingAndGlyphs">ID3</text>
<text x="604" y="2157" textLength="47.1" lengthAdjust="spacingAndGlyphs">LRIG1</text>
<text x="666.8" y="2169.6" textLength="46.5" lengthAdjust="spacingAndGlyphs">WNT1</text>
<text x="719.1" y="2168.5" textLength="54.9" lengthAdjust="spacingAndGlyphs">ZBED2</text>
<text x="452.9" y="2173.2" textLength="41.8" lengthAdjust="spacingAndGlyphs">TCF7</text>
<text x="534.5" y="2172.7" textLength="61.7" lengthAdjust="spacingAndGlyphs">CCL3L3</text>
<text x="609.2" y="2171.1" textLength="22.5" lengthAdjust="spacingAndGlyphs">IL2</text>
<text x="604" y="2189.4" textLength="61.2" lengthAdjust="spacingAndGlyphs">STAT5A</text>
<text x="713.8" y="2185.8" textLength="76.9" lengthAdjust="spacingAndGlyphs">TNFRSF9</text>
<text x="691.4" y="2207.2" textLength="53.9" lengthAdjust="spacingAndGlyphs">INSIG1</text>
<text x="596.2" y="2220.3" textLength="57.5" lengthAdjust="spacingAndGlyphs">KDM6B</text>
<text x="691.4" y="2233.9" textLength="46" lengthAdjust="spacingAndGlyphs">EPOP</text>
<text x="684" y="2282" textLength="42.9" lengthAdjust="spacingAndGlyphs">SPP1</text>
<text x="646.9" y="2310.8" textLength="52.8" lengthAdjust="spacingAndGlyphs">FABP5</text>
<text x="240.6" y="2222.4" textLength="94.1" lengthAdjust="spacingAndGlyphs">AC048334.1</text>
<text x="149" y="2236.5" textLength="91.5" lengthAdjust="spacingAndGlyphs">AL022718.1</text>
<text x="193.5" y="2253.8" textLength="41.8" lengthAdjust="spacingAndGlyphs">EYA3</text>
<text x="192.4" y="2274.7" textLength="62.2" lengthAdjust="spacingAndGlyphs">NFE2L3</text>
<text x="149" y="2310.8" textLength="52.8" lengthAdjust="spacingAndGlyphs">USP34</text>
<text x="596.2" y="2460.3" textLength="83.7" lengthAdjust="spacingAndGlyphs">MIR3687-2</text>
<text x="447.7" y="2551.8" textLength="94.1" lengthAdjust="spacingAndGlyphs">AC133555.4</text>
<text x="649.5" y="2557.6" textLength="90.5" lengthAdjust="spacingAndGlyphs">MTCO2P12</text>
<text x="515.1" y="2599.9" textLength="94.7" lengthAdjust="spacingAndGlyphs">AC008750.5</text>
</g>
<text x="230" y="2709" font-size="26"><tspan textLength="138" lengthAdjust="spacingAndGlyphs">Enrichment </tspan><tspan textLength="29" lengthAdjust="spacingAndGlyphs">Ag</tspan><tspan font-size="14" dy="-8">+</tspan><tspan dy="8" textLength="36.5" lengthAdjust="spacingAndGlyphs">/Ag</tspan><tspan font-size="14" dy="-8">-</tspan><tspan dy="8" textLength="161.5" lengthAdjust="spacingAndGlyphs"> experiment 1</tspan></text>
<text transform="translate(31.5 2448) rotate(-90)" font-size="26"><tspan textLength="138" lengthAdjust="spacingAndGlyphs">Enrichment </tspan><tspan textLength="29" lengthAdjust="spacingAndGlyphs">Ag</tspan><tspan font-size="14" dy="-8">+</tspan><tspan dy="8" textLength="36.5" lengthAdjust="spacingAndGlyphs">/Ag</tspan><tspan font-size="14" dy="-8">-</tspan><tspan dy="8" textLength="161.5" lengthAdjust="spacingAndGlyphs"> experiment 2</tspan></text>
<text x="-1.5" y="32" font-size="39.5">a</text>
<text x="894" y="32" font-size="39.5">b</text>
<text x="-1" y="969.5" font-size="39.5">c</text>
<text x="834.5" y="934.7" font-size="39.5">d</text>
<text x="-1" y="1452.5" font-size="39.5">e</text>
<text x="834.5" y="1371.3" font-size="39.5">f</text>
<text x="834.5" y="1650.2" font-size="39.5">g</text>
<text x="1580.5" y="1649.7" font-size="39.5">h</text>
<text x="1" y="1964.5" font-size="39.5">i</text>
</svg>
</body></html>
